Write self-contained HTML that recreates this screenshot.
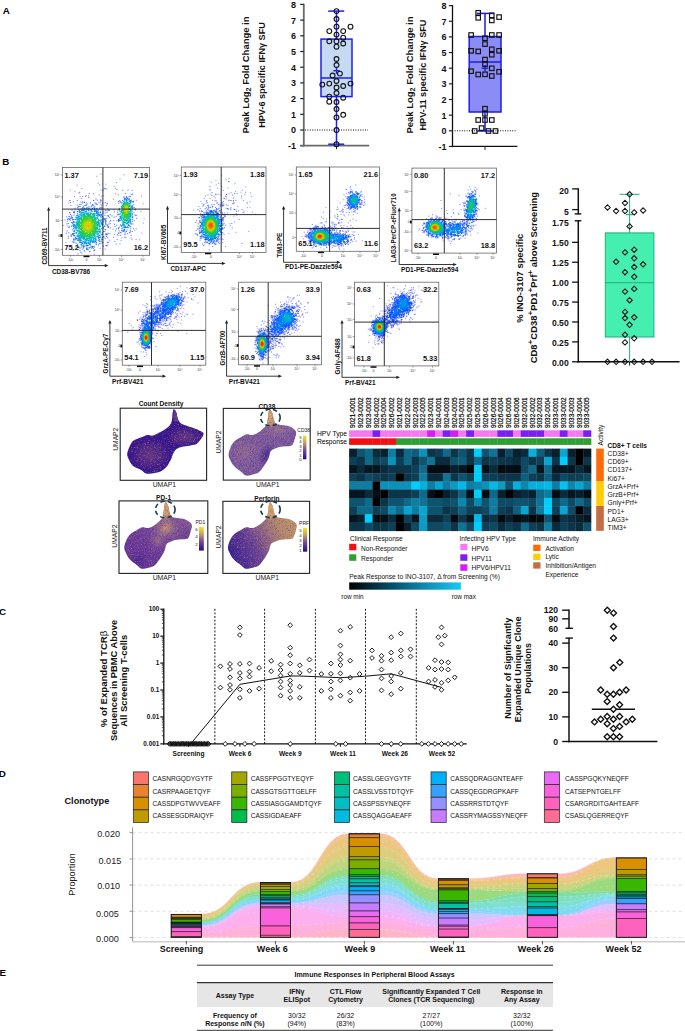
<!DOCTYPE html>
<html><head><meta charset="utf-8"><title>Figure</title>
<style>
html,body{margin:0;padding:0;background:#fff;}
body{width:685px;height:1031px;overflow:hidden;}
svg{display:block;font-family:"Liberation Sans", sans-serif;}
</style></head><body>
<svg width="685" height="1031" viewBox="0 0 685 1031">
<defs><filter id="spk" x="0" y="0" width="100%" height="100%" color-interpolation-filters="sRGB"><feTurbulence type="fractalNoise" baseFrequency="1.7" numOctaves="1" seed="3"/><feColorMatrix type="matrix" values="0 0 0 0 0.86  0 0 0 0 0.6  0 0 0 0 0.4  0 0 0 3 -1.55"/></filter><filter id="spk2" x="0" y="0" width="100%" height="100%" color-interpolation-filters="sRGB"><feTurbulence type="fractalNoise" baseFrequency="1.6" numOctaves="1" seed="9"/><feColorMatrix type="matrix" values="0 0 0 0 0.2  0 0 0 0 0.08  0 0 0 0 0.5  0 0 0 3 -1.55"/></filter><linearGradient id="cbar" x1="0" y1="0" x2="0" y2="1"><stop offset="0" stop-color="#f4e61e"/><stop offset="0.3" stop-color="#c9a064"/><stop offset="0.6" stop-color="#7a4a98"/><stop offset="1" stop-color="#20108a"/></linearGradient><radialGradient id="cdA" cx="0.5" cy="0.5" r="0.5"><stop offset="0" stop-color="#6a3a86" stop-opacity="1"/><stop offset="0.7" stop-color="#48228a" stop-opacity="0.8"/><stop offset="1" stop-color="#3a1890" stop-opacity="0"/></radialGradient><clipPath id="uc1"><path d="M174.4 409.4C175.0 409.8 175.8 411.2 176.4 412.8C177.0 414.4 177.0 417.0 177.8 418.8C178.6 420.6 179.4 422.3 181.1 423.5C182.8 424.7 185.3 425.3 187.8 426.2C190.3 427.1 193.4 427.9 195.9 428.9C198.4 429.9 201.4 431.2 202.6 432.2C203.8 433.2 203.8 433.5 203.3 434.9C202.9 436.2 201.1 438.7 199.9 440.3C198.7 441.9 197.7 443.4 195.9 444.3C194.1 445.2 191.7 445.2 189.2 445.7C186.7 446.1 183.3 446.3 181.1 447.0C178.8 447.7 177.0 448.6 175.7 449.7C174.4 450.8 173.8 452.4 173.1 453.7C172.4 455.0 172.3 456.3 171.7 457.7C171.1 459.1 170.6 460.2 169.7 461.8C168.8 463.4 167.8 465.5 166.3 467.1C164.9 468.7 163.2 470.2 161.0 471.2C158.8 472.2 155.4 472.8 152.9 473.2C150.4 473.6 148.2 474.2 146.2 473.6C144.2 473.0 143.0 471.1 140.8 469.8C138.6 468.5 134.9 467.8 132.8 465.8C130.7 463.8 129.0 459.9 128.1 457.7C127.2 455.5 126.9 454.8 127.4 452.4C128.0 449.9 130.1 445.1 131.4 443.0C132.8 440.9 133.7 440.6 135.5 439.6C137.3 438.6 140.2 437.7 142.2 436.9C144.2 436.1 145.7 435.1 147.5 434.9C149.3 434.7 151.1 435.9 152.9 435.6C154.7 435.3 156.5 433.8 158.3 432.9C160.1 432.0 161.9 431.3 163.7 430.2C165.5 429.1 167.7 427.6 169.0 426.2C170.3 424.8 171.1 423.4 171.7 421.5C172.3 419.6 172.2 416.6 172.4 414.8C172.6 413.0 172.8 411.4 173.1 410.5C173.4 409.6 173.8 409.0 174.4 409.4Z"/></clipPath><linearGradient id="g38" x1="0" y1="0" x2="1" y2="1"><stop offset="0" stop-color="#7e5c9e"/><stop offset="0.6" stop-color="#7a58a0"/><stop offset="1" stop-color="#5a3a96"/></linearGradient><radialGradient id="gold" cx="0.5" cy="0.5" r="0.5"><stop offset="0" stop-color="#c8a070" stop-opacity="0.95"/><stop offset="1" stop-color="#a88090" stop-opacity="0"/></radialGradient><radialGradient id="gtip" cx="0.5" cy="0.4" r="0.6"><stop offset="0" stop-color="#dcaa66" stop-opacity="1"/><stop offset="0.6" stop-color="#d0a070" stop-opacity="0.85"/><stop offset="1" stop-color="#c09080" stop-opacity="0"/></radialGradient><radialGradient id="dark" cx="0.5" cy="0.5" r="0.5"><stop offset="0" stop-color="#3a1a90" stop-opacity="0.9"/><stop offset="1" stop-color="#3a1a90" stop-opacity="0"/></radialGradient><clipPath id="uc2"><path d="M270.4 409.5C271.0 410.1 272.0 412.2 272.6 413.9C273.2 415.6 273.3 418.2 273.9 419.8C274.4 421.4 274.7 422.8 275.9 423.7C277.1 424.6 278.9 424.6 281.1 425.0C283.3 425.4 286.8 425.5 289.0 426.3C291.2 427.1 293.1 428.5 294.3 429.6C295.5 430.7 296.1 431.5 296.2 432.9C296.3 434.3 295.4 436.3 294.9 438.2C294.3 440.1 293.7 442.8 292.9 444.1C292.1 445.4 292.3 445.6 290.3 446.0C288.3 446.4 283.7 446.2 281.1 446.7C278.5 447.1 276.4 447.9 274.6 448.7C272.9 449.5 271.6 449.8 270.6 451.3C269.6 452.8 269.7 455.5 268.6 457.9C267.5 460.3 265.6 463.4 264.0 465.8C262.4 468.2 260.6 470.9 258.8 472.3C257.1 473.7 255.6 473.8 253.5 474.3C251.4 474.9 248.3 475.9 246.3 475.6C244.3 475.3 243.8 473.9 241.7 472.3C239.6 470.7 235.8 468.0 233.8 465.8C231.8 463.6 230.8 461.2 229.9 459.2C229.0 457.2 228.4 456.1 228.6 453.9C228.8 451.7 230.1 448.2 231.2 446.0C232.3 443.8 233.3 442.3 235.1 440.8C236.8 439.3 239.8 437.9 241.7 436.8C243.6 435.7 244.6 434.5 246.3 434.2C248.1 433.9 250.4 435.0 252.2 434.9C253.9 434.8 255.3 434.4 256.8 433.6C258.3 432.8 260.0 431.5 261.4 430.3C262.8 429.1 264.4 427.6 265.4 426.3C266.4 425.0 266.8 424.1 267.3 422.4C267.8 420.6 267.9 417.8 268.2 415.8C268.5 413.8 268.6 411.7 269.0 410.6C269.4 409.6 269.8 408.9 270.4 409.5Z"/></clipPath><linearGradient id="gpd" x1="0" y1="1" x2="0.8" y2="0"><stop offset="0" stop-color="#5a2c98"/><stop offset="0.45" stop-color="#6e3e9c"/><stop offset="1" stop-color="#8a6494"/></linearGradient><clipPath id="uc3"><path d="M166.2 502.4C166.8 503.0 167.8 505.1 168.4 506.8C168.9 508.5 169.1 511.1 169.7 512.7C170.2 514.4 170.5 515.8 171.7 516.7C172.9 517.5 174.7 517.5 176.9 518.0C179.1 518.4 182.6 518.5 184.8 519.3C187.0 520.0 188.9 521.5 190.1 522.6C191.3 523.7 191.9 524.5 192.0 525.9C192.1 527.3 191.2 529.4 190.7 531.2C190.1 533.1 189.5 535.9 188.7 537.2C187.9 538.5 188.1 538.6 186.1 539.1C184.1 539.5 179.5 539.3 176.9 539.8C174.3 540.2 172.1 541.0 170.4 541.8C168.6 542.5 167.4 542.8 166.4 544.4C165.4 545.9 165.5 548.6 164.4 551.0C163.3 553.4 161.4 556.5 159.8 559.0C158.1 561.4 156.3 564.1 154.5 565.5C152.8 566.9 151.3 566.9 149.2 567.5C147.2 568.0 144.0 569.1 142.0 568.8C140.1 568.5 139.5 567.1 137.4 565.5C135.3 563.8 131.5 561.1 129.5 559.0C127.5 556.8 126.5 554.3 125.6 552.3C124.7 550.3 124.1 549.2 124.3 547.0C124.5 544.8 125.8 541.3 126.9 539.1C128.0 536.9 129.1 535.4 130.8 533.8C132.6 532.3 135.5 530.9 137.4 529.8C139.3 528.7 140.3 527.5 142.0 527.2C143.8 526.9 146.2 528.0 147.9 527.9C149.7 527.8 151.0 527.4 152.5 526.6C154.1 525.8 155.7 524.5 157.1 523.3C158.6 522.1 160.2 520.6 161.2 519.3C162.1 518.0 162.6 517.1 163.1 515.4C163.5 513.6 163.7 510.7 164.0 508.7C164.2 506.8 164.4 504.6 164.8 503.5C165.1 502.5 165.6 501.8 166.2 502.4Z"/></clipPath><linearGradient id="gprf" x1="0" y1="0.7" x2="1" y2="0.3"><stop offset="0" stop-color="#2a1890"/><stop offset="0.35" stop-color="#6a4298"/><stop offset="0.65" stop-color="#b08870"/><stop offset="1" stop-color="#c8a068"/></linearGradient><clipPath id="uc4"><path d="M270.6 502.4C271.2 503.0 272.3 505.1 272.8 506.8C273.4 508.5 273.6 511.1 274.2 512.7C274.7 514.4 275.0 515.8 276.2 516.7C277.4 517.5 279.3 517.5 281.5 518.0C283.7 518.4 287.3 518.5 289.6 519.3C291.8 520.0 293.7 521.5 295.0 522.6C296.2 523.7 296.8 524.5 296.9 525.9C297.0 527.3 296.1 529.4 295.6 531.2C295.0 533.1 294.3 535.9 293.5 537.2C292.8 538.5 292.9 538.6 290.9 539.1C288.9 539.5 284.2 539.3 281.5 539.8C278.8 540.2 276.7 541.0 274.9 541.8C273.1 542.5 271.8 542.8 270.8 544.4C269.8 545.9 269.9 548.6 268.8 551.0C267.6 553.4 265.7 556.5 264.1 559.0C262.4 561.4 260.6 564.1 258.8 565.5C257.0 566.9 255.5 566.9 253.4 567.5C251.3 568.0 248.0 569.1 246.0 568.8C244.0 568.5 243.5 567.1 241.4 565.5C239.2 563.8 235.3 561.1 233.3 559.0C231.3 556.8 230.2 554.3 229.3 552.3C228.4 550.3 227.8 549.2 228.0 547.0C228.2 544.8 229.5 541.3 230.7 539.1C231.8 536.9 232.8 535.4 234.6 533.8C236.4 532.3 239.4 530.9 241.4 529.8C243.3 528.7 244.3 527.5 246.0 527.2C247.8 526.9 250.3 528.0 252.1 527.9C253.8 527.8 255.2 527.4 256.7 526.6C258.3 525.8 260.0 524.5 261.4 523.3C262.9 522.1 264.5 520.6 265.5 519.3C266.5 518.0 267.0 517.1 267.4 515.4C267.9 513.6 268.1 510.7 268.4 508.7C268.7 506.8 268.8 504.6 269.2 503.5C269.6 502.5 270.0 501.8 270.6 502.4Z"/></clipPath><linearGradient id="hmleg" x1="0" y1="0" x2="1" y2="0"><stop offset="0" stop-color="#000"/><stop offset="0.5" stop-color="#0a6688"/><stop offset="1" stop-color="#1ac8f4"/></linearGradient></defs>
<rect width="685" height="1031" fill="#fff"/>
<text x="2.8" y="13.93" font-size="9.8" font-weight="bold" text-anchor="start" fill="#000">A</text>
<text x="2.2" y="165.13" font-size="9.8" font-weight="bold" text-anchor="start" fill="#000">B</text>
<text x="-0.9" y="615.23" font-size="9.8" font-weight="bold" text-anchor="start" fill="#000">C</text>
<text x="-1.3" y="777.03" font-size="9.8" font-weight="bold" text-anchor="start" fill="#000">D</text>
<text x="-0.6" y="975.53" font-size="9.8" font-weight="bold" text-anchor="start" fill="#000">E</text>
<line x1="303.8" y1="3.8" x2="303.8" y2="146.4" stroke="#6a6a6a" stroke-width="1.8"/>
<line x1="300.2" y1="145.7" x2="303.8" y2="145.7" stroke="#222" stroke-width="1.2"/>
<text x="296" y="149.15" font-size="9" font-weight="bold" text-anchor="end" fill="#111">-1</text>
<line x1="300.2" y1="130" x2="303.8" y2="130" stroke="#222" stroke-width="1.2"/>
<text x="296" y="133.45" font-size="9" font-weight="bold" text-anchor="end" fill="#111">0</text>
<line x1="300.2" y1="114.3" x2="303.8" y2="114.3" stroke="#222" stroke-width="1.2"/>
<text x="296" y="117.75" font-size="9" font-weight="bold" text-anchor="end" fill="#111">1</text>
<line x1="300.2" y1="98.6" x2="303.8" y2="98.6" stroke="#222" stroke-width="1.2"/>
<text x="296" y="102.05" font-size="9" font-weight="bold" text-anchor="end" fill="#111">2</text>
<line x1="300.2" y1="82.9" x2="303.8" y2="82.9" stroke="#222" stroke-width="1.2"/>
<text x="296" y="86.35" font-size="9" font-weight="bold" text-anchor="end" fill="#111">3</text>
<line x1="300.2" y1="67.2" x2="303.8" y2="67.2" stroke="#222" stroke-width="1.2"/>
<text x="296" y="70.65" font-size="9" font-weight="bold" text-anchor="end" fill="#111">4</text>
<line x1="300.2" y1="51.5" x2="303.8" y2="51.5" stroke="#222" stroke-width="1.2"/>
<text x="296" y="54.95" font-size="9" font-weight="bold" text-anchor="end" fill="#111">5</text>
<line x1="300.2" y1="35.8" x2="303.8" y2="35.8" stroke="#222" stroke-width="1.2"/>
<text x="296" y="39.25" font-size="9" font-weight="bold" text-anchor="end" fill="#111">6</text>
<line x1="300.2" y1="20.1" x2="303.8" y2="20.1" stroke="#222" stroke-width="1.2"/>
<text x="296" y="23.55" font-size="9" font-weight="bold" text-anchor="end" fill="#111">7</text>
<line x1="300.2" y1="4.4" x2="303.8" y2="4.4" stroke="#222" stroke-width="1.2"/>
<text x="296" y="7.85" font-size="9" font-weight="bold" text-anchor="end" fill="#111">8</text>
<line x1="300.3" y1="145.7" x2="369.2" y2="145.7" stroke="#6a6a6a" stroke-width="1.8"/>
<line x1="336.5" y1="145.7" x2="336.5" y2="149.2" stroke="#222" stroke-width="1"/>
<line x1="305" y1="130" x2="368" y2="130" stroke="#111" stroke-width="1" stroke-dasharray="1,1.4"/>
<rect x="321" y="39.1" width="31" height="57.5" fill="#c6daf5" stroke="#1f1ff5" stroke-width="1.5"/>
<line x1="321" y1="78" x2="352" y2="78" stroke="#1f1ff5" stroke-width="1.5"/>
<line x1="336.5" y1="11.1" x2="336.5" y2="39.1" stroke="#1f1ff5" stroke-width="1.5"/>
<line x1="336.5" y1="96.6" x2="336.5" y2="144.2" stroke="#1f1ff5" stroke-width="1.5"/>
<line x1="328.2" y1="11.1" x2="344.2" y2="11.1" stroke="#1f1ff5" stroke-width="1.5"/>
<line x1="328.2" y1="144.2" x2="344.2" y2="144.2" stroke="#1f1ff5" stroke-width="1.5"/>
<line x1="333.3" y1="70.7" x2="339.7" y2="70.7" stroke="#1f1ff5" stroke-width="1.4"/>
<line x1="336.5" y1="67.5" x2="336.5" y2="73.9" stroke="#1f1ff5" stroke-width="1.4"/>
<g fill="none" stroke="#111" stroke-width="1.1"><circle cx="336.5" cy="11.1" r="2.4"/><circle cx="336.5" cy="19" r="2.4"/><circle cx="336.5" cy="26.7" r="2.4"/><circle cx="350.5" cy="26.7" r="2.4"/><circle cx="329.3" cy="31.1" r="2.4"/><circle cx="343.2" cy="31.1" r="2.4"/><circle cx="336.5" cy="34.6" r="2.4"/><circle cx="343.2" cy="37.7" r="2.4"/><circle cx="329.3" cy="41.3" r="2.4"/><circle cx="336.5" cy="41.3" r="2.4"/><circle cx="343.2" cy="43.5" r="2.4"/><circle cx="336.5" cy="46.7" r="2.4"/><circle cx="336.5" cy="59" r="2.4"/><circle cx="336.5" cy="65" r="2.4"/><circle cx="339.9" cy="73.6" r="2.4"/><circle cx="332.6" cy="75.5" r="2.4"/><circle cx="336.5" cy="81" r="2.4"/><circle cx="322.3" cy="84.6" r="2.4"/><circle cx="329.3" cy="83.6" r="2.4"/><circle cx="350.5" cy="83.6" r="2.4"/><circle cx="336.5" cy="87.5" r="2.4"/><circle cx="343.2" cy="86" r="2.4"/><circle cx="336.5" cy="93" r="2.4"/><circle cx="329.3" cy="96.6" r="2.4"/><circle cx="343.2" cy="97.7" r="2.4"/><circle cx="329.3" cy="101.7" r="2.4"/><circle cx="336.5" cy="102" r="2.4"/><circle cx="336.5" cy="109" r="2.4"/><circle cx="343.2" cy="114.8" r="2.4"/><circle cx="336.5" cy="117.4" r="2.4"/><circle cx="336.5" cy="130" r="2.4"/><circle cx="336.5" cy="144.2" r="2.4"/></g>
<text transform="translate(245.6,75) rotate(-90)" x="0" y="3.29" font-size="9.4" font-weight="bold" text-anchor="middle" fill="#111" textLength="117" lengthAdjust="spacingAndGlyphs">Peak Log<tspan font-size="7" dy="2">2</tspan><tspan dy="-2"> Fold Change in</tspan></text>
<text transform="translate(261.3,75) rotate(-90)" x="0" y="3.29" font-size="9.4" font-weight="bold" text-anchor="middle" fill="#111" textLength="105.6" lengthAdjust="spacingAndGlyphs">HPV-6 specific IFN&#947; SFU</text>
<line x1="452.5" y1="5" x2="452.5" y2="147.15" stroke="#111" stroke-width="1.3"/>
<line x1="448.9" y1="146.45" x2="452.5" y2="146.45" stroke="#222" stroke-width="1.2"/>
<text x="446.6" y="149.9" font-size="9" font-weight="bold" text-anchor="end" fill="#111">-1</text>
<line x1="448.9" y1="130.8" x2="452.5" y2="130.8" stroke="#222" stroke-width="1.2"/>
<text x="446.6" y="134.25" font-size="9" font-weight="bold" text-anchor="end" fill="#111">0</text>
<line x1="448.9" y1="115.15" x2="452.5" y2="115.15" stroke="#222" stroke-width="1.2"/>
<text x="446.6" y="118.6" font-size="9" font-weight="bold" text-anchor="end" fill="#111">1</text>
<line x1="448.9" y1="99.5" x2="452.5" y2="99.5" stroke="#222" stroke-width="1.2"/>
<text x="446.6" y="102.95" font-size="9" font-weight="bold" text-anchor="end" fill="#111">2</text>
<line x1="448.9" y1="83.85" x2="452.5" y2="83.85" stroke="#222" stroke-width="1.2"/>
<text x="446.6" y="87.3" font-size="9" font-weight="bold" text-anchor="end" fill="#111">3</text>
<line x1="448.9" y1="68.2" x2="452.5" y2="68.2" stroke="#222" stroke-width="1.2"/>
<text x="446.6" y="71.65" font-size="9" font-weight="bold" text-anchor="end" fill="#111">4</text>
<line x1="448.9" y1="52.55" x2="452.5" y2="52.55" stroke="#222" stroke-width="1.2"/>
<text x="446.6" y="56" font-size="9" font-weight="bold" text-anchor="end" fill="#111">5</text>
<line x1="448.9" y1="36.9" x2="452.5" y2="36.9" stroke="#222" stroke-width="1.2"/>
<text x="446.6" y="40.35" font-size="9" font-weight="bold" text-anchor="end" fill="#111">6</text>
<line x1="448.9" y1="21.25" x2="452.5" y2="21.25" stroke="#222" stroke-width="1.2"/>
<text x="446.6" y="24.7" font-size="9" font-weight="bold" text-anchor="end" fill="#111">7</text>
<line x1="448.9" y1="5.6" x2="452.5" y2="5.6" stroke="#222" stroke-width="1.2"/>
<text x="446.6" y="9.05" font-size="9" font-weight="bold" text-anchor="end" fill="#111">8</text>
<line x1="451.8" y1="146.45" x2="517.4" y2="146.45" stroke="#111" stroke-width="1.3"/>
<line x1="485" y1="146.45" x2="485" y2="149.95" stroke="#222" stroke-width="1"/>
<line x1="454.6" y1="130.8" x2="516" y2="130.8" stroke="#111" stroke-width="1" stroke-dasharray="1,1.4"/>
<rect x="469.2" y="36.5" width="31.8" height="75.5" fill="#8c8cf6" stroke="#1d1de8" stroke-width="1.5"/>
<line x1="469.2" y1="62" x2="501" y2="62" stroke="#1d1de8" stroke-width="1.5"/>
<line x1="485" y1="13.4" x2="485" y2="36.5" stroke="#1d1de8" stroke-width="1.5"/>
<line x1="485" y1="112" x2="485" y2="131" stroke="#1d1de8" stroke-width="1.5"/>
<line x1="476.8" y1="13.4" x2="493.7" y2="13.4" stroke="#1d1de8" stroke-width="1.5"/>
<line x1="477.2" y1="131" x2="493.3" y2="131" stroke="#1d1de8" stroke-width="1.5"/>
<line x1="481.8" y1="68.3" x2="488.2" y2="68.3" stroke="#1d1de8" stroke-width="1.4"/>
<line x1="485" y1="65.1" x2="485" y2="71.5" stroke="#1d1de8" stroke-width="1.4"/>
<g fill="none" stroke="#111" stroke-width="1.15"><rect x="475.95" y="10.55" width="4.5" height="4.5"/><rect x="475.95" y="15.55" width="4.5" height="4.5"/><rect x="489.55" y="13.05" width="4.5" height="4.5"/><rect x="489.55" y="18.15" width="4.5" height="4.5"/><rect x="496.85" y="14.85" width="4.5" height="4.5"/><rect x="468.85" y="32.75" width="4.5" height="4.5"/><rect x="482.75" y="35.95" width="4.5" height="4.5"/><rect x="489.55" y="32.75" width="4.5" height="4.5"/><rect x="496.85" y="32.75" width="4.5" height="4.5"/><rect x="482.75" y="41.85" width="4.5" height="4.5"/><rect x="468.85" y="48.55" width="4.5" height="4.5"/><rect x="475.95" y="49.15" width="4.5" height="4.5"/><rect x="489.55" y="47.05" width="4.5" height="4.5"/><rect x="489.55" y="52.45" width="4.5" height="4.5"/><rect x="496.85" y="48.55" width="4.5" height="4.5"/><rect x="482.75" y="57.35" width="4.5" height="4.5"/><rect x="482.75" y="61.95" width="4.5" height="4.5"/><rect x="489.55" y="66.05" width="4.5" height="4.5"/><rect x="468.85" y="68.95" width="4.5" height="4.5"/><rect x="496.85" y="69.55" width="4.5" height="4.5"/><rect x="475.95" y="72.25" width="4.5" height="4.5"/><rect x="482.75" y="72.05" width="4.5" height="4.5"/><rect x="489.55" y="73.75" width="4.5" height="4.5"/><rect x="482.75" y="106.45" width="4.5" height="4.5"/><rect x="482.75" y="111.55" width="4.5" height="4.5"/><rect x="475.95" y="117.75" width="4.5" height="4.5"/><rect x="482.75" y="117.75" width="4.5" height="4.5"/><rect x="489.55" y="117.75" width="4.5" height="4.5"/><rect x="479.35" y="125.85" width="4.5" height="4.5"/><rect x="472.45" y="128.75" width="4.5" height="4.5"/><rect x="486.25" y="128.75" width="4.5" height="4.5"/><rect x="493.25" y="128.75" width="4.5" height="4.5"/></g>
<text transform="translate(409.9,75) rotate(-90)" x="0" y="3.29" font-size="9.4" font-weight="bold" text-anchor="middle" fill="#111" textLength="117" lengthAdjust="spacingAndGlyphs">Peak Log<tspan font-size="7" dy="2">2</tspan><tspan dy="-2"> Fold Change in</tspan></text>
<text transform="translate(422.7,75) rotate(-90)" x="0" y="3.29" font-size="9.4" font-weight="bold" text-anchor="middle" fill="#111" textLength="111" lengthAdjust="spacingAndGlyphs">HPV-11 specific IFN&#947; SFU</text>
<rect x="62.4" y="167.5" width="87.2" height="87.8" fill="#fff" stroke="#666" stroke-width="0.8"/>
<path d="M75.2 173.1h.1m25.6 .9h.1m22.9 .8h.1m-27.1 1.5h.1m23 2.8h.1m-21.9 4h.1m18.2-.5h.1m-10.9 1.6h.1m-28.7 1h.1m36.9 1.4h.1m1.3 1.7h.1m-33.7 .2h.1m-11.8 1.6h.1m4.6 1.2h.1m66.6 4.9h.1m-72.1 4.5h.1m73.3 3.2h.1m-2.2 7.7h.1m3.1 7.2h.1m-.9 4.3h.1m-7.2 5.6h.1m5.5 4.4h.1m-5.8 6.2h.1m-4.4 .3h.1m7.6 .2h.1m-73.3 6.5h.1" stroke="#161ffa" stroke-width="1.0" stroke-linecap="square" stroke-opacity="0.50"/>
<path d="M99.7 184.9h.1m5 3.3h.1m-.9 .4h.1m1.1 .2h.1m1.4 .1h.1m10.1 .6h.1m-16 .5h.1m2.3 .3h.1m24.5-.3h.1m-5.4 .5h.1m9.3 .1h.1m-52.7 1.7h.1m-.8 .9h.1m10.4 .2h.1m4.1 .4h.1m21.7 0h.1m17.3 .2h.1m-33.8 .9h.1m19-.2h.1m-32.8 1.6h.1m.6-.6h.1m2.3 .2h.1m12.6 .3h.1m2.3-.4h.1m-29.4 .9h.1m5.8 .1h.1m2.3-.2h.1m6 .9h.1m-7.1 .9h.1m31.5 .8h.1m-12.8 1h.1m0-.3h.1m35.4 .4h.1m-66.3 .2h.1m7.2 0h.1m-4.1 1.3h.1m31.7 .6h.1m-36.4 .7h.1m1.5-.5h.1m36.4 .9h.1m.3 .5h.1m-36.5 1.5h.1m64.6 4.6h.1m.6 5.3h.1m-.8 .3h.1m-69.3 1.1h.1m70 1.6h.1m-71.6 1.7h.1m-1.5 5.3h.1m69.8 3.2h.1m1.2 1.5h.1m-2.6 1.4h.1m-17.9 2.8h.1m2.7 .4h.1m.4 1h.1m13.3-.1h.1m-17.8 1.7h.1m8.2 .6h.1m3.9-.2h.1m5.2 .3h.1m-21.5 2.2h.1m7.5-.6h.1m3.7 .8h.1m-6.4 1h.1m-6.9 .6h.1m-42.2 .8h.1m41.5-.2h.1m.4 0h.1m8.1 1.3h.1m3.7-.1h.1m-14.4 1.6h.1m1.9-.3h.1m-1.2 .9h.1m-.1-.5h.1m-34.6 3.5h.1m32.9 .1h.1m-32.2 1.4h.1m8.7 2.5h.1m-3.9 .8h.1m16.1 .4h.1" stroke="#112dfb" stroke-width="1.0" stroke-linecap="square" stroke-opacity="0.58"/>
<path d="M125.6 193.7h.1m5.1 .5h.1m1 .6h.1m-36.1 4.2h.1m-2.3 1.3h.1m3.6-.1h.1m-4.1 .4h.1m7.6 .2h.1m18.4-.1h.1m13.8 .5h.1m-52.6 .9h.1m1.5-.4h.1m16.3 .6h.1m1.5-.4h.1m17.8-.4h.1m14.6 0h.1m-50.7 1.3h.1m12.2 .1h.1m1.1 .5h.1m6.3-.4h.1m16.1 .2h.1m-18.6 .9h.1m-23.1 .9h.1m24.3 0h.1m4.5 .5h.1m1.3 3.5h.1m27.6-.1h.1m-63.4 1.3h.1m34 0h.1m1.8 .2h.1m.9 .1h.1m.2-.6h.1m4.6 0h.1m20.7-.3h.1m-29.7 1h.1m1.8 1.5h.1m7-.1h.1m-44.9 .9h.1m.4-.3h.1m40.2 2h.1m24.7 .4h.1m-66.2 1.3h.1m39.4-.6h.1m3.4 .2h.1m4.1 .5h.1m-46.7 .3h.1m38.9-.1h.1m1 .7h.1m4.3-.2h.1m-46.5 2.4h.1m-.1-.4h.1m.9-.5h.1m42 1.9h.1m-43.2 .7h.1m46-.6h.1m20.3 .2h.1m-24.4 1h.1m-43.3 2.1h.1m43.5-.3h.1m4.1 .7h.1m18.6-.3h.1m-16.5 1.1h.1m-49.1 .9h.1m47.1 .5h.1m-4.6 1.4h.1m2.6 1.2h.1m3.3-.2h.1m13.6 1.3h.1m-63.2 .8h.1m48.2-.1h.1m3.7 0h.1m11.3 .3h.1m-.7 1.2h.1m-63.6 .9h.1m41.6 0h.1m10.1-.2h.1m.3 .2h.1m1.3-.8h.1m9.1 .3h.1m-19.6 .9h.1m15.8 .4h.1m1.7-.5h.1m-7.3 1.7h.1m-52.2 .9h.1m56.2 1h.1m-56.5 .9h.1m39.3-.3h.1m-4.3 8.5h.1m-3.4 2h.1m-6.2 1.9h.1m.6-.4h.1m-14.9 .7h.1m4.2 .3h.1m.4 .1h.1m4.9 .5h.1m4.4-.8h.1m-13.6 1.6h.1m9-.4h.1" stroke="#0b3afc" stroke-width="1.0" stroke-linecap="square" stroke-opacity="0.67"/>
<path d="M124 196.8h.1m5-.3h.1m1.1 .1h.1m-10.2 4.8h.1m-36.1 1h.1m.2-.1h.1m48.3-.7h.1m.1 .7h.1m-47 .5h.1m4.1 .1h.1m29.8-.2h.1m-39.4 1.6h.1m5.9-.3h.1m8.9 .2h.1m1 .2h.1m-17.4 .2h.1m12.8-.1h.1m40.9 .4h.1m-55 1.3h.1m-.3 .7h.1m1.3-.4h.1m20 1h.1m1.3-.3h.1m32.6 .3h.1m-59.2 .8h.1m2.3-.6h.1m22.1 .8h.1m1.9-.3h.1m-1.8 1h.1m.9 .8h.1m16.9 .1h.1m-43.4 1h.1m-1.3 .8h.1m30.2 .2h.1m13.4 .1h.1m-43.9 .4h.1m32.3 .3h.1m27.9-.1h.1m-63.5 1.8h.1m34.1 .6h.1m13-.5h.1m-46.1 1h.1m35.2 .1h.1m-35.7 1h.1m-1.5 1.7h.1m.8-.4h.1m0-.1h.1m-1.7 1.5h.1m37.2-.8h.1m-36.6 1.5h.1m35.7 1h.1m10.8-.5h.1m-48.9 2.8h.1m40.5 .6h.1m-1.8 .9h.1m.2 .3h.1m.8 1h.1m-39.7 1.1h.1m.7-.5h.1m38.4-.3h.1m11.2 .6h.1m-11.2 .3h.1m10 .5h.1m12.3 .2h.1m-12.3 .6h.1m6.5 3.3h.1m1.3-.6h.1m-57.8 1.2h.1m52.2 0h.1m-15.3 .9h.1m0 .8h.1m1.2-.2h.1m17.1 0h.1m-18.7 .8h.1m.7-.4h.1m-35.7 1.5h.1m0-.1h.1m35.1 .5h.1m-1.4 1.9h.1m-2.6 1.2h.1m-29.9 1.8h.1m1-.5h.1m.9 1.4h.1m26.7-.5h.1m.9 .7h.1m-29.6 .1h.1m26 1h.1m1.4 0h.1m-2.6 1.4h.1m-21.4 1.7h.1m1.2 .7h.1m1.3-.2h.1m-1.4 .4h.1m1.5 .6h.1m3.2-.1h.1m8.2 .2h.1m1.8 0h.1m-11.4 .8h.1m4.3 .3h.1m.3-.4h.1m.3 .2h.1m.7 .7h.1" stroke="#0648fd" stroke-width="1.0" stroke-linecap="square" stroke-opacity="0.75"/>
<path d="M126.5 196.6h.1m-2.7 1h.1m-1.5 2.8h.1m8.8-.2h.1m-46.7 5.2h.1m1.1-.2h.1m0 0h.1m6.2 0h.1m-9.2 1.1h.1m8.3-.2h.1m2-.3h.1m-2.7 1h.1m3.4 .1h.1m37.8 .3h.1m-13.4 1.2h.1m-41.7 1.1h.1m1.3-.2h.1m17-.8h.1m1.2 .4h.1m.6 1.4h.1m-24.1 2h.1m26-.4h.1m0 .5h.1m-25.9 .4h.1m28 .5h.1m-28.7 1.8h.1m43.9-.4h.1m-15.3 2.3h.1m29.8-.2h.1m-60.5 1.1h.1m.1-.1h.1m30.9 .6h.1m1.4 .1h.1m27.4-.9h.1m-28.2 1.4h.1m27.9 .2h.1m-28.7 .8h.1m.1-.4h.1m1.3 .2h.1m12.9-.2h.1m-13 1.2h.1m12.9-.2h.1m13.5 .6h.1m-27 .5h.1m13.2-.1h.1m-13.1 1.1h.1m25.3 .7h.1m-25.4 .6h.1m.1 0h.1m25.2 .2h.1m-26.7 1.9h.1m.2 .1h.1m25.2 .5h.1m-24.7 2.8h.1m16.1 .7h.1m4.9-.2h.1m-22 1.2h.1m16.9-.4h.1m.5 .3h.1m1.1-.1h.1m.1 0h.1m.1-.2h.1m-53 3.9h.1m32.3 2.2h.1m.1-.1h.1m-1.5 .7h.1m-28.6 1.3h.1m27.4 .1h.1m-27.9 .7h.1m1.4 .2h.1m26.6-.1h.1m-1.2 1.4h.1m-1.2 .4h.1m-23.5 1.9h.1m1.3 1.1h.1m18.5 0h.1m-14.4 1h.1m1.3 1h.1m8.3-.3h.1m-10.1 .8h.1m2-.5h.1m-.1 .7h.1m6.6-.1h.1m1.6 0h.1m0 .1h.1m0-.6h.1m1.1 0h.1m.7 .4h.1m-8.1 1.3h.1m.5-.4h.1m2.1-.2h.1m-.1 .3h.1" stroke="#0155fe" stroke-width="1.0" stroke-linecap="square" stroke-opacity="0.83"/>
<path d="M125.1 198.4h.1m1.2-.5h.1m.6-.1h.1m.2 .6h.1m-3 .6h.1m.5-.2h.1m3.7 .7h.1m-.1-.9h.1m.2 .5h.1m1.1 1.5h.1m.2 .4h.1m0 .5h.1m-9.4 1.4h.1m9.2-.3h.1m1.3 3.7h.1m-.1-.6h.1m-43.5 1.3h.1m-6.8 1.4h.1m.5-.1h.1m.1-.7h.1m1.1 .5h.1m.6 .4h.1m2.1-1h.1m2 .7h.1m3.2 .3h.1m1.2-.7h.1m38.7 .2h.1m-51.8 1.2h.1m11.4-.6h.1m1.9 .9h.1m0-.8h.1m-.1 .3h.1m38.2-.2h.1m-36.9 1.3h.1m.1-.1h.1m23.2-.4h.1m-40.4 1.9h.1m.2-.9h.1m16.6 .4h.1m1 .2h.1m22.2-.2h.1m-42.1 .5h.1m20.3 0h.1m-.1 1h.1m.2 .2h.1m1.7 .4h.1m1 1.2h.1m17.7-.4h.1m13.1-.3h.1m-31.2 1.7h.1m0-.4h.1m-.1 .1h.1m31-.3h.1m-30.1 1.7h.1m-1.1 .9h.1m30.7 0h.1m-29.6 1.9h.1m16.6-.2h.1m-46.9 .7h.1m.5 .1h.1m.6-.3h.1m28.1 .2h.1m16.9 .3h.1m-.1 .3h.1m-16 1h.1m16.4-.7h.1m-16.6 1.2h.1m27.6 .3h.1m-59 .4h.1m.1 .1h.1m58 .5h.1m-57.6 .7h.1m47.7 1.1h.1m-49 1.4h.1m57.8-.5h.1m-26.1 1.9h.1m18.4 .7h.1m5.4-.7h.1m.8-.1h.1m-24.5 1.4h.1m20.5 .3h.1m-52.3 .5h.1m51.5-.1h.1m.3 .1h.1m-20.8 1.7h.1m-1.2 1.4h.1m-30 1.3h.1m0-.1h.1m0-.4h.1m.4 0h.1m28.3 .8h.1m-28.4 .5h.1m28.7-.5h.1m-28.5 1.1h.1m.4 .1h.1m25.8 1.3h.1m.3 0h.1m-25.3 .7h.1m-.1 .2h.1m-.5 1.3h.1m2.2 1h.1m21.2 .1h.1m.5-.4h.1m.1-.1h.1m-3.3 2.7h.1m-.2 .6h.1m-15 1.1h.1m-.1 .7h.1m2.5 0h.1m2.4 .3h.1m1 .2h.1m.8-.1h.1m1.9-.4h.1m-6.9 1h.1m1.3 0h.1m1.8 .1h.1m.3-.4h.1m.1-.1h.1" stroke="#0068f9" stroke-width="1.0" stroke-linecap="square" stroke-opacity="0.92"/>
<path d="M126 199.2h.1m-1.8 .6h.1m1.5-.3h.1m.9 0h.1m-3.7 1.9h.1m6-.5h.1m1 1.8h.1m.9 4.4h.1m-45 1.3h.1m1.5 .1h.1m-4.4 .5h.1m1.8 .5h.1m1.1-.2h.1m1.7-.2h.1m1.9 .3h.1m-9.3 .9h.1m.3 .1h.1m1-.8h.1m1 .6h.1m6.4-.5h.1m.3 0h.1m40.6 .5h.1m-49.9 .8h.1m.6-.4h.1m.5-.1h.1m11.2 .5h.1m-.1 .3h.1m.1-.3h.1m.2 .1h.1m1.1 .3h.1m-16.4 .1h.1m16.5 .8h.1m35.3-.5h.1m-52.8 .7h.1m17 .4h.1m.2 0h.1m1.1 .6h.1m-20.6 .3h.1m19.9 .1h.1m.8 .6h.1m.8 0h.1m20.6-.1h.1m-42.9 .9h.1m-.2 .4h.1m22.1-.1h.1m.3-.1h.1m32.1 .4h.1m-55.9 1.2h.1m24.3-.3h.1m.5 3.4h.1m29.6-.6h.1m-.6 1.3h.1m-56.8 .9h.1m.4-.2h.1m-.9 1.2h.1m28.1 .1h.1m.5 .6h.1m.5-.8h.1m-.8 1.7h.1m.2-.7h.1m-28.8 1h.1m.1 .6h.1m28.3-.3h.1m.2 0h.1m.2-.5h.1m18.4 1h.1m7.2 0h.1m0-.1h.1m.1 .1h.1m-56 .4h.1m.5 .5h.1m53.9-.2h.1m-24.7 1h.1m18.7-.7h.1m2.7 .9h.1m1.5 0h.1m-52.7 .7h.1m49.5-.4h.1m1.6 0h.1m.4-.2h.1m.5 .1h.1m-24.3 1h.1m-28 2.5h.1m.2 0h.1m.1 .6h.1m-.2 1.7h.1m26.4-.4h.1m-.9 2.2h.1m-25.2 .8h.1m24.6 1.5h.1m-23.6 .7h.1m.4 .3h.1m21.6-.7h.1m-21.4 1.3h.1m21.7-.5h.1m-20.1 1.6h.1m17.2 .1h.1m-18.1 .3h.1m1 .2h.1m16 .4h.1m.5 0h.1m-16.5 .9h.1m.3 .2h.1m.2 .2h.1m.3-.6h.1m.9 .5h.1m12.1 0h.1m.2-.2h.1m1.1-.6h.1m-14.3 1h.1m1.3 .5h.1m-.3 .7h.1m.5-.2h.1m6.7 .7h.1m.2-.7h.1m.1 .5h.1m-3.4 .9h.1" stroke="#007df1" stroke-width="1.0" stroke-linecap="square" stroke-opacity="1.00"/>
<path d="M127.7 200.3h.1m-3.3 .8h.1m1.8-.6h.1m2.8 1.1h.1m1.2 2.4h.1m-9.4 2.3h.1m9.7-.3h.1m0 .4h.1m-43.1 3.6h.1m.3 .5h.1m2.7-.2h.1m-6.4 1h.1m1-.3h.1m2.5-.3h.1m2.2 .3h.1m0-.1h.1m1.1 .4h.1m-11.6 1h.1m.1 0h.1m12.9-.7h.1m-12.4 1h.1m14.3 .6h.1m24.1-.1h.1m-41.3 1.3h.1m17.8-.3h.1m-19.5 1.2h.1m19.3 .2h.1m-19.9 .4h.1m20 0h.1m.5 .1h.1m-.1-.1h.1m22.1 .5h.1m-.2 .6h.1m0 .1h.1m.2-.5h.1m-44.5 1.1h.1m.5 .1h.1m.5-.3h.1m53.1 .5h.1m-10.3 .5h.1m9.9 .9h.1m-55.2 .1h.1m.8 .2h.1m23.4 .6h.1m.5-.1h.1m20.2 0h.1m9.6-.4h.1m-29.5 1h.1m28.8-.2h.1m-.1 .6h.1m.1 .2h.1m-29.9 .7h.1m.8-.4h.1m27.9 .6h.1m-54.4 .4h.1m26.3 .5h.1m27 1.3h.1m-54 .8h.1m.2-.7h.1m.2 .9h.1m47.6-.9h.1m-.1 .5h.1m1.2 1.3h.1m1-.2h.1m-50.2 .5h.1m50.5 .2h.1m-50.8 .7h.1m-.8 1.2h.1m.4 1.5h.1m25.3 .2h.1m-.5 1.5h.1m.3-.1h.1m-.1-.3h.1m-24.1 1.7h.1m.9 2.9h.1m.1-.3h.1m.1-.1h.1m20.4 .1h.1m.6 0h.1m.8-.4h.1m-1.7 1h.1m.1 .6h.1m.1 .2h.1m-20.4 1h.1m0 .3h.1m.1 .4h.1m1.1 0h.1m.4 .4h.1m15.4-.4h.1m-16.5 .8h.1m.9 .3h.1m.2 .4h.1m-.1-.4h.1m13.8 .1h.1m1.4-.7h.1m-.1 .1h.1m-15 1h.1m11.5 .8h.1m-10.2 .5h.1m1.1-.3h.1m.4 .5h.1m.5-.1h.1m.9 .2h.1m4.4 0h.1m.3 .2h.1m1.7 0h.1m1-.9h.1m.2 .2h.1m-9.7 1.3h.1m.2 .1h.1m.1-.3h.1m.2 0h.1m.5 .5h.1m-.1-.2h.1m.8 .4h.1m.8-.6h.1m.9 .5h.1m-.1-.5h.1m.2 .2h.1m.5 0h.1" stroke="#0092e9" stroke-width="1.0" stroke-linecap="square" stroke-opacity="1.00"/>
<path d="M125.9 201h.1m-3 2h.1m.1 0h.1m6.3 .4h.1m-7.6 1.5h.1m8.7 2.7h.1m0 .2h.1m-.4 1.4h.1m-45.3 2.3h.1m.9-.4h.1m-3.6 1.3h.1m.1 0h.1m1.1-.4h.1m1.1 .1h.1m0-.2h.1m35-.3h.1m10.2 .5h.1m-50.1 1.3h.1m1.1-.7h.1m.8 .3h.1m10.3 .3h.1m37 .1h.1m-50.2 1h.1m.3-.4h.1m12.1-.4h.1m.6 .3h.1m.3-.1h.1m.1-.3h.1m.7 .5h.1m35.4 .1h.1m-.1-.1h.1m-34.4 1.3h.1m33.8 .2h.1m-52 .6h.1m.6 .1h.1m51.2-.5h.1m-51.8 .9h.1m0 .6h.1m41.9 .2h.1m9.4-.8h.1m-33.4 1.1h.1m0 .2h.1m23.5 .5h.1m.1-.3h.1m-44.2 .5h.1m.6 .5h.1m19.9-.5h.1m.6 .6h.1m-21.3 .4h.1m21.3 .7h.1m-.1-.6h.1m22.9 .4h.1m7.6-.4h.1m0 .6h.1m-.8 .9h.1m-52.4 .7h.1m0 .6h.1m52-.1h.1m-52.2 .3h.1m46.1 .3h.1m4.8 .4h.1m.3-.4h.1m.2-.1h.1m-29 1h.1m.3 .1h.1m24.2 .5h.1m3.2-.9h.1m-51.7 1.7h.1m23.7-.1h.1m.4 .1h.1m23.2-.5h.1m.2-.2h.1m.2 .7h.1m-48.5 .6h.1m24.4 .5h.1m.1 .1h.1m23.8-.9h.1m.7 .1h.1m-49.7 1.3h.1m0 .1h.1m.1 .4h.1m23.7-.5h.1m-24 .6h.1m-.1 .1h.1m.1 1h.1m.3 .7h.1m24-.3h.1m-24.3 3.2h.1m23.6-.7h.1m-23.4 1.3h.1m.5-.1h.1m20.9 .6h.1m.7-.4h.1m-1.3 1.3h.1m.2-.3h.1m-20.4 1.5h.1m.3-.7h.1m20.1 .1h.1m-20.7 .8h.1m.2 .8h.1m.8 .3h.1m17.6-.1h.1m-17.7 .9h.1m0 .2h.1m.6 .1h.1m.1-.1h.1m.4 .4h.1m14.1 .3h.1m.9-.8h.1m-15.9 .8h.1m1 .9h.1m12.3 0h.1m.3-.4h.1m1.9-.4h.1m-14 1.8h.1m9.7-.2h.1m1.8-.4h.1m0 .3h.1m-8.4 1.3h.1m.1 0h.1m3.9-.4h.1m1-.2h.1m.1 0h.1m.1 0h.1m.4 .5h.1m.5-.7h.1m-5.6 1.5h.1m1.7-.3h.1m1.8-.2h.1" stroke="#00a7e2" stroke-width="1.0" stroke-linecap="square" stroke-opacity="1.00"/>
<path d="M126.4 201.7h.1m1.4 .4h.1m-3.6 .5h.1m-1 1.1h.1m5.5 .1h.1m.6 1.6h.1m-8.1 2h.1m.2-.5h.1m8.3 2h.1m-8.9 1.5h.1m8.8 .1h.1m0-.1h.1m-9.4 .9h.1m-.1 0h.1m-32.7 1h.1m32.6-.3h.1m-37.2 1.3h.1m.4 .1h.1m1.2-.1h.1m.7-.1h.1m.3-.2h.1m2.5 0h.1m.2-.2h.1m.4 .6h.1m39.2-.1h.1m-47.5 .9h.1m.9 0h.1m7.9-.5h.1m.3 .7h.1m1-.4h.1m0 0h.1m36.9 .5h.1m-49.4 .9h.1m0-.3h.1m.2 .1h.1m.6-.4h.1m10.5-.3h.1m1.2 0h.1m.7 .9h.1m-14.9 .7h.1m14.2-.4h.1m.3 0h.1m26.4-.2h.1m8.3 .9h.1m-50.3 .4h.1m41.8 .4h.1m0 0h.1m7.9 .1h.1m-50.8 .4h.1m0 .2h.1m0 .5h.1m16.8-.8h.1m33.2 .5h.1m-51 1.3h.1m.4-.3h.1m0 0h.1m42.6 .1h.1m.3-.4h.1m-44.4 1.3h.1m-.5 .9h.1m21.1 0h.1m24.2 .3h.1m-25.1 .3h.1m.3 .3h.1m.1-.2h.1m.4 .7h.1m28.8-.4h.1m.3-.5h.1m-51.3 1.9h.1m.2 0h.1m-.1 .1h.1m21.2-.7h.1m.4 .4h.1m24.1-.2h.1m.1-.1h.1m.4 .5h.1m2.1-.4h.1m.1 .5h.1m-.1-.2h.1m.8-.3h.1m-50.2 .7h.1m21.2 .7h.1m-.1-.9h.1m27.9 .4h.1m-50 .8h.1m.1 .6h.1m21.8-.5h.1m.1 .6h.1m-22.4 .9h.1m.2 .3h.1m22.4 0h.1m-22.9 1.5h.1m.2-.3h.1m0 .3h.1m22.1 1.1h.1m-.1-.1h.1m0-.2h.1m-22.7 1.6h.1m21.9-.9h.1m-21.4 1.3h.1m20.8 .2h.1m.3 .1h.1m-1 .7h.1m-19.3 1.4h.1m18.2 .9h.1m-17.8 .6h.1m-.3 .8h.1m.2 0h.1m0 .6h.1m.4 0h.1m.2-.3h.1m14.9 .4h.1m-15.1 1h.1m.2-.1h.1m13.2 .3h.1m-12.4 .2h.1m.2 .3h.1m.9 .4h.1m11.1-.5h.1m-10.5 1h.1m7.5 .5h.1m.5-.6h.1m1.2-.1h.1m-9.7 1h.1m1.2 .4h.1m.1-.4h.1m.6-.1h.1m.2 .4h.1m.2 .2h.1m.1-.7h.1m.2 1h.1m1.3-.2h.1m.3 .1h.1m.9-.2h.1m1.3-.4h.1m-4.5 .7h.1m1.4 .3h.1" stroke="#02b0c8" stroke-width="1.0" stroke-linecap="square" stroke-opacity="1.00"/>
<path d="M125.8 202.4h.1m.7 .1h.1m.2-.2h.1m.3 .5h.1m.4-.1h.1m.1 .4h.1m-4.5 1.1h.1m5.3-.3h.1m-6.1 1.2h.1m6.1-.4h.1m.2 .6h.1m-7 .4h.1m0 .3h.1m-.4 1.1h.1m-.6 1.1h.1m.1-.5h.1m-.3 2.4h.1m8.2 .1h.1m-8.4 .5h.1m8.1 .7h.1m-8.2 1.2h.1m7.9-.1h.1m-46.6 1.9h.1m1.1-.2h.1m0 0h.1m1.6 .2h.1m-.1-.8h.1m.5 .6h.1m.1-.6h.1m.9 .5h.1m.1-.5h.1m1.7 .5h.1m31.6-.1h.1m7.6-.2h.1m0 .3h.1m-.1-.3h.1m-46.7 1.1h.1m.4-.2h.1m.1 .3h.1m.3-.3h.1m0 .4h.1m5.6-.4h.1m.3 .1h.1m2.7 .5h.1m-11.9 .9h.1m.1-.4h.1m.4 .1h.1m10.7-.1h.1m0 .3h.1m-.1 .1h.1m.2-.1h.1m-12.6 1.3h.1m0 .1h.1m13.5-.6h.1m.1-.2h.1m26.9 .6h.1m.1-.2h.1m.1-.2h.1m6.7-.3h.1m-48.9 1.8h.1m15.4-.4h.1m0 0h.1m-16.6 1.1h.1m.1-.2h.1m16.2-.2h.1m-.1 .5h.1m32.8-.7h.1m-.1 .1h.1m-50.1 1.5h.1m.3 .2h.1m16.9-.7h.1m26.4 .6h.1m4.9-.3h.1m-30.2 1.4h.1m26 0h.1m3.2-.3h.1m1-.4h.1m-.1 .1h.1m-50.2 1.5h.1m-.1-.6h.1m.1 0h.1m.4-.1h.1m45.2 .4h.1m.1 .5h.1m.4-.5h.1m.5 .6h.1m0-.3h.1m-47.4 .5h.1m-.1 .4h.1m0 .1h.1m19.3-.6h.1m0 0h.1m.4 .7h.1m25.5-.6h.1m0-.2h.1m-46.4 1.7h.1m.1-.6h.1m.1 .7h.1m20 0h.1m-20.7 .4h.1m0 .3h.1m.1-.1h.1m.1 0h.1m0 .4h.1m19.3-.7h.1m0 .1h.1m0 .2h.1m0-.2h.1m.2 .1h.1m-.2 2.3h.1m-20.8 .4h.1m.7 .2h.1m19.2 1h.1m0 0h.1m.6 .8h.1m-20.6 1.1h.1m19.1 .1h.1m-18.9 .9h.1m.9 .4h.1m17.8-.3h.1m.3-.1h.1m-18.3 1.7h.1m16.5 .1h.1m1-.6h.1m.1 0h.1m-17.3 .9h.1m15.8 .2h.1m-15.2 .8h.1m.1 .8h.1m0-.2h.1m13.6 .2h.1m-13.2 .2h.1m12.3 .3h.1m0-.4h.1m-.1 .5h.1m.7-.4h.1m-.1 .2h.1m-13.6 .9h.1m.2-.2h.1m.7 0h.1m.4 .8h.1m.2-.3h.1m.1 .2h.1m8.7 .1h.1m.9 .1h.1m-10.4 0h.1m.6 .5h.1m.1 .4h.1m.1-.2h.1m0-.6h.1m2.2 .9h.1m3.1-.3h.1m.7-.3h.1m.7-.3h.1m.2 .6h.1m-7.2 .3h.1m1.3 .5h.1m.7-.2h.1m.2 .6h.1m.3-.3h.1m-.1-.5h.1m.9 .2h.1m0-.3h.1m.3 .1h.1m.4 .7h.1m1.3-.3h.1" stroke="#05b7ac" stroke-width="1.0" stroke-linecap="square" stroke-opacity="1.00"/>
<path d="M125.3 203h.1m2.5 .4h.1m-3.7 .3h.1m3.3-.1h.1m-4.3 1.2h.1m-.1 0h.1m-.6 .8h.1m0 .3h.1m6.4 .4h.1m-6.9 .8h.1m6.4-.4h.1m.2 1.8h.1m-7.3 .3h.1m7.2 .4h.1m.1 .7h.1m-7.7 .7h.1m-.3 1.7h.1m7.2 1h.1m-42.1 1.1h.1m.5 .1h.1m34.2-.4h.1m.1-.1h.1m6.4 .1h.1m-45 1.4h.1m0-.2h.1m3.2-.1h.1m.1-.3h.1m.5-.3h.1m-.1 .4h.1m.2 .4h.1m.1 0h.1m.4-.8h.1m.2 .4h.1m0 .5h.1m.6-.2h.1m31.8 0h.1m6.5-.5h.1m-45.5 .9h.1m.4 .1h.1m.2 .5h.1m0-.6h.1m6.7 .4h.1m37.1 .3h.1m.3-.7h.1m.2 0h.1m-47 1h.1m10.8 .1h.1m34.9 .2h.1m.1 .1h.1m-47.8 1.1h.1m.6-.3h.1m12.6-.3h.1m.2 .4h.1m28.8 0h.1m-42.6 .5h.1m.2 .6h.1m.1-.2h.1m0-.3h.1m13 .1h.1m.7 .1h.1m0 .1h.1m27.8 .3h.1m.3 .3h.1m4.2-.4h.1m-48.5 .8h.1m.6 .1h.1m43.1-.2h.1m2.7 .5h.1m.5-.4h.1m.4-.3h.1m-48.1 1.5h.1m.1 0h.1m16.6 .4h.1m28-.8h.1m1.6 0h.1m.3 .2h.1m-47.9 1.5h.1m0 0h.1m.1 .6h.1m0-.4h.1m0 .4h.1m17.4 0h.1m0-.2h.1m-18.5 1.1h.1m-.1 .5h.1m18.3-.4h.1m.1 .4h.1m-18.2 .5h.1m18.4-.2h.1m-18.7 1.3h.1m18.7 0h.1m-19.4 .7h.1m.3 .6h.1m.1-.6h.1m17.8 .6h.1m.4-.2h.1m-19.1 1.3h.1m.7-.4h.1m17.8-.2h.1m-.1 0h.1m.1 .7h.1m0-.2h.1m-.1-.3h.1m0-.3h.1m-18.3 1.3h.1m17.4 .1h.1m.2-.5h.1m-18.5 1.6h.1m.5 .3h.1m.1 .9h.1m16.6-.1h.1m.5-.3h.1m-17.4 .7h.1m.8 .6h.1m15 .2h.1m.5-.9h.1m-16.2 1.5h.1m.2-.2h.1m0-.3h.1m.6 1.7h.1m.4 .1h.1m12.5-.3h.1m.3 .2h.1m-13.3 .8h.1m.3-.1h.1m-.1 .2h.1m11.9-.5h.1m0 .1h.1m-.1 .4h.1m.1-.4h.1m.3 0h.1m-12.1 .9h.1m.3 .5h.1m0-.2h.1m1 .3h.1m0 .1h.1m7 0h.1m-7 .5h.1m0 .5h.1m0-.7h.1m.1-.1h.1m1.1 .3h.1m1.2 .4h.1m1.9 0h.1m.2 0h.1m0-.1h.1m0 0h.1m.3 .1h.1m.2 0h.1m.9-.1h.1m1.1-.5h.1m-8.1 1h.1m1.8-.1h.1m1.9 .5h.1m.8-.1h.1" stroke="#08bf90" stroke-width="1.0" stroke-linecap="square" stroke-opacity="1.00"/>
<path d="M124.3 204.4h.1m.3-.3h.1m-.1 .1h.1m.2-.3h.1m.4-.4h.1m-1.7 1.6h.1m.1-.5h.1m4.1 .5h.1m-4.9 .7h.1m5.5 .2h.1m-6.1 .6h.1m6.3 2.7h.1m-7 1.3h.1m6.6 .9h.1m-6.5 0h.1m0 1.9h.1m-.1-.1h.1m-.3 1h.1m5.4 .2h.1m.4-.8h.1m0 .2h.1m-6 1.4h.1m-38.9 1.2h.1m.7-.3h.1m0 .1h.1m.1-.4h.1m.5-.2h.1m.8 .7h.1m.3-.6h.1m1.1 .6h.1m.8-.2h.1m2 .2h.1m36.4-.5h.1m-44.7 1.1h.1m0-.1h.1m.6-.3h.1m0 .6h.1m.2-.5h.1m.3 .3h.1m.1-.2h.1m4.8-.1h.1m1.3 .2h.1m.8 .4h.1m35.3 0h.1m-45.8 .9h.1m1-.4h.1m9.6-.2h.1m-.1-.1h.1m30.4 .1h.1m.5 .3h.1m-.1 .5h.1m.1-.6h.1m2.8 .6h.1m0-.8h.1m-46 1.4h.1m0 0h.1m.3 .5h.1m0 0h.1m12.2-.2h.1m29.8-.3h.1m1.3 .5h.1m1.3-.2h.1m-.1-.7h.1m-45.5 1h.1m12.6 .1h.1m.3-.1h.1m30.3 0h.1m.1 .3h.1m.3 .4h.1m-.1-.3h.1m0 .3h.1m0-.3h.1m.1-.1h.1m-31.5 .6h.1m.5 .8h.1m0-.4h.1m.1 0h.1m-15.5 .8h.1m.3 .5h.1m14.7-.3h.1m.5-.1h.1m-16.3 .8h.1m-.1 .1h.1m16 .7h.1m.4 .1h.1m-.1-.4h.1m-17.1 1.4h.1m.2-.5h.1m16.2 0h.1m-16.9 .6h.1m.3 .3h.1m0 .1h.1m-.6 1.4h.1m.3-.3h.1m16.3-.4h.1m.7 0h.1m-17.5 1.1h.1m.2 0h.1m16.2-.3h.1m-16.1 1.9h.1m16.1-.8h.1m0 .5h.1m-16.4 .8h.1m15.7 .6h.1m0 .1h.1m0 .4h.1m-15.8 1.5h.1m-.1-.4h.1m.1 .2h.1m.4 .2h.1m14 0h.1m0-.2h.1m0-.6h.1m0 .6h.1m0-.3h.1m0-.1h.1m-15.1 1.4h.1m13.7-.2h.1m-13.6 .6h.1m.2 .5h.1m.2-.4h.1m0 .3h.1m-.1 .2h.1m.1-.6h.1m0 .6h.1m.1-.3h.1m11.4 .2h.1m.3 0h.1m.1 .1h.1m.3-.5h.1m-12.4 1.2h.1m.1 .2h.1m.2-.2h.1m10.5 0h.1m-10.6 .6h.1m.8 .5h.1m7.5 .3h.1m.2-.3h.1m-.1 .1h.1m1-.3h.1m0 .1h.1m-8.9 1h.1m.3-.3h.1m0 .6h.1m.2-.3h.1m.3-.4h.1m.1 .2h.1m.1 .3h.1m.8 .2h.1m1.4-.2h.1m1.2 .1h.1m.1-.1h.1m0 .4h.1m.2-.5h.1m.8-.2h.1m.3 0h.1m-4.9 .7h.1m1.2 .2h.1m1-.1h.1m.7 .3h.1" stroke="#12c472" stroke-width="1.0" stroke-linecap="square" stroke-opacity="1.00"/>
<path d="M125.8 203.8h.1m.4 .2h.1m.2-.3h.1m0 .3h.1m.7 .4h.1m-3.7 1h.1m3.9-.2h.1m-4 .6h.1m-.7 1.4h.1m0-.3h.1m-.1-.4h.1m5.3 .3h.1m-5.9 1h.1m5.9 1.3h.1m-6.3 .5h.1m.1 2.2h.1m.1 .4h.1m5.5 .1h.1m-5.9 .4h.1m-.1 .1h.1m.3 .3h.1m0 .4h.1m-.2 0h.1m4.6 .4h.1m-.4 .9h.1m-.1 .4h.1m-4.1 .7h.1m-.1 .5h.1m.1-.4h.1m.2 .3h.1m2.2 .1h.1m.3-.5h.1m.2-.2h.1m-41.1 1.3h.1m.3 .4h.1m0-.8h.1m.2 .6h.1m.3-.1h.1m.5-.4h.1m0-.1h.1m0 .1h.1m.4 .1h.1m.6-.1h.1m.1 .4h.1m0 .2h.1m.1 .2h.1m.1-.6h.1m0 .5h.1m.3 0h.1m33.7-.1h.1m0-.6h.1m0 0h.1m1.1 .6h.1m.1-.7h.1m.4 .2h.1m.1 .1h.1m-42.4 1.1h.1m0 0h.1m.8-.2h.1m4.7 .1h.1m.8 .3h.1m.3-.2h.1m0-.3h.1m0 .6h.1m33.3-.4h.1m.8-.3h.1m.5-.1h.1m-44.8 1.8h.1m1.2-.5h.1m.3 0h.1m8.3-.1h.1m.1 .5h.1m.4-.2h.1m-11.4 1.4h.1m0-.5h.1m.3-.3h.1m.2 .6h.1m10.6-.4h.1m.2 .3h.1m0 0h.1m-11.8 .9h.1m11.6-.1h.1m1 1.5h.1m.1-.7h.1m-14.4 1.5h.1m.1 0h.1m.4-.6h.1m13.4 .7h.1m.2-.4h.1m-15 1.2h.1m14.5-.4h.1m.6 .2h.1m0-.1h.1m-15.8 1.6h.1m.2 .1h.1m-.2 .6h.1m.2 .2h.1m0-.1h.1m.1 .1h.1m15-.5h.1m-15.9 1h.1m.3 1.5h.1m0 .1h.1m14.4-.3h.1m.1 .3h.1m-.1 0h.1m.1-.8h.1m.2 .2h.1m-15.5 1.2h.1m0 .3h.1m0-.4h.1m.5 .3h.1m.1 .3h.1m13.2-.2h.1m.3-.8h.1m-.1 .7h.1m-14.4 .4h.1m13.4 .6h.1m-12.6 .8h.1m12 .3h.1m-.1-.4h.1m0 .1h.1m-12.4 1.1h.1m.4 .2h.1m-.1 0h.1m11.3-.5h.1m-.1 0h.1m.2 .3h.1m.1-.3h.1m-11.5 1.6h.1m-.1-.1h.1m-.1-.5h.1m.1 .5h.1m.1-.2h.1m0 .2h.1m.1-.4h.1m0 .4h.1m8.7 .2h.1m.5-.6h.1m.1 .1h.1m-9.6 .6h.1m.6 .6h.1m.5-.1h.1m0 .4h.1m5.6-.2h.1m.4-.3h.1m.7 .1h.1m-.1-.1h.1m-8.3 .5h.1m1.1 .7h.1m1.1-.1h.1m.4 .2h.1m.8-.2h.1m0 .4h.1m.2-.4h.1m1.1-.2h.1m1.1-.3h.1m1.2 .1h.1m-3.8 .9h.1m.5 0h.1m.2 0h.1" stroke="#24c853" stroke-width="1.0" stroke-linecap="square" stroke-opacity="1.00"/>
<path d="M127 204.5h.1m-2.5 .6h.1m.4-.5h.1m.6 0h.1m1.1 .3h.1m0-.1h.1m.2 .4h.1m-3.4 .7h.1m0-.2h.1m-.5 .9h.1m4.4 .1h.1m-.1 0h.1m0 0h.1m0 1.5h.1m.1 .5h.1m-.1 1h.1m-5.2 1.4h.1m-.2 .7h.1m.3 .6h.1m4.2-.6h.1m0 .2h.1m-.1 .1h.1m-4.7 .9h.1m4.3 .4h.1m-4.2 1h.1m2.9 0h.1m-.1-.1h.1m.6 0h.1m-3.3 .4h.1m0 .2h.1m0 .4h.1m.1-.7h.1m-.1 .7h.1m.5 .2h.1m.2-.1h.1m0 .1h.1m.3-.1h.1m0 0h.1m.3-.3h.1m.4-.5h.1m0 .1h.1m-2.6 1.5h.1m-.1 .1h.1m.1-.7h.1m1 .1h.1m-.1 .7h.1m.1-.8h.1m-1.1 1.1h.1m0-.1h.1m-40.5 1.6h.1m.7-.1h.1m.3-.1h.1m0 .3h.1m-.1-.2h.1m.1-.2h.1m.1 .2h.1m.1 .1h.1m.5 .1h.1m0 0h.1m.8-.3h.1m.2 .1h.1m.1-.1h.1m-5.5 1h.1m.9-.3h.1m-.1 .4h.1m.2-.3h.1m4.7 0h.1m.4 .2h.1m.3-.2h.1m.3 .3h.1m.4-.2h.1m.1 .1h.1m-8.3 .7h.1m8.2 .5h.1m.2-.6h.1m0 .9h.1m.3-.6h.1m-10.4 1.5h.1m0-.7h.1m.2 .5h.1m0-.2h.1m9.4-.4h.1m-10.7 1.6h.1m.1-.1h.1m.3-.5h.1m10.6-.1h.1m.2 .4h.1m.1 .1h.1m.3 .2h.1m-12.9 1.2h.1m.5 0h.1m11.4-.9h.1m-11.9 1.5h.1m12.3 .3h.1m.4-.2h.1m-13.2 1.1h.1m12.7 .3h.1m.4-.9h.1m.1 .6h.1m-13.8 .8h.1m.2-.2h.1m12.9-.1h.1m.1 .7h.1m.1-.5h.1m-13.5 1.5h.1m0 .2h.1m-.1 .1h.1m-.1 .2h.1m.1-.1h.1m12.2 0h.1m.4 0h.1m-13.3 1.4h.1m12.3-.2h.1m-11.8 .8h.1m11 .7h.1m.2 0h.1m-11.7 .1h.1m.3 .7h.1m.3-.7h.1m.5 .9h.1m9.6-.7h.1m.2-.1h.1m-.1 .3h.1m0 .4h.1m-10.8 .4h.1m0-.1h.1m-.1 0h.1m.2 .2h.1m.6 .5h.1m.3-.1h.1m7.9-.1h.1m.3-.5h.1m-2.9 1.6h.1m.1 0h.1m.2-.1h.1m-5.7 .5h.1m-.1 .2h.1m.4-.1h.1m2.1 0h.1m.1 0h.1m.1 .3h.1m1.6-.4h.1m.1 .2h.1m-.1 0h.1m.1 .2h.1m-.1-.6h.1m0 .3h.1m.1 0h.1m0 .4h.1m.2-.3h.1m-4.8 .6h.1m2.1 .2h.1m.2 0h.1m.6 0h.1" stroke="#35cb33" stroke-width="1.0" stroke-linecap="square" stroke-opacity="1.00"/>
<path d="M124.7 205.5h.1m.5-.3h.1m.1 .1h.1m.9 0h.1m-2 1h.1m.2-.8h.1m-1 2h.1m4-.2h.1m0-.3h.1m0 .1h.1m-4.8 1.6h.1m-.1 .2h.1m0-.3h.1m-.1 .6h.1m0 0h.1m-.1 .7h.1m0-.1h.1m-.3 .8h.1m.3 1.3h.1m3.8 .3h.1m-3.9 .9h.1m.3 .1h.1m0 .1h.1m-.1-.1h.1m2.9-.4h.1m-2.7 1.3h.1m0 .2h.1m.7 .2h.1m.3-.5h.1m.5-.3h.1m-1.6 .9h.1m-38.5 3.9h.1m-2.5 1h.1m1-.1h.1m.2-.3h.1m0 .3h.1m.3-.3h.1m.4 0h.1m.1 .2h.1m.3 0h.1m.4-.2h.1m.2 .1h.1m0 .2h.1m0-.4h.1m-4.6 1h.1m.3 .3h.1m.2-.1h.1m.5-.2h.1m.2-.4h.1m.1 .1h.1m.4-.1h.1m.3-.1h.1m-3.5 1.4h.1m.2-.1h.1m.1 .7h.1m0-.8h.1m.4-.2h.1m-.1 .3h.1m6.8 .1h.1m.8 .5h.1m-9.7 .9h.1m.2 0h.1m9.3 0h.1m-10 .6h.1m10-.4h.1m-.1 .7h.1m-10.6 .4h.1m.2 .4h.1m10.7-.1h.1m-11.7 .7h.1m.2 0h.1m11.6 .9h.1m-11.6 .4h.1m0 0h.1m10.7 .5h.1m.2 0h.1m-.1 .1h.1m0-.9h.1m0 .1h.1m-11.7 1.3h.1m.2 0h.1m10.8 .5h.1m-.1-.5h.1m.4-.2h.1m-11.9 1.4h.1m.4-.2h.1m-.1 .4h.1m0-.3h.1m10.4-.3h.1m.3-.3h.1m-.8 1.6h.1m.6 0h.1m0-.3h.1m-10.5 .9h.1m.2 0h.1m-.1 .2h.1m8.6 .2h.1m.1-.3h.1m.5 .3h.1m-9.4 1.1h.1m.2 .2h.1m7.4-.1h.1m.3 0h.1m.1-.5h.1m.4 .1h.1m-8.2 .6h.1m.5 .9h.1m0-.3h.1m4.3 .3h.1m-.1-.1h.1m0-.1h.1m.5-.2h.1m-5.2 .7h.1m.5 .4h.1m.5 0h.1m-.1 .4h.1m.2-1h.1m-.1 .4h.1m0 .2h.1m.6 0h.1m0 .3h.1m.4-.8h.1m.9 .3h.1m.1-.1h.1m.7 .1h.1m.3 0h.1m.4-.4h.1m-3.5 1.1h.1" stroke="#54ce21" stroke-width="1.0" stroke-linecap="square" stroke-opacity="1.00"/>
<path d="M125.8 205.3h.1m.3 .2h.1m-1.2 .3h.1m.2 .2h.1m-1.1 1.1h.1m-.6 2.1h.1m.1 .6h.1m.2 .5h.1m3.3-.4h.1m.1 .6h.1m-.3 .2h.1m-3.6 1h.1m.2 .2h.1m.1 .4h.1m.4 0h.1m1.4-.2h.1m.1-.2h.1m0 .2h.1m-.1-.4h.1m-2.6 .8h.1m.5 .5h.1m.6 .3h.1m-40.9 7.2h.1m.7-.4h.1m.2 .4h.1m.9-.5h.1m.3 .4h.1m.5-.4h.1m.4 0h.1m0-.3h.1m.2 0h.1m0 .2h.1m-.1 .5h.1m.1-.5h.1m.9 .5h.1m-6.3 1h.1m.9 .1h.1m0-.7h.1m-.1 .4h.1m.1 .3h.1m.5-.6h.1m.1-.1h.1m.3-.1h.1m1.5 0h.1m1.3 .2h.1m.3 .4h.1m-.1-.5h.1m1.1 .4h.1m-7.7 .9h.1m.6-.2h.1m6.6 .1h.1m0-.2h.1m.2-.2h.1m0-.1h.1m0 .5h.1m-8.3 .7h.1m.1 .4h.1m7.9-.5h.1m.1 .3h.1m.2 0h.1m-9.4 1.4h.1m-.1-.5h.1m.3-.1h.1m-.1 .3h.1m.2-.5h.1m8.5 .2h.1m.1-.1h.1m.3 .8h.1m-9.8 .3h.1m0 .8h.1m0-.9h.1m-.1 .1h.1m.1-.1h.1m8.8 .5h.1m0 0h.1m0-.3h.1m-10 1.1h.1m.2-.3h.1m.2 .5h.1m-.1-.4h.1m8.8 .5h.1m-9.1 .3h.1m0 .9h.1m8.7-.9h.1m0 .1h.1m-9.5 .9h.1m.8 .4h.1m8.2-.2h.1m0 .8h.1m.2-.6h.1m0 .1h.1m0 .3h.1m-8.8 .7h.1m.1 .3h.1m.2 .1h.1m6.7-.1h.1m.9-.4h.1m-8.9 .9h.1m.2 .1h.1m.8 .5h.1m.1-.1h.1m.4 .1h.1m5.3-.1h.1m.2-.5h.1m0 .3h.1m-.1 .4h.1m-.1-.7h.1m-7.1 .8h.1m.4 .1h.1m0 .1h.1m.2-.3h.1m1.5 .9h.1m1 .1h.1m1.3-.1h.1m0 0h.1m0-.1h.1m.5 .1h.1m0-.3h.1m-.1-.6h.1m.2 .2h.1m.1 .8h.1m-.1-.1h.1m0-.5h.1m-3.7 1.1h.1m.2-.4h.1m.7 0h.1m1.1 .2h.1" stroke="#7dd116" stroke-width="1.0" stroke-linecap="square" stroke-opacity="1.00"/>
<path d="M125.3 206.3h.1m.5-.3h.1m-.1 0h.1m1 .4h.1m-2.2 .7h.1m.2-.4h.1m.4-.1h.1m1.3 .8h.1m-2.8 .6h.1m.3-.1h.1m2.4-.2h.1m.1 .2h.1m.1 1.3h.1m-3.2 .3h.1m.2 1.4h.1m.2 .6h.1m1.3-.4h.1m.5-.1h.1m.2-.4h.1m-2.2 .9h.1m.1 .4h.1m0-.2h.1m.7 .3h.1m-.1-.1h.1m.1 0h.1m-39.9 9.4h.1m.2-.6h.1m0 .6h.1m1-.3h.1m.4 .4h.1m0-.5h.1m0 .1h.1m-.1 0h.1m-3.9 1h.1m.1 .4h.1m.5-.9h.1m.3 .2h.1m0 .2h.1m0 0h.1m.1-.1h.1m1.6 .1h.1m.3-.4h.1m.4 .1h.1m.3 .2h.1m.3 .4h.1m-6.1 .9h.1m0 .2h.1m.1-.1h.1m6.2 .2h.1m-.1-.7h.1m0 .7h.1m0-.5h.1m-7 1h.1m0-.2h.1m.3 0h.1m.3 0h.1m5.3 .1h.1m0 .5h.1m.7-.1h.1m0-.1h.1m-7.9 .8h.1m.9 .1h.1m6.6-.4h.1m0 .9h.1m.2-.9h.1m-7.7 1.9h.1m0-.7h.1m0 .2h.1m.1 .4h.1m6.2-.7h.1m.2 .1h.1m.2 .2h.1m0-.3h.1m.2 .3h.1m-7.9 .7h.1m0 .7h.1m.1-.2h.1m.2-.6h.1m6.1 0h.1m.3 0h.1m.3 .2h.1m.2-.2h.1m-7.9 .9h.1m0 .9h.1m.1-.3h.1m0 .1h.1m0 0h.1m5.6 0h.1m-.1 .3h.1m.5 0h.1m0-.3h.1m0 .3h.1m.1-.4h.1m-.1-.2h.1m0 .1h.1m-7.4 .5h.1m.3 .4h.1m.1 .3h.1m.2-.4h.1m0 .7h.1m3.8-.1h.1m.2 .1h.1m.3-.4h.1m.6 0h.1m-.1-.1h.1m.5-.2h.1m-6.1 .9h.1m.1-.1h.1m.6 .1h.1m0 .6h.1m.1-.2h.1m.7-.2h.1m.4 .1h.1m.3 .2h.1m-.1-.3h.1m.2-.1h.1m-.1 .4h.1m-.1-.3h.1m.8-.2h.1m.6 0h.1m-.1 .5h.1m.1-.3h.1m-3.6 .9h.1m0 0h.1m.8-.1h.1m.1 .1h.1m.2 .2h.1m.5-.4h.1m1-.1h.1" stroke="#a5d40a" stroke-width="1.0" stroke-linecap="square" stroke-opacity="1.00"/>
<path d="M125.7 207.1h.1m-.1-.1h.1m.3-.3h.1m.5 .4h.1m.1 .2h.1m-1.6 1h.1m0-.3h.1m.4-.3h.1m.8 .1h.1m.1-.1h.1m-2.1 1.4h.1m1.9-.6h.1m-1.9 1.8h.1m0-.2h.1m0 .3h.1m.9-.3h.1m.2-.1h.1m.1 .2h.1m0-.1h.1m-2 .6h.1m-.1 .1h.1m.6 .2h.1m0-.1h.1m0 .1h.1m.3-.4h.1m-39.9 11.9h.1m.8-.2h.1m-1.3 1.2h.1m0-.7h.1m.2 .5h.1m.1-.1h.1m0 .3h.1m0-.4h.1m0-.4h.1m.6 .3h.1m0-.1h.1m.1 0h.1m.3 .3h.1m0-.5h.1m.3 .3h.1m.3 .4h.1m.1-.3h.1m-4.5 1.3h.1m.1-.6h.1m0-.1h.1m0 .4h.1m-.1-.1h.1m0-.3h.1m.7 .5h.1m-.1-.4h.1m.5 .1h.1m.1-.2h.1m.2-.2h.1m-.1 0h.1m.6 0h.1m0 0h.1m.5 .7h.1m-.1-.1h.1m.1 .2h.1m.1 .1h.1m.4-.2h.1m-5.3 .7h.1m.3-.2h.1m-.1 .7h.1m.6-.6h.1m.3 .5h.1m.1 0h.1m.1-.6h.1m2.2 .7h.1m0-.1h.1m-.1-.4h.1m.1-.4h.1m0 1h.1m-.1-.5h.1m.1-.2h.1m0 .3h.1m.4-.1h.1m0-.4h.1m.1 .2h.1m0 .4h.1m0-.2h.1m-5.9 1.4h.1m.5-.7h.1m0 .8h.1m0-1h.1m0 0h.1m.4 .9h.1m-.1-.4h.1m2.6 0h.1m.1 0h.1m.5 .4h.1m.1-.4h.1m.3 .2h.1m.1-.6h.1m0 .4h.1m-.1-.4h.1m-5.6 1.4h.1m-.1 0h.1m0-.2h.1m-.1 .6h.1m0-.2h.1m-.1-.3h.1m.4 .4h.1m-.1-.4h.1m.1 .2h.1m0 0h.1m2.5-.2h.1m0 0h.1m.2-.2h.1m-.1 0h.1m.1-.1h.1m0 .8h.1m0-.6h.1m0-.3h.1m-.1 .9h.1m.4-.6h.1m.1 .3h.1m-.1-.2h.1m0 .1h.1m.1-.2h.1m-5.2 .8h.1m.1 .1h.1m.2 .1h.1m0 .1h.1m.1-.1h.1m-.1 .7h.1m0-1h.1m-.1 .5h.1m.1 .3h.1m1.4 .2h.1m.5-.8h.1m.4 .5h.1m0 0h.1m.2-.3h.1m.1 .5h.1m0-.3h.1m.1-.2h.1m-4.1 1.3h.1m.2-.1h.1m.1-.3h.1m-.1 .7h.1m.2-.9h.1m.1 .4h.1m0-.2h.1m0-.3h.1m-.1 .6h.1m.2 0h.1m0-.1h.1m.1-.4h.1m.7 .5h.1m.3-.1h.1m-.1-.3h.1m.2 0h.1" stroke="#cdd600" stroke-width="1.0" stroke-linecap="square" stroke-opacity="1.00"/>
<path d="M125.8 208.4h.1m-.1-.4h.1m-.2 .9h.1m.5 .3h.1m0-.6h.1m-.5 1h.1m.1 .2h.1m-39.4 15.1h.1m.8-.1h.1m.1 .5h.1m.1-.3h.1m0 .4h.1m-1.7 1.1h.1m.8-.8h.1m.5 .8h.1m-.1-.6h.1m.4 .5h.1m.1-.5h.1m0-.1h.1m-1.3 1.1h.1m.5-.1h.1m0-.1h.1m.1-.1h.1" stroke="#deba00" stroke-width="1.0" stroke-linecap="square" stroke-opacity="1.00"/>
<line x1="102.9" y1="167.5" x2="102.9" y2="255.3" stroke="#1a1a1a" stroke-width="0.9"/>
<line x1="62.4" y1="209.1" x2="149.6" y2="209.1" stroke="#1a1a1a" stroke-width="0.9"/>
<text x="64.4" y="177.59" font-size="7.4" font-weight="bold" text-anchor="start" fill="#111">1.37</text>
<text x="148.1" y="177.59" font-size="7.4" font-weight="bold" text-anchor="end" fill="#111">7.19</text>
<text x="64.4" y="250.39" font-size="7.4" font-weight="bold" text-anchor="start" fill="#111">75.2</text>
<text x="148.1" y="250.39" font-size="7.4" font-weight="bold" text-anchor="end" fill="#111">16.2</text>
<line x1="60.8" y1="175" x2="62.4" y2="175" stroke="#444" stroke-width="0.5"/>
<text x="60.2" y="176.22" font-size="3.5" text-anchor="end" fill="#333">10&#8309;</text>
<line x1="60.8" y1="197" x2="62.4" y2="197" stroke="#444" stroke-width="0.5"/>
<text x="60.2" y="198.22" font-size="3.5" text-anchor="end" fill="#333">10&#8308;</text>
<line x1="60.8" y1="220.5" x2="62.4" y2="220.5" stroke="#444" stroke-width="0.5"/>
<text x="60.2" y="221.72" font-size="3.5" text-anchor="end" fill="#333">10&#179;</text>
<line x1="60.8" y1="235.5" x2="62.4" y2="235.5" stroke="#444" stroke-width="0.5"/>
<text x="60.2" y="236.72" font-size="3.5" text-anchor="end" fill="#333">0</text>
<line x1="60.8" y1="249.5" x2="62.4" y2="249.5" stroke="#444" stroke-width="0.5"/>
<text x="60.2" y="250.72" font-size="3.5" text-anchor="end" fill="#333">-10&#179;</text>
<line x1="70.5" y1="255.3" x2="70.5" y2="256.9" stroke="#444" stroke-width="0.5"/>
<text x="70.5" y="260.93" font-size="3.5" text-anchor="middle" fill="#333">-10&#179;</text>
<line x1="86.5" y1="255.3" x2="86.5" y2="256.9" stroke="#444" stroke-width="0.5"/>
<text x="86.5" y="260.93" font-size="3.5" text-anchor="middle" fill="#333">0</text>
<line x1="99.5" y1="255.3" x2="99.5" y2="256.9" stroke="#444" stroke-width="0.5"/>
<text x="99.5" y="260.93" font-size="3.5" text-anchor="middle" fill="#333">10&#179;</text>
<line x1="121.5" y1="255.3" x2="121.5" y2="256.9" stroke="#444" stroke-width="0.5"/>
<text x="121.5" y="260.93" font-size="3.5" text-anchor="middle" fill="#333">10&#8308;</text>
<line x1="143" y1="255.3" x2="143" y2="256.9" stroke="#444" stroke-width="0.5"/>
<text x="143" y="260.93" font-size="3.5" text-anchor="middle" fill="#333">10&#8309;</text>
<rect x="60.5" y="234.1" width="1.7" height="2.8" fill="#111"/>
<rect x="83.5" y="255.7" width="6" height="1.5" fill="#111"/>
<path d="M48.6 209.9V265.6H105.4" fill="none" stroke="#222" stroke-width="0.9"/>
<path d="M47 210.5L48.6 206.9L50.2 210.5z" fill="#222"/>
<path d="M104.8 264L108.4 265.6L104.8 267.2z" fill="#222"/>
<text transform="translate(44.9,246) rotate(-90)" x="0" y="2.31" font-size="6.6" font-weight="bold" text-anchor="middle" fill="#111" textLength="37.2" lengthAdjust="spacingAndGlyphs">CD69-BV711</text>
<text x="51.9" y="274.41" font-size="6.6" font-weight="bold" text-anchor="start" fill="#111" textLength="38.3" lengthAdjust="spacingAndGlyphs">CD38-BV786</text>
<rect x="181.3" y="167" width="84.7" height="85.4" fill="#fff" stroke="#666" stroke-width="0.8"/>
<path d="M221.7 175.7h.1m7.3 3h.1m-13.3 1.7h.1m10-.5h.1m2.7 1.6h.1m-17.6 .7h.1m17.3-.6h.1m-10.2 1.8h.1m16.2 .3h.1m-18.8 1.3h.1m-6.5 1.5h.1m11.7 .1h.1m24.1 .3h.1m-28.3 1.3h.1m10.4-.1h.1m-18.3 1.1h.1m.1 1.1h.1m13.1 0h.1m18.9-.1h.1m-6.8 1.4h.1m5.3 .6h.1m4.3 .1h.1m-33.5 .2h.1m24.9 .9h.1m13.3-.5h.1m-39.6 1.2h.1m33.9 .2h.1m-37.1 .8h.1m-2.8 1h.1m36.2-.1h.1m9.8 .4h.1m-47.3 2h.1m37.1-.4h.1m-40.7 3.3h.1m42.6-.6h.1m3.6 1.6h.1m2.7-.5h.1m-48.2 1.9h.1m45.1 .1h.1m-48.5 2.7h.1m51 .6h.1m-2.6 .6h.1m-49.5 1.8h.1m2.2-.9h.1m41.5 .9h.1m-48.4 .7h.1m50.5 .6h.1m-1.4 1.6h.1m9.4-.2h.1m-8.5 .5h.1m11.1 1.4h.1m-18.6 .9h.1m2.5 4.4h.1m-4.8 2.6h.1m-4.6 1.8h.1m1.6-.3h.1m-1.6 2.2h.1m2 2.2h.1m16.4 3.4h.1m-12.7 1h.1m-7.4 1.1h.1m-33.8 .7h.1m.8-.5h.1m26.5 9h.1m19.1 .9h.1m-38.4 2.1h.1m21.8 1h.1m-16.2 3.2h.1" stroke="#161ffa" stroke-width="1.0" stroke-linecap="square" stroke-opacity="0.50"/>
<path d="M231.1 192.8h.1m3.2 .7h.1m-18.7 .6h.1m2 .1h.1m8.5 .2h.1m-.1 0h.1m2.3-.6h.1m-13.2 .8h.1m4.4 .2h.1m12.1 .2h.1m-20.8 .6h.1m2 .6h.1m11.5 .1h.1m.7 .6h.1m-16.4 1.4h.1m5-.4h.1m8.6 .3h.1m9.4-.2h.1m-8.9 .6h.1m1.5 .3h.1m-13.6 1.4h.1m15.8 .1h.1m1.3-.1h.1m1.2 .2h.1m4.6-.1h.1m-29.8 .9h.1m.4-.7h.1m8.3 .1h.1m1 .2h.1m16.9-.1h.1m.2 0h.1m-11.3 1.6h.1m.9-.9h.1m-17.2 1.7h.1m1.3-.4h.1m9.4-.2h.1m16.7 .1h.1m-30.2 1.8h.1m13.1-.8h.1m1.4 .6h.1m2.4-.1h.1m.6-.6h.1m.9 .6h.1m.9-.1h.1m8.8-.4h.1m1 0h.1m-30.1 1.5h.1m16.3-.5h.1m6.2 .1h.1m1.4 .5h.1m-25.1 1h.1m4.8-.8h.1m12 .6h.1m.2-.2h.1m2.1 .2h.1m0-.6h.1m.4 .2h.1m.6-.2h.1m14.1 .8h.1m-7 .9h.1m-5 1h.1m1.2 .4h.1m.4 .1h.1m.1 .4h.1m2.2-.1h.1m.4 .2h.1m3.3 .1h.1m-13 .4h.1m12.6-.2h.1m1.7 .4h.1m-36.6 1.1h.1m2.1-.5h.1m34.8 .9h.1m1.8-.5h.1m-37.4 .8h.1m23.5 1.3h.1m2.7-.1h.1m-2.8 1.5h.1m11.2-.8h.1m-12.1 1.8h.1m.9 .8h.1m.2-.2h.1m8.3 .1h.1m-9.3 .8h.1m-28.3 3.9h.1m-.9 1.7h.1m30 2.7h.1m-29.7 5.4h.1m.7 4.2h.1m.4-.3h.1m26.5 .2h.1m-26.3 1h.1m2.4 2.9h.1m20.8 .7h.1m.8-.5h.1m-22.2 1.4h.1m22.9-.6h.1m-4.7 3.2h.1m.9 .5h.1m-17.1 .7h.1m13.5 0h.1m-12.3 1.1h.1m8.7 1.3h.1" stroke="#112dfb" stroke-width="1.0" stroke-linecap="square" stroke-opacity="0.58"/>
<path d="M211.9 205h.1m2.1-.4h.1m-6.2 1.5h.1m.6-.1h.1m1.5 1.3h.1m2.1-.8h.1m2.9 .9h.1m-9.3 .4h.1m2.2 .4h.1m.2-.6h.1m3.2 0h.1m4.2 .9h.1m2.5-.3h.1m-14.1 .5h.1m11.6 .6h.1m1.4-.4h.1m-1.5 .8h.1m-14.6 1.8h.1m16.4-.4h.1m.7-.5h.1m.5 .4h.1m-.1 1.4h.1m2.1 .5h.1m-21.9 1h.1m21.7 .1h.1m-21.9 1.3h.1m20.9-.5h.1m1.1 2.7h.1m-24 .3h.1m.2-.2h.1m23.9 .5h.1m.1-.5h.1m-.3 1.6h.1m.1 1.6h.1m.3 2.6h.1m-25.7 .4h.1m25.4 1.3h.1m-25.9 1.2h.1m26.4 1.4h.1m-26.8 1.5h.1m0-.5h.1m1.6 4.6h.1m0-.2h.1m23.2-.1h.1m-22.9 3.4h.1m.6-.1h.1m20.6-.7h.1m-21.2 1.5h.1m20.7 .2h.1m-19.8 1.3h.1m15.2 2.8h.1m1.7-.3h.1m-14.6 1.4h.1m1.6-.6h.1m-.1 1h.1m3.6 .5h.1m3-.1h.1m1.6-.1h.1m-5.8 .5h.1m.5 0h.1m.6 .4h.1m4.9-.1h.1m.1 .3h.1" stroke="#0b3afc" stroke-width="1.0" stroke-linecap="square" stroke-opacity="0.67"/>
<path d="M207.4 209.2h.1m1.1 .9h.1m6.3 0h.1m1.1 0h.1m-10 .6h.1m9.5 .5h.1m.4 .2h.1m-12.6 .9h.1m13.9 0h.1m-13.9 1.4h.1m-1.9 .8h.1m.1 .9h.1m-1.5 1h.1m.6 .7h.1m-.6 1.1h.1m20.7 .7h.1m.3-.3h.1m-.8 1.5h.1m-.1 .1h.1m.1-.6h.1m0 .8h.1m-22.6 .7h.1m.2-.1h.1m-.2 1.7h.1m22.8 1.9h.1m-.1 2.9h.1m-23.1 1.3h.1m0-.3h.1m22.7 .1h.1m.3 .1h.1m-23.9 2h.1m.4 1.1h.1m21.7 .7h.1m-21.7 .2h.1m.2 0h.1m21.1-.1h.1m.4-.1h.1m-.6 1.4h.1m0 .1h.1m-.1 .2h.1m-19.9 1.9h.1m-.3 .9h.1m17.3 2.3h.1m0-.2h.1m-14 .5h.1m11.5 .4h.1m.2 0h.1m-11.5 .8h.1m9.1 .3h.1m1.7-.2h.1m.3 0h.1m-9.9 1.5h.1m.1-.1h.1m5.7-.5h.1m2.5 .1h.1m-5.1 .7h.1m1.8 .4h.1m.4-.4h.1" stroke="#0648fd" stroke-width="1.0" stroke-linecap="square" stroke-opacity="0.75"/>
<path d="M210.9 210.4h.1m-1.4 .4h.1m.7 .5h.1m.6-.2h.1m0-.2h.1m0-.2h.1m.4 0h.1m1.5 .1h.1m.8 0h.1m-8.1 1.2h.1m.9 .2h.1m3.1-.7h.1m.8 .1h.1m1.2-.1h.1m2.2 .3h.1m0-.2h.1m-9.4 1.2h.1m.4 .5h.1m9.4-.6h.1m0 0h.1m.4 .6h.1m.3-.5h.1m.3 .7h.1m.7-.1h.1m-.6 .2h.1m.2 .1h.1m.5 .5h.1m-15.4 1.2h.1m15.8-.2h.1m-15.7 1h.1m-1 .9h.1m17.7-.2h.1m-.3 .7h.1m.7 1.7h.1m-.3 .9h.1m.1-.7h.1m.4 .7h.1m-20.4 .7h.1m20.1 .8h.1m.3-.1h.1m-21.4 .9h.1m20.8 .8h.1m.2-.6h.1m.5 .6h.1m0 2h.1m-22.2 .8h.1m0-.1h.1m-.4 1.3h.1m.3-.5h.1m21.1 1.6h.1m-.4 .9h.1m-.1 .6h.1m.7-.3h.1m-21.1 1.2h.1m0 .2h.1m-.1 1.3h.1m0 0h.1m19.3-.1h.1m-19 2.9h.1m.8 .9h.1m16.3 0h.1m-16.1 1.2h.1m0-.6h.1m.9 .6h.1m14.2 .5h.1m-13.4 1.6h.1m.5-.3h.1m.4 .5h.1m10.8-.5h.1m.2-.4h.1m-12.3 1h.1m1.3 0h.1m1.4 1.2h.1m.1-.1h.1m2.6 .2h.1m0 .1h.1m.5 .5h.1m1.7-.4h.1m.5-.3h.1m-4.4 .9h.1" stroke="#0155fe" stroke-width="1.0" stroke-linecap="square" stroke-opacity="0.83"/>
<path d="M209.6 212h.1m1.5 .3h.1m1.5 0h.1m.3-.1h.1m-6.8 1.2h.1m.6-.2h.1m.1-.2h.1m.9 0h.1m.5-.5h.1m4.5 .5h.1m-6.5 .9h.1m8.6 .2h.1m1 .3h.1m-12.5 .6h.1m11.6-.4h.1m1.5 .8h.1m-.9 .2h.1m.4 .6h.1m.9 .1h.1m-15.3 .8h.1m.7-.1h.1m-1.3 .8h.1m.1-.1h.1m-1.1 1.7h.1m-.8 3.9h.1m-.1 1.1h.1m19.6-.5h.1m-20.2 1.3h.1m20 0h.1m-20.6 1h.1m0 0h.1m19.7 .1h.1m.5 0h.1m-20.5 .3h.1m.4 2.4h.1m19.3-.1h.1m.2 .5h.1m-.4 .6h.1m-19.3 1.4h.1m18.5 0h.1m.3-.4h.1m-18.2 1.9h.1m.3 1.1h.1m16.8 .2h.1m-.7 .7h.1m-1 1.2h.1m-13.6 1.1h.1m.5 .1h.1m10.9 .2h.1m1.2-.6h.1m-12.7 .8h.1m.3 .4h.1m1 .1h.1m8.7 .2h.1m.2-.1h.1m-8.9 .3h.1m.8 .6h.1m7.4-.6h.1m.1 .2h.1m-8.5 .7h.1m1.8 .7h.1m.5-.1h.1m-.1-.4h.1m.8 .3h.1m.5-.2h.1m.2 0h.1m.5 .4h.1m.3-.5h.1m1.2-.1h.1" stroke="#0068f9" stroke-width="1.0" stroke-linecap="square" stroke-opacity="0.92"/>
<path d="M210.1 213.1h.1m.3 .4h.1m.1-.7h.1m.3 .1h.1m1 .1h.1m.9 .3h.1m0-.1h.1m-6.2 1.2h.1m.3 0h.1m.8-.8h.1m-.1 .1h.1m-.1 .2h.1m.3 .1h.1m5.7 .1h.1m.6 .4h.1m-8.7 .2h.1m7.6-.1h.1m.4 .4h.1m-10 1.1h.1m11.2-.3h.1m.1 .2h.1m-12.2 1h.1m-.1-.2h.1m0 .5h.1m.4-.3h.1m12.3-.4h.1m.3 .2h.1m.2 1.5h.1m.1 .1h.1m.3 .7h.1m.3 .3h.1m-.7 .5h.1m.1 0h.1m0-.3h.1m-16.3 1.2h.1m.1 .5h.1m16.1-.4h.1m0-.3h.1m-17.4 1.9h.1m.1-.1h.1m17.3-.5h.1m.2-.1h.1m-18.2 2.2h.1m.1-.3h.1m-.1 .3h.1m.2 .3h.1m-.4 .3h.1m18 .9h.1m-.1 .4h.1m.1 .5h.1m.2-.4h.1m-18.4 2.5h.1m17.8 0h.1m-.6 1.6h.1m-17.7 .7h.1m.6 0h.1m16.6-.2h.1m.1 .2h.1m-17 1.1h.1m.9 2.1h.1m.1 .3h.1m14.3 .2h.1m.1 0h.1m.1-.4h.1m-14.9 .6h.1m0-.1h.1m.2 .1h.1m.5 .8h.1m13.4-.7h.1m-12.8 2h.1m.6 .7h.1m.5-.1h.1m8.7-.1h.1m-9.2 .3h.1m0 .3h.1m0 .1h.1m5.9 .3h.1m1.2-.1h.1m.2 0h.1m.1-.6h.1m-6.4 1.4h.1m-.1-.3h.1m2.1 .5h.1m-.1-.2h.1m.1 .3h.1m1.4 0h.1m.3-.7h.1" stroke="#007df1" stroke-width="1.0" stroke-linecap="square" stroke-opacity="1.00"/>
<path d="M209.6 214.5h.1m.4-.4h.1m.4 .1h.1m.1-.2h.1m-2.7 .8h.1m.1 .6h.1m-.1-.7h.1m.2 .4h.1m.3-.5h.1m.3 .1h.1m2.3-.2h.1m1.7 .1h.1m-.1 0h.1m-.1 .4h.1m.2 0h.1m0 .3h.1m.2 .2h.1m-7.8 .9h.1m.8-.6h.1m6.5-.1h.1m.8-.1h.1m-9.1 1.6h.1m10-.4h.1m0 .4h.1m.3 0h.1m-11.6 .8h.1m11.4-.2h.1m.1 .2h.1m.4 .2h.1m-.1-.2h.1m-13.4 .8h.1m13.5 .7h.1m.2-.5h.1m-14.3 .6h.1m.1 .2h.1m0 0h.1m13.7 .2h.1m-14.8 .9h.1m.2 .8h.1m15.3 0h.1m-16.5 1.8h.1m.4-.6h.1m16.2-.3h.1m0 .3h.1m0 .6h.1m-17.2 1.2h.1m0 .1h.1m0-.2h.1m.2 .8h.1m16.2-.2h.1m-16.5 1.2h.1m16.3-.1h.1m.4 .1h.1m0-.3h.1m-17.4 1.7h.1m16.7-.1h.1m-16.9 .9h.1m16.5 .9h.1m.1-1h.1m0 .3h.1m-16.7 1.4h.1m.4 .4h.1m-.1 .2h.1m15 .3h.1m-15.1 1.3h.1m.3 .1h.1m13.3 1.8h.1m.6-.6h.1m-13.2 1.2h.1m11.2 .3h.1m-10.7 .5h.1m9.8 .7h.1m.1-.6h.1m-.1 .5h.1m-8.8 .4h.1m.9 .2h.1m.6 .3h.1m5.6-.1h.1m.2-.5h.1m.1 .2h.1m-4.6 1.3h.1m.3 .3h.1m.2 .1h.1m1-.7h.1m-.1 .3h.1m1 0h.1m.2-.6h.1m.3 .1h.1m-3.3 .9h.1m.5 .1h.1m.1-.1h.1" stroke="#0092e9" stroke-width="1.0" stroke-linecap="square" stroke-opacity="1.00"/>
<path d="M209.9 215h.1m2 .4h.1m0-.2h.1m.2 0h.1m-5.3 1.3h.1m.4-.3h.1m-.1 0h.1m.3 .1h.1m.1 0h.1m1.7-.6h.1m1.5-.2h.1m.8 .4h.1m.1-.1h.1m.6-.3h.1m.4 .3h.1m-8.1 1.7h.1m.5-.7h.1m.4-.1h.1m.2 .3h.1m.1-.5h.1m6.7 0h.1m.6 .5h.1m-9.9 1.2h.1m.3-.5h.1m.4 .2h.1m9.5 0h.1m.1-.2h.1m-11.4 1.7h.1m.4-.5h.1m10.8-.4h.1m-11.7 1.2h.1m0 .5h.1m-.1-.1h.1m-.1 .3h.1m-.5 .5h.1m0 .4h.1m.1-.8h.1m13 .5h.1m-14 1.3h.1m14.6-.3h.1m-15 .6h.1m.1 .1h.1m14.6 .4h.1m-.1 0h.1m.2 .4h.1m-15.4 1.2h.1m15.2 .2h.1m.1 .4h.1m0 .1h.1m-15.7 .5h.1m-.1-.4h.1m15.3 .9h.1m0-.4h.1m-.1-.2h.1m-16 .9h.1m15.6 .3h.1m.2-.5h.1m0 .3h.1m-16.3 1.1h.1m.3 .3h.1m.1 1.2h.1m0-.3h.1m-.3 1.1h.1m14.7-.2h.1m-14.1 1.3h.1m0 0h.1m13 .5h.1m.7-.3h.1m-13.6 1.2h.1m12.4-.2h.1m-.1 .6h.1m.1 .1h.1m.1-.5h.1m-12.3 1.4h.1m10.4 .3h.1m.2-.2h.1m0-.3h.1m.3-.1h.1m.3-.1h.1m-11.3 1.2h.1m.7 .4h.1m0-.2h.1m.2 .2h.1m8.3-.6h.1m-8.4 1.1h.1m.1 .6h.1m.4-.3h.1m.2 .1h.1m4.7 .3h.1m.8-.5h.1m.5 .5h.1m.1-.2h.1m.4-.7h.1m-6.4 1.5h.1m0-.2h.1m.3-.2h.1m.6 .7h.1m.4-.1h.1m.8-.3h.1m-.1 .2h.1m-.1-.4h.1m.2 0h.1m.6 0h.1m0-.2h.1m.2 .4h.1m.2 .1h.1" stroke="#00a7e2" stroke-width="1.0" stroke-linecap="square" stroke-opacity="1.00"/>
<path d="M208.4 216.5h.1m1.1-.4h.1m1.2-.4h.1m.5 .1h.1m-.1 0h.1m0 .5h.1m-.1 0h.1m-4.1 .8h.1m1.6-.6h.1m.1 .2h.1m4.1-.2h.1m.9 .9h.1m-8.6 .8h.1m.9-.3h.1m7.7 .3h.1m.1 .1h.1m-9.2 .3h.1m9.1 0h.1m.1 0h.1m.1 .3h.1m-10.5 .8h.1m11.4 .6h.1m0-.4h.1m-12.2 1.1h.1m0-.2h.1m12.6 .5h.1m-13.7 1.1h.1m.3-.2h.1m12.6-.5h.1m.5 .6h.1m-.1-.4h.1m-13.7 .8h.1m13.4-.1h.1m.3 .2h.1m-14.2 1.1h.1m.2-.3h.1m13.7 .1h.1m0-.2h.1m0 .9h.1m.2 .6h.1m-15 1.2h.1m0 .2h.1m14.5 .2h.1m-14.8 1.4h.1m0 .1h.1m-.1 .4h.1m13.9 .8h.1m.1-.8h.1m.1 .5h.1m-14.3 .5h.1m.2 .4h.1m13.2 .5h.1m.3-.9h.1m-.7 1.7h.1m-12.8 .7h.1m.3 .6h.1m.3-.3h.1m11.3-.6h.1m-11.4 1.5h.1m.3 .3h.1m.1 .4h.1m.2-.1h.1m8.7 .5h.1m-.1-.1h.1m.2-.2h.1m.4-.1h.1m-.1 .2h.1m-8.3 1.2h.1m0 .3h.1m.4-.1h.1m5.1 .1h.1m.1-.1h.1m.6-.3h.1m-.1-.2h.1m-7 .6h.1m.6 .1h.1m2 .9h.1m1-.5h.1m.2 .4h.1m.3-.2h.1m.1 .1h.1m.2-.6h.1m.6 .2h.1m.5-.1h.1m.2-.2h.1m-2.8 .9h.1" stroke="#02b0c8" stroke-width="1.0" stroke-linecap="square" stroke-opacity="1.00"/>
<path d="M208.4 217.3h.1m.4-.1h.1m.5 .1h.1m.5-.2h.1m.2 0h.1m-.1-.4h.1m.2-.1h.1m.4-.1h.1m.9 .5h.1m.4 .2h.1m.5 .2h.1m-5.5 .3h.1m.5 0h.1m.3-.1h.1m5 .5h.1m.1-.3h.1m0 .3h.1m.7 .3h.1m-.4 .3h.1m.2 .4h.1m-.1-.5h.1m-.1 .7h.1m0-.4h.1m.1 0h.1m-9.4 .6h.1m0 .4h.1m0-.2h.1m0-.1h.1m8.9 .2h.1m.5 .6h.1m0-.3h.1m.4 1.1h.1m0-.4h.1m.5 1.6h.1m-12.4 .4h.1m11.8 0h.1m0 .3h.1m.3 .1h.1m-12.8 .5h.1m12.4 0h.1m.1 0h.1m-13.2 1.5h.1m12.9-.3h.1m0-.3h.1m.1 .3h.1m-.1-.1h.1m-.2 1.6h.1m.1-.1h.1m0-.8h.1m0 .4h.1m-.2 1.3h.1m-.3 1.7h.1m-12.5 1.4h.1m11.7-.8h.1m-12.2 1.3h.1m.5 .2h.1m10.8 .2h.1m.4-.3h.1m-11.3 1.2h.1m.1-.3h.1m9.7 .4h.1m.2 .2h.1m.3-.4h.1m-10.3 1.2h.1m0 0h.1m.5-.1h.1m8.6-.1h.1m-.1-.1h.1m-8.2 .9h.1m6.1 .6h.1m1.4-.5h.1m-6.9 1.1h.1m.2 0h.1m1.8 .5h.1m.3-.2h.1m.3 .1h.1m.3 .1h.1m-.1-.1h.1m0 .1h.1m.4-.3h.1m.1 .2h.1m.3-.8h.1m0 .4h.1m.2 .3h.1m.3-.4h.1m.4-.2h.1m-4.5 .9h.1m2 .1h.1m-.1-.2h.1m0 .2h.1m.1-.2h.1" stroke="#05b7ac" stroke-width="1.0" stroke-linecap="square" stroke-opacity="1.00"/>
<path d="M208.4 218.4h.1m.1-.6h.1m.6 .2h.1m-.1-.2h.1m.4 0h.1m1.1-.1h.1m.2-.2h.1m1.3 .3h.1m.1 .1h.1m0 .4h.1m-.1-.5h.1m-5.6 1.1h.1m.1-.1h.1m5.5-.3h.1m.6 .5h.1m.1 0h.1m.2-.1h.1m-8.3 1.2h.1m.1 0h.1m8.3-.2h.1m.2-.4h.1m-9.3 1.2h.1m0 0h.1m-1 1.5h.1m10.9-.1h.1m-11.2 1.1h.1m11.2-.3h.1m0-.3h.1m.2 .3h.1m0 .2h.1m-12.1 1.4h.1m.2-1h.1m11.4 .9h.1m-.1-.1h.1m0-.5h.1m.1 .4h.1m-12.1 .9h.1m11.8-.2h.1m.1 .4h.1m0-.2h.1m-12.6 .5h.1m0-.1h.1m.1 2.8h.1m11.9-.2h.1m0 .2h.1m-.1-.7h.1m-.6 1.5h.1m0 .4h.1m-.1 0h.1m-1.3 1.7h.1m0 .2h.1m.4-.2h.1m-10 .6h.1m.2 .5h.1m8.7-.4h.1m.3 .2h.1m-2.1 1.3h.1m.3 .1h.1m.2-.6h.1m0-.2h.1m.5 .2h.1m-7 1.2h.1m1.3 .1h.1m.4 .1h.1m2.4-.1h.1m0-.3h.1m0 .2h.1m-.1 .3h.1m.6-.5h.1m0 .3h.1m0 0h.1m.1-.5h.1m-3.8 1.2h.1m-.1 .1h.1m0-.2h.1m.1 .2h.1m.4-.4h.1m.5 .2h.1" stroke="#08bf90" stroke-width="1.0" stroke-linecap="square" stroke-opacity="1.00"/>
<path d="M209 218.3h.1m1-.3h.1m-.1 .1h.1m.1 .1h.1m.7 .2h.1m-3.4 1h.1m.3-.2h.1m0-.2h.1m0 .2h.1m.5-.5h.1m4.1 .5h.1m-6.5 1h.1m.2 .1h.1m0-.3h.1m.1-.2h.1m.2-.1h.1m-.1-.1h.1m6.2 0h.1m.1 .3h.1m0 .2h.1m.1-.4h.1m0 .9h.1m.4 .7h.1m-.1 0h.1m0-.5h.1m.1 .7h.1m-9.6 .5h.1m0-.2h.1m.1-.3h.1m-.1 .2h.1m9.2 .3h.1m.1 .1h.1m.1 .2h.1m-10.6 1.1h.1m10.3-.7h.1m.4 .4h.1m-11.1 1h.1m10.8-.5h.1m-10.9 1.1h.1m0 0h.1m10.9-.1h.1m-.1 0h.1m-.1 0h.1m-11.5 1.8h.1m.1-.5h.1m0 .5h.1m-.3 .7h.1m11.1 0h.1m.1-.3h.1m0 .2h.1m-11.5 1.4h.1m.1-.6h.1m0 .5h.1m10.7-.6h.1m-10.9 1.3h.1m.4 .5h.1m-.5 .4h.1m.2 .3h.1m.1-.4h.1m-.1 .2h.1m9.4-.3h.1m-9.6 .9h.1m.1-.1h.1m0 .5h.1m-.1 .1h.1m.3 .1h.1m0 .2h.1m7.7 .1h.1m.1-.3h.1m.1 .1h.1m-.1 .2h.1m0-.1h.1m-.1-.1h.1m0-.8h.1m-8.8 1.1h.1m.1 .1h.1m.2 .7h.1m.1-.3h.1m.1 .1h.1m-.1-.1h.1m6.7-.2h.1m.2-.4h.1m-6.6 1.4h.1m-.1-.3h.1m.1 .1h.1m0 .6h.1m3.9 .1h.1m.9-.4h.1m-.1 .4h.1m.2-.3h.1m-4 1h.1m.1-.4h.1m-.1-.2h.1m.6 .6h.1m0 0h.1m-.1 0h.1m.1-.1h.1m.1 .1h.1m0-.3h.1m.4 0h.1m0 .3h.1m-.1-.3h.1m.5-.1h.1" stroke="#12c472" stroke-width="1.0" stroke-linecap="square" stroke-opacity="1.00"/>
<path d="M210.5 218.5h.1m-1.9 1h.1m.1-.3h.1m.4-.1h.1m.4 0h.1m1.2-.4h.1m-.1 .1h.1m0-.3h.1m0 .4h.1m-.1-.3h.1m.5 .5h.1m.1 0h.1m.2 .1h.1m0-.2h.1m.6 .4h.1m-.1 .1h.1m-5.9 .9h.1m-.1-.2h.1m.2-.4h.1m.1-.3h.1m.2 .3h.1m.2-.1h.1m4.3-.2h.1m.3 .3h.1m0 .2h.1m0 0h.1m.2 0h.1m-7 .9h.1m.5-.3h.1m6.7 .6h.1m-7.8 .6h.1m-.8 1.2h.1m0 .1h.1m.2-.5h.1m8.7 .1h.1m.2 0h.1m0 .1h.1m0 .5h.1m-10.1 .7h.1m0 .3h.1m9.7-.6h.1m-.1 0h.1m.1 .2h.1m0-.4h.1m-.1 .2h.1m-10.2 1.7h.1m10.2-.3h.1m-10.3 1.3h.1m9.7 0h.1m0-.7h.1m-.1 .7h.1m-.1-.7h.1m-.1-.1h.1m.3 .1h.1m-10.4 1.4h.1m0-.3h.1m9.8 .7h.1m.1-.5h.1m-10.1 1h.1m0 .1h.1m9.3-.4h.1m.2-.2h.1m-9.9 1.3h.1m-.1-.2h.1m0 .8h.1m9.1-.2h.1m.1 .1h.1m-9.1 .7h.1m0 .4h.1m0-.4h.1m.1 .3h.1m7.8 .1h.1m.3-.8h.1m-7.8 1.5h.1m6.3 .1h.1m.9-.7h.1m0 0h.1m-7.8 1.1h.1m0 .1h.1m.1-.2h.1m.1 .4h.1m0-.3h.1m0 .6h.1m0-.3h.1m4.5 .4h.1m.1 .1h.1m0-.3h.1m.5 .3h.1m-4.9 .3h.1m-.1-.2h.1m.2 .4h.1m-.1-.2h.1m0 0h.1m.2 .4h.1m1.6-.1h.1m.9-.3h.1m0 .1h.1" stroke="#24c853" stroke-width="1.0" stroke-linecap="square" stroke-opacity="1.00"/>
<path d="M210.3 219.3h.1m.3 0h.1m.4 .1h.1m.1-.2h.1m-3.5 1.2h.1m.8-.4h.1m.4-.5h.1m2.5 .2h.1m0-.1h.1m.1 .1h.1m0-.2h.1m0 .4h.1m.1 .1h.1m.2 .3h.1m-5.6 .8h.1m.2 0h.1m-.1-.2h.1m6-.2h.1m-6.8 1.3h.1m-.1-.3h.1m7 .2h.1m-.1-.4h.1m0 0h.1m.2 1h.1m-8.4 .7h.1m.4-.6h.1m7.7 0h.1m.5 .8h.1m-9 .4h.1m0 .2h.1m8.5 .2h.1m0-.1h.1m0-.5h.1m0 .1h.1m0 .6h.1m-9.4 .7h.1m-.1-.4h.1m9.2 .9h.1m0-.2h.1m-.1-.2h.1m-9.5 1h.1m9.2-.1h.1m0-.3h.1m-9.7 .8h.1m.2 1h.1m9.1 0h.1m-9 .3h.1m-.1 .2h.1m8.5-.2h.1m-.1 .3h.1m.1 .1h.1m-9 .9h.1m0 0h.1m.1-.2h.1m.1 .2h.1m7.9 .1h.1m0 .1h.1m.1-.7h.1m-8.4 1.2h.1m0 .5h.1m.2 .2h.1m-.1-.2h.1m6.8 .1h.1m-.1 .1h.1m-.1-.4h.1m0 .3h.1m-6.7 .5h.1m0-.3h.1m.1 .5h.1m.1-.1h.1m.2 .3h.1m.1 .1h.1m4.3 .1h.1m.4-.3h.1m0-.6h.1m.4 0h.1m-6.2 .9h.1m.3 .1h.1m.3 .1h.1m0 .3h.1m.1 .2h.1m0-.3h.1m.3 .5h.1m0 0h.1m0-.3h.1m.3 .3h.1m.8-.2h.1m.3-.1h.1m0-.2h.1m-.1 .2h.1m.2 .1h.1m-.1 0h.1m-.1-.3h.1m.3 .1h.1m.1 .1h.1m0-.5h.1m.2 .2h.1m.1-.1h.1m-1.6 .8h.1" stroke="#35cb33" stroke-width="1.0" stroke-linecap="square" stroke-opacity="1.00"/>
<path d="M208.9 220.4h.1m.6-.2h.1m.2-.4h.1m.5 .1h.1m.2 .1h.1m.1-.3h.1m.5 .1h.1m-.1 .1h.1m-3.7 1h.1m.2-.3h.1m.2 .1h.1m-.1-.1h.1m-.1 .2h.1m3.8-.2h.1m.6 .4h.1m0 .3h.1m-.1-.1h.1m-6 .5h.1m.1 .4h.1m.1-.6h.1m5.8 .3h.1m0-.2h.1m-.1 .2h.1m.2 .2h.1m0-.1h.1m-.1 .1h.1m.1 .3h.1m-7.6 .6h.1m-.1 .4h.1m0-.3h.1m7.2-.2h.1m-.1 .2h.1m0 .1h.1m0 .3h.1m.1-.4h.1m-8.2 .8h.1m0 .6h.1m0-.9h.1m8.2 .8h.1m-8.7 .5h.1m8.1-.1h.1m0-.1h.1m.1 .6h.1m-8.7 1h.1m8.7-.2h.1m-8.5 1.1h.1m7.9-.2h.1m0-.4h.1m0 .3h.1m0-.2h.1m0 .1h.1m-8.3 1.8h.1m0-.2h.1m-.1 .1h.1m7.7-.3h.1m-7.7 1h.1m.1 0h.1m6.5 0h.1m-6.6 .8h.1m.2-.1h.1m5.5 .2h.1m0 .5h.1m.2-.5h.1m.1-.4h.1m-6.2 1h.1m.4-.1h.1m.1 .6h.1m.4-.1h.1m.1 .1h.1m.4 .1h.1m.1 .2h.1m1.7 0h.1m.1 0h.1m-.1-.2h.1m.5-.5h.1m0 .7h.1m-.1-.2h.1m0 0h.1m.1-.6h.1m.1 .1h.1m-4 1h.1m.6 .3h.1m1.2-.4h.1m.1 .3h.1m0-.4h.1m.2 .3h.1m.4-.2h.1" stroke="#54ce21" stroke-width="1.0" stroke-linecap="square" stroke-opacity="1.00"/>
<path d="M209.6 220.4h.1m.5 0h.1m.2 .1h.1m-.1-.4h.1m.1 .3h.1m.4 .1h.1m.1-.1h.1m-2.9 1h.1m.7-.5h.1m1-.3h.1m.4-.1h.1m.6 .1h.1m.3 .4h.1m.1-.1h.1m0-.1h.1m.1 0h.1m.5 .7h.1m-5.7 1h.1m0-.1h.1m.2-.8h.1m.1 .4h.1m.1-.4h.1m5 .6h.1m0 .2h.1m-.1-.3h.1m-6 .8h.1m5.9-.3h.1m.4 .3h.1m0 .5h.1m-7.4 .8h.1m.1 .1h.1m6.8-.6h.1m0 .5h.1m.1-.5h.1m-.1 .6h.1m-7.5 .7h.1m0-.1h.1m-.1 .3h.1m7.2 0h.1m0-.2h.1m.1 .3h.1m-7.9 .7h.1m0 .2h.1m-.1-.2h.1m7.3 0h.1m0 .1h.1m-.1 .1h.1m-.4 1h.1m-7 1.1h.1m.2 .2h.1m-.1-.4h.1m6.3 .1h.1m0-.3h.1m0-.4h.1m-.1 .9h.1m-6.9 .2h.1m0 0h.1m5.9 .6h.1m.2-.3h.1m.3-.2h.1m-6.1 1.2h.1m.1 .4h.1m.1-.1h.1m0-.2h.1m-.1 .1h.1m.8 .4h.1m3.4-.2h.1m-4.1 .4h.1m.6 .3h.1m0-.3h.1m0 .3h.1m.3-.2h.1m-.1-.1h.1m.4 .1h.1m.2 .4h.1m.1 .1h.1m.4-.7h.1m0 0h.1m0 .3h.1" stroke="#7dd116" stroke-width="1.0" stroke-linecap="square" stroke-opacity="1.00"/>
<path d="M208.7 221.5h.1m.4-.4h.1m.2 .2h.1m0-.4h.1m.4-.2h.1m-.1 .1h.1m.2 .1h.1m.1 0h.1m.8 .1h.1m.2 0h.1m0 .1h.1m-.1 .3h.1m0-.4h.1m-.1 0h.1m.2 .4h.1m0 0h.1m.1 0h.1m-4.6 .9h.1m0-.1h.1m.1-.4h.1m.6-.1h.1m-.1-.2h.1m3.7 .8h.1m.3 .1h.1m.1 .1h.1m-5.9 .8h.1m.1-.6h.1m0 .3h.1m0-.2h.1m0-.2h.1m5.4 1h.1m0 .1h.1m-6.6 1.7h.1m6.7 0h.1m-.1-.1h.1m0-.7h.1m-7.1 1.4h.1m0-.4h.1m0 .4h.1m-.1 .2h.1m6.4 0h.1m0-.6h.1m-6.7 1.7h.1m0-.3h.1m0 .4h.1m6.2-.6h.1m.1-.3h.1m0 .4h.1m-6.7 .9h.1m-.1 0h.1m.1-.3h.1m0 .6h.1m5.4 .3h.1m.2-.1h.1m0-.1h.1m-6 .4h.1m.2 0h.1m.1 .4h.1m-.1 0h.1m-.1-.1h.1m4.3 .6h.1m.1-.8h.1m-.1 .8h.1m.1-.2h.1m-4.8 .2h.1m0 .1h.1m.8 .4h.1m.3 .4h.1m0-.2h.1m-.1 0h.1m.2 .3h.1m.2 0h.1m.2-.2h.1m0 0h.1m.7-.2h.1m-.1-.1h.1m.2 .3h.1m-2.3 .2h.1m1 .2h.1" stroke="#a5d40a" stroke-width="1.0" stroke-linecap="square" stroke-opacity="1.00"/>
<path d="M210.3 221.4h.1m.6 0h.1m-2.2 .7h.1m0 0h.1m.3-.3h.1m.5 0h.1m-.1-.2h.1m0 .1h.1m.2-.1h.1m.3 .1h.1m.3-.1h.1m.9 .5h.1m0 .3h.1m0-.5h.1m.1 .2h.1m-4.6 1h.1m0 .4h.1m-.1-.4h.1m.1-.4h.1m4 0h.1m.4 .2h.1m-.1-.1h.1m-5.2 1.4h.1m-.1 .2h.1m0 .1h.1m5.2-.4h.1m0-.4h.1m-.1 .1h.1m0 0h.1m-.1 .3h.1m-.1 .2h.1m-6 1h.1m-.1-.4h.1m-.1-.1h.1m.2 .6h.1m-.1-.6h.1m5.6 .7h.1m-.1-.5h.1m.1-.2h.1m-6 1.6h.1m5.5-.1h.1m-.1-.1h.1m-.1-.5h.1m0 .1h.1m0-.2h.1m.1 .3h.1m-6.2 .6h.1m0 .3h.1m0 .1h.1m0 0h.1m-.1 .1h.1m5.1 .4h.1m0-.7h.1m-.1-.1h.1m.1-.1h.1m-5.6 1.4h.1m0-.2h.1m0-.1h.1m-.1 .1h.1m4.4 .4h.1m.1 .4h.1m0-.7h.1m.1 0h.1m.1-.2h.1m-5 1.3h.1m0 .1h.1m.2-.4h.1m-.1 .6h.1m.1-.2h.1m.4 .4h.1m.5 .1h.1m.1-.1h.1m.3 .1h.1m.8-.1h.1m.1-.1h.1m.2-.4h.1m.1 .1h.1m.4-.3h.1m-.1-.1h.1m-.1 .1h.1m-2.3 1.2h.1m.1-.4h.1m0 .3h.1m-.1-.2h.1m.2 .4h.1m0-.1h.1m-.1-.1h.1m0-.2h.1" stroke="#cdd600" stroke-width="1.0" stroke-linecap="square" stroke-opacity="1.00"/>
<path d="M210 221.9h.1m.1 .1h.1m0 .1h.1m.5-.1h.1m.1 0h.1m0-.1h.1m.5 .2h.1m.2 .2h.1m-3.7 1.1h.1m-.1 0h.1m.1 .1h.1m0-.3h.1m3-.6h.1m.1 .2h.1m.3 .4h.1m-.1-.2h.1m0 0h.1m-4.6 1.3h.1m.2 .2h.1m0-.5h.1m0-.2h.1m4.3 .4h.1m-.1 .2h.1m-5.1 .6h.1m-.1 .4h.1m0 0h.1m-.1-.5h.1m-.1 .6h.1m0-.4h.1m.1-.3h.1m4.5-.2h.1m-.1 .7h.1m-.1-.1h.1m0-.6h.1m-5.3 1.2h.1m.3 0h.1m0 .4h.1m4.5-.4h.1m-.1-.3h.1m.1 .2h.1m-5 1.2h.1m4.4 .2h.1m0 .3h.1m0-.5h.1m-.1-.2h.1m-4.6 1.2h.1m0-.4h.1m.1 .1h.1m-.1 .5h.1m0-.2h.1m-.1 .5h.1m.1 0h.1m-.1-.2h.1m3-.1h.1m.1 .1h.1m0-.3h.1m0-.1h.1m0-.3h.1m0 .1h.1m-3.7 1.2h.1m0 0h.1m.1 .1h.1m.4-.1h.1m0 .1h.1m.1 0h.1m0 .2h.1m0 0h.1m-.1-.3h.1m.1 .6h.1m0-.2h.1m-.1-.2h.1m.1 .3h.1m-.1-.6h.1m0 .2h.1m-.1 .4h.1m.1-.5h.1m.2-.1h.1m.1 .2h.1m-.1 0h.1m0-.3h.1m.3-.1h.1" stroke="#deba00" stroke-width="1.0" stroke-linecap="square" stroke-opacity="1.00"/>
<path d="M210.4 222.3h.1m0 .2h.1m0-.1h.1m0 .1h.1m.2-.2h.1m.1 .1h.1m-2.1 .7h.1m0 .1h.1m.1-.2h.1m0-.1h.1m.1-.2h.1m.2-.2h.1m-.1 .1h.1m.8 0h.1m.2 .4h.1m-.1 0h.1m0 0h.1m.2-.4h.1m-.1 .6h.1m.1 .3h.1m0-.1h.1m.1 0h.1m0 0h.1m0 .1h.1m-3.9 .9h.1m0-.3h.1m.2 .2h.1m0-.3h.1m2.8-.5h.1m-.1 .1h.1m0 0h.1m0 .2h.1m0-.2h.1m0 .7h.1m0-.6h.1m0 .5h.1m-4.3 .9h.1m0-.5h.1m.1 0h.1m0 .2h.1m3.7 .5h.1m-.1-.7h.1m0 .6h.1m0 .2h.1m-4.3 1h.1m0-.1h.1m0-.6h.1m3.6 .2h.1m-.1 .5h.1m0-.5h.1m0-.4h.1m-.1 .8h.1m.1 0h.1m-.1-.4h.1m-.1-.1h.1m-4 1.7h.1m0-.5h.1m-.1 .1h.1m3.1-.5h.1m.4 0h.1m-3.9 1h.1m.1 .3h.1m.2 .3h.1m-.1-.5h.1m.4 .7h.1m.3-.1h.1m.1-.3h.1m0 .3h.1m0-.2h.1m.1 .3h.1m.1 0h.1m0 0h.1m.1-.6h.1m0 .1h.1m.3 .1h.1m0 0h.1m-1.9 .7h.1" stroke="#f09e00" stroke-width="1.0" stroke-linecap="square" stroke-opacity="1.00"/>
<path d="M209.7 223.3h.1m.3 .2h.1m-.1-.1h.1m0 .1h.1m.1-.1h.1m.3 0h.1m-.1 0h.1m.4-.1h.1m-2.3 1h.1m.5-.7h.1m-.1 .3h.1m0 .3h.1m-.1-.7h.1m0 .4h.1m-.1-.1h.1m-.1-.1h.1m.3-.1h.1m-.1 0h.1m.1 0h.1m.4-.1h.1m.3 .1h.1m0 .3h.1m-.1 .3h.1m.3-.6h.1m0 .3h.1m-.1 .5h.1m0-.1h.1m-.1-.4h.1m-3.1 1.5h.1m.1-.3h.1m-.1 .1h.1m.1-.3h.1m-.1-.2h.1m2.4-.1h.1m-.1 .3h.1m0 .1h.1m-3.3 .8h.1m0 .1h.1m.2 .2h.1m-.1 .3h.1m-.1-.8h.1m-.1 0h.1m0 .5h.1m-.1 .3h.1m0-.3h.1m-.1 0h.1m2.3 0h.1m0-.5h.1m-.1 .1h.1m0 .7h.1m-.1-.2h.1m-.1 .2h.1m0-.4h.1m-.1-.1h.1m0 .1h.1m-.1 .3h.1m0-.6h.1m-3.2 1.2h.1m.1-.1h.1m-.1 .1h.1m.1-.3h.1m-.1 .5h.1m.2-.2h.1m.1 .5h.1m.7 .1h.1m.1-.1h.1m.3-.5h.1m-.1 .2h.1m.2 0h.1m.1-.1h.1m-2.2 .7h.1m.2 0h.1m0-.1h.1m.4 .1h.1m.1 .1h.1m.2-.1h.1m0 0h.1" stroke="#fd8100" stroke-width="1.0" stroke-linecap="square" stroke-opacity="1.00"/>
<path d="M210.1 224.3h.1m-.1 0h.1m.2 0h.1m0-.4h.1m.2 .4h.1m.1 0h.1m0 0h.1m-1.5 .4h.1m.1 .4h.1m.1 .2h.1m-.1-.8h.1m0 .2h.1m-.1 .3h.1m0 .5h.1m-.1-.5h.1m0 .2h.1m-.1-.2h.1m.1 0h.1m.1-.5h.1m-.1 .8h.1m.1-.5h.1m0 0h.1m-.1 .1h.1m.2 .3h.1m.1 .1h.1m0 0h.1m0-.3h.1m-2.4 .7h.1m.1 .6h.1m0-.8h.1m-.1 1h.1m.1-.9h.1m-.1 .5h.1m.1 0h.1m0-.3h.1m0 0h.1m-.1 0h.1m0 .7h.1m-.1-.6h.1m0 .3h.1m.1-.4h.1m.1-.2h.1m.4 .9h.1m-.1-.5h.1m0 0h.1m-.1 .4h.1m-.1-.2h.1m-1.4 .7h.1m.1-.3h.1m0 .1h.1m0 .4h.1m.1-.2h.1m0-.1h.1" stroke="#f65700" stroke-width="1.0" stroke-linecap="square" stroke-opacity="1.00"/>
<line x1="221.2" y1="167" x2="221.2" y2="252.4" stroke="#1a1a1a" stroke-width="0.9"/>
<line x1="181.3" y1="214.6" x2="266" y2="214.6" stroke="#1a1a1a" stroke-width="0.9"/>
<text x="183.3" y="177.09" font-size="7.4" font-weight="bold" text-anchor="start" fill="#111">1.93</text>
<text x="264.5" y="177.09" font-size="7.4" font-weight="bold" text-anchor="end" fill="#111">1.38</text>
<text x="183.3" y="247.49" font-size="7.4" font-weight="bold" text-anchor="start" fill="#111">95.5</text>
<text x="264.5" y="247.49" font-size="7.4" font-weight="bold" text-anchor="end" fill="#111">1.18</text>
<line x1="179.7" y1="175.5" x2="181.3" y2="175.5" stroke="#444" stroke-width="0.5"/>
<text x="179.1" y="176.72" font-size="3.5" text-anchor="end" fill="#333">10&#8309;</text>
<line x1="179.7" y1="195" x2="181.3" y2="195" stroke="#444" stroke-width="0.5"/>
<text x="179.1" y="196.22" font-size="3.5" text-anchor="end" fill="#333">10&#8308;</text>
<line x1="179.7" y1="218" x2="181.3" y2="218" stroke="#444" stroke-width="0.5"/>
<text x="179.1" y="219.22" font-size="3.5" text-anchor="end" fill="#333">10&#179;</text>
<line x1="179.7" y1="233" x2="181.3" y2="233" stroke="#444" stroke-width="0.5"/>
<text x="179.1" y="234.22" font-size="3.5" text-anchor="end" fill="#333">0</text>
<line x1="179.7" y1="247" x2="181.3" y2="247" stroke="#444" stroke-width="0.5"/>
<text x="179.1" y="248.22" font-size="3.5" text-anchor="end" fill="#333">-10&#179;</text>
<line x1="194" y1="252.4" x2="194" y2="254" stroke="#444" stroke-width="0.5"/>
<text x="194" y="258.03" font-size="3.5" text-anchor="middle" fill="#333">-10&#178;</text>
<line x1="211" y1="252.4" x2="211" y2="254" stroke="#444" stroke-width="0.5"/>
<text x="211" y="258.03" font-size="3.5" text-anchor="middle" fill="#333">0</text>
<line x1="239.5" y1="252.4" x2="239.5" y2="254" stroke="#444" stroke-width="0.5"/>
<text x="239.5" y="258.03" font-size="3.5" text-anchor="middle" fill="#333">10&#8308;</text>
<line x1="252.5" y1="252.4" x2="252.5" y2="254" stroke="#444" stroke-width="0.5"/>
<text x="252.5" y="258.03" font-size="3.5" text-anchor="middle" fill="#333">10&#8309;</text>
<rect x="179.4" y="231.6" width="1.7" height="2.8" fill="#111"/>
<rect x="205" y="252.8" width="6" height="1.5" fill="#111"/>
<path d="M167.5 208.8V263.4H222.5" fill="none" stroke="#222" stroke-width="0.9"/>
<path d="M165.9 209.4L167.5 205.8L169.1 209.4z" fill="#222"/>
<path d="M221.9 261.8L225.5 263.4L221.9 265z" fill="#222"/>
<text transform="translate(163.6,242.3) rotate(-90)" x="0" y="2.31" font-size="6.6" font-weight="bold" text-anchor="middle" fill="#111" textLength="35.4" lengthAdjust="spacingAndGlyphs">KI67-BV605</text>
<text x="170.4" y="270.71" font-size="6.6" font-weight="bold" text-anchor="start" fill="#111" textLength="35.4" lengthAdjust="spacingAndGlyphs">CD137-APC</text>
<rect x="296.3" y="167" width="83.2" height="84.3" fill="#fff" stroke="#666" stroke-width="0.8"/>
<path d="M355.8 185h.1m-5.4 1.5h.1m-.5 1.2h.1m-4.1 1.8h.1m.4-.1h.1m14.6 2h.1m-15 2.2h.1m-2.5 1.2h.1m20.1 2.4h.1m-20.6 2.5h.1m20.7 0h.1m-.3 2.1h.1m-24.4 1.1h.1m24.1 0h.1m.5 1.9h.1m-20.7 .7h.1m19.3 0h.1m-26.2 1.7h.1m7.2 .2h.1m-18.9 .2h.1m10.8 1.8h.1m5.7-.2h.1m.3 .3h.1m-5.2 .2h.1m1.9 1.8h.1m1.5-.8h.1m.5 .5h.1m1 .3h.1m-20.1 .8h.1m6.4-.8h.1m16.8 .9h.1m-4.1 .2h.1m14.4 .7h.1m-27.8 .9h.1m11.6 .1h.1m-3.9 .2h.1m6.3 .3h.1m4.8 .1h.1m4.4-.1h.1m-18.6 1h.1m3.1 .4h.1m6.3-.3h.1m-22.9 1.1h.1m8.1 .5h.1m5.2-.4h.1m2.7-.4h.1m-14.7 1.6h.1m3.3 .8h.1m15.6 .4h.1m10.6-.4h.1m3 1.3h.1m-30 .9h.1m23.9-.8h.1m-24.3 1.6h.1m5.9-.1h.1m-11.9 1.2h.1m1.1-.4h.1m.7 .1h.1m9.7 .3h.1m16.2-.3h.1m-36.1 1.6h.1m3.3 .7h.1m35.1 .1h.1m-7.1 .5h.1m3.1 .6h.1m-4.1 1.4h.1m9.6-.2h.1m-4.1 1.2h.1m-1.2 1.3h.1m-43.5 2.1h.1m48.6-.2h.1m1.5-.1h.1m-.7 3.5h.1m4.4-.7h.1m-56.6 1.6h.1m1.5 2.5h.1m52.3 2.3h.1m6-.3h.1m-53.8 3h.1m4.7 3.4h.1m-1.2 .8h.1m8.6-.3h.1m5.9-.1h.1m5.5 .1h.1m6.4 .2h.1m-15.1 1.3h.1m15.6-.1h.1m4.1 .1h.1" stroke="#161ffa" stroke-width="1.0" stroke-linecap="square" stroke-opacity="0.50"/>
<path d="M351 189.3h.1m-.8 1.8h.1m-1.5 1.3h.1m1.5-.7h.1m10.1 .5h.1m-12.3 .7h.1m13.2 1.7h.1m-16.3 2.1h.1m16.5-.1h.1m-.5 4.4h.1m.1-.3h.1m-.5 1.9h.1m.2 .4h.1m-.1 1.5h.1m-16.5 .9h.1m.6-.7h.1m13.7 2.2h.1m.1-.1h.1m.4 .5h.1m-13.9 1.4h.1m11 .3h.1m-1.1 .8h.1m-2.6 1.3h.1m-5.4 1.3h.1m2.6-.5h.1m1.6-.2h.1m1.2 .4h.1m-18.2 6.1h.1m.7 .9h.1m3.7 .1h.1m-1.7 1h.1m-1.3 2.2h.1m-5.4 .4h.1m5.4 .1h.1m.9 .1h.1m1.8-.4h.1m-6.8 1.6h.1m3.2-.6h.1m-14.4 1.3h.1m8.8-.1h.1m1.7-.2h.1m1.7 .3h.1m-20.8 1.3h.1m.7 .2h.1m.8 .1h.1m.7-.2h.1m6-.4h.1m5.8 .2h.1m4.5-.1h.1m5.9-.4h.1m-26.5 1.3h.1m1.1-.2h.1m12.3 .8h.1m3.2-.3h.1m2.8-.7h.1m-21.1 1.2h.1m15-.1h.1m2 .3h.1m2-.1h.1m1.9 .1h.1m1.1 .1h.1m5.7-.5h.1m-31.5 2h.1m.3-.8h.1m20.2 0h.1m1.7 .5h.1m.1-.6h.1m2.5 .1h.1m-26.5 1.2h.1m23.6-.3h.1m1.4 0h.1m2.3 .2h.1m3.6 .7h.1m-32.5 .7h.1m31.7-.7h.1m2.6 .2h.1m.4 .7h.1m2.1-.3h.1m3.1 .2h.1m-2 .4h.1m.1 .8h.1m-39.2 0h.1m-.9 1.9h.1m-1.4 .3h.1m46.7 0h.1m1.2 .6h.1m-48.8 1h.1m1.1 0h.1m.6 .2h.1m0-.9h.1m43.8 .7h.1m-45.2 .2h.1m1.1 .9h.1m47.4 .4h.1m-3.1 1.6h.1m2.8-.2h.1m-3.4 1.3h.1m1.6 .8h.1m-43.8 1.9h.1m.5-.5h.1m40.8 .1h.1m-5.3 1.6h.1m.1-.2h.1m2.5-.3h.1m-34.7 .8h.1m29.1 .2h.1m5.4-.4h.1m-34.3 1h.1m1.2 1h.1m.6-.2h.1m0-.3h.1m.1 0h.1m15.8-.3h.1m1.3 .1h.1m.9 .2h.1m1.1 .2h.1m3.1 .3h.1m2-.9h.1m.1 .3h.1m1.9 0h.1m-16.9 1.1h.1" stroke="#112dfb" stroke-width="1.0" stroke-linecap="square" stroke-opacity="0.58"/>
<path d="M351.4 191.4h.1m1-.3h.1m3.5 .3h.1m-5.3 .8h.1m-.8 .8h.1m.3-.3h.1m8.5 .6h.1m-9.6 .7h.1m10.3 .8h.1m.1 .9h.1m.4-.1h.1m-13.3 1.1h.1m-.6 1.5h.1m0 .3h.1m13.8 2.2h.1m-14.1 1.4h.1m-.1 .8h.1m13.9 .4h.1m-.7 .7h.1m-.8 .8h.1m.3-.3h.1m-12.9 1.2h.1m1 1.7h.1m.1-.8h.1m10.3 .6h.1m-10.9 .9h.1m1.3-.2h.1m.5 .5h.1m7.2-.6h.1m-9.1 .9h.1m1.2 .8h.1m1.1-.7h.1m2.3 .5h.1m3.8-.7h.1m-2.2 1.5h.1m-37.4 17.1h.1m3.9-.5h.1m2.6 .6h.1m.7 .1h.1m-11.7 .8h.1m0 0h.1m.5 0h.1m0 .3h.1m.8-.7h.1m.8-.3h.1m6.1 .1h.1m-11.5 1.7h.1m1.6-.5h.1m-2.9 1.3h.1m1.6-.2h.1m19 0h.1m2.1 .2h.1m-.8 .7h.1m1.9-.2h.1m2 .4h.1m3.1 .9h.1m.2-.2h.1m-31.2 1.7h.1m.2-.7h.1m35.9 .3h.1m-.3 1h.1m-37.2 1.2h.1m.3-.3h.1m0-.3h.1m39.5 .4h.1m1.1-.2h.1m-41.3 1.4h.1m40.2-.1h.1m.3 .1h.1m0 .3h.1m-40.6 .6h.1m40.1-.3h.1m1.4 .1h.1m-41.2 3.5h.1m41.8-.6h.1m-42 1h.1m38.9 .5h.1m.1-.3h.1m-.1-.3h.1m.4 .7h.1m-1.7 .6h.1m.5 0h.1m-3.6 1.1h.1m1-.4h.1m2.2-.2h.1m-33.7 2h.1m16.1-.1h.1m7.6-.1h.1m.6-.1h.1m.5 .3h.1m.4-.3h.1m1.4 0h.1m.2-.4h.1m.5-.1h.1m3.1 .2h.1m1.3-.4h.1m-22.9 1.8h.1m1.2-.1h.1m1.1-.2h.1m0-.3h.1m2 .5h.1m.6-.5h.1m7.9 .5h.1m.8-.7h.1m.1 .4h.1m.7-.2h.1" stroke="#0b3afc" stroke-width="1.0" stroke-linecap="square" stroke-opacity="0.67"/>
<path d="M355.6 192h.1m.5 .4h.1m-4.1 .6h.1m.2-.2h.1m4 .6h.1m.7-.6h.1m-.1 1.3h.1m0 .1h.1m.2-.2h.1m.4-.1h.1m-.1-.3h.1m.1 .3h.1m-.8 .6h.1m1.9 1.8h.1m-11.1 1.1h.1m-.1-.9h.1m10.6 1h.1m-11.6 .1h.1m12.3 1.7h.1m-12.9 .9h.1m.2-.4h.1m11.7 .1h.1m-12.4 2.1h.1m-.1 1.1h.1m.2-.6h.1m.4 1h.1m11.3-.7h.1m-11.4 1.1h.1m.2 .4h.1m10.4-.7h.1m-11.2 1.2h.1m.7 .2h.1m.4 1h.1m8 .5h.1m0-.6h.1m-6.8 1.4h.1m0 .1h.1m6.4-.9h.1m-6.4 1.3h.1m.3 .2h.1m3-.1h.1m.3 .4h.1m.2-.7h.1m.4 .9h.1m.7-1h.1m-39.5 20.8h.1m.8 .2h.1m.1-.4h.1m2 .3h.1m1.6-.5h.1m-8.7 1.3h.1m.3 .2h.1m.1-.4h.1m.1-.1h.1m.9 .4h.1m10.7-.2h.1m-12.5 .7h.1m.1 0h.1m13-.3h.1m2.1 .4h.1m.1 .3h.1m0-.2h.1m-17.5 .6h.1m17.8 .5h.1m.1-.6h.1m0 .1h.1m.8 .5h.1m-20.7 .8h.1m-1.2 1.4h.1m.1-.5h.1m.1 .2h.1m0-.4h.1m24.4 .3h.1m1.4-.2h.1m1.2 .2h.1m1.7 0h.1m-30.4 1.5h.1m.2-.7h.1m31.2-.1h.1m2.3 .8h.1m.5-.6h.1m-34.4 1.2h.1m35.6-.4h.1m.4 0h.1m-37 1.7h.1m0 .1h.1m36.9-.6h.1m.8-.2h.1m.2 0h.1m.9 .4h.1m-1.2 .6h.1m1.4 .4h.1m.5 .3h.1m-40 1.1h.1m0-.7h.1m.2 0h.1m.3 .2h.1m37.4-.3h.1m0 .7h.1m-37.6 .6h.1m.5 .9h.1m-.1 .5h.1m.5 .2h.1m36.4-.5h.1m0 .4h.1m.5-.9h.1m-37 1.5h.1m-.1-.3h.1m35.1 .8h.1m-33.2 1h.1m30.5-.2h.1m.3-.7h.1m0 .1h.1m-31.3 1.2h.1m.6 .3h.1m.7-.1h.1m16.7 .1h.1m2.2 0h.1m1.5 .1h.1m1.4 .1h.1m.9 0h.1m2.2-.4h.1m.8 .3h.1m2.8-.5h.1m-28.8 1.1h.1m5.2 .4h.1m1 0h.1m4.4-.3h.1m1.9 .2h.1m.4-.3h.1m1.3-.1h.1m5.4 0h.1m2.1-.2h.1m2.6 .1h.1m-21.8 1.1h.1m1.2 .2h.1m1.4 .1h.1m-.1-.1h.1m1.5-.3h.1m.9 .2h.1" stroke="#0648fd" stroke-width="1.0" stroke-linecap="square" stroke-opacity="0.75"/>
<path d="M353.7 193.7h.1m-3.4 2.2h.1m-.1 .1h.1m7.3 .1h.1m-8 .8h.1m-.9 1.3h.1m.2-.2h.1m9.4 .3h.1m-10 .6h.1m-.7 1.1h.1m-.1 .1h.1m10.6-.3h.1m.3 0h.1m-10.9 1.4h.1m.2-.7h.1m10.1 .5h.1m-.5 .9h.1m-9.2 2.5h.1m-.8 .2h.1m.3 .7h.1m7.9-.5h.1m-7.5 1.2h.1m5.8 .3h.1m.2-.4h.1m-5.3 .7h.1m.3 .3h.1m0-.3h.1m1.5 .6h.1m.3 .3h.1m.8-.7h.1m1.8 .1h.1m-4.4 .7h.1m.8 0h.1m-31.5 20.8h.1m-5.5 .8h.1m-.1 0h.1m3.2-.5h.1m.7 .3h.1m1.8-.1h.1m.1-.4h.1m1.8 .6h.1m.1 .3h.1m-8.9 .4h.1m10-.2h.1m-.1-.1h.1m.5 .6h.1m.1 .2h.1m.7-.4h.1m.9 .4h.1m-15.7 .7h.1m14.3-.5h.1m.7 0h.1m-17.1 2h.1m1-.6h.1m0 .1h.1m19.4 .6h.1m-21 1.3h.1m23.8-.1h.1m.9 .2h.1m1.3 .4h.1m.2-.5h.1m.8 .2h.1m.4 .1h.1m-29 .7h.1m.1 .4h.1m29.2-.8h.1m.8 .4h.1m.8-.2h.1m1.3-.1h.1m1 .8h.1m0-.1h.1m-34 1.1h.1m33.3-.6h.1m0-.3h.1m.5 .9h.1m-33.9 1h.1m.1-.4h.1m34.5 .5h.1m.2-.3h.1m.3-.6h.1m.4 .7h.1m-.8 .9h.1m.7 0h.1m0-.6h.1m-.5 1.8h.1m.3-.3h.1m-35.8 .6h.1m.8-.1h.1m.1 .5h.1m.1 .6h.1m31 .3h.1m.2 .2h.1m.5 .1h.1m-30.7 .3h.1m0 .3h.1m0-.1h.1m.5 .5h.1m15.4 .2h.1m2.6 0h.1m.3-.1h.1m6 0h.1m1.3-.3h.1m-.1 .4h.1m.2-.1h.1m0-.3h.1m.3-.1h.1m.6-.3h.1m-24.7 1.7h.1m1.1 0h.1m7.3-.2h.1m2.8-.2h.1m0 .1h.1m.4-.5h.1m.5 .4h.1m1.6 0h.1m2.7-.4h.1m-.1 .5h.1m2.5-.2h.1m2.4-.3h.1m-19.7 1.2h.1m.1 .3h.1m.2-.4h.1m.2 .2h.1m0 .2h.1m.3 0h.1m2.5-.3h.1m.5-.1h.1m1.2-.1h.1" stroke="#0155fe" stroke-width="1.0" stroke-linecap="square" stroke-opacity="0.83"/>
<path d="M353.8 194.3h.1m.9-.1h.1m-3.7 1.3h.1m.7-.4h.1m.4-.2h.1m1.6-.2h.1m1.2 .1h.1m.9 .4h.1m-5.8 1.3h.1m.1-.6h.1m.3 .1h.1m.1-.3h.1m5.8 .7h.1m.1 1.1h.1m-8.3 1.2h.1m.1 .7h.1m0-.2h.1m8.8 .2h.1m-.3 1h.1m-9.2 1.1h.1m.1-.2h.1m0 .1h.1m8.4-.9h.1m.4 .2h.1m-9.6 1.5h.1m.4-.3h.1m-.1 .5h.1m8 .9h.1m.4-.8h.1m-8.4 1h.1m.6 .8h.1m5.7 .1h.1m.4-.4h.1m-7 .7h.1m.2 0h.1m5.9 .3h.1m.2-.3h.1m-5.4 1.5h.1m.6-.6h.1m0 0h.1m.3 .1h.1m0 .8h.1m.1-.1h.1m.5 0h.1m-.1-.1h.1m0-.2h.1m.3-.2h.1m.2 .1h.1m-.1-.1h.1m.1 .4h.1m-1.2 .5h.1m.1-.2h.1m-36.3 22.9h.1m4.6 0h.1m2 .1h.1m.4 .2h.1m-10.4 1.3h.1m.6-.2h.1m-.1-.2h.1m11 .1h.1m.8-.1h.1m.2 .3h.1m.4 .1h.1m.1 .5h.1m1.4 .6h.1m1.3 .7h.1m.3 .3h.1m-20.5 .9h.1m.6 0h.1m.1-.4h.1m20.5 .4h.1m.4 .3h.1m.2-.1h.1m1.1-.1h.1m.5 .1h.1m1.8 .2h.1m-26.3 .8h.1m.5-.5h.1m21.8 0h.1m2-.1h.1m.8-.1h.1m.1 .1h.1m.8 .5h.1m-26.6 .6h.1m.2 .4h.1m28.7-.1h.1m0-.3h.1m.3 .2h.1m.1-.2h.1m.5 .1h.1m.6 0h.1m.8 .1h.1m-32.2 .9h.1m.2 0h.1m30.7 .2h.1m0-.4h.1m-.1 .2h.1m.6 .6h.1m0-.7h.1m.2-.1h.1m.3 .4h.1m-32.7 1h.1m.2 .1h.1m31-.5h.1m.7 .8h.1m.1-.5h.1m.1-.1h.1m.1 .2h.1m-.1-.4h.1m0 .7h.1m-1.1 1h.1m.4-.6h.1m-.1 0h.1m0 .3h.1m.9 .1h.1m0-.6h.1m.2-.1h.1m-32.7 1.9h.1m.3 .1h.1m29.2-.8h.1m.2 0h.1m-.1-.2h.1m.3 .4h.1m.4-.3h.1m.1 .6h.1m-30 1.1h.1m0-.3h.1m.5 .5h.1m.2-.1h.1m20.3 0h.1m2.8-.1h.1m3 0h.1m.2-.5h.1m-26.6 1.1h.1m.1 .4h.1m11.2 .1h.1m.9 0h.1m1-.4h.1m-.1 .2h.1m.7 0h.1m.1-.4h.1m.6-.1h.1m.1-.2h.1m.3 0h.1m.2 .7h.1m.2-.1h.1m1.7 0h.1m.2-.4h.1m-.1-.1h.1m.1 .4h.1m.1-.2h.1m.2-.1h.1m.9 .5h.1m2-.3h.1m.1-.1h.1m.1 0h.1m.6 0h.1m.1-.2h.1m1 .3h.1m.5-.3h.1m-23.9 1.1h.1m1.3 .4h.1m.4-.2h.1m0 .2h.1m1.1 .2h.1m0-.2h.1m1.3 0h.1m.1 .2h.1m2.8 0h.1m.8-.6h.1m.9 .2h.1m.4 .1h.1m.9-.2h.1m.4-.2h.1" stroke="#0068f9" stroke-width="1.0" stroke-linecap="square" stroke-opacity="0.92"/>
<path d="M352.7 195.4h.1m.9-.3h.1m.6-.2h.1m-2.9 1.2h.1m.8-.3h.1m3.5-.1h.1m.1 .1h.1m-5.1 1h.1m.3-.1h.1m0 0h.1m4.5 0h.1m.3 .5h.1m.1 .3h.1m-6.6 .2h.1m.1 .1h.1m-.1-.2h.1m.3 0h.1m6.4 1.6h.1m0 .1h.1m-8 1.1h.1m.1-.3h.1m7.4 .3h.1m0-.6h.1m.1 .3h.1m-8.1 1.3h.1m7.7-.5h.1m.3 .1h.1m-8 1.1h.1m7.2-.4h.1m0 .2h.1m-7.2 1.5h.1m-.1-.6h.1m.5 .4h.1m6.1-.3h.1m-6.5 .9h.1m0-.3h.1m5.2 .5h.1m-.1 .2h.1m.1-.2h.1m-4.9 .6h.1m.3-.1h.1m0 .3h.1m.1 .1h.1m.3 0h.1m2.4 .2h.1m.9-.6h.1m-2.6 1.1h.1m-35.6 24.6h.1m-.1 0h.1m.6-.4h.1m1.4 0h.1m2.7 .2h.1m1 .5h.1m.4-.1h.1m-.1 0h.1m-10.4 .9h.1m.3 .2h.1m.2-.1h.1m.3-.2h.1m.1-.2h.1m8.3-.3h.1m.6 .1h.1m1.3 .2h.1m-13 1.4h.1m.7-.3h.1m12.9-.3h.1m.5 0h.1m-15 1.3h.1m-.1 .3h.1m.2-.3h.1m15-.3h.1m0 .1h.1m.2-.1h.1m.2 .5h.1m.2-.1h.1m.3-.1h.1m0 .2h.1m0-.1h.1m0 .9h.1m0 .1h.1m.1-.4h.1m.5 .3h.1m.9 .4h.1m0 0h.1m-20.4 1.3h.1m20.5-.3h.1m.6 .5h.1m0-.4h.1m-.1 0h.1m.3-.1h.1m.2 .3h.1m0-.2h.1m.1 .5h.1m.1 .2h.1m1.1-.4h.1m.2-.1h.1m.1 .7h.1m-.1-.6h.1m.4 .2h.1m.3 .1h.1m.3 .2h.1m.1 0h.1m0-.3h.1m.8 0h.1m.1 0h.1m.7-.1h.1m-27.8 1h.1m25.7-.5h.1m.8 .2h.1m.2 .3h.1m-.1-.2h.1m1.3-.2h.1m-.1-.1h.1m-28.5 1.1h.1m.5 .7h.1m27.3-.8h.1m.1 .6h.1m0-.2h.1m1.2 .4h.1m.1-.1h.1m.5-.1h.1m.1 0h.1m-30.5 .9h.1m.4 0h.1m.2 .3h.1m26.6-.4h.1m.2 0h.1m1 .2h.1m-.1-.5h.1m.3 .7h.1m.3-.5h.1m-.1 .4h.1m.4-.3h.1m-.1 0h.1m-11.3 1.4h.1m.5 0h.1m1.8 0h.1m3.4 .1h.1m-.1-.2h.1m.1 .3h.1m.1 0h.1m.1-.7h.1m-.1 .5h.1m0-.1h.1m.5 .3h.1m0-.5h.1m.2-.1h.1m.1-.4h.1m.4 .6h.1m.2 .2h.1m.3 0h.1m-.1-.1h.1m.1-.7h.1m.3 .2h.1m-.1 0h.1m0 .3h.1m.1 .1h.1m.1-.2h.1m-27.3 .7h.1m.1 .2h.1m.5 .5h.1m13.9-.3h.1m.4 .3h.1m.1 0h.1m.3 .1h.1m.6-.2h.1m.3-.4h.1m.8 .2h.1m2.1 .2h.1m0-.5h.1m.1 .4h.1m.3-.5h.1m0 .6h.1m-.1 0h.1m.2-.5h.1m1 .1h.1m0 0h.1m.1 .1h.1m.7-.1h.1m0 .3h.1m-.1-.2h.1m1.8-.2h.1m.1 .1h.1m-24.1 1h.1m-.1 0h.1m1.7 .7h.1m5.7 0h.1m1.4-.1h.1m1.7-.4h.1m.8-.5h.1m-8.7 1h.1m.8 .2h.1m2.7-.2h.1m0 .3h.1m0-.1h.1m-.1 0h.1m.4 .1h.1" stroke="#007df1" stroke-width="1.0" stroke-linecap="square" stroke-opacity="1.00"/>
<path d="M352.9 196.3h.1m1.4-.2h.1m.2 .1h.1m.6 .2h.1m.3-.1h.1m-4.3 1h.1m.5-.3h.1m-.1 .1h.1m.8-.6h.1m2.8 .3h.1m-4.9 1.1h.1m-.5 .9h.1m.1 .3h.1m5.8 .3h.1m0 0h.1m0-.7h.1m.1 .5h.1m-6.6 .8h.1m0 .2h.1m-.4 .4h.1m.1 .3h.1m.1-.2h.1m-.5 1.3h.1m.4 .2h.1m.1 .2h.1m5.5-.6h.1m-.1 .4h.1m.1-.6h.1m-5.7 1.3h.1m4.2 .4h.1m.5-.8h.1m-.1 .5h.1m-4.5 .8h.1m.6 .4h.1m.5 .1h.1m.2 .1h.1m-.1-.2h.1m.5 .3h.1m.4-.2h.1m.1-.1h.1m.1-.1h.1m0-.3h.1m.1 .6h.1m.1-.6h.1m-2.3 .9h.1m-.1 0h.1m-.1 .2h.1m-34.5 25.6h.1m.3-.2h.1m.7 0h.1m1.2 .1h.1m-5.3 .8h.1m1.2-.6h.1m3.1 0h.1m.2-.1h.1m1.1 .3h.1m.5 0h.1m0-.1h.1m1.5 .3h.1m.2 .3h.1m.3-.1h.1m-10 .5h.1m10.3-.2h.1m-12.8 1.8h.1m14.5-.4h.1m.1 .4h.1m.2-.3h.1m-15.2 .8h.1m15.2-.2h.1m.3 0h.1m-15.9 .9h.1m16.9 .2h.1m.1-.1h.1m.1 .4h.1m.3 .1h.1m-18.8 1.4h.1m.1-.7h.1m19-.1h.1m.3 .1h.1m.1 0h.1m.5 .2h.1m.2 .3h.1m-20.9 1h.1m.3-.2h.1m18.4-.6h.1m0 0h.1m1 1h.1m.1 0h.1m.4-.5h.1m.5 .3h.1m0 .2h.1m.7-.1h.1m.5 .1h.1m.1-.7h.1m2.1 .3h.1m-.1 .4h.1m.3-.1h.1m.1 0h.1m.1 0h.1m.5 .1h.1m-26.3 .2h.1m.1 .2h.1m19.2 .5h.1m-.1 .1h.1m.1-.7h.1m.1-.2h.1m.3 .5h.1m0 .2h.1m.3-.4h.1m-.1 .2h.1m.2-.4h.1m1.4 .1h.1m1.1 .4h.1m.3-.4h.1m1.8-.2h.1m-.1 .2h.1m-.1 0h.1m-26.1 .8h.1m.1 0h.1m.7 .7h.1m16.9-.3h.1m.9 0h.1m-.1-.2h.1m1 .2h.1m.4-.1h.1m.3 .1h.1m.3 .3h.1m.4-.7h.1m.3 .7h.1m0-.3h.1m1 .2h.1m0-.4h.1m-.1 .7h.1m0-.1h.1m.1-.1h.1m1-.1h.1m.3-.1h.1m.3-.4h.1m0-.1h.1m.5 .4h.1m-11 1.3h.1m1.1-.3h.1m0 .3h.1m.1-.4h.1m-.1-.2h.1m6.6 0h.1m-20.8 1.2h.1m.3 .5h.1m.2-.1h.1m8.8 .1h.1m1-.3h.1m-.1 0h.1m.3 .2h.1m1.6-.8h.1m-.1 .1h.1m.5 0h.1m0-.1h.1m-11.7 1.6h.1m.2 .1h.1m.1-.3h.1m1.7 .5h.1m0 0h.1m.3-.1h.1m2-.2h.1m.1 .2h.1m.7-.4h.1m.1 .3h.1m0-.1h.1m.7-.1h.1m.1-.5h.1m0 .2h.1m.7 .1h.1" stroke="#0092e9" stroke-width="1.0" stroke-linecap="square" stroke-opacity="1.00"/>
<path d="M352.4 197.5h.1m-.1-.1h.1m.6-.3h.1m.4-.3h.1m.4-.1h.1m.9 .2h.1m.7 .4h.1m-4.2 .9h.1m0 0h.1m.2-.3h.1m.1-.1h.1m-1 .9h.1m-.1 0h.1m5.2 .2h.1m-.1 .5h.1m-.1-.2h.1m-5.6 1h.1m5.3-.4h.1m0-.1h.1m-.1 .1h.1m-5.5 1.5h.1m0-.4h.1m4.8 .3h.1m0-.7h.1m0 .7h.1m-5.1 .4h.1m4.3 .4h.1m-4 1.4h.1m.4-.4h.1m-.1 .5h.1m.2 0h.1m2.2-.3h.1m.1-.4h.1m-2.2 .8h.1m-35.9 27.8h.1m.1-.3h.1m.5 0h.1m0 .2h.1m.1-.3h.1m0 .2h.1m.4-.3h.1m.4 .2h.1m.2-.3h.1m2.7 .3h.1m.3 .1h.1m.2 .3h.1m0-.1h.1m-8.4 .7h.1m.3-.1h.1m.4-.2h.1m8.2-.1h.1m-.1-.1h.1m0 .1h.1m1.1 .8h.1m-11.4 .7h.1m.1-.7h.1m12.3 .4h.1m-13.7 1.3h.1m0 .1h.1m-.1-.2h.1m.3-.4h.1m13.8 0h.1m.7 .5h.1m.4 .9h.1m-.3 .6h.1m.1 .3h.1m.4 .4h.1m0 0h.1m0-.7h.1m0 .3h.1m.2 .3h.1m.3 0h.1m-17.9 .5h.1m-.1 .2h.1m16.9-.4h.1m.3 .6h.1m.1 .1h.1m.2-.7h.1m-1.4 1.8h.1m0 0h.1m.3-.4h.1m.3-.3h.1m0-.1h.1m-.1 .2h.1m0 .1h.1m-.1-.2h.1m0 .2h.1m0 .1h.1m.4-.1h.1m-.1 .6h.1m.2-.7h.1m-18.1 1.1h.1m0 0h.1m14.6 .4h.1m.3-.4h.1m.3 .4h.1m.1-.2h.1m.2 .1h.1m0-.4h.1m0 .3h.1m.4-.1h.1m-16.2 .7h.1m.1 0h.1m.1 0h.1m.6 .8h.1m11.9-.6h.1m.3 .2h.1m.1-.5h.1m.3 .4h.1m.1-.2h.1m-13.3 .9h.1m.5-.1h.1m0 0h.1m9.3 .3h.1m.1 .1h.1m-.1-.1h.1m.3-.1h.1m.4-.1h.1m-7.8 1.1h.1m0 0h.1m.3 .2h.1m.1-.3h.1m1.1 .1h.1m1.4-.1h.1" stroke="#00a7e2" stroke-width="1.0" stroke-linecap="square" stroke-opacity="1.00"/>
<path d="M354 197.1h.1m.8 .4h.1m-.1-.2h.1m-.1 .1h.1m-2.2 .6h.1m0-.3h.1m0 .1h.1m.2 .1h.1m-.1-.4h.1m1.2 .1h.1m.6 .2h.1m0 0h.1m.1 .3h.1m-.1-.1h.1m0 0h.1m.1 .2h.1m-.1 .1h.1m.1 .2h.1m-4 .3h.1m3.2-.3h.1m.4 .8h.1m0 .1h.1m-.1 .4h.1m-4.6 .8h.1m.4 .3h.1m3.4 .5h.1m.5-.6h.1m-.1 .3h.1m-4.2 .6h.1m2.8 .7h.1m.2-.2h.1m.2-.6h.1m0 .4h.1m-3.1 .8h.1m.2 .1h.1m0 .3h.1m.5-.2h.1m-34 28.2h.1m-.1 0h.1m.2 0h.1m.2 0h.1m-4 .9h.1m1.2-.4h.1m.1 .1h.1m2.9-.3h.1m0 0h.1m1.8 .1h.1m0 .1h.1m.8 .1h.1m.4 .5h.1m-10 1.1h.1m.2 0h.1m9.9-.7h.1m0-.1h.1m.2 .2h.1m.2 .3h.1m.3 0h.1m.2 0h.1m0 .1h.1m-12.6 1h.1m12.8-.3h.1m.3-.1h.1m-13.4 1.3h.1m-.1-.5h.1m13.4-.1h.1m.6 .8h.1m-14.4 .4h.1m-.1 .2h.1m14.4-.3h.1m.2 .4h.1m-.1 .1h.1m.2 0h.1m-15.6 .9h.1m-.1-.1h.1m.1 0h.1m0-.3h.1m15.3 .3h.1m.2 .4h.1m-15.8 .9h.1m.1-.2h.1m-.1 .1h.1m14.1 .2h.1m.5 0h.1m.1-.5h.1m.1 .3h.1m-15 .4h.1m.2 .4h.1m12.6 .2h.1m.1 .4h.1m0-.4h.1m.2-.2h.1m-.1-.2h.1m-12.9 .9h.1m.4 .2h.1m.4 .6h.1m9.8-.3h.1m0 0h.1m0 0h.1m0-.4h.1m.2-.1h.1m.2 .1h.1m.3-.1h.1m-10.2 1.1h.1m.7 .5h.1m.5 0h.1m-.1 0h.1m.2 .1h.1m.1 .2h.1m.1-.2h.1m.1-.1h.1m.2 .2h.1m2.2-.1h.1m-.1-.2h.1m.2 .1h.1m0 .2h.1m-.1 0h.1m0-.1h.1m.5-.1h.1m0 0h.1m.5-.3h.1m.6 .1h.1m.5-.2h.1m.2-.1h.1m-.1-.2h.1m-6.1 1h.1m2.4 .1h.1" stroke="#02b0c8" stroke-width="1.0" stroke-linecap="square" stroke-opacity="1.00"/>
<path d="M353.3 198.1h.1m0-.2h.1m-.1 .4h.1m0-.2h.1m.1 .3h.1m.3-.2h.1m-.1-.3h.1m-.1 .5h.1m.5-.5h.1m-2.5 1.5h.1m.3-.3h.1m-.1 .1h.1m.6-.6h.1m1.2 .1h.1m.6 .5h.1m-3.2 1.2h.1m.1-.6h.1m3.1 .3h.1m0 .4h.1m-3.6 .4h.1m2.5 .4h.1m.3 0h.1m0 .1h.1m0-.5h.1m.1-.1h.1m-3.2 .9h.1m.3 .1h.1m.4 .6h.1m1.1-.1h.1m.1-.3h.1m0-.3h.1m-38.2 30.5h.1m.2 .1h.1m.4-.2h.1m.6 0h.1m.6-.2h.1m.9 0h.1m.1-.3h.1m.5 .1h.1m.1 .1h.1m.1-.1h.1m.1-.1h.1m-.1 .4h.1m1.4 .3h.1m0-.2h.1m-.1 .3h.1m-.1-.4h.1m.1 .2h.1m-6.9 .3h.1m.1 .2h.1m7.7 .3h.1m.1 .1h.1m0-.1h.1m.2 .2h.1m.2 0h.1m.3 .3h.1m-11.4 .9h.1m.5-.8h.1m10.1-.1h.1m.2 .3h.1m.1-.1h.1m.3 .1h.1m-.1 .1h.1m.4 .5h.1m-12.7 .7h.1m.1 .3h.1m0-.9h.1m.1 .3h.1m12.4 .7h.1m.3-.1h.1m-13.4 .4h.1m13 .5h.1m.1-.6h.1m.3 .4h.1m.1 .3h.1m-14.3 .5h.1m13.6-.2h.1m.3 .1h.1m0 .3h.1m-.1-.3h.1m0 .2h.1m-.1 .3h.1m-14.1 .7h.1m.6 .4h.1m12.2-.8h.1m.3 .5h.1m.1 .1h.1m-.1-.4h.1m0 .4h.1m-.1-.6h.1m0 .1h.1m-13.4 1.1h.1m-.1-.1h.1m.1 .3h.1m0 0h.1m0 .2h.1m11.2 .1h.1m-.1-.2h.1m.2 0h.1m.7-.5h.1m-11.5 1h.1m7.6 .9h.1m.4-.4h.1m.6 0h.1m.3-.5h.1m-.1 .2h.1m.4-.1h.1m-8.2 1.1h.1m-.1-.1h.1m.1-.1h.1m.3 .1h.1m1.6 .5h.1m.2-.3h.1m.3 .3h.1m.9-.2h.1m.3-.1h.1m.2 .1h.1m.8-.4h.1" stroke="#05b7ac" stroke-width="1.0" stroke-linecap="square" stroke-opacity="1.00"/>
<path d="M353 199.1h.1m.3 .4h.1m0-.3h.1m.3-.6h.1m0 .7h.1m0-.2h.1m0-.5h.1m-.1 .1h.1m.1 .1h.1m0 .6h.1m0-.6h.1m-1.9 .8h.1m.3 .3h.1m-.1 0h.1m.2-.2h.1m.6 .5h.1m.1-.6h.1m-.1 .7h.1m.2-.8h.1m.1 .6h.1m.1-.1h.1m-2.3 .8h.1m0 .3h.1m.2 .2h.1m.1-.7h.1m-.1 .1h.1m0-.1h.1m.1 .3h.1m0-.1h.1m0 .2h.1m.1-.4h.1m0 .3h.1m.2 .1h.1m.1 0h.1m-1.4 .7h.1m.2-.1h.1m.3 .1h.1m-36.9 30.8h.1m1.1-.3h.1m0 .1h.1m.1-.1h.1m.8-.2h.1m.3 .1h.1m.1 .1h.1m.2-.2h.1m.5 .1h.1m.3 0h.1m.2 .3h.1m-5.3 .4h.1m.1 .1h.1m.2-.1h.1m.1-.1h.1m5.8 .3h.1m.2 0h.1m0 0h.1m.1 0h.1m.1 .4h.1m.5-.2h.1m0 .2h.1m-10 1h.1m.2-.4h.1m0 .3h.1m8.9-.7h.1m.7 .5h.1m-10.6 .6h.1m0-.2h.1m.1 .1h.1m10.8 .1h.1m0-.2h.1m.4 .7h.1m.3 .3h.1m-.2 .7h.1m-.1 0h.1m-12.3 .9h.1m.1 .1h.1m-.1 .2h.1m-.1 0h.1m11.7-.8h.1m0 .3h.1m0 .3h.1m.1 0h.1m-.1-.4h.1m0 .1h.1m-12.4 .7h.1m11.2 .8h.1m-.1 0h.1m.1-.7h.1m0 .1h.1m.2 .1h.1m.1 0h.1m-11.2 1.1h.1m.5 .5h.1m9.1-.5h.1m-9.7 .5h.1m.5 .1h.1m.4 .3h.1m.9 .4h.1m.1 .1h.1m.1 .1h.1m4.1-.3h.1m2.1-.5h.1m-5.9 .8h.1m.5 .2h.1m.6 0h.1m.3-.1h.1m-.1 0h.1m-.1 0h.1m.7 .1h.1m-.1-.1h.1" stroke="#08bf90" stroke-width="1.0" stroke-linecap="square" stroke-opacity="1.00"/>
<path d="M318.4 232.5h.1m-.7 .3h.1m.1-.1h.1m.2 .1h.1m0-.2h.1m.2-.1h.1m1.5 0h.1m1.5 .2h.1m.3 0h.1m.9 .4h.1m-8.1 1.4h.1m.1-.3h.1m.1 .2h.1m.3-.6h.1m0-.1h.1m.2-.1h.1m7.3 .1h.1m.3-.1h.1m.3 .7h.1m-.1-.4h.1m.2 .5h.1m-10.2 1.1h.1m10.4-.3h.1m.2-.2h.1m0 .2h.1m-11.1 1.2h.1m.2-.4h.1m-.1-.1h.1m10.3-.3h.1m.6 .7h.1m-11.6 .5h.1m0 .2h.1m0 .2h.1m10.7-.3h.1m.2 .4h.1m.2 0h.1m-11.3 .3h.1m0 .4h.1m.3 .2h.1m9.5 .1h.1m.3-.4h.1m-.1 .6h.1m0-.3h.1m.1-.2h.1m.2-.3h.1m-10.8 .8h.1m.4 .3h.1m.5 .7h.1m7.1 0h.1m.2-.3h.1m.6 0h.1m.1-.6h.1m.1 .1h.1m-8.5 .9h.1m.2 .1h.1m.1 .2h.1m.1 0h.1m0 0h.1m.2 0h.1m.6 .3h.1m.2 .2h.1m-.1 0h.1m3-.2h.1m.2-.3h.1m.4 .1h.1" stroke="#12c472" stroke-width="1.0" stroke-linecap="square" stroke-opacity="1.00"/>
<path d="M317.1 233.4h.1m.7-.4h.1m.1 .1h.1m1.2-.2h.1m1.1-.2h.1m-.1 0h.1m.1 0h.1m.9 .2h.1m.2 .2h.1m0 .1h.1m.2 .1h.1m.6 .1h.1m-7.3 .9h.1m.2 .1h.1m-.1-.4h.1m0 0h.1m.5-.5h.1m.2 0h.1m5.4 .1h.1m.4 .2h.1m-7.8 1.6h.1m0-.1h.1m.1-.4h.1m0-.1h.1m8.7 .6h.1m-.1-.1h.1m.1-.4h.1m-.1 .2h.1m-9.9 .9h.1m0 0h.1m0 .1h.1m9.4-.4h.1m.2 .7h.1m0-.5h.1m.2 .5h.1m-10.6 .3h.1m-.1 .1h.1m0-.2h.1m.1 .5h.1m9.5-.2h.1m.3 .5h.1m0-.1h.1m-10.1 .4h.1m.1 0h.1m-.1 .2h.1m.1 .3h.1m8.2 .3h.1m.5-1h.1m.2 .7h.1m-9 .4h.1m0 .1h.1m.6 .6h.1m-.1 0h.1m5.9 .1h.1m.3 0h.1m0-.3h.1m.3-.5h.1m.3 0h.1m.2-.1h.1m-6 1.5h.1m.7 .1h.1m.3 0h.1m.7-.2h.1m.2 0h.1m.9 0h.1" stroke="#24c853" stroke-width="1.0" stroke-linecap="square" stroke-opacity="1.00"/>
<path d="M318.1 233.4h.1m0 0h.1m0 0h.1m.2-.2h.1m0 0h.1m.1 0h.1m1-.1h.1m0 .1h.1m-3.8 1.3h.1m.1 0h.1m6.1-.7h.1m.1 0h.1m-7.2 1.2h.1m0 .2h.1m.1-.2h.1m0-.5h.1m.1 .1h.1m7.5 .5h.1m.1 0h.1m0-.2h.1m0 .3h.1m.1 .4h.1m-.1 .8h.1m-8.9 .6h.1m8.4 .2h.1m0 0h.1m.2-.3h.1m-.1 .5h.1m.1-.8h.1m-9.1 1h.1m.2 .5h.1m7.7-.1h.1m-.1 0h.1m0-.1h.1m-7.8 .7h.1m0 .2h.1m.5 .1h.1m4.9 .4h.1m1-.5h.1m0 .1h.1m-4.1 .9h.1m1.3 .1h.1" stroke="#35cb33" stroke-width="1.0" stroke-linecap="square" stroke-opacity="1.00"/>
<path d="M318.9 233.3h.1m.8 .2h.1m-.1-.1h.1m.2 .1h.1m.1-.2h.1m-3.1 .7h.1m.3 0h.1m1.3-.5h.1m1.8 .1h.1m.3 0h.1m.1 .1h.1m0 .1h.1m.1-.1h.1m.3 .1h.1m.3 .4h.1m-6.4 .6h.1m.1 0h.1m-.1 .2h.1m-.1-.4h.1m.2 0h.1m0 0h.1m6.1 .2h.1m.2 .3h.1m0 .3h.1m-7.8 .5h.1m0 .1h.1m-.1 .4h.1m7.8 0h.1m-8 .1h.1m0 .9h.1m0 .1h.1m0-.2h.1m7.7-.5h.1m0 .1h.1m-.1 .4h.1m0-.2h.1m-8.3 .4h.1m6.7 .9h.1m.5-.4h.1m-.1 .2h.1m.2-.5h.1m-.1 .1h.1m0-.2h.1m-6.9 1h.1m0 0h.1m.3 .3h.1m0 .2h.1m.2 0h.1m0 0h.1m0 .1h.1m.3 0h.1m.6 .2h.1m1.8 .1h.1m.2-.2h.1m.5-.3h.1m.5-.1h.1m.1-.3h.1m0 0h.1m.1 0h.1m-4.1 .9h.1m.9 .1h.1m.4 0h.1m.2-.1h.1" stroke="#54ce21" stroke-width="1.0" stroke-linecap="square" stroke-opacity="1.00"/>
<path d="M317.1 234.5h.1m.2-.2h.1m.1 0h.1m1.3-.7h.1m1.1 .1h.1m.4 .1h.1m.2-.1h.1m.1 .2h.1m.1 .1h.1m.7 .3h.1m0 .1h.1m0 0h.1m0 0h.1m-5.8 .8h.1m5.6-.6h.1m.1 0h.1m.2 .1h.1m0 .5h.1m-.1-.3h.1m-.1 .2h.1m0 .4h.1m.1-.1h.1m0 0h.1m-7.1 .3h.1m6.8 .3h.1m0-.1h.1m0-.2h.1m-.1-.1h.1m-.1 .6h.1m0-.4h.1m0 .5h.1m-7.7 .3h.1m0 .3h.1m0 .4h.1m.2 0h.1m6.6 .2h.1m0-.6h.1m0 .6h.1m0-.5h.1m-7.1 .8h.1m0-.1h.1m.3 .5h.1m.3 .2h.1m5 0h.1m0-.3h.1m-.1 0h.1m.2-.5h.1m0 .1h.1m-.1 .2h.1m0 .1h.1m-5.6 .7h.1m1 .4h.1m1.6 0h.1m.2 .1h.1m.4-.2h.1m.5-.2h.1" stroke="#7dd116" stroke-width="1.0" stroke-linecap="square" stroke-opacity="1.00"/>
<path d="M318.2 234.4h.1m0-.1h.1m.6-.3h.1m.2 .1h.1m.2-.1h.1m.3-.2h.1m.3 .2h.1m.5 .1h.1m.2 0h.1m.1 .1h.1m-.1 .1h.1m0-.2h.1m-4.9 1.2h.1m.2 .1h.1m.2-.6h.1m.1-.3h.1m0 .1h.1m4.4 .3h.1m0-.1h.1m.1 .2h.1m-.1-.1h.1m0 .2h.1m-.1 .1h.1m0 .1h.1m-.1-.2h.1m-6.1 .7h.1m-.1 .2h.1m0-.5h.1m0 .2h.1m5.9-.1h.1m0 .1h.1m-6.5 .9h.1m-.1 .5h.1m0-.4h.1m-.1 .2h.1m-.1-.3h.1m-.1 .7h.1m.1-.3h.1m0 .4h.1m5.9-.6h.1m0-.2h.1m0 .6h.1m0-.5h.1m0 0h.1m-6 1.5h.1m0 .1h.1m0-.1h.1m0 .1h.1m0 0h.1m.1 .2h.1m3.8-.2h.1m.4-.1h.1m.1-.5h.1m0 .2h.1m-4.4 .8h.1m.9 .2h.1m.1 .1h.1m.4-.2h.1m.2 .1h.1m.6-.2h.1m-.1 0h.1m0 0h.1m-.1-.1h.1m-.1 0h.1m.4 0h.1" stroke="#a5d40a" stroke-width="1.0" stroke-linecap="square" stroke-opacity="1.00"/>
<path d="M318.4 234.5h.1m.7-.3h.1m.6 .1h.1m.2-.2h.1m-.1 .1h.1m.1-.1h.1m-.1 .3h.1m0 0h.1m.3 0h.1m.1 0h.1m.1 0h.1m.1 .1h.1m-3.9 .6h.1m0-.4h.1m.2-.1h.1m.2 0h.1m.3-.1h.1m3.3 .8h.1m0-.1h.1m-5.4 .7h.1m0 .1h.1m-.1 .2h.1m-.1-.1h.1m.1-.4h.1m5-.1h.1m.4 .4h.1m-6 .5h.1m-.1 .1h.1m.1 .6h.1m0 .1h.1m5-.2h.1m0 .4h.1m-5.3 .1h.1m.1 0h.1m-.1 0h.1m0 .2h.1m.8 .7h.1m.2-.1h.1m.1 .1h.1m2.2-.1h.1m.7-.6h.1m-3.1 .8h.1m.7 0h.1m0 .1h.1m0-.1h.1m.1 .1h.1m-.1 .1h.1m.2-.2h.1m.5-.1h.1" stroke="#cdd600" stroke-width="1.0" stroke-linecap="square" stroke-opacity="1.00"/>
<path d="M319.5 234.5h.1m.5-.1h.1m-2.4 1h.1m-.1-.2h.1m-.1 .2h.1m.4-.4h.1m0-.2h.1m0 .1h.1m0-.1h.1m1.7-.2h.1m.6 .4h.1m-.1-.2h.1m.4 .2h.1m-4.4 1.4h.1m-.1 0h.1m.1-.4h.1m0-.1h.1m4.5 0h.1m-.1 .1h.1m0 .4h.1m-5 .6h.1m0 0h.1m0 0h.1m.1 .3h.1m4 0h.1m.1-.4h.1m0 .4h.1m-.1-.2h.1m-4.2 .7h.1m.6 .5h.1m.1 .1h.1m-.1 0h.1m.9 .1h.1m.5-.3h.1m0 .1h.1m0-.2h.1m.3 .1h.1m-.1-.2h.1m.3 0h.1m0-.5h.1m0 .2h.1m.1 0h.1m-2.1 .8h.1" stroke="#deba00" stroke-width="1.0" stroke-linecap="square" stroke-opacity="1.00"/>
<path d="M318.6 235.3h.1m.5-.5h.1m.2 0h.1m-.1 .1h.1m.1-.2h.1m.2 .2h.1m0-.1h.1m0 .2h.1m.2-.2h.1m.3 .1h.1m0 .3h.1m-.1 .1h.1m-3.5 .8h.1m0-.4h.1m3.8 .3h.1m-.1 .1h.1m0-.2h.1m0-.2h.1m0 .2h.1m-4.3 1.2h.1m-.1 .1h.1m0-.5h.1m3.6 .5h.1m.2-.4h.1m-.1-.2h.1m0 0h.1m-.1 .1h.1m-.1 .3h.1m.1-.3h.1m-4.1 .9h.1m.1 .1h.1m.1-.2h.1m.3 .5h.1m.1 .1h.1m-.1-.2h.1m.1 .3h.1m0-.1h.1m.1 0h.1m1-.3h.1m0 .1h.1m-.1-.1h.1" stroke="#f09e00" stroke-width="1.0" stroke-linecap="square" stroke-opacity="1.00"/>
<path d="M318.9 235.5h.1m.4-.2h.1m0-.2h.1m0 .1h.1m0 .1h.1m.2 0h.1m0 0h.1m0 .1h.1m.5 .1h.1m-2.9 .9h.1m.3-.6h.1m0-.1h.1m-.1-.1h.1m.3-.1h.1m1.9 .1h.1m.2 .3h.1m0 0h.1m0 0h.1m-.1 .4h.1m0-.3h.1m-.1 .2h.1m-3.6 .8h.1m.3 0h.1m-.1 0h.1m0 .1h.1m-.1 0h.1m.1 .3h.1m1.9 .1h.1m.3-.2h.1m.1 0h.1m-2.5 .3h.1m.1 .2h.1m.2 0h.1m0 .1h.1m.1-.2h.1m0 .2h.1m.7-.3h.1m-.1 .1h.1m.1-.1h.1" stroke="#fd8100" stroke-width="1.0" stroke-linecap="square" stroke-opacity="1.00"/>
<path d="M318.4 236.5h.1m0-.3h.1m.1-.4h.1m0-.1h.1m-.1 .4h.1m0-.1h.1m-.1 .1h.1m-.1 .1h.1m.3-.4h.1m-.1 0h.1m.4-.3h.1m0 .4h.1m.1-.1h.1m.1-.2h.1m0 .1h.1m0 .8h.1m-.1-.6h.1m0-.3h.1m0 .5h.1m-.1 .1h.1m0-.4h.1m0 .3h.1m0 .1h.1m-.1 0h.1m0-.1h.1m-2.7 .7h.1m0 .2h.1m-.1-.2h.1m0-.1h.1m0 .3h.1m.1-.4h.1m-.1 .7h.1m0-.6h.1m-.1 .1h.1m-.1 .3h.1m0 0h.1m.1 .3h.1m.1-.1h.1m.3 .1h.1m.2-.1h.1m0 .1h.1m-.1-.3h.1m-.1 .2h.1m-.1 0h.1m-.9 .2h.1" stroke="#f65700" stroke-width="1.0" stroke-linecap="square" stroke-opacity="1.00"/>
<path d="M319.2 236.4h.1m-.1-.3h.1m.2-.1h.1m0 .2h.1m-.1-.2h.1m.2 .1h.1m0 .3h.1m0-.3h.1m0 .3h.1m-.1 0h.1m0 .1h.1m-1.1 0h.1m-.1 .1h.1m-.1 0h.1m.1 0h.1m-.1 .1h.1m-.1 0h.1m.2 .3h.1m.1-.1h.1m0-.4h.1m0 .4h.1" stroke="#ee2d00" stroke-width="1.0" stroke-linecap="square" stroke-opacity="1.00"/>
<line x1="329.6" y1="167" x2="329.6" y2="251.3" stroke="#1a1a1a" stroke-width="0.9"/>
<line x1="296.3" y1="228.4" x2="379.5" y2="228.4" stroke="#1a1a1a" stroke-width="0.9"/>
<text x="298.3" y="177.09" font-size="7.4" font-weight="bold" text-anchor="start" fill="#111">1.65</text>
<text x="378" y="177.09" font-size="7.4" font-weight="bold" text-anchor="end" fill="#111">21.6</text>
<text x="298.3" y="246.39" font-size="7.4" font-weight="bold" text-anchor="start" fill="#111">65.1</text>
<text x="378" y="246.39" font-size="7.4" font-weight="bold" text-anchor="end" fill="#111">11.6</text>
<line x1="294.7" y1="175" x2="296.3" y2="175" stroke="#444" stroke-width="0.5"/>
<text x="294.1" y="176.22" font-size="3.5" text-anchor="end" fill="#333">10&#8309;</text>
<line x1="294.7" y1="194" x2="296.3" y2="194" stroke="#444" stroke-width="0.5"/>
<text x="294.1" y="195.22" font-size="3.5" text-anchor="end" fill="#333">10&#8308;</text>
<line x1="294.7" y1="213" x2="296.3" y2="213" stroke="#444" stroke-width="0.5"/>
<text x="294.1" y="214.22" font-size="3.5" text-anchor="end" fill="#333">10&#179;</text>
<line x1="294.7" y1="237.5" x2="296.3" y2="237.5" stroke="#444" stroke-width="0.5"/>
<text x="294.1" y="238.72" font-size="3.5" text-anchor="end" fill="#333">0</text>
<line x1="303.5" y1="251.3" x2="303.5" y2="252.9" stroke="#444" stroke-width="0.5"/>
<text x="303.5" y="256.93" font-size="3.5" text-anchor="middle" fill="#333">-10&#179;</text>
<line x1="322" y1="251.3" x2="322" y2="252.9" stroke="#444" stroke-width="0.5"/>
<text x="322" y="256.93" font-size="3.5" text-anchor="middle" fill="#333">0</text>
<line x1="343" y1="251.3" x2="343" y2="252.9" stroke="#444" stroke-width="0.5"/>
<text x="343" y="256.93" font-size="3.5" text-anchor="middle" fill="#333">10&#179;</text>
<line x1="360" y1="251.3" x2="360" y2="252.9" stroke="#444" stroke-width="0.5"/>
<text x="360" y="256.93" font-size="3.5" text-anchor="middle" fill="#333">10&#8308;</text>
<line x1="376" y1="251.3" x2="376" y2="252.9" stroke="#444" stroke-width="0.5"/>
<text x="376" y="256.93" font-size="3.5" text-anchor="middle" fill="#333">10&#8309;</text>
<rect x="318" y="251.7" width="6" height="1.5" fill="#111"/>
<path d="M283.6 208.8V262.3H337.5" fill="none" stroke="#222" stroke-width="0.9"/>
<path d="M282 209.4L283.6 205.8L285.2 209.4z" fill="#222"/>
<path d="M336.9 260.7L340.5 262.3L336.9 263.9z" fill="#222"/>
<text transform="translate(279.9,245.1) rotate(-90)" x="0" y="2.31" font-size="6.6" font-weight="bold" text-anchor="middle" fill="#111" textLength="24.8" lengthAdjust="spacingAndGlyphs">TIM3-PE</text>
<text x="284.9" y="269.41" font-size="6.6" font-weight="bold" text-anchor="start" fill="#111" textLength="56.9" lengthAdjust="spacingAndGlyphs">PD1-PE-Dazzle594</text>
<rect x="411.9" y="168.1" width="84.7" height="85" fill="#fff" stroke="#666" stroke-width="0.8"/>
<path d="M469.6 186.8h.1m5.4 .5h.1m-7.2 2.6h.1m-17.8 4.1h.1m8.5 1.3h.1m20.3 .8h.1m-38.4 4.4h.1m21.8 1.9h.1m-3.1 2.1h.1m25.2 3.8h.1m-43.8 .3h.1m5 1.9h.1m6.3-.5h.1m7.9-.4h.1m18.3 .2h.1m-26 3.4h.1m.1-.5h.1m4.8 .6h.1m-11.2 .4h.1m11.2 .7h.1m-26.4 .3h.1m-3.9 1.4h.1m48.5 .1h.1m-26.1 .4h.1m-4.5 1.6h.1m29.2 .2h.1m-27.4 .6h.1m27.7-.3h.1m-.4 1.8h.1m-.6 4.7h.1m-56.6 3.6h.1m-.8 1.4h.1m59.1 2.8h.1m-7.4 2h.1m-5.6 3.2h.1m-6 1.3h.1m-16.2 1.4h.1m6.6 .2h.1m1.8 .1h.1m-1.3 2.2h.1" stroke="#161ffa" stroke-width="1.0" stroke-linecap="square" stroke-opacity="0.50"/>
<path d="M470.7 189.3h.1m5.9-.1h.1m-2.5 .9h.1m.7 .4h.1m-7.1 2.5h.1m-.2 1h.1m-2 1.7h.1m0 .8h.1m-1 5.7h.1m-1.1 .7h.1m-.7 .8h.1m-.1 1.7h.1m14-.5h.1m-13.5 1.6h.1m-.6 2.4h.1m14.2 0h.1m-1.2 2.2h.1m-.1-.5h.1m-.7 2.5h.1m.2 1h.1m-.8 .6h.1m-40.2 1.2h.1m1 .6h.1m-5.3 .9h.1m7.2 0h.1m.7 .4h.1m.8 .1h.1m34.1-.1h.1m-48.6 1h.1m18.6-.1h.1m.6 .6h.1m10-.1h.1m18.3 .2h.1m-25.6 .6h.1m6.8-.1h.1m4.6-.3h.1m-11.9 1.4h.1m3.3-.1h.1m2.7 .5h.1m7.5-.5h.1m.5-.2h.1m10.2 .8h.1m.9-.2h.1m-20.7 .3h.1m-30 1h.1m-1.6 2.8h.1m51-.1h.1m-.5 1h.1m-.5 2.6h.1m-51.1 1.2h.1m49.9-.1h.1m-49.5 .6h.1m.5 .1h.1m.7 .8h.1m46.2 .3h.1m-47.3 .7h.1m1.2 .3h.1m41.1 2.5h.1m1.8-.4h.1m-4.6 1.6h.1m-34.3 .2h.1m3 1h.1m5 .4h.1m22.8 .2h.1m1.2-.3h.1m-18.7 .8h.1m5.1-.3h.1m5.1 .9h.1m.8-.3h.1m.5 .1h.1m.4-.6h.1m3.9 .5h.1m-10.8 .8h.1m6-.2h.1" stroke="#112dfb" stroke-width="1.0" stroke-linecap="square" stroke-opacity="0.58"/>
<path d="M471.8 191.6h.1m.6 .4h.1m.4-.1h.1m2.5-.3h.1m.1 1.3h.1m-6.5 1h.1m-2.1 3.2h.1m.3 .1h.1m-2.6 6.1h.1m12.3-.1h.1m-13.1 2.3h.1m12.3 3.1h.1m-13.1 1.9h.1m.8-.2h.1m-.4 2h.1m10.7 .8h.1m-10.6 2h.1m-.5 1.1h.1m-.1 0h.1m0-.6h.1m9.9 .8h.1m-44.4 1.9h.1m1.4 0h.1m4.3 0h.1m.7-.6h.1m-5.1 1h.1m7.2 0h.1m1 .2h.1m1.2 .4h.1m31.8 .1h.1m-45.2 .3h.1m14.2 0h.1m.1 .2h.1m.1 .5h.1m29.5-.2h.1m.2-.6h.1m-10.8 1.9h.1m1.9-.9h.1m8.1 .4h.1m-27.7 .6h.1m.1 0h.1m.8 .4h.1m3.7 .5h.1m4.9-.1h.1m5.8-.7h.1m3.5 .6h.1m.7 0h.1m6.2 .1h.1m-47.2 1.1h.1m25.2-.1h.1m-.1-.9h.1m.8 .5h.1m1.3-.1h.1m1.7-.3h.1m5.9 .2h.1m3 .3h.1m.4 0h.1m8.3-.4h.1m.7-.2h.1m-49.2 1.3h.1m.3 .2h.1m47.7 1.3h.1m-1.5 1h.1m-47.1 1.1h.1m47.8-.4h.1m-1.3 1.5h.1m1.3-.3h.1m-48.2 .5h.1m0-.2h.1m.8 2.2h.1m44.1 .1h.1m1.2 .2h.1m-45.3 .8h.1m41.8 .2h.1m-1.4 1.5h.1m.2 .9h.1m1.1-.8h.1m-40 1.3h.1m0 .1h.1m1.2 .2h.1m.1-.3h.1m.3 .3h.1m34.3 .3h.1m1.4-.7h.1m-6.7 1.7h.1m5.1-.7h.1m-30.4 .9h.1m.5 0h.1m3.9 .3h.1m0-.1h.1m5 .3h.1m2.2-.7h.1m.6 1h.1m2.4-.6h.1m1.6 .3h.1m1.2 .1h.1m-16 .4h.1m2.3 0h.1m4.4 0h.1m.2 0h.1m1.7-.1h.1m2.2 .3h.1m1.8 .4h.1m.2-.2h.1" stroke="#0b3afc" stroke-width="1.0" stroke-linecap="square" stroke-opacity="0.67"/>
<path d="M472.6 192.9h.1m-1.6 .9h.1m-.1-.2h.1m.1 .1h.1m3.1 .4h.1m.8 .1h.1m-5.7 .7h.1m0-.1h.1m5.3-.2h.1m-7 1.9h.1m.7-.1h.1m-1.6 1.6h.1m8.4 .7h.1m.3 .7h.1m-9.8 1h.1m9.2-.4h.1m-9.4 1.2h.1m-.1 .4h.1m9.3 1.8h.1m0-.1h.1m0-.1h.1m-.1 1.5h.1m-.1 2.7h.1m-11.1 1.8h.1m10.3 .2h.1m.1 .8h.1m-.5 .3h.1m.1 .3h.1m0-.1h.1m-1 1.3h.1m.1-.5h.1m-10.3 2.5h.1m0-.1h.1m9.7 .6h.1m-.7 .7h.1m-9 1.3h.1m8.6-.2h.1m-8 1.2h.1m.1-.2h.1m6.4-.2h.1m-37.4 1.3h.1m30-.6h.1m6.8 .5h.1m-41.9 .9h.1m4.9-.1h.1m2.8-.3h.1m28 0h.1m5.7 .1h.1m-44.1 1.4h.1m12.4-.4h.1m.8 .4h.1m25.5-.3h.1m-25.3 .7h.1m24.2 .8h.1m.1-.8h.1m1.4 .1h.1m1.8-.1h.1m-3.5 1h.1m-40.8 1.2h.1m0 0h.1m18.4-.1h.1m.4 .7h.1m.4-.4h.1m11.5 .1h.1m.9 .2h.1m1.4-.2h.1m.3 .1h.1m1.3 .1h.1m2.8 .1h.1m1.7-.3h.1m.4-.5h.1m.7 .4h.1m1.9-.1h.1m-23.7 1h.1m0-.2h.1m.2 .5h.1m1.7-.4h.1m.1 0h.1m.3 .1h.1m2.7-.3h.1m.6 .2h.1m.4-.2h.1m.5 .6h.1m2.1-.6h.1m4.9 .6h.1m3.1-.5h.1m.2 .1h.1m.3-.2h.1m1.2 .7h.1m.3 0h.1m.9-.2h.1m1.8-.7h.1m-22.4 1h.1m2.3 .2h.1m.6-.1h.1m.5 0h.1m2.4-.1h.1m10 .2h.1m5.1 .7h.1m.5-.1h.1m-2.4 .3h.1m0 .6h.1m.5-.7h.1m0 .8h.1m.2-.5h.1m.1 .3h.1m-43.7 1.2h.1m43-.7h.1m.8 1.1h.1m-2.2 1.1h.1m-.1 1.2h.1m1.2-.1h.1m-42.4 .6h.1m40.4 .4h.1m-.6 .9h.1m.2 .1h.1m.1 .2h.1m-38.2 1.2h.1m35.8-.4h.1m-35.3 1h.1m3 1.4h.1m10.6 .1h.1m15.2 0h.1m.9 .1h.1m1.3-.1h.1m.7-.3h.1m-29.9 .5h.1m.8 .3h.1m.2 .4h.1m1.5-.2h.1m2.9-.1h.1m2.2 0h.1m2.6 .3h.1m4.6-.8h.1m1.2 .8h.1m3.6-.1h.1m1.2-.3h.1m1.6 .1h.1m.4-.3h.1m1.5-.1h.1m.7 0h.1m.6 .4h.1m.4-.4h.1m-23 1.2h.1m.1-.2h.1m.7 0h.1m11.1 .1h.1m3.8-.2h.1" stroke="#0648fd" stroke-width="1.0" stroke-linecap="square" stroke-opacity="0.75"/>
<path d="M472 194.9h.1m1.1 .4h.1m0 .1h.1m.5 0h.1m-4.4 1h.1m.9-.3h.1m-1.8 1.2h.1m0 0h.1m.3-.6h.1m5 0h.1m.8 .1h.1m.2 2.5h.1m.3 1.6h.1m-.6 1.1h.1m.3-.2h.1m-.2 1.4h.1m0 1.2h.1m-9.6 .4h.1m9.4 .2h.1m-.5 2.1h.1m-.3 1.2h.1m-9.7 1.5h.1m.3 .6h.1m-.2 .5h.1m8.4 1.7h.1m-8.6 1.5h.1m7.7 .4h.1m.1-.4h.1m-1.1 1.3h.1m.6-.3h.1m-.9 1h.1m-6.4 1.2h.1m.2 0h.1m.2-.4h.1m5.2 .5h.1m-.1-.4h.1m0 .3h.1m-5.4 .4h.1m-32 1.8h.1m31.9-.8h.1m2.7 .7h.1m0-.6h.1m.7 .5h.1m-39.8 1h.1m7.3-.5h.1m29.5-.2h.1m-38.8 1.6h.1m.4-.2h.1m12.1 .4h.1m0-.1h.1m-15.1 1.1h.1m.6-.3h.1m.3-.3h.1m-1.6 1.2h.1m.5-.4h.1m15.6 .3h.1m.3 .2h.1m-17.5 .9h.1m18.5 .3h.1m9.9 .1h.1m2-.3h.1m-.1 .1h.1m.2 .2h.1m.4-.3h.1m.6 .2h.1m.4-.1h.1m1.5 .2h.1m-35.2 .6h.1m19.3-.4h.1m5 .7h.1m.2-.1h.1m.8 .2h.1m.3-.3h.1m-.1 .3h.1m2-.6h.1m.3 .2h.1m.6 0h.1m1.2-.2h.1m-.1-.3h.1m1.6 .2h.1m0 .5h.1m.6-.5h.1m.4 .1h.1m.8 .6h.1m2.1-.3h.1m0-.2h.1m0 .1h.1m-15.6 .6h.1m.6 .5h.1m1.2-.5h.1m.3 .2h.1m.5 0h.1m-.1 .5h.1m.4-.4h.1m11.5 0h.1m1.9-.3h.1m-38.4 1.5h.1m37.5-.3h.1m0 .3h.1m.7 .4h.1m1.8-.1h.1m-1.4 .6h.1m0 0h.1m-.1 .5h.1m.3-.5h.1m-.5 1.4h.1m-39.8 .2h.1m.9 .4h.1m38.9 .7h.1m-38.9 .9h.1m-.1 .1h.1m.2 .3h.1m34.3 .5h.1m1.1-.2h.1m1.5-.4h.1m-35.7 1h.1m30.7 .6h.1m2 0h.1m.6-.3h.1m-33.1 .6h.1m0-.2h.1m13.8 .9h.1m0-.2h.1m1.1-.2h.1m.2-.2h.1m2.3 .1h.1m10.7 0h.1m-26.9 1h.1m1.2 .2h.1m3.9 .1h.1m.6 .1h.1m2.8-.1h.1m.5-.1h.1m1.5-.6h.1m1.3 .1h.1m3.3 .3h.1m.1-.2h.1m.5 .6h.1m1.3-.8h.1m1.1 0h.1m0 .1h.1m.3 .7h.1m.3-.6h.1m1.9 0h.1m.1 .4h.1m1.3-.5h.1m.1 0h.1m.1-.1h.1m-15.1 1h.1m.1 0h.1m14.6-.1h.1m.4 .1h.1" stroke="#0155fe" stroke-width="1.0" stroke-linecap="square" stroke-opacity="0.83"/>
<path d="M471.1 196.3h.1m1 0h.1m-.1-.3h.1m.2-.3h.1m-1.6 1.3h.1m.4-.4h.1m1.5 0h.1m.4 .3h.1m-4 1.2h.1m.5-.4h.1m-1.2 1.1h.1m5.8 1.1h.1m.1 .4h.1m-7.4 1h.1m7.2 0h.1m0-.7h.1m-7.8 1h.1m.1 .9h.1m.2-.9h.1m7.1 .4h.1m-.3 1.5h.1m0 .3h.1m-8.4 1.3h.1m8.4 .3h.1m-.5 .5h.1m-.1 .3h.1m-8.2 1.1h.1m-.1-.7h.1m7.7 1.6h.1m-8.4 1.4h.1m0 1.7h.1m0-.3h.1m-.1-.1h.1m0 .8h.1m0 .3h.1m-.5 1.3h.1m6.4 .8h.1m-5.8 .7h.1m5.5 .2h.1m0 .2h.1m-5.9 1.1h.1m.1-.6h.1m0 .4h.1m0-.4h.1m-.1-.1h.1m.6 .8h.1m4.1 0h.1m-4.2 .8h.1m2.1 .1h.1m.3-.4h.1m-1.9 1.1h.1m-.1 0h.1m1.1 .3h.1m.1-.8h.1m-.1 .5h.1m.3 0h.1m-1.7 .5h.1m-35.4 1.5h.1m-.1 0h.1m.1 .1h.1m.3 .2h.1m-1 .2h.1m3.8 .1h.1m.4 .1h.1m.2 0h.1m0 .1h.1m.5 .1h.1m.4-.1h.1m-10.9 1.3h.1m.4 0h.1m12.1 .1h.1m.4 0h.1m-14.1 1h.1m-1.1 .7h.1m.4 .3h.1m16.4-.2h.1m.4 .3h.1m-18.1 .9h.1m29.7 .2h.1m-30.4 1h.1m.7-.7h.1m19.2 .2h.1m7 .4h.1m0-.2h.1m.1 .1h.1m.3 .1h.1m1.3 0h.1m.8-.4h.1m.6-.2h.1m.4 .3h.1m.6-.5h.1m.5 0h.1m.8 .5h.1m0-.1h.1m0 .4h.1m.5-.3h.1m-34.5 .8h.1m.4 .4h.1m20.3-.3h.1m1.4-.1h.1m1.3 .5h.1m0-.1h.1m1.7-.1h.1m.9-.2h.1m.1 0h.1m5.3-.4h.1m4.4 .6h.1m.2 .2h.1m-14.2 .8h.1m.5-.3h.1m.6-.2h.1m11.3 .5h.1m.2-.1h.1m0 .4h.1m.4-.6h.1m-36.5 1.5h.1m36.2-.1h.1m-1.3 1.3h.1m.4-.1h.1m0 0h.1m1.4-.7h.1m-3 1.7h.1m1.2-.7h.1m.1 .7h.1m.4-.8h.1m-34.6 1.5h.1m18.8 .2h.1m0 .2h.1m12.6-.2h.1m.2-.4h.1m.6 .4h.1m0-.5h.1m-31 1.6h.1m12.5-.2h.1m1 .2h.1m.7-.4h.1m.8 .5h.1m.2-.2h.1m1.6-.7h.1m.8 .1h.1m0 .1h.1m0 .7h.1m2.6 0h.1m.2 0h.1m6.1-.3h.1m.5 .2h.1m.6-.7h.1m-28.7 1h.1m.5 .3h.1m1.4 .4h.1m6.5 .1h.1m1.1-.3h.1m.5-.3h.1m.8 .1h.1m1.4 0h.1m2.8-.2h.1m1.1 0h.1m1.1-.2h.1m.1 .4h.1m0-.1h.1m1.6-.1h.1m0 0h.1m-.1 .6h.1m.7-.1h.1m2.6 .1h.1m1.2 0h.1m1.7-.6h.1m-24.7 1h.1m2.1-.1h.1m1.7 0h.1m3.2-.2h.1m11 .1h.1m1.6 0h.1m-.1 .1h.1m.6-.2h.1" stroke="#0068f9" stroke-width="1.0" stroke-linecap="square" stroke-opacity="0.92"/>
<path d="M472.4 196.9h.1m-2.3 1.1h.1m.3-.3h.1m.1-.1h.1m0 .4h.1m.9-.2h.1m0 .1h.1m1.5 0h.1m-4 .9h.1m0 .2h.1m3.9 .3h.1m0 .2h.1m-4.7 .9h.1m4.7-.9h.1m.3 2.5h.1m.1 .4h.1m.2 0h.1m-.5 .4h.1m-7.1 1.2h.1m0 .1h.1m7 .2h.1m-7.7 2h.1m.1 .9h.1m6.9 .1h.1m-7.2 .2h.1m7.1 1.8h.1m-7.2 .4h.1m-.1 1.5h.1m6-.1h.1m0 .4h.1m.3-.2h.1m-6.8 .2h.1m0 .5h.1m0 0h.1m-.1-.5h.1m0 .5h.1m6.1-.5h.1m-.6 1.2h.1m-5.7 1.6h.1m.5 1.1h.1m.2 .4h.1m.4 0h.1m1.3-.1h.1m.3-.1h.1m0 .8h.1m.5-.5h.1m-2.5 .9h.1m.1 .2h.1m.5 .1h.1m.2-.2h.1m.1 0h.1m-39 4.3h.1m1.3-.1h.1m3.3-.1h.1m.1-.2h.1m1.6 0h.1m.2 .1h.1m-8.3 1h.1m.5 0h.1m9.6 .3h.1m-11.7 .9h.1m11.9-.6h.1m.5 .7h.1m-13.9 1.2h.1m.3-.7h.1m.1-.2h.1m14.1 .6h.1m.2-.1h.1m.5 .8h.1m-.1 .6h.1m.2-.3h.1m-16.8 1h.1m.1-.2h.1m16.7-.4h.1m-.1 .9h.1m.4-.4h.1m11.6 .4h.1m-29.7 .6h.1m-.1 0h.1m0 .3h.1m17.7-.8h.1m.3 .4h.1m.1 .4h.1m6.8 .2h.1m.8-.5h.1m2.6 0h.1m0 0h.1m0 .3h.1m.1-.4h.1m.5-.3h.1m.2 .3h.1m.9 .4h.1m1.5 .1h.1m-.1-.3h.1m.2 0h.1m.1 .4h.1m-14.7 .6h.1m.1 .2h.1m5.6-.4h.1m.2 .6h.1m.4-.1h.1m.1 0h.1m.6-.2h.1m0-.5h.1m.9-.1h.1m.1 .3h.1m.1 0h.1m.3 0h.1m1.3 0h.1m.9-.4h.1m.7 .5h.1m.4 .4h.1m.9 .1h.1m.1-.7h.1m.5 0h.1m.2-.1h.1m-33.8 .9h.1m0 0h.1m0 .7h.1m17.5-.6h.1m2 .6h.1m.4 0h.1m.3-.6h.1m.7 .5h.1m.1-.5h.1m1.5 .1h.1m0 .2h.1m.8-.2h.1m-.1 .2h.1m7.4 .1h.1m.4-.1h.1m.2 .4h.1m1 .1h.1m.2-.1h.1m-34.2 .3h.1m17.7 .7h.1m.3-.4h.1m.5-.3h.1m.2 .2h.1m.4 .3h.1m.2-.4h.1m.6-.3h.1m-.1 .1h.1m.3-.1h.1m.1 .6h.1m.9-.1h.1m.4 0h.1m9.5-.4h.1m1.2 .7h.1m-16.1 1h.1m-.1-.2h.1m.9 .1h.1m.2-.6h.1m.2 .2h.1m1-.1h.1m0 .5h.1m-.1 .3h.1m-.1-.4h.1m0-.6h.1m.8 .7h.1m.1 .2h.1m.3-.6h.1m-.1-.1h.1m.3-.2h.1m.3 .3h.1m.7 .2h.1m6.7 .2h.1m2.2 .3h.1m.9-.8h.1m-32.4 1h.1m-.1 .1h.1m.4 .5h.1m13.7 .1h.1m.7-.3h.1m.1 0h.1m-.1-.4h.1m0 .1h.1m.2 0h.1m.2 .5h.1m1.5-.7h.1m.9 .3h.1m.1-.2h.1m-.1-.1h.1m.4-.1h.1m.3 .3h.1m.4-.2h.1m2 .5h.1m.4 0h.1m.2 .3h.1m.6-.3h.1m.4 0h.1m0-.1h.1m.8 .1h.1m0 .4h.1m-.1-.1h.1m.7-.4h.1m.3 .3h.1m1.9 .1h.1m-.1-.8h.1m.1 0h.1m.2 .3h.1m.3 .3h.1m.5-.4h.1m-17.2 1.1h.1m.4 .5h.1m.1 0h.1m.3-.6h.1m0-.2h.1m.7 .2h.1m7 0h.1m0 .2h.1m.3-.3h.1m2.3-.2h.1m.4 .7h.1m2.9-.3h.1m-25.1 1h.1m1.2 0h.1m3.3 .3h.1m.2 .2h.1m1.1-.2h.1m.8-.3h.1m.3 0h.1m.3 .1h.1m0-.1h.1m-2.9 .6h.1" stroke="#007df1" stroke-width="1.0" stroke-linecap="square" stroke-opacity="1.00"/>
<path d="M470 199.5h.1m.2-.5h.1m.1 .1h.1m.1-.5h.1m.3 .1h.1m2 .6h.1m.3-.2h.1m-4.1 1.3h.1m.3-.3h.1m3.1-.5h.1m.1 .3h.1m.4 .4h.1m-5.5 2.1h.1m.3-.6h.1m5.1 .4h.1m.2-.2h.1m-6 1.1h.1m5.6 .1h.1m0-.6h.1m.2 .4h.1m-.3 .7h.1m-6.5 1.8h.1m6.2-.9h.1m-.3 1.9h.1m.2-.5h.1m-7 2.6h.1m-.1 1.7h.1m6.1 .1h.1m-6 .7h.1m0 0h.1m5.4-.4h.1m0-.2h.1m-.5 1.2h.1m-5.3 1.3h.1m.4 .1h.1m0 1.3h.1m1.7 0h.1m1-.1h.1m-3 .5h.1m.5 .3h.1m.6-.6h.1m.7 .7h.1m0-.5h.1m.1 .6h.1m-.1 .1h.1m.4-.7h.1m-1 .9h.1m-36.8 5.6h.1m-.1 .2h.1m.5 0h.1m2-.2h.1m-4.5 .9h.1m.2-.2h.1m5.3-.1h.1m0 0h.1m.4-.3h.1m.3 .5h.1m.6 .3h.1m-10 1h.1m10.7-.4h.1m-11.9 1.3h.1m.4 .1h.1m12.4-.4h.1m-12.9 .7h.1m14.5 .5h.1m-15.7 1.3h.1m.1-.5h.1m15.8 .2h.1m.1 .2h.1m-16.5 1h.1m.2-.6h.1m15.7 .5h.1m0-.2h.1m0 .2h.1m-16.1 1h.1m-.1 .1h.1m15.7-.4h.1m.3 .2h.1m.2 .1h.1m12.6 .2h.1m.3 .1h.1m-29.9 .6h.1m0 .2h.1m16.6-.2h.1m0-.2h.1m6.8 .6h.1m.3-.1h.1m.8-.4h.1m-.1 .2h.1m.3-.3h.1m.6 .6h.1m.2-.1h.1m-.1-.8h.1m.6 .4h.1m0 .1h.1m-.1 0h.1m.6-.1h.1m.1 .1h.1m.2 .3h.1m0-.6h.1m0 .2h.1m.7 .1h.1m.6-.2h.1m0 .5h.1m-29.8 .7h.1m.3 .2h.1m15.4-.8h.1m7.5 .2h.1m0 .1h.1m.1 0h.1m0 .3h.1m.6-.5h.1m.3 .4h.1m2.4 0h.1m.5 .1h.1m-.1 0h.1m.7-.6h.1m.4 .6h.1m.4-.3h.1m-.1 .2h.1m.4-.5h.1m-16 1.7h.1m.7-.2h.1m8.2-.4h.1m1.9 .7h.1m.1-.1h.1m0-.1h.1m0-.1h.1m.2 .2h.1m0 .1h.1m1.8-.2h.1m1.1-.2h.1m-27.8 1h.1m.2 .1h.1m10.4 .5h.1m1.4-.9h.1m.1 .4h.1m9.3-.4h.1m1 .3h.1m1-.1h.1m-21.4 1.4h.1m7.4 0h.1m0-.1h.1m-5.5 .6h.1m1.5 .3h.1" stroke="#0092e9" stroke-width="1.0" stroke-linecap="square" stroke-opacity="1.00"/>
<path d="M472.1 199.3h.1m0 .1h.1m-1.9 1h.1m-.1 0h.1m.2-.2h.1m1.1-.4h.1m-.1-.1h.1m.4 0h.1m0-.1h.1m-3 1.8h.1m3.3-.8h.1m.6 .4h.1m-4.5 .8h.1m4.2-.3h.1m.3 .7h.1m-5.3 1.2h.1m4.8-.8h.1m.4 .8h.1m-5.6 .4h.1m5.1 .5h.1m.1 .2h.1m-.1-.4h.1m-5.7 .5h.1m5.3 .4h.1m-.1-.1h.1m0 .1h.1m-.5 2.3h.1m-5.6 .9h.1m5.3-.6h.1m-5.5 1.1h.1m.2 1.5h.1m4.2 0h.1m.3-.2h.1m0 0h.1m-5.1 .7h.1m.5 .7h.1m-.6 .7h.1m0 .3h.1m.1-.1h.1m.4 .1h.1m2.6-.5h.1m0 0h.1m.4-.2h.1m.1-.1h.1m-3.9 .9h.1m1.9 .6h.1m.2-.4h.1m-.1 .1h.1m-1.6 1.4h.1m.3 .1h.1m-36 7.7h.1m.6-.3h.1m.2-.1h.1m0 .3h.1m.7-.1h.1m-.1-.2h.1m1.7 .7h.1m.9-.1h.1m-8.5 1h.1m.6-.4h.1m1-.2h.1m7.6 .5h.1m0 0h.1m-.1-.4h.1m.3 .3h.1m.6 .5h.1m-11.8 .8h.1m0 .2h.1m0-.2h.1m0-.4h.1m11-.2h.1m.4 .4h.1m-12.4 .5h.1m.1 0h.1m12.6 .4h.1m.4 .5h.1m-14.1 1h.1m0-.9h.1m.1-.1h.1m0 .2h.1m13.5 .4h.1m-14.5 1.3h.1m14.6-.7h.1m.1-.2h.1m.3 .4h.1m0-.3h.1m-15.1 1.4h.1m0 .4h.1m14.7-.2h.1m0 .2h.1m0-.2h.1m0-.6h.1m0 .3h.1m-.1 0h.1m-1 1.5h.1m-14 .7h.1m14.1-.3h.1m-1.6 1.6h.1m.2 0h.1m.2-.4h.1m.4-.3h.1m0 0h.1m.1-.1h.1m-11.9 1.3h.1m7.9 .6h.1m.1-.1h.1m.3 .1h.1m.7 0h.1m.2-.3h.1m.5-.4h.1m-9.2 .7h.1m1.8 .6h.1m.1 .1h.1m.7 .1h.1m.2-.1h.1m.1 .3h.1m-.1-.3h.1m1.2 .2h.1m.6-.1h.1m2.3-.8h.1m-4.7 1h.1m0 .1h.1" stroke="#00a7e2" stroke-width="1.0" stroke-linecap="square" stroke-opacity="1.00"/>
<path d="M471.4 200.1h.1m.4 0h.1m-2 1.3h.1m.1-.2h.1m1.8-.4h.1m.6 .3h.1m0-.1h.1m.1 .2h.1m-3.5 .4h.1m-.1 .5h.1m3.4 0h.1m.1 .1h.1m-.1-.5h.1m-.1 1.3h.1m-4.6 1.2h.1m4.5 .4h.1m-.1-.1h.1m-5.2 1.8h.1m.1-.8h.1m4.6 .8h.1m.1-.7h.1m-5.1 1.9h.1m-.1-.9h.1m0 .8h.1m4.4-.3h.1m0 .2h.1m.1-.7h.1m0 0h.1m0 .1h.1m-5.2 2.6h.1m4-.3h.1m0 .4h.1m-3.9 .7h.1m.1 .1h.1m3-.1h.1m.1-.5h.1m-.1 .4h.1m-.1 .2h.1m.2-.1h.1m-4 .5h.1m0 .3h.1m0 .4h.1m0-.3h.1m.2-.1h.1m2.2 .5h.1m-.1-.3h.1m-.1-.4h.1m.2 .7h.1m.4-.8h.1m-3.2 1.4h.1m.5 0h.1m0-.3h.1m0 .2h.1m-.1 .5h.1m.2-.3h.1m.8 .1h.1m-1.2 .6h.1m-.1-.3h.1m-36 9.8h.1m2.3 0h.1m-5.1 .9h.1m.3-.2h.1m0-.1h.1m.3-.1h.1m.6-.3h.1m.1 0h.1m5.6 .4h.1m0 .5h.1m.3 .4h.1m.4 .4h.1m.3 .3h.1m.4-.2h.1m-12 1.2h.1m12-.8h.1m-12.6 1.8h.1m.4-.8h.1m12.3 .6h.1m-13 1h.1m0-.1h.1m-.1-.3h.1m12.8-.3h.1m.1 .3h.1m.4-.3h.1m-14.1 1.8h.1m.1-.1h.1m0 .2h.1m13.3-.6h.1m.4 .3h.1m-.8 1.2h.1m.3 0h.1m.1-.3h.1m-.8 .7h.1m.2 0h.1m.1 0h.1m-12.2 1.3h.1m0-.1h.1m9.6 .3h.1m.6 .1h.1m-.1 0h.1m0-.4h.1m.1-.4h.1m-9.5 1.1h.1m.3 .3h.1m.3 .4h.1m.6 0h.1m5.8-.5h.1m.8-.3h.1m-7.2 .9h.1m.9 .3h.1m0 0h.1m-.1 .1h.1m.5 .1h.1m.8-.1h.1m.5-.1h.1m1.2-.3h.1m0 .3h.1m.1-.3h.1m.2 0h.1m.5 .1h.1" stroke="#02b0c8" stroke-width="1.0" stroke-linecap="square" stroke-opacity="1.00"/>
<path d="M470.9 201.4h.1m-.1 0h.1m.6-.5h.1m.1 0h.1m-.1 .3h.1m.2 .1h.1m.2 0h.1m0-.1h.1m-2.1 .5h.1m2.3 .1h.1m-3.4 .8h.1m-.3 1.6h.1m3.5-.5h.1m-4.2 1.1h.1m0 .2h.1m0 .5h.1m3.9-.6h.1m-.2 .9h.1m.1 .5h.1m-4.6 .4h.1m0 .8h.1m.2 1h.1m0-.2h.1m3.2 .1h.1m0-.2h.1m.1-.3h.1m-.1-.4h.1m-.1 .6h.1m-3.8 1.4h.1m-.1-1h.1m.1 .3h.1m-.1 .4h.1m2.6-.1h.1m0 .1h.1m-.1 .2h.1m-.1-.3h.1m.3-.4h.1m-3.2 1h.1m0 .5h.1m1.3 .3h.1m-1.7 0h.1m.3 .6h.1m0-.1h.1m.1 .4h.1m.1-.5h.1m.1 .4h.1m.1 .1h.1m.1-.9h.1m-.1 .2h.1m.2 .2h.1m-.1-.1h.1m-36.2 11.6h.1m-3.1 .8h.1m.9-.2h.1m1.1-.1h.1m2-.3h.1m1 .5h.1m0-.1h.1m.2-.1h.1m1.5 .9h.1m-.1 .2h.1m.2 .1h.1m-10.1 1.3h.1m11 0h.1m.3 .1h.1m-12 .9h.1m11.6-.3h.1m.1-.2h.1m.1 .1h.1m.1 .2h.1m-12.5 .8h.1m12.1-.3h.1m-.1 .4h.1m0 0h.1m0-.5h.1m0 .4h.1m-12.5 .7h.1m0-.1h.1m12 .3h.1m.3 .6h.1m-12.4 .6h.1m-.1 .2h.1m.1 .1h.1m11.5-.6h.1m.4 .2h.1m-12.1 .8h.1m.2 .1h.1m-.1 .4h.1m.2 .1h.1m0-.1h.1m9.5 .2h.1m.6-.3h.1m0 0h.1m-10.7 .4h.1m.1 .1h.1m0 .1h.1m.1-.2h.1m.1 .3h.1m8.6 .4h.1m.4-.3h.1m-7.7 1h.1m0 0h.1m.4 .1h.1m.4 .3h.1m.4 0h.1m.7 .1h.1m1-.2h.1m1.2-.2h.1m.5 .2h.1m-2.8 .4h.1m.7-.1h.1" stroke="#05b7ac" stroke-width="1.0" stroke-linecap="square" stroke-opacity="1.00"/>
<path d="M471.2 201.6h.1m.1 .3h.1m0 .3h.1m.3 .1h.1m-.1 .2h.1m0-.3h.1m.2 .1h.1m-2.1 .7h.1m2.1-.3h.1m-3 1.5h.1m0 .1h.1m-.1 .2h.1m2.9-.2h.1m-3.4 .7h.1m0 .2h.1m-.1 .1h.1m3-.5h.1m-3.4 1.3h.1m-.1 .1h.1m0-.1h.1m0-.6h.1m3 .6h.1m.1-.6h.1m-3.4 1.6h.1m2.8 0h.1m-3 .6h.1m-.1-.2h.1m0 .7h.1m0-.1h.1m-.1 .2h.1m2.2-.4h.1m0 0h.1m-.1 0h.1m0 .3h.1m-2.8 .7h.1m.1 .6h.1m.3-.3h.1m.9 .1h.1m.2-.3h.1m0-.2h.1m-1.5 1.2h.1m0 .2h.1m.4-.6h.1m.6 .1h.1m-.1-.1h.1m-38.4 13.7h.1m.6 .1h.1m.4-.3h.1m-.1 .1h.1m0-.2h.1m1.1 .2h.1m.6 .1h.1m0-.1h.1m.4 0h.1m.5 .3h.1m-6 .7h.1m.1 0h.1m.5-.4h.1m-.1 0h.1m6 .3h.1m.1-.2h.1m.4 .1h.1m-8.7 1.3h.1m-.9 .9h.1m.1 0h.1m.3-.6h.1m-.1 .1h.1m9.9 .4h.1m.2 .3h.1m.1 0h.1m-11.3 1h.1m10.8-.9h.1m.1 1h.1m0-.3h.1m-.1-.5h.1m0-.1h.1m0 .7h.1m0 .7h.1m0 .2h.1m0 0h.1m-11.4 1.1h.1m0-.4h.1m0 .3h.1m10.6-.6h.1m-10.8 1h.1m.4 .7h.1m9 0h.1m0 .1h.1m.1-.4h.1m0-.1h.1m0 .4h.1m0-.6h.1m.3-.1h.1m-9.6 1.2h.1m0 .1h.1m.1-.1h.1m.3 .5h.1m.3-.1h.1m-.1 0h.1m5.8 .1h.1m.1-.2h.1m0 0h.1m.2 0h.1m.2 .1h.1m0-.4h.1m.6-.2h.1m-6.3 1.3h.1m.1 .1h.1m.4-.1h.1m0 .1h.1m-.1-.1h.1m.1 .1h.1m0-.1h.1m.2 .2h.1m.7-.1h.1m.4-.2h.1m.3 .2h.1m.1-.1h.1m.1 0h.1m-.1-.3h.1m-.1 0h.1" stroke="#08bf90" stroke-width="1.0" stroke-linecap="square" stroke-opacity="1.00"/>
<path d="M470.2 203.5h.1m.1-.1h.1m.2 0h.1m-.1-.2h.1m.4-.7h.1m.1 .1h.1m.2 .1h.1m.4 .3h.1m-.4 .6h.1m.3-.1h.1m-2.7 1.6h.1m.1 .1h.1m0 0h.1m.1-.7h.1m1.9 .4h.1m0 .2h.1m0-.3h.1m-.1 0h.1m-2.8 .8h.1m2.4 .6h.1m0-.5h.1m-2.5 1.7h.1m1.9-.2h.1m-2.3 .7h.1m.1 .4h.1m-.1-.3h.1m0-.1h.1m.1-.2h.1m.3 .7h.1m0 0h.1m-.1 0h.1m.4-.6h.1m-.1 .6h.1m.4-.8h.1m-.8 1.1h.1m.2 0h.1m-37.9 14.8h.1m1.7-.2h.1m-.1 .2h.1m0-.2h.1m-3.4 1h.1m.3-.3h.1m.1-.2h.1m1.9-.2h.1m-.1 0h.1m2.3 0h.1m0 .2h.1m.4 .1h.1m0-.1h.1m-6.8 1.4h.1m-.1-.2h.1m.1-.3h.1m7.6 .3h.1m.2 .3h.1m.6 .1h.1m-9.6 .6h.1m-.5 1.3h.1m-.1-.8h.1m0 .7h.1m.1-.4h.1m9.7 0h.1m.2 .1h.1m0-.2h.1m-10.7 1h.1m0 0h.1m0 .2h.1m-.1 .3h.1m0-.5h.1m9.8-.2h.1m0 .9h.1m.2-.6h.1m-.7 1.3h.1m-.1-.1h.1m.1-.1h.1m.1 0h.1m-.1 .4h.1m-.1-.1h.1m-.1-.5h.1m-9.9 .9h.1m.5 .5h.1m-.1-.1h.1m7.4 .4h.1m.4-.3h.1m0 .3h.1m.1-.3h.1m.3-.2h.1m-6.9 1.5h.1m-.1 0h.1m.4-.1h.1m0 0h.1m.3 .1h.1m-.1 0h.1m1.1 .1h.1m.8-.1h.1m.5 0h.1m.4-.1h.1m.5-.2h.1m.9-.5h.1m-4.4 1h.1m1.4 0h.1m.6 0h.1" stroke="#12c472" stroke-width="1.0" stroke-linecap="square" stroke-opacity="1.00"/>
<path d="M471.4 203.3h.1m-1 1.1h.1m0-.4h.1m-.1 .5h.1m0-.8h.1m.1 .7h.1m0-.3h.1m.2 .1h.1m.2 .2h.1m0-.8h.1m0 .6h.1m0-.2h.1m-1.4 1.1h.1m0 .1h.1m0-.1h.1m-.1-.1h.1m.5-.3h.1m.4 .2h.1m-1.9 .7h.1m.1 .8h.1m0-.1h.1m0-.4h.1m-.1-.3h.1m0 .5h.1m0-.5h.1m.6 .4h.1m0-.1h.1m.2 .4h.1m-.1 .2h.1m0-.5h.1m0-.4h.1m-1.8 1.5h.1m0 .4h.1m0-.2h.1m0-.4h.1m.1 .5h.1m0-.8h.1m.1 .3h.1m-.1-.1h.1m-.1 .6h.1m.4-.9h.1m0 .4h.1m-1.2 .8h.1m.2 .1h.1m0 0h.1m-38.2 16.5h.1m.5-.5h.1m.4 .1h.1m1.2 0h.1m.1-.3h.1m0 .3h.1m.1 0h.1m-.1-.2h.1m.1 .3h.1m.8-.1h.1m0 0h.1m.1 .3h.1m.1 .1h.1m0 .2h.1m0-.3h.1m0 .3h.1m0 0h.1m-6.6 .9h.1m.2-.3h.1m0-.3h.1m.6-.3h.1m0 0h.1m6.1 .7h.1m.4 .1h.1m-.5 .2h.1m.2 .3h.1m-8.8 1.3h.1m9.2 .1h.1m.1-.3h.1m-.1-.1h.1m.1 .6h.1m-9.8 .1h.1m.1 .7h.1m9 .1h.1m-.1-.5h.1m0-.3h.1m-.1 .9h.1m-8.8 .8h.1m0 0h.1m7.7 .2h.1m.7-.5h.1m-8.6 .8h.1m0-.1h.1m.3 .5h.1m0-.1h.1m.2 .4h.1m6-.2h.1m.3-.2h.1m.5-.4h.1m-6.1 1.3h.1m.1 0h.1m1.2 .4h.1m0-.1h.1m.1 .1h.1m.1 0h.1m.2 0h.1m.1-.1h.1m.9-.3h.1m.3-.1h.1m.2 .1h.1m.2-.1h.1" stroke="#24c853" stroke-width="1.0" stroke-linecap="square" stroke-opacity="1.00"/>
<path d="M470.9 205.7h.1m-.1-.1h.1m-37.6 18.7h.1m2.1-.2h.1m.4 .2h.1m-.1-.2h.1m.1 .3h.1m.3-.2h.1m.2 .3h.1m-4.5 .2h.1m.5-.1h.1m3.7 .1h.1m.6 .3h.1m.1 .2h.1m.2 .1h.1m-6.9 .3h.1m7.5 .7h.1m0 0h.1m-8.2 .3h.1m-.1 0h.1m-.1 .4h.1m8.1 .4h.1m-.1 .1h.1m.1-.7h.1m-8.8 .9h.1m.2 .2h.1m-.1 .3h.1m8.4-.2h.1m-1.2 1.5h.1m.4-.8h.1m.1 .4h.1m.1-.2h.1m-7.2 1.1h.1m1 .4h.1m3.9 0h.1m.4-.4h.1m.1-.1h.1m.1 0h.1m0-.4h.1m-.1 .2h.1m-.1 .3h.1m-5.6 .5h.1m-.1 .1h.1m1.7 .5h.1m0-.2h.1m-.1 .2h.1m2.4-.4h.1" stroke="#35cb33" stroke-width="1.0" stroke-linecap="square" stroke-opacity="1.00"/>
<path d="M434.3 224.3h.1m0 0h.1m-2.2 1.1h.1m.2-.2h.1m.4-.4h.1m.1 .1h.1m-.1-.3h.1m1.6-.1h.1m1.6 .1h.1m.3 .2h.1m.2 .2h.1m.4 .5h.1m-6.6 .8h.1m-.1 .1h.1m.2-.1h.1m-.1-.4h.1m0 .2h.1m5.9-.6h.1m.2 .2h.1m0 .5h.1m0-.5h.1m.3 .8h.1m0-.1h.1m-7.7 .6h.1m-.1-.1h.1m.1-.1h.1m7.1 .7h.1m0-.7h.1m-.1-.2h.1m.1 .3h.1m-7.9 1.1h.1m-.1 .1h.1m0 .1h.1m.1 .1h.1m0 0h.1m7.2 0h.1m0-.7h.1m0 .1h.1m0-.1h.1m-7.5 1.2h.1m0 .2h.1m.1 .4h.1m6 0h.1m-.1 0h.1m.2-.7h.1m-.1 .2h.1m-1.9 1.3h.1m.1-.1h.1m1.2-.4h.1m0-.2h.1m-4.6 1h.1m.9 .3h.1m.2-.3h.1m0 .2h.1m.6-.1h.1m-.1 0h.1m.4 0h.1" stroke="#54ce21" stroke-width="1.0" stroke-linecap="square" stroke-opacity="1.00"/>
<path d="M432.5 225.4h.1m.1-.1h.1m.3-.2h.1m.6-.1h.1m.3-.1h.1m.3-.2h.1m.3 .1h.1m.2-.1h.1m.1-.1h.1m.2 .1h.1m.1 .3h.1m.4 .1h.1m0 0h.1m-.1 .1h.1m.5 .2h.1m.1 .1h.1m-.2 .1h.1m.6 .9h.1m-.1-.5h.1m.1 .3h.1m-6.6 .8h.1m6.4-.1h.1m.1 .4h.1m-7 .1h.1m.2 .6h.1m6.1 .3h.1m0 .1h.1m0-.6h.1m-.1 .1h.1m.2-.2h.1m-6.5 1.2h.1m-.1 .3h.1m5.7-.4h.1m0-.2h.1m0 .3h.1m-5.1 .8h.1m-.1 .1h.1m.2 .1h.1m.2 .3h.1m.4-.1h.1m0 .1h.1m.8 0h.1m.1 .1h.1m.5-.4h.1m0 .2h.1m.3 0h.1m.2-.3h.1m.2-.3h.1m.2 0h.1" stroke="#7dd116" stroke-width="1.0" stroke-linecap="square" stroke-opacity="1.00"/>
<path d="M433.3 225.2h.1m.8-.2h.1m.2 .1h.1m0 0h.1m.4 0h.1m.1 0h.1m.2 .1h.1m.4 0h.1m-4 1h.1m0 .1h.1m.3-.3h.1m-.1-.1h.1m-.1-.3h.1m4.2 .2h.1m-5.3 1.4h.1m.2-.6h.1m5.5 .2h.1m0 .6h.1m0-.2h.1m-.1-.2h.1m0 .1h.1m0 .3h.1m-6.3 .6h.1m-.1 .2h.1m-.1-.5h.1m0 .7h.1m-.1-.6h.1m0 .3h.1m5.5 0h.1m0 .3h.1m0 0h.1m-5.7 .4h.1m-.1 0h.1m-.1 0h.1m.1 .4h.1m.3 .3h.1m4.1-.1h.1m.1-.6h.1m.2 .1h.1m-.1-.3h.1m-4.7 .9h.1m.1 .1h.1m.2 0h.1m.6 .2h.1m.2 .1h.1m.8 0h.1m0 .1h.1m.1-.2h.1m0 .2h.1m-.1-.2h.1m.1-.1h.1m.3 .1h.1" stroke="#a5d40a" stroke-width="1.0" stroke-linecap="square" stroke-opacity="1.00"/>
<path d="M433.8 225.3h.1m.4 .1h.1m.4-.1h.1m.1 .1h.1m0-.2h.1m-.1 .1h.1m.1 0h.1m.3 0h.1m-3 .6h.1m-.1 0h.1m.1 .2h.1m-.1-.4h.1m.1 .1h.1m.1-.1h.1m2.9 .2h.1m-.1-.1h.1m0 0h.1m0 .1h.1m0 .2h.1m0-.2h.1m.2 .2h.1m-.1 0h.1m-.1 .3h.1m-5.1 .9h.1m-.1 .1h.1m0 .1h.1m.1-.7h.1m-.1-.2h.1m4.7 .3h.1m.1-.2h.1m0 .3h.1m-5.3 1.3h.1m.2 .1h.1m4.4-.2h.1m.2-.5h.1m-.1 .4h.1m0 .1h.1m.1-.4h.1m-5.1 .8h.1m-.1 0h.1m.3 .5h.1m.1 .4h.1m0 0h.1m.2-.2h.1m2.4 .2h.1m0-.1h.1m-.1 .1h.1m0-.4h.1m.6-.2h.1m0-.2h.1m.1-.2h.1m-3.7 1.1h.1m.2 0h.1m0 .2h.1m.3 0h.1m.2 0h.1m.3 0h.1m.4-.2h.1m-.1 0h.1" stroke="#cdd600" stroke-width="1.0" stroke-linecap="square" stroke-opacity="1.00"/>
<path d="M433 226.3h.1m.1-.3h.1m.2-.1h.1m0-.1h.1m.5-.1h.1m.1 0h.1m.1 0h.1m-.1 .1h.1m.1 0h.1m0-.1h.1m.4-.2h.1m.1 .2h.1m.5 .2h.1m0 .1h.1m-.1 .1h.1m0 .2h.1m-4 .9h.1m.1-.2h.1m.1-.5h.1m3.6 .1h.1m.1 .2h.1m0 .7h.1m-.1-.2h.1m-.1-.5h.1m.1 .2h.1m-4.7 .7h.1m-.1-.1h.1m-.1 .4h.1m-.1 .1h.1m.2 .2h.1m3.7 .2h.1m.2-.1h.1m-.1 .1h.1m.2-.8h.1m0 0h.1m-4.3 1.2h.1m0 0h.1m0 .1h.1m0 .1h.1m0 0h.1m-.1-.1h.1m0-.1h.1m.4 .4h.1m.4 .1h.1m.1 0h.1m.2 0h.1m-.1 0h.1m.1 0h.1m0-.1h.1m.1 .1h.1m-.1-.1h.1m.2-.2h.1m-.1 .1h.1m-.1-.1h.1m0-.1h.1m.3-.4h.1m.1 0h.1m0-.1h.1m-.1 .3h.1m.1-.2h.1m-2.6 .9h.1" stroke="#deba00" stroke-width="1.0" stroke-linecap="square" stroke-opacity="1.00"/>
<path d="M433.4 226.4h.1m0 0h.1m.1 .1h.1m.2-.4h.1m.7-.2h.1m.1 .1h.1m0-.1h.1m0 .3h.1m-.1-.3h.1m.1 .2h.1m-.1 .2h.1m.2 0h.1m0 0h.1m-.1 .1h.1m.3-.2h.1m-3.4 1h.1m0 .3h.1m0-.8h.1m0 .1h.1m-.1 0h.1m2.9 0h.1m-.1 0h.1m0-.2h.1m0 .1h.1m-.1 .2h.1m-.1-.2h.1m.1 .7h.1m0 .1h.1m-3.9 .4h.1m-.1-.3h.1m-.1 .5h.1m.1-.6h.1m0 .8h.1m-.1 .2h.1m3.1-.5h.1m-.1-.2h.1m.1-.2h.1m0 .3h.1m-3.3 .8h.1m.1 .1h.1m0 0h.1m-.1 .1h.1m.2-.1h.1m.2 .4h.1m.8-.2h.1m-.1 .1h.1m0 0h.1m0-.2h.1m.5-.4h.1m0 .3h.1" stroke="#f09e00" stroke-width="1.0" stroke-linecap="square" stroke-opacity="1.00"/>
<path d="M434.2 226.4h.1m-.1-.1h.1m.6 .2h.1m.3-.2h.1m0 .2h.1m-.1 0h.1m-2.3 1h.1m0-.4h.1m-.1 .1h.1m.4-.5h.1m-.1 .1h.1m0-.3h.1m1.5 .1h.1m0 0h.1m.1 .3h.1m0 0h.1m0 .1h.1m.2 .3h.1m-2.9 .3h.1m.1 .6h.1m-.1 .1h.1m-.1-.5h.1m0 .2h.1m1.4 .4h.1m0-.1h.1m0-.1h.1m.1 0h.1m.1-.2h.1m-.1 .2h.1m-.1 .2h.1m-.1-.9h.1m0 .1h.1m-.1 .4h.1m-.1-.2h.1m0 .1h.1m-.1-.1h.1m-1.5 .7h.1m0 0h.1m.2 .2h.1m.1-.1h.1" stroke="#fd8100" stroke-width="1.0" stroke-linecap="square" stroke-opacity="1.00"/>
<path d="M433.8 227.4h.1m.1-.3h.1m0-.1h.1m-.1 .4h.1m0 0h.1m.1-.2h.1m-.1-.5h.1m0 .6h.1m-.1-.1h.1m-.1-.5h.1m0 .6h.1m0-.5h.1m.1 .2h.1m-.1-.3h.1m.1 .6h.1m-.1 0h.1m.1-.5h.1m0 .1h.1m-.1 .5h.1m0-.1h.1m.1-.1h.1m-1.7 .5h.1m-.1 0h.1m0 .1h.1m-.1 0h.1m-.1-.2h.1m0 .3h.1m-.1-.1h.1m.1 .3h.1m-.1 .1h.1m0-.3h.1m0-.2h.1m0 .1h.1m-.1 0h.1m0 .3h.1m-.1-.2h.1m.1 0h.1m.3-.1h.1m0-.3h.1" stroke="#f65700" stroke-width="1.0" stroke-linecap="square" stroke-opacity="1.00"/>
<line x1="444.3" y1="168.1" x2="444.3" y2="253.1" stroke="#1a1a1a" stroke-width="0.9"/>
<line x1="411.9" y1="219.6" x2="496.6" y2="219.6" stroke="#1a1a1a" stroke-width="0.9"/>
<text x="413.9" y="178.19" font-size="7.4" font-weight="bold" text-anchor="start" fill="#111">0.80</text>
<text x="495.1" y="178.19" font-size="7.4" font-weight="bold" text-anchor="end" fill="#111">17.2</text>
<text x="413.9" y="248.19" font-size="7.4" font-weight="bold" text-anchor="start" fill="#111">63.2</text>
<text x="495.1" y="248.19" font-size="7.4" font-weight="bold" text-anchor="end" fill="#111">18.8</text>
<line x1="410.3" y1="174.5" x2="411.9" y2="174.5" stroke="#444" stroke-width="0.5"/>
<text x="409.7" y="175.72" font-size="3.5" text-anchor="end" fill="#333">10&#8309;</text>
<line x1="410.3" y1="191.5" x2="411.9" y2="191.5" stroke="#444" stroke-width="0.5"/>
<text x="409.7" y="192.72" font-size="3.5" text-anchor="end" fill="#333">10&#8308;</text>
<line x1="410.3" y1="210.5" x2="411.9" y2="210.5" stroke="#444" stroke-width="0.5"/>
<text x="409.7" y="211.72" font-size="3.5" text-anchor="end" fill="#333">10&#179;</text>
<line x1="410.3" y1="222" x2="411.9" y2="222" stroke="#444" stroke-width="0.5"/>
<text x="409.7" y="223.22" font-size="3.5" text-anchor="end" fill="#333">0</text>
<line x1="410.3" y1="232" x2="411.9" y2="232" stroke="#444" stroke-width="0.5"/>
<text x="409.7" y="233.22" font-size="3.5" text-anchor="end" fill="#333">-10&#179;</text>
<line x1="410.3" y1="251" x2="411.9" y2="251" stroke="#444" stroke-width="0.5"/>
<text x="409.7" y="252.22" font-size="3.5" text-anchor="end" fill="#333">-10&#8308;</text>
<line x1="418" y1="253.1" x2="418" y2="254.7" stroke="#444" stroke-width="0.5"/>
<text x="418" y="258.73" font-size="3.5" text-anchor="middle" fill="#333">-10&#178;</text>
<line x1="436" y1="253.1" x2="436" y2="254.7" stroke="#444" stroke-width="0.5"/>
<text x="436" y="258.73" font-size="3.5" text-anchor="middle" fill="#333">0</text>
<line x1="460" y1="253.1" x2="460" y2="254.7" stroke="#444" stroke-width="0.5"/>
<text x="460" y="258.73" font-size="3.5" text-anchor="middle" fill="#333">10&#179;</text>
<line x1="477" y1="253.1" x2="477" y2="254.7" stroke="#444" stroke-width="0.5"/>
<text x="477" y="258.73" font-size="3.5" text-anchor="middle" fill="#333">10&#8308;</text>
<line x1="493" y1="253.1" x2="493" y2="254.7" stroke="#444" stroke-width="0.5"/>
<text x="493" y="258.73" font-size="3.5" text-anchor="middle" fill="#333">10&#8309;</text>
<rect x="410" y="220.6" width="1.7" height="2.8" fill="#111"/>
<rect x="433" y="253.5" width="6" height="1.5" fill="#111"/>
<path d="M399.2 210.6V264.5H453.8" fill="none" stroke="#222" stroke-width="0.9"/>
<path d="M397.6 211.2L399.2 207.6L400.8 211.2z" fill="#222"/>
<path d="M453.2 262.9L456.8 264.5L453.2 266.1z" fill="#222"/>
<text transform="translate(394,227.8) rotate(-90)" x="0" y="2.31" font-size="6.6" font-weight="bold" text-anchor="middle" fill="#111" textLength="69" lengthAdjust="spacingAndGlyphs">LAG3-PerCP-eFluor710</text>
<text x="401" y="271.61" font-size="6.6" font-weight="bold" text-anchor="start" fill="#111" textLength="57.3" lengthAdjust="spacingAndGlyphs">PD1-PE-Dazzle594</text>
<rect x="122.3" y="282.2" width="83.5" height="83" fill="#fff" stroke="#666" stroke-width="0.8"/>
<path d="M180.6 286.2h.1m6.1 1.6h.1m2.8 .7h.1m-12.5 .1h.1m-6.4 1.6h.1m14.3 1h.1m-26 .7h.1m6.3 0h.1m6.5-.4h.1m7.2 .9h.1m2.5-.8h.1m-13.6 1h.1m2.3 .1h.1m10.6 .8h.1m5.2 0h.1m-25.6 1.2h.1m31-.1h.1m-42.7 1.9h.1m4.6-.1h.1m4.3-.5h.1m1.3-.2h.1m23.8 .6h.1m0 .7h.1m10-.1h.1m-39.9 1.4h.1m4.8-.4h.1m24.9 .1h.1m2.9-.3h.1m3.2 .8h.1m-34.5 .8h.1m34.6 0h.1m-41.3 .5h.1m42.6 0h.1m-6.2 2.1h.1m10.9 1h.1m-51.3 .7h.1m.8 .8h.1m-4.8 .6h.1m40.8-.1h.1m-39.1 .8h.1m5.7 .2h.1m-4.6 1.6h.1m.8-.6h.1m34.5 .9h.1m-34.9 1.5h.1m36.7-.7h.1m-43.6 2.5h.1m2.7 1.3h.1m35.8-.6h.1m4 .3h.1m-44.7 .7h.1m38.7 .6h.1m-34.2 1.1h.1m37.2-.7h.1m1.5 .2h.1m4.5 0h.1m6.1 .3h.1m-16.1 .4h.1m.7 .7h.1m9.7-.7h.1m-11.2 1.5h.1m5 .2h.1m3-.1h.1m-44.3 .7h.1m34.8-.2h.1m.8-.2h.1m2.8 .5h.1m-4.9 1.2h.1m1-.3h.1m.8-.3h.1m-36.9 1.6h.1m1.6-.5h.1m35.7 .6h.1m-39.9 .4h.1m.4 .3h.1m33.3-.1h.1m10.4 0h.1m-44.2 .6h.1m33.7 .9h.1m6.6 .9h.1m-8.7 .8h.1m1-.2h.1m10.2 .3h.1m-51.7 .3h.1m9.7 1.3h.1m28.8 .3h.1m-.1 .1h.1m1.5-.7h.1m3.4 .2h.1m-42 .9h.1m34.3-.1h.1m.4 .1h.1m.5 .2h.1m4 0h.1m-32.1 1h.1m33.6 .5h.1m-39.1 .3h.1m28.9 .7h.1m5.6-.4h.1m-29.4 1.3h.1m-6.6 .5h.1m25.4 .6h.1m-1.5 .1h.1m1.7 .5h.1m19.5 .2h.1m-50 .8h.1m28.4 1.2h.1m1 .2h.1m3.1 .1h.1m26-.2h.1m-25.1 2.1h.1m-6.1 .4h.1m-16.7 3.6h.1m14.1-.7h.1m-14.2 1.9h.1m-2.2 1.5h.1m1.1-.1h.1m15.6-.4h.1m-14.9 2.5h.1m16.4 2.4h.1m-14.8 5.4h.1m2.4 .1h.1m2.4 .8h.1m.6 2.1h.1m-2.2 1.6h.1" stroke="#161ffa" stroke-width="1.0" stroke-linecap="square" stroke-opacity="0.50"/>
<path d="M176.9 293.7h.1m1.4 .4h.1m0-.2h.1m-10.5 .9h.1m.3 .6h.1m3.8-.6h.1m1.7-.2h.1m4.6 0h.1m2.2 .7h.1m0-.8h.1m.2 .5h.1m.7-.2h.1m-15.7 1.6h.1m1.8-.5h.1m-4.8 1.1h.1m1 .3h.1m.1 .1h.1m16.3-.6h.1m-.1 .4h.1m2 .1h.1m-2.3 .4h.1m1.8 .8h.1m-22.8 .4h.1m2.6 .5h.1m19.3-.2h.1m0-.4h.1m.5 .2h.1m-20.9 1.1h.1m0-.4h.1m19.6 .4h.1m-21.3 .5h.1m20.7 0h.1m.2 .6h.1m.5 .3h.1m.7 .1h.1m-27 2.5h.1m24.6-.5h.1m-27.4 1.6h.1m1.2-.2h.1m1.1 0h.1m-.1 .2h.1m23.8 .1h.1m1.8-.3h.1m-30.2 .9h.1m.7 .2h.1m1 0h.1m27.3-.1h.1m-4.2 2.4h.1m-28.1 .8h.1m2.2-.1h.1m25.2-.2h.1m.9 .1h.1m1.7-.4h.1m-30.6 1.7h.1m27.4-.3h.1m.6 .3h.1m.3-.6h.1m-31.6 1.6h.1m.5-.6h.1m1.9 .3h.1m26.8-.3h.1m.6 0h.1m-32.2 1.6h.1m1.8 .2h.1m.3-.7h.1m.1-.2h.1m.8 .2h.1m26.9 1h.1m-30.2 1.2h.1m.5 0h.1m-2 1.6h.1m26.7 .4h.1m0 .2h.1m-28.1 .9h.1m.4-.4h.1m.2 .5h.1m26-.7h.1m.1 0h.1m1.1 .7h.1m-29.3 2.3h.1m.5-.4h.1m26.6-.5h.1m1.1 .5h.1m-28.8 1.3h.1m.7-.9h.1m.4 .7h.1m23-.1h.1m1.5 0h.1m-26.6 1.1h.1m.2 .2h.1m.7 0h.1m23.9-.5h.1m.2-.4h.1m-24.3 1.1h.1m22.8 .3h.1m-23.5 1.2h.1m.3-.1h.1m23.3 .4h.1m-23.8 .1h.1m0 .3h.1m-.1 .5h.1m18.1-.5h.1m.9 .3h.1m3.3-.5h.1m-24 1.7h.1m.4-.4h.1m17.7-.3h.1m2.3 .1h.1m1.4 .3h.1m.6-.3h.1m-6.3 1.1h.1m.8 .4h.1m-18.7 1.2h.1m1.2-.5h.1m17.5 .2h.1m.5 .1h.1m1 0h.1m-20.3 .8h.1m.3 .3h.1m-1.1 1.2h.1m15.6-.7h.1m-16 1h.1m15.6 .1h.1m-2.1 .7h.1m-13.6 1.6h.1m12.7 .6h.1m-12.7 1.3h.1m12.7-.6h.1m-.7 3.9h.1m-12.4 1h.1m12.1-.2h.1m.8 .4h.1m-1.5 3.7h.1m0 .1h.1m-.8 2.5h.1m.3 .4h.1m-9.6 .5h.1m-.5 1h.1m1.1 .8h.1m6.1 .7h.1m.1 .1h.1m.5-.6h.1m.2 .1h.1m.1-.3h.1m-5.1 1.5h.1m.3 1.2h.1m.6-.1h.1" stroke="#112dfb" stroke-width="1.0" stroke-linecap="square" stroke-opacity="0.58"/>
<path d="M170.9 295.3h.1m.9 .1h.1m1.1-.5h.1m2.4 .4h.1m.8 .1h.1m1.2-.2h.1m-6.9 .7h.1m0-.1h.1m2.4-.1h.1m.5 .1h.1m.2-.3h.1m2.2 .6h.1m.1-.3h.1m1.5 .5h.1m-.1 0h.1m.1-.1h.1m.8 .1h.1m-13 .8h.1m.4-.3h.1m.8-.1h.1m.4-.2h.1m10.9 .9h.1m-.1-.2h.1m-13.9 1.1h.1m14.9-.7h.1m-.2 1.1h.1m0-.1h.1m-18.3 1.7h.1m.9-.5h.1m.8-.3h.1m16.6 .8h.1m-17.9 .6h.1m-.1 .3h.1m17.9-.5h.1m-.1 .1h.1m-.1-.1h.1m0 0h.1m-20.2 1.6h.1m.1 .2h.1m.9-.1h.1m.1-.2h.1m18.2 .2h.1m-20.3 .6h.1m.2 .1h.1m.3 0h.1m18.2 .4h.1m.1-.2h.1m.4-.8h.1m-19.8 1.9h.1m.2-.1h.1m18.6-.2h.1m1.1-.3h.1m-22.8 1.2h.1m.6 .3h.1m.6-.6h.1m20.1 .2h.1m-23.6 1.1h.1m1.1 0h.1m.1 .5h.1m1.9-.8h.1m.1-.2h.1m18.9 .6h.1m.9-.6h.1m-24.7 1.8h.1m.7-.1h.1m2.5-.3h.1m18.2 0h.1m-23.1 1.6h.1m.2-.7h.1m2.4 .1h.1m-.1 .4h.1m0-.5h.1m.5 .5h.1m.2-.7h.1m-.1 .3h.1m18.8-.4h.1m-24.4 1.7h.1m.1-.1h.1m.4 .3h.1m.7 0h.1m1.1-.8h.1m.1 .6h.1m1.5-.4h.1m17.5 .4h.1m.4-.3h.1m-22.4 1.5h.1m2.5-.7h.1m-6.4 1.5h.1m3.2 0h.1m.7 .3h.1m18.5-.6h.1m.2 .5h.1m-24.8 1h.1m4.1-.2h.1m19.1-.5h.1m.3 .4h.1m1.3-.6h.1m.3 .9h.1m-23.9 .8h.1m.5-.6h.1m.1 .3h.1m.4 .2h.1m18.8 .2h.1m.9-.6h.1m.3-.1h.1m.7 .1h.1m.6 .4h.1m-25.7 1.3h.1m.6-.8h.1m1.3 .1h.1m19.4 .8h.1m.1-.4h.1m-.1-.2h.1m1.7-.1h.1m.1 .1h.1m-.1 0h.1m.2 .4h.1m.3 .1h.1m-25.7 .8h.1m.7-.5h.1m.6 .1h.1m-2.4 1.4h.1m.5 .1h.1m.4-.7h.1m19.6 .9h.1m.4 .5h.1m2.2 .4h.1m-3.8 .7h.1m.9 .3h.1m.1-.6h.1m.9 .2h.1m.5 .1h.1m0-.3h.1m-23.4 1.5h.1m.7-.7h.1m18.5 .6h.1m.3-.6h.1m.1 .1h.1m1.8 .7h.1m0-.4h.1m-23 1.5h.1m.1-.8h.1m16.5 .7h.1m.4-.3h.1m1.1 .2h.1m2 .1h.1m-20.6 1h.1m16.3-.6h.1m2.8 .4h.1m-19.9 .7h.1m13.8 .4h.1m.4-.2h.1m-.1 0h.1m.2-.2h.1m.2 0h.1m1.2 .4h.1m.2 .1h.1m.1-.5h.1m2.7 .1h.1m-19.5 1.5h.1m0-.9h.1m.2 .1h.1m12.5 0h.1m1.8-.1h.1m.5 .5h.1m2-.5h.1m-17.7 1h.1m.7 .2h.1m10.9 .3h.1m.6-.2h.1m-.1 .5h.1m.6-.2h.1m.8 0h.1m1.1 0h.1m-15.7 1.2h.1m11.4-.8h.1m.2 .6h.1m-12.6 .5h.1m11.7-.1h.1m.8 .3h.1m.6 .3h.1m-13.3 .7h.1m10.3 .3h.1m.4 .1h.1m.4-.6h.1m-1.4 1h.1m.8-.1h.1m.2 .7h.1m-2.1 1.1h.1m.5-.9h.1m1 .4h.1m-1.1 .9h.1m0 .6h.1m-.5 .7h.1m-11.8 1.4h.1m11 1.9h.1m-11.1 .8h.1m11 0h.1m-11.3 1.3h.1m-.2 0h.1m-.1 .8h.1m10.8 .2h.1m-11.1 1.2h.1m10.7 .5h.1m-10.6 1.2h.1m10.5 0h.1m-.1-.2h.1m0 1.7h.1m-10.7 .9h.1m.8 1h.1m.1 .3h.1m-.1 .4h.1m7.5 1.9h.1m-1.3 .5h.1m.2 .1h.1m.2-.2h.1m.5-.1h.1m-6.4 .9h.1m.6 .3h.1m0 .4h.1m3.1-.1h.1m1.3-.7h.1m.1 .2h.1m-4.1 1h.1m.1 0h.1" stroke="#0b3afc" stroke-width="1.0" stroke-linecap="square" stroke-opacity="0.67"/>
<path d="M172.4 296.4h.1m.2 0h.1m.6-.1h.1m2.3 .1h.1m.2-.1h.1m-6.1 .6h.1m1.1-.1h.1m4.4-.2h.1m.9 .4h.1m.1-.3h.1m.1 .4h.1m-.1 .2h.1m1 .2h.1m-10.9 .6h.1m1-.4h.1m.3 .5h.1m-2.9 1h.1m.4-.2h.1m.2-.1h.1m11.7-.1h.1m-14 1.4h.1m.3 0h.1m.3-.6h.1m0 .9h.1m13.8-.4h.1m.2-.5h.1m-.1 .2h.1m0-.2h.1m-15.6 1.1h.1m.3 .6h.1m14.5 .6h.1m-16.1 1.2h.1m-1.6 .9h.1m.3-.2h.1m.3 .3h.1m15.4 .1h.1m-16.9 .8h.1m.8-.2h.1m15.8 .3h.1m.5-.4h.1m-19.5 2.1h.1m.1-.1h.1m16.2 .4h.1m-17.8 1.1h.1m.1 .3h.1m0-.7h.1m1.3-.3h.1m.4 .9h.1m.1-.5h.1m14.4-.3h.1m0 .6h.1m-18.8 1.2h.1m.4-.1h.1m.9-.6h.1m.1 .7h.1m1.6-.6h.1m.6-.2h.1m11.2 .9h.1m.6-.4h.1m.3-.2h.1m.1-.1h.1m.9 .1h.1m-17.3 1.3h.1m.3-.3h.1m0-.2h.1m.9 .1h.1m.5 .2h.1m10.3 .4h.1m2.3-.5h.1m.3-.3h.1m.1 .2h.1m.6 .1h.1m-17.5 1.5h.1m-.1-.4h.1m.1-.2h.1m1.1 .4h.1m0-.2h.1m.6 .1h.1m1-.4h.1m9.6 .5h.1m1.5-.4h.1m-.1-.2h.1m.1 .1h.1m-16.2 1.5h.1m.5-.3h.1m.2-.1h.1m.1 0h.1m.4 .2h.1m.6 .2h.1m.5-.4h.1m0-.1h.1m.6 0h.1m9.4 .3h.1m.2 0h.1m0 .1h.1m.9 .4h.1m.1-.9h.1m.5 0h.1m-17.4 1h.1m1.5 .2h.1m.2 .3h.1m.7-.2h.1m.6 .2h.1m.3-.5h.1m.3 .8h.1m.2-.7h.1m7.6 .5h.1m.5-.2h.1m0 .1h.1m.2 .2h.1m.8-.6h.1m0 .2h.1m.2-.4h.1m.3 .5h.1m.5-.1h.1m.2 .2h.1m.3-.3h.1m.1 .2h.1m-19.1 .9h.1m.4 .1h.1m-.1-.4h.1m.6 .3h.1m1.1 .1h.1m.1-.3h.1m.1 .1h.1m.2 .6h.1m.2-.8h.1m.1 0h.1m.1 .7h.1m.1 0h.1m.8-.7h.1m.7 .1h.1m7.7 .7h.1m.9 0h.1m.2-.2h.1m.3-.1h.1m.8-.5h.1m.2 .5h.1m0 .1h.1m.2 0h.1m1.1-.2h.1m-17.7 1h.1m1.1 .3h.1m.8 .1h.1m.4-.1h.1m.9-.8h.1m.3 .2h.1m.8 .4h.1m8.5-.3h.1m.4 .4h.1m.3-.2h.1m.1-.4h.1m2.4-.1h.1m-19.2 1.4h.1m1.4-.3h.1m3.2 .1h.1m1.4 0h.1m5.7 .8h.1m.7-.1h.1m.2-.3h.1m1-.6h.1m-.1 .5h.1m1-.2h.1m.5 .3h.1m.1-.1h.1m.5-.1h.1m.2 .2h.1m-5.9 1.1h.1m1.1 0h.1m.7-.6h.1m.2 .5h.1m.1-.6h.1m-.1 .8h.1m0-.4h.1m.5-.2h.1m-.1 .7h.1m0-.8h.1m.4 .7h.1m.9-.2h.1m0 0h.1m-18.9 .6h.1m.6 .1h.1m9.8 .6h.1m.6-.7h.1m.2 .4h.1m-.1-.1h.1m1.7 .3h.1m-.1 .1h.1m.8-.3h.1m-.1-.1h.1m0 .2h.1m0-.7h.1m.2 .9h.1m.1-.3h.1m.5 .3h.1m.5-.7h.1m.2 .3h.1m-7 1.4h.1m0-.8h.1m1.2 .7h.1m.1-.7h.1m.3 .2h.1m-.1-.1h.1m1.1-.1h.1m.6 .6h.1m.3 .3h.1m.2 0h.1m.1-.8h.1m2 .3h.1m-16.3 .9h.1m8.2-.2h.1m1 .7h.1m.3-.3h.1m.2-.4h.1m.8 .4h.1m2.1 .2h.1m.7-.2h.1m-15.5 .9h.1m0-.2h.1m.6 0h.1m.3-.1h.1m9.6 .1h.1m.3 .6h.1m.3-.2h.1m-.1-.7h.1m.8 .1h.1m2.2 0h.1m-6.4 1.8h.1m.1-.5h.1m.1-.2h.1m.3 .5h.1m.3-.4h.1m0 .1h.1m.2 .3h.1m.6 .2h.1m.6-.6h.1m.2 .2h.1m-.1-.5h.1m-12.4 1.9h.1m0-.2h.1m8.5 .2h.1m0-.4h.1m.1 0h.1m.4-.1h.1m.6 .3h.1m.1-.3h.1m-10.4 .9h.1m.3 .5h.1m7.7-.3h.1m.6-.4h.1m.8 .1h.1m-10.2 1.3h.1m8 .1h.1m-8.3 1.3h.1m.6-.4h.1m7.1 .4h.1m-8.2 1h.1m7.9-.2h.1m-9.4 1.2h.1m8.6-.1h.1m0 1h.1m.1 .2h.1m-9.7 .9h.1m-.1-.6h.1m8.5 .6h.1m.6-.2h.1m-10.2 2.3h.1m9.6-.1h.1m0-.8h.1m-.5 1.7h.1m.4-.7h.1m-.2 1.8h.1m.1 0h.1m-10.5 .4h.1m0 .4h.1m9.9 .2h.1m-.1 1.3h.1m.1 0h.1m0-.1h.1m-.3 1.5h.1m-9.9 .6h.1m-.3 .8h.1m0 .6h.1m9.1 1.1h.1m.1 .2h.1m.1-.4h.1m-8.8 2h.1m7.8 .5h.1m-.1-.9h.1m-7.7 1h.1m7.3 .2h.1m-7.3 1h.1m.6 .7h.1m5.3 .7h.1m-3.7 1.2h.1m1.1 0h.1m0-.1h.1m.9-.7h.1m.2 .2h.1m-2.4 .7h.1m1.4 .1h.1" stroke="#0648fd" stroke-width="1.0" stroke-linecap="square" stroke-opacity="0.75"/>
<path d="M173.6 296.9h.1m.7 .3h.1m-5.7 1.3h.1m.9-.2h.1m2.5-.8h.1m1.8 .1h.1m.7 .2h.1m-.1-.2h.1m1.1 .4h.1m0-.3h.1m.2 .5h.1m-.1 0h.1m.3-.7h.1m.1 .8h.1m-9.8 1h.1m.4-.3h.1m.6 .1h.1m.9-.6h.1m8.4 .2h.1m.4 .7h.1m-.7 1.1h.1m0-.8h.1m.7 .2h.1m-1 1.1h.1m.1 .1h.1m.1-.2h.1m-.1-.1h.1m.5-.1h.1m-.9 1.4h.1m-.1 .2h.1m-.1-.6h.1m-.1 0h.1m0 0h.1m-14.8 1.8h.1m.3-.8h.1m.6 .3h.1m.3-.3h.1m.2-.1h.1m12.1 .6h.1m.1-.2h.1m.7-.2h.1m-15.1 1.6h.1m-.1-.1h.1m.8-.1h.1m12.7 .2h.1m.1 0h.1m.1-.2h.1m.2-.4h.1m-14.3 .9h.1m-.1 .6h.1m12.7-.5h.1m-14.5 1.5h.1m0 .1h.1m.1 0h.1m.1-.1h.1m.5-.1h.1m0-.3h.1m-.1-.3h.1m.7 .5h.1m-.1 .2h.1m12-.6h.1m-14.5 1.4h.1m1.9-.4h.1m9.5 .6h.1m0 0h.1m-.1 .1h.1m.4-.1h.1m.2 .1h.1m.1-.5h.1m.2 0h.1m-13.1 1.4h.1m.5-.4h.1m.4 .4h.1m0-.2h.1m.1 0h.1m.8 0h.1m7.3 0h.1m.6 .1h.1m.7-.4h.1m-12.6 1.6h.1m1.5 .1h.1m.2-.2h.1m0-.2h.1m1.6 .2h.1m0 .1h.1m.5-.1h.1m.6-.2h.1m0 .1h.1m.6-.1h.1m2.1-.2h.1m.3 0h.1m.2 .4h.1m.4 .1h.1m.5-.8h.1m.5 .8h.1m.1-.5h.1m-11 1.6h.1m.2-.3h.1m1.2 .3h.1m.1-.2h.1m.1-.3h.1m0 0h.1m-.1-.4h.1m.7 .1h.1m.2 .2h.1m.9 .4h.1m.2-.3h.1m.1 .4h.1m0-.1h.1m-.1-.5h.1m.2 .4h.1m.4 0h.1m1-.5h.1m.8 .6h.1m-.1-.1h.1m1.4-.6h.1m0 0h.1m-9.6 1.6h.1m2.7 .2h.1m.1-.8h.1m.1 .6h.1m0-.4h.1m.1 .4h.1m.2-.1h.1m.1-.3h.1m.8 .2h.1m.3-.3h.1m0 .5h.1m.3-.4h.1m.3-.2h.1m.1 .4h.1m.1-.4h.1m1.3 .2h.1m-10.3 1.4h.1m1.1-.5h.1m1.1 0h.1m.3-.2h.1m.7 .4h.1m1.1-.2h.1m.4 .6h.1m.2 .2h.1m0-1h.1m.1 .3h.1m.4 .3h.1m.2-.2h.1m.9 .1h.1m1-.3h.1m-9.2 1.2h.1m0-.1h.1m.9 .3h.1m.6-.1h.1m1.2 .3h.1m.8-.5h.1m.3-.1h.1m.1 .1h.1m0 .6h.1m.3-.1h.1m.5-.2h.1m-5.8 1h.1m.5-.1h.1m0-.2h.1m2.5 .1h.1m.2 .1h.1m.4-.2h.1m.7-.3h.1m.2 0h.1m0 .6h.1m-6.4 .7h.1m.5 .6h.1m1.5-.1h.1m.1-.3h.1m.2-.1h.1m.1 .4h.1m0-.4h.1m.4 .6h.1m0-1h.1m1.5 .3h.1m-12.2 1.5h.1m.9 .1h.1m0-.6h.1m.4 .6h.1m.9-.4h.1m.5 .4h.1m.2-.1h.1m1.2 .1h.1m.4-.5h.1m1.6-.1h.1m-.1 .4h.1m2.3-.3h.1m.4 .4h.1m1.3-.4h.1m-13 .9h.1m.3-.2h.1m.7 .3h.1m1.7 .5h.1m0-.6h.1m.4-.2h.1m1.7 .2h.1m1.8 .6h.1m.1-.5h.1m-.1-.4h.1m-.1 .4h.1m0-.3h.1m0 .6h.1m.9 .2h.1m.5-.5h.1m-10.2 1h.1m0 0h.1m0 .4h.1m.9 .2h.1m-.1-.2h.1m.5-.7h.1m.2 .1h.1m.1 .7h.1m.5-.5h.1m.1 .3h.1m-.1-.5h.1m.3 .2h.1m0 .5h.1m1.2-.8h.1m.7 .6h.1m-.1 .1h.1m0-.5h.1m.1 .6h.1m.5-.2h.1m.1-.6h.1m.9 .3h.1m-8.2 .9h.1m.4-.1h.1m-.1-.1h.1m0 .8h.1m.7-.8h.1m3 .5h.1m0-.1h.1m0-.1h.1m0-.1h.1m.5 .6h.1m0-.4h.1m.4-.4h.1m0 .2h.1m-6.9 1.3h.1m5.9 .2h.1m-6.2 .5h.1m.1 .7h.1m.3-.7h.1m.4 .4h.1m3.9-.6h.1m.1 .4h.1m.1 .3h.1m.6-.5h.1m0 0h.1m.1 .6h.1m.6-.9h.1m-6.5 1.8h.1m4.9-.5h.1m.1 0h.1m.3 .3h.1m-7 .7h.1m.7 0h.1m.3 .6h.1m4.3-.4h.1m0-.3h.1m.2 .4h.1m0-.2h.1m.3 .1h.1m-6.9 1.2h.1m0 .2h.1m.5-.2h.1m.4-.5h.1m5.6 .3h.1m-6.7 .9h.1m0 .2h.1m-.1-.3h.1m.4-.2h.1m4.2 .7h.1m.2 .2h.1m.2-.1h.1m.1-.6h.1m-5.9 .7h.1m-.1 .6h.1m4.9-.5h.1m.2 .5h.1m.4-.6h.1m.1 .1h.1m-.1 .4h.1m0-.3h.1m-7.7 1.6h.1m.2-.2h.1m.2 .1h.1m.4-.1h.1m5.5-.5h.1m-7.2 1.3h.1m.6 0h.1m4.9-.2h.1m-.1 .7h.1m.2-.7h.1m-.1-.1h.1m.8 .2h.1m-7.6 1.5h.1m.4-.6h.1m6.1 .8h.1m.1-.8h.1m.1 .1h.1m.2-.2h.1m-8.1 1.5h.1m7.5-.2h.1m.1 0h.1m-.5 .6h.1m.1 .3h.1m.1 .2h.1m-8.4 1.4h.1m-.1-.2h.1m0-.3h.1m-.4 1h.1m8.1-.2h.1m.1 1.1h.1m-.2 .9h.1m0 .5h.1m0 .5h.1m-9.2 1.6h.1m9 0h.1m-9 .8h.1m8.6-.1h.1m.1-.1h.1m0 .7h.1m0 .4h.1m-9.3 .7h.1m8.7 .3h.1m-.1 .4h.1m-.4 .8h.1m-8.2 .9h.1m.2-.4h.1m7.4 .5h.1m-7.5 .7h.1m0 .4h.1m-.1 .1h.1m7-.2h.1m.3-.5h.1m-6.8 1.6h.1m.9 1.2h.1m2.8 .3h.1m.4 .3h.1" stroke="#0155fe" stroke-width="1.0" stroke-linecap="square" stroke-opacity="0.83"/>
<path d="M171.5 298.5h.1m.2-.1h.1m0-.1h.1m1.3 .1h.1m.4-.1h.1m.5-.2h.1m.2-.1h.1m1.2 .5h.1m-6.2 .6h.1m.2 .2h.1m2.4-.7h.1m-.1-.1h.1m-.1 .1h.1m.1-.1h.1m3.2 .8h.1m-.1 0h.1m0-.7h.1m.3 .9h.1m.2-.5h.1m.5 .3h.1m-9.2 .6h.1m.3-.3h.1m.2 0h.1m7.5 .1h.1m0 0h.1m0 .7h.1m.5 0h.1m-10.8 1h.1m.6-.1h.1m-.1-.2h.1m.1-.2h.1m.1 0h.1m-2.1 1.2h.1m.1 .1h.1m0 0h.1m-.1-.2h.1m10.7 .5h.1m.1-.8h.1m-.1-.1h.1m.6 .1h.1m-12.1 1.7h.1m0-.6h.1m.1 .3h.1m10.5-.1h.1m0 .3h.1m.8-.6h.1m-.1-.2h.1m-12.6 1.8h.1m0-.7h.1m.2-.1h.1m.2 0h.1m9.7 .9h.1m-11.3 .8h.1m0-.5h.1m.2-.2h.1m0 .4h.1m10 .4h.1m.2-.3h.1m0-.1h.1m-10.8 .9h.1m.2 .2h.1m.3-.1h.1m-.1 .6h.1m0-.6h.1m-.1-.2h.1m.1 .6h.1m-.1 0h.1m8.5-.3h.1m0-.5h.1m-10.3 1.3h.1m0-.1h.1m0 .6h.1m-.1-.4h.1m0 .4h.1m.8 0h.1m2.2 .1h.1m3.3 0h.1m.1-.1h.1m.4 .1h.1m.3-.2h.1m1.1-.4h.1m-8.4 1.1h.1m1.4-.1h.1m.1-.1h.1m.2 .5h.1m-.1-.6h.1m.2 .2h.1m.8 .2h.1m0-.2h.1m-.1 .4h.1m.6 0h.1m.6 0h.1m.2 .2h.1m.3-.1h.1m0-.3h.1m-.1 .2h.1m.6-.3h.1m0-.2h.1m0 .1h.1m.6-.3h.1m-6.1 1h.1m.2 0h.1m.4 .4h.1m.2 .1h.1m1.3-.2h.1m-.1-.1h.1m-20 10.4h.1m0 .1h.1m.6-.5h.1m.1 .5h.1m0-.4h.1m-.1 0h.1m-.5 1.1h.1m1.4 .3h.1m-3.7 1.2h.1m1.9-.3h.1m1.6 .3h.1m-3.9 .1h.1m1.1 .7h.1m2-.3h.1m-.1 .4h.1m0-.5h.1m-3.7 .9h.1m.5-.1h.1m.3 .9h.1m0-.6h.1m.3 .5h.1m.1-.8h.1m.1-.1h.1m0 .7h.1m.4 .2h.1m-.1 0h.1m.4-.7h.1m-.1 .6h.1m.2-.2h.1m.2-.6h.1m-3.8 1.7h.1m1.1 .3h.1m0-.5h.1m-.1-.4h.1m0 .2h.1m.5-.1h.1m.4-.1h.1m.1 .1h.1m.2 .3h.1m.3 .3h.1m-.1-.1h.1m.1-.1h.1m-3.7 1.2h.1m.5 0h.1m0-.5h.1m-.1 .5h.1m-1.8 1.1h.1m.9-.9h.1m.1 .3h.1m.4 .3h.1m.6-.3h.1m.5 .7h.1m-2.5 0h.1m-.1 .5h.1m.5-.3h.1m.3 0h.1m.2 0h.1m0 .6h.1m.6-.1h.1m.2 0h.1m-4.5 1h.1m.4 .1h.1m.7-.2h.1m1.4-.2h.1m.1-.3h.1m.3 .7h.1m0 .1h.1m.1-.2h.1m.5-.7h.1m-4.8 1.5h.1m4.6 .3h.1m0 0h.1m-5.5 .9h.1m5.2-.3h.1m.1-.2h.1m-6.2 1.1h.1m6.4 .3h.1m-6.9 1h.1m6.3 0h.1m-.1 .1h.1m.2 0h.1m-7.6 1.2h.1m.2-.3h.1m7.2 0h.1m0-.4h.1m-.1-.2h.1m-7.9 2h.1m.1-.7h.1m7.4 .3h.1m-.1-.4h.1m-8 1.4h.1m0 .3h.1m7.8-.6h.1m0-.2h.1m-8 1.4h.1m8.1 .5h.1m-8.5 .9h.1m0 1.1h.1m0-.4h.1m7.7 .2h.1m-8 .2h.1m7.7 1.9h.1m.1-.8h.1m-.1 .9h.1m-7.8 1h.1m6.6 1.6h.1m-.8 1.3h.1m-3.5 .9h.1m.7 .2h.1m1-.2h.1m.2-.2h.1m.5-.1h.1m.1-.4h.1m-3.2 1.1h.1m.9 .3h.1m.4-.2h.1m.5-.1h.1m.1-.1h.1" stroke="#0068f9" stroke-width="1.0" stroke-linecap="square" stroke-opacity="0.92"/>
<path d="M171.5 299h.1m.4 .4h.1m.5-.5h.1m1.6 .5h.1m.1-.5h.1m-.1 .2h.1m0-.3h.1m.3 .3h.1m0 .3h.1m-6 .8h.1m1.4-.4h.1m.5-.2h.1m0-.1h.1m3.4 .2h.1m.7 .5h.1m.3 0h.1m-7.3 .4h.1m-.1 0h.1m.2 .3h.1m-.1-.4h.1m7.1 .6h.1m-9.4 1h.1m.6-.5h.1m-.1 .8h.1m0-.4h.1m8 .1h.1m0-.4h.1m-9.3 1.8h.1m.3-.5h.1m-.1 .1h.1m.2-.5h.1m-.1 .2h.1m0-.1h.1m8.4 .1h.1m0-.2h.1m-10.1 1.7h.1m.2-.2h.1m.4-.2h.1m8.2 .2h.1m-.1 .2h.1m0-.4h.1m.2 .5h.1m-.1-.8h.1m-9.7 1h.1m1 .7h.1m7.5-.5h.1m.6-.2h.1m-.1-.1h.1m-8.6 1.1h.1m0 .3h.1m0-.2h.1m.3-.1h.1m1.8 .9h.1m2.1-.2h.1m.5 .1h.1m.1-.1h.1m0 0h.1m-.1-.6h.1m.4 .6h.1m-6.5 .2h.1m0 .2h.1m1.1 .7h.1m.4-.7h.1m.1 .6h.1m.4-.1h.1m1.2-.3h.1m1.5-.4h.1m.1 .2h.1m-26.4 21.6h.1m-1.1 .8h.1m.4 .4h.1m.4-.8h.1m0 .6h.1m.1-.7h.1m.1-.1h.1m0 .5h.1m0-.5h.1m.5 1h.1m0-.5h.1m.2-.3h.1m.1 .5h.1m0-.3h.1m-3.7 1h.1m-.1 .1h.1m.2-.2h.1m3.7 .5h.1m0-.6h.1m0 .5h.1m-5.1 .7h.1m0-.1h.1m4.7 .3h.1m.2-.1h.1m-5.6 .8h.1m5.3 0h.1m0 .6h.1m.1 0h.1m-6.4 .9h.1m6.2 0h.1m0-.3h.1m-6.9 1.7h.1m0-.1h.1m-.5 1.4h.1m7.5 0h.1m-.1 1.4h.1m-7.6 .8h.1m7.4 .1h.1m-7.5 .7h.1m0 .5h.1m6.8 .6h.1m-7 .6h.1m.2 0h.1m0 1h.1m6 .4h.1m-.1-.1h.1m-5.7 1.2h.1m.1 .2h.1m4.8-.2h.1m0 .1h.1m-4.6 .8h.1m.5 .3h.1m2.6-.2h.1m.2 .1h.1m-.1 0h.1m.3-.4h.1m-2.6 1.2h.1m0-.2h.1m0 0h.1m.5 .1h.1" stroke="#007df1" stroke-width="1.0" stroke-linecap="square" stroke-opacity="1.00"/>
<path d="M171.1 300.3h.1m.2 .1h.1m0 0h.1m.3-.7h.1m.4 .2h.1m.3 .2h.1m.3-.1h.1m.2-.4h.1m-.1 0h.1m.2 .6h.1m.2-.6h.1m0 .4h.1m0 .4h.1m.3-.5h.1m.4 .3h.1m-6.2 1.2h.1m.5-.7h.1m.1 .6h.1m-.1-.1h.1m.2-.1h.1m.1-.1h.1m.5-.3h.1m3.7-.2h.1m0 .4h.1m.1 .5h.1m.2-.5h.1m.2 .2h.1m-6.7 1h.1m0 0h.1m.1-.4h.1m5.3-.1h.1m.1 .7h.1m.1-.2h.1m-7.7 1.2h.1m.3-.1h.1m.4 .2h.1m-.1-.8h.1m-.1 .4h.1m.1 .5h.1m.4-1h.1m5.5 .1h.1m.1 .7h.1m.1-.7h.1m0 .1h.1m-7.9 1.3h.1m0 .2h.1m.3-.4h.1m5.7 .3h.1m-5.4 1h.1m-.1 .1h.1m.8-.3h.1m.1 .4h.1m.3 .1h.1m.4 .1h.1m.9-.1h.1m.1-.3h.1m.1 .3h.1m1.9-.4h.1m-5.5 .7h.1m.7 .1h.1m0 .2h.1m.3 0h.1m.2 0h.1m.1 0h.1m1.6-.2h.1m0-.1h.1m-25.8 23.8h.1m-1.4 .5h.1m.3-.3h.1m0 .7h.1m.2-.9h.1m0 .7h.1m.1-.6h.1m0 .3h.1m.2 0h.1m.4-.3h.1m.4 .6h.1m-2.6 .3h.1m-.1 0h.1m2.3 .1h.1m.4 .5h.1m.1 .3h.1m-4.8 .8h.1m.1-.3h.1m.3-.1h.1m-.1-.1h.1m4.1 0h.1m.1 0h.1m.3 .5h.1m-5.8 .9h.1m-.5 1.4h.1m6.3-.9h.1m-6.6 1.8h.1m-.1 1h.1m6.6-.9h.1m0 .6h.1m-7 .6h.1m6.8 .3h.1m-6.9 1.2h.1m-.2 .8h.1m6.7 .2h.1m-6.8 1.2h.1m6.4-.7h.1m-.2 .9h.1m-5.9 1.5h.1m.1-.4h.1m.2 1.2h.1m3.6 .6h.1m.2-.1h.1m.4-.8h.1m-3.9 1.4h.1m.8 .3h.1m0-.2h.1m0 .3h.1m.6-.2h.1m.6-.1h.1m.6-.5h.1m-2.4 1h.1" stroke="#0092e9" stroke-width="1.0" stroke-linecap="square" stroke-opacity="1.00"/>
<path d="M170.7 301.3h.1m.2-.3h.1m.3 .2h.1m.2-.5h.1m0 .3h.1m0 0h.1m0-.1h.1m0 .2h.1m-.1-.2h.1m.1 0h.1m.2-.3h.1m-.1 .7h.1m0-.5h.1m.8 .4h.1m.2 0h.1m.1 .2h.1m0-.4h.1m.1 0h.1m-3.9 .6h.1m.2 .4h.1m-.1 0h.1m.1-.5h.1m-.1 .8h.1m.5 0h.1m.4-.1h.1m-.1-.5h.1m0 .4h.1m.3-.3h.1m0-.2h.1m.1-.1h.1m0 .2h.1m.1 0h.1m-.1 .1h.1m.2-.2h.1m0 .7h.1m-.1-.1h.1m0-.5h.1m0 .2h.1m.1-.2h.1m-.1 .2h.1m.2 .5h.1m.2-.7h.1m-5.7 1.7h.1m0-.8h.1m.2 .7h.1m.3 0h.1m.5-.6h.1m.1 .7h.1m0-.5h.1m.1 .3h.1m1.1 .2h.1m.3-.2h.1m.1-.2h.1m0 .2h.1m-.1-.2h.1m0 .4h.1m.9-.7h.1m-.1-.2h.1m-5 1.8h.1m-.1-.3h.1m.4 .2h.1m0-.2h.1m0-.4h.1m.2 .5h.1m.2 0h.1m.1-.1h.1m-.1 .2h.1m.4-.7h.1m.1 .3h.1m.2 .6h.1m-.1 .1h.1m.2-.5h.1m0 .3h.1m0-.6h.1m-.1 .7h.1m.1-.8h.1m.1 0h.1m-.1 .3h.1m.3 .5h.1m.3-.2h.1m-3.8 .4h.1m0 0h.1m.2 .1h.1m.5 .1h.1m2-.2h.1m-25.9 25.8h.1m-1.7 .4h.1m.3 .3h.1m.1-.2h.1m.6-.2h.1m.3 0h.1m0 .6h.1m.1-.5h.1m-3.2 1.5h.1m3.7-.5h.1m-.1-.2h.1m.2 .6h.1m-5.3 2.3h.1m-.2 .8h.1m.1-.4h.1m-.1 .2h.1m-.1-.1h.1m-.4 .6h.1m-.1 .8h.1m6.2-.4h.1m-.1 .4h.1m-.3 1h.1m-6.1 1h.1m5.9 0h.1m0-.5h.1m-6.2 1.4h.1m0 1.2h.1m-.1-.3h.1m.3 1.1h.1m5.1-.2h.1m-5.1 1.1h.1m-.1-.2h.1m0-.1h.1m0 .4h.1m.2 .6h.1m.4 .4h.1m2.1 .1h.1m.3-.4h.1m.3-.1h.1m-2.7 .9h.1m.1-.3h.1m.5 .4h.1m0-.2h.1m.7-.2h.1" stroke="#00a7e2" stroke-width="1.0" stroke-linecap="square" stroke-opacity="1.00"/>
<path d="M171.9 302.3h.1m-.1 0h.1m-.6 .4h.1m0 .3h.1m.4 .1h.1m-26.4 28.3h.1m0-.2h.1m.2 0h.1m0 .2h.1m.1-.1h.1m-1.8 .7h.1m-.7 1.3h.1m.2-.5h.1m3.8 .6h.1m-4.9 .7h.1m.2-.2h.1m4.8 .6h.1m-5.6 .8h.1m.1-.2h.1m5.2-.3h.1m0 0h.1m-5.7 1.4h.1m0-.6h.1m5.3 .4h.1m0 .2h.1m-5.8 .3h.1m5.8 .6h.1m-6.1 .5h.1m-.1 .5h.1m0 .3h.1m5.6 .2h.1m-.1 .1h.1m-5.5 1.6h.1m0 .2h.1m.7 1.7h.1m3.4 0h.1m-2.4 1.2h.1m.2-.2h.1m.2 0h.1m.1 0h.1m-.1 .1h.1m0 .2h.1" stroke="#02b0c8" stroke-width="1.0" stroke-linecap="square" stroke-opacity="1.00"/>
<path d="M144.9 332.4h.1m.3-.4h.1m.4 .1h.1m-.1-.3h.1m.2 .2h.1m-.1-.2h.1m.5 .3h.1m-2.4 1.3h.1m.1-.3h.1m3 0h.1m.1 .2h.1m-3.8 .3h.1m-.1-.1h.1m3.7 .1h.1m.1 .4h.1m.1 .3h.1m-4.8 .8h.1m4.6-.5h.1m0 .6h.1m-5.2 .3h.1m0 .3h.1m5.1 .5h.1m-5.5 1.4h.1m0 1.2h.1m5 .5h.1m-5.1 .4h.1m0 .5h.1m0 .1h.1m4.6-.3h.1m0-.2h.1m-4.4 1.5h.1m.1 .3h.1m0 .1h.1m-.1 .4h.1m0-.3h.1m2.5 .3h.1m-1.9 .7h.1m-.1 0h.1m.1-.1h.1m.2 .1h.1m.2-.2h.1m.4 .2h.1m0-.2h.1" stroke="#05b7ac" stroke-width="1.0" stroke-linecap="square" stroke-opacity="1.00"/>
<path d="M145.8 332.3h.1m-.1 .2h.1m.1-.1h.1m-1 .7h.1m.1-.5h.1m.6 0h.1m.6 0h.1m.6 .5h.1m0 .2h.1m-3.5 .7h.1m3.3-.5h.1m-.1 .1h.1m.2 .5h.1m.4 1.4h.1m-4.7 .2h.1m0-.1h.1m4.4 .4h.1m0 1h.1m0 0h.1m-5.1 .8h.1m0-.2h.1m0 1.3h.1m.2 1.3h.1m3.8 .2h.1m-3.9 .4h.1m.1 .1h.1m3.1 .4h.1m.1 0h.1m-3.3 .3h.1m0 0h.1m.2 .6h.1m1.2 .1h.1m.1 .1h.1m.1-.2h.1m.1-.1h.1m-.4 .5h.1" stroke="#08bf90" stroke-width="1.0" stroke-linecap="square" stroke-opacity="1.00"/>
<path d="M145.1 333.4h.1m-.1 .1h.1m0-.2h.1m-.1-.1h.1m0-.1h.1m.8-.4h.1m.1 0h.1m-.1 .2h.1m.3 .1h.1m-2.1 .5h.1m2.3 .2h.1m.1-.1h.1m.1 .7h.1m-3.8 1.1h.1m.1-.2h.1m-.1-.1h.1m.1-.5h.1m3.5 .3h.1m0 .6h.1m.1-.1h.1m-.2 1h.1m0-.6h.1m-4.6 1.3h.1m0-.3h.1m4.5 .5h.1m-4.8 .5h.1m4.3 .7h.1m0 0h.1m0-.2h.1m-4.6 .8h.1m.1 .4h.1m4.1-.5h.1m-4 1.8h.1m.2 .5h.1m2.9-.5h.1m-2.8 .7h.1m.3 .3h.1m.8 .3h.1" stroke="#12c472" stroke-width="1.0" stroke-linecap="square" stroke-opacity="1.00"/>
<path d="M145.8 333.2h.1m0 .1h.1m.4-.2h.1m.2 .4h.1m-2.2 .7h.1m0-.2h.1m.2-.2h.1m.4-.3h.1m1.4 0h.1m.2 .4h.1m-3 .6h.1m3.6 2h.1m-4.3 1.5h.1m0 1h.1m-.1-.2h.1m.3 1.4h.1m3.1 0h.1m0-.2h.1m-.3 .6h.1m-1.8 1.3h.1m0-.1h.1m.2-.1h.1m0-.1h.1m.3 0h.1" stroke="#24c853" stroke-width="1.0" stroke-linecap="square" stroke-opacity="1.00"/>
<path d="M145 334.3h.1m.2-.4h.1m0-.3h.1m.9 0h.1m0 .2h.1m.1-.1h.1m.4 .5h.1m-.1 .2h.1m-2.8 .7h.1m-.1-.1h.1m-.1 .3h.1m.1-.4h.1m-.1-.3h.1m2.3-.1h.1m.4 .5h.1m-3.6 1.2h.1m0-.6h.1m0 .2h.1m3.4 0h.1m-.1 0h.1m-.1 .7h.1m.1 .8h.1m-4.1 .3h.1m0 .5h.1m-.1-.4h.1m-.1 .7h.1m3.8-.3h.1m-3.9 1h.1m-.1-.6h.1m.2 1.6h.1m2.7 .2h.1m.2-.3h.1m-2.9 .8h.1m.3 .5h.1m-.1-.3h.1m.5 .3h.1m0 .1h.1m.6-.1h.1m.1-.2h.1m.1-.2h.1m.2-.2h.1" stroke="#35cb33" stroke-width="1.0" stroke-linecap="square" stroke-opacity="1.00"/>
<path d="M145 334.4h.1m0-.1h.1m1-.4h.1m.2 .2h.1m.7 .9h.1m-2.9 1.1h.1m2.9-.3h.1m.1 .7h.1m0 .6h.1m-.1 .2h.1m-3.6 .8h.1m.2 1.9h.1m2.6 .2h.1m.1-.6h.1m-2.1 1.4h.1m.8 .2h.1m-.1 0h.1" stroke="#54ce21" stroke-width="1.0" stroke-linecap="square" stroke-opacity="1.00"/>
<path d="M145.4 334.4h.1m.7 0h.1m.2 0h.1m-1.9 1.1h.1m0-.2h.1m.2-.6h.1m-.6 1.1h.1m2.6-.1h.1m-3 .8h.1m3 .3h.1m-3.2 .8h.1m-.1 .6h.1m-.1 .6h.1m0 .3h.1m0-.1h.1m0 .4h.1m2.7-.6h.1m-2.7 1.3h.1m.2 .2h.1m-.1 .2h.1m1.6-.3h.1m.2-.6h.1" stroke="#7dd116" stroke-width="1.0" stroke-linecap="square" stroke-opacity="1.00"/>
<path d="M146.1 334.5h.1m-.1-.1h.1m-1.1 .9h.1m.7-.7h.1m0-.1h.1m.2 .2h.1m-1.8 1.5h.1m.1-.2h.1m0-.2h.1m2.2-.2h.1m-.1 .2h.1m-.1-.1h.1m-.1 .3h.1m0-.1h.1m-.1 .3h.1m0 .2h.1m-3 .9h.1m0 0h.1m2.7-.7h.1m-.1 .5h.1m-3 .5h.1m2.8 .8h.1m-.1-.5h.1m-2.8 .7h.1m0 .7h.1m0 .2h.1m2.2-.1h.1m.1-.6h.1m-.1-.1h.1m-.1 0h.1m0-.1h.1m-2.5 1.1h.1m.2 .4h.1m-.1 .1h.1m0 .2h.1m0 .1h.1m1.3-.8h.1m-1.4 .9h.1m.3 0h.1m-.1-.1h.1m0 .1h.1" stroke="#a5d40a" stroke-width="1.0" stroke-linecap="square" stroke-opacity="1.00"/>
<path d="M145.4 335.1h.1m-.1-.1h.1m.6-.2h.1m.2 .3h.1m.2 .1h.1m.1 .2h.1m.1 .7h.1m-.1-.2h.1m-.1 0h.1m.1 .4h.1m-2.7 .6h.1m-.1-.3h.1m-.1 .3h.1m-.1 .4h.1m2.5-.3h.1m-2.7 .7h.1m-.1 .3h.1m2.5-.2h.1m-2.7 .9h.1m0-.1h.1m-.1 .3h.1m.1 .5h.1m1.9-.3h.1m-1.3 1.2h.1m0-.1h.1m.1 .1h.1m-.1-.1h.1m0 .1h.1m0-.1h.1m-.1 .1h.1m0-.3h.1m0 .1h.1" stroke="#cdd600" stroke-width="1.0" stroke-linecap="square" stroke-opacity="1.00"/>
<path d="M145.6 335.3h.1m.2-.1h.1m-.1 0h.1m0 .1h.1m.1-.1h.1m0 0h.1m-1.4 1.2h.1m.3-.8h.1m1-.1h.1m.2 .1h.1m-.1 0h.1m0 .4h.1m-.1 .2h.1m0-.1h.1m-2.2 1h.1m2.1-.4h.1m-2.4 1h.1m0 .3h.1m2.2-.2h.1m-2.3 .9h.1m.1 .3h.1m.5 .8h.1m0 .1h.1m.3 0h.1" stroke="#deba00" stroke-width="1.0" stroke-linecap="square" stroke-opacity="1.00"/>
<path d="M145.2 336.4h.1m.1-.4h.1m-.1-.1h.1m0-.3h.1m.1 .2h.1m.2-.2h.1m.3 .2h.1m-.1-.2h.1m.1 .3h.1m0 .2h.1m0 .1h.1m0 0h.1m-2.1 1.2h.1m-.1 0h.1m0-.7h.1m0 .1h.1m-.2 1.5h.1m1.8 0h.1m-.1-.7h.1m0 .3h.1m-2 .7h.1m0 .3h.1m-.1 .2h.1m0-.1h.1m0 .3h.1m0 .1h.1m0 0h.1m.6 .1h.1m0-.1h.1m.3-.7h.1m-.1 .1h.1m-1 .8h.1m.3 0h.1" stroke="#f09e00" stroke-width="1.0" stroke-linecap="square" stroke-opacity="1.00"/>
<path d="M145.4 336.5h.1m.1-.3h.1m-.1 0h.1m.7-.3h.1m0 .2h.1m0 .2h.1m-1.5 1h.1m-.1-.3h.1m0-.4h.1m1.2-.1h.1m0 .7h.1m0 .2h.1m-.1-.2h.1m-.1-.6h.1m-.1 .7h.1m-.1 0h.1m-.1 0h.1m-1.7 .6h.1m-.1-.2h.1m.2 1.1h.1m.2 .3h.1m-.1 .1h.1m.2-.1h.1m-.1 0h.1m.1 .2h.1m.2-.6h.1m-.1 .1h.1" stroke="#fd8100" stroke-width="1.0" stroke-linecap="square" stroke-opacity="1.00"/>
<path d="M146.1 336.4h.1m.1-.2h.1m-1.1 .9h.1m.9-.4h.1m0 .2h.1m.2 .2h.1m-1.5 1h.1m-.1-.4h.1m1.3 .4h.1m-1.1 .6h.1m.1 .1h.1m0 .2h.1m-.1 0h.1m.2-.3h.1m-.1-.1h.1m0-.1h.1" stroke="#f65700" stroke-width="1.0" stroke-linecap="square" stroke-opacity="1.00"/>
<path d="M145.7 337.2h.1m0-.4h.1m0 .7h.1m-.1-.5h.1m0 .5h.1m0-.3h.1m0-.2h.1m.1 .4h.1m-1 .2h.1m0 .3h.1m.1 .3h.1m.2 .2h.1m0-.4h.1m-.1-.3h.1m-.1 .4h.1m0 .2h.1m-.1-.3h.1m.1-.1h.1m-.1-.4h.1m-.7 1h.1" stroke="#ee2d00" stroke-width="1.0" stroke-linecap="square" stroke-opacity="1.00"/>
<line x1="151.5" y1="282.2" x2="151.5" y2="365.2" stroke="#1a1a1a" stroke-width="0.9"/>
<line x1="122.3" y1="330.4" x2="205.8" y2="330.4" stroke="#1a1a1a" stroke-width="0.9"/>
<text x="124.3" y="292.29" font-size="7.4" font-weight="bold" text-anchor="start" fill="#111">7.69</text>
<text x="204.3" y="292.29" font-size="7.4" font-weight="bold" text-anchor="end" fill="#111">37.0</text>
<text x="124.3" y="360.29" font-size="7.4" font-weight="bold" text-anchor="start" fill="#111">54.1</text>
<text x="204.3" y="360.29" font-size="7.4" font-weight="bold" text-anchor="end" fill="#111">1.15</text>
<line x1="120.7" y1="290" x2="122.3" y2="290" stroke="#444" stroke-width="0.5"/>
<text x="120.1" y="291.23" font-size="3.5" text-anchor="end" fill="#333">10&#8309;</text>
<line x1="120.7" y1="310" x2="122.3" y2="310" stroke="#444" stroke-width="0.5"/>
<text x="120.1" y="311.23" font-size="3.5" text-anchor="end" fill="#333">10&#8308;</text>
<line x1="120.7" y1="331" x2="122.3" y2="331" stroke="#444" stroke-width="0.5"/>
<text x="120.1" y="332.23" font-size="3.5" text-anchor="end" fill="#333">10&#179;</text>
<line x1="120.7" y1="346" x2="122.3" y2="346" stroke="#444" stroke-width="0.5"/>
<text x="120.1" y="347.23" font-size="3.5" text-anchor="end" fill="#333">0</text>
<line x1="120.7" y1="360" x2="122.3" y2="360" stroke="#444" stroke-width="0.5"/>
<text x="120.1" y="361.23" font-size="3.5" text-anchor="end" fill="#333">-10&#179;</text>
<line x1="129" y1="365.2" x2="129" y2="366.8" stroke="#444" stroke-width="0.5"/>
<text x="129" y="370.82" font-size="3.5" text-anchor="middle" fill="#333">-10&#179;</text>
<line x1="140" y1="365.2" x2="140" y2="366.8" stroke="#444" stroke-width="0.5"/>
<text x="140" y="370.82" font-size="3.5" text-anchor="middle" fill="#333">0</text>
<line x1="158" y1="365.2" x2="158" y2="366.8" stroke="#444" stroke-width="0.5"/>
<text x="158" y="370.82" font-size="3.5" text-anchor="middle" fill="#333">10&#179;</text>
<line x1="180" y1="365.2" x2="180" y2="366.8" stroke="#444" stroke-width="0.5"/>
<text x="180" y="370.82" font-size="3.5" text-anchor="middle" fill="#333">10&#8308;</text>
<line x1="200" y1="365.2" x2="200" y2="366.8" stroke="#444" stroke-width="0.5"/>
<text x="200" y="370.82" font-size="3.5" text-anchor="middle" fill="#333">10&#8309;</text>
<rect x="120.4" y="344.6" width="1.7" height="2.8" fill="#111"/>
<rect x="137" y="365.6" width="6" height="1.5" fill="#111"/>
<path d="M109.9 322.9V376.2H163.1" fill="none" stroke="#222" stroke-width="0.9"/>
<path d="M108.3 323.5L109.9 319.9L111.5 323.5z" fill="#222"/>
<path d="M162.5 374.6L166.1 376.2L162.5 377.8z" fill="#222"/>
<text transform="translate(106.1,353.6) rotate(-90)" x="0" y="2.31" font-size="6.6" font-weight="bold" text-anchor="middle" fill="#111" textLength="39.8" lengthAdjust="spacingAndGlyphs">GrzA-PE-Cy7</text>
<text x="112" y="383.91" font-size="6.6" font-weight="bold" text-anchor="start" fill="#111" textLength="31.4" lengthAdjust="spacingAndGlyphs">Prf-BV421</text>
<rect x="238.6" y="282.2" width="82.8" height="82.6" fill="#fff" stroke="#666" stroke-width="0.8"/>
<path d="M299.2 295.1h.1m-2 .6h.1m-9.6 1.7h.1m0-.6h.1m2.2 1h.1m3.4 .3h.1m.1-.3h.1m-1.2 1.1h.1m-3.9 1.1h.1m2.9 0h.1m-1 1.4h.1m7.3-.3h.1m-18.1 .9h.1m5.8-.2h.1m1.7 .3h.1m10.4-.5h.1m-14.4 1.7h.1m16-.1h.1m7-.3h.1m.5-.1h.1m-32.7 1.5h.1m25.5-.1h.1m-33.2 1.1h.1m13.3-.6h.1m17.3 .7h.1m-18.7 .6h.1m-4.1 1.1h.1m28.3-.5h.1m-4.6 1h.1m4.2 1.8h.1m-28.8 .3h.1m25.7 1.4h.1m5.7 1.2h.1m-1.7 .6h.1m-3.2 .9h.1m-1 1.4h.1m.9-.6h.1m-31.8 1.2h.1m.5-.2h.1m27.7 .3h.1m1 1.2h.1m2.8-.1h.1m-41.4 4.3h.1m.1-.3h.1m2.4 .4h.1m34.4-.6h.1m3.5 1.2h.1m-39.3 1.5h.1m-2.4 1.4h.1m37.4 1.6h.1m.9-1h.1m-43.2 1.3h.1m39.3 1.4h.1m-38.6 .7h.1m1.3 .3h.1m37-.4h.1m2.1 .5h.1m-5.6 .4h.1m1 .1h.1m1.1 .6h.1m-38.4 .9h.1m39.9-.7h.1m-5.4 2.5h.1m2.6-.3h.1m-4.9 1.7h.1m.3 0h.1m-3.1 1.3h.1m-2.9 1.8h.1m.4 1.4h.1m-29.5 1.3h.1m-.3 .6h.1m24.1 2.3h.1m.2-.6h.1m.2 .5h.1m-25.5 1.2h.1m27.1-.6h.1m.2 .6h.1m1.5 2.1h.1m-4.9 .2h.1m2 .4h.1m-26 1.1h.1m.4 3.3h.1m21.5 2.5h.1m-3.2 .7h.1m2.9 .2h.1m-1.9 .7h.1m1.5 .4h.1m2.2-.2h.1m-9.3 1.6h.1m8.5-.2h.1m-2.6 .6h.1m-16.5 1.5h.1m6.3-.6h.1m1.5 .5h.1m-8.2 .7h.1m.9 .2h.1m1.7 0h.1m.6 3.1h.1" stroke="#161ffa" stroke-width="1.0" stroke-linecap="square" stroke-opacity="0.50"/>
<path d="M296.4 303h.1m-13.1 1.4h.1m1.3-.5h.1m1.7 .2h.1m5.5-.5h.1m3.4 .1h.1m-11.4 1.4h.1m2.5-.6h.1m-.1 .5h.1m2.2 .1h.1m7.4-.3h.1m-16.2 1.6h.1m1 0h.1m.9-.2h.1m13.7-.4h.1m.7 0h.1m-16.5 1h.1m.8-.2h.1m12.5 0h.1m.8 .6h.1m1.5-.3h.1m1.3-.1h.1m-20.3 1.6h.1m21-.8h.1m-21.3 1.2h.1m-.4 1.3h.1m.9 .4h.1m17.9-.1h.1m.4-.4h.1m.7 0h.1m.6-.3h.1m.8 .3h.1m-24.6 1.5h.1m21.2 0h.1m.8-.5h.1m-22.1 1.1h.1m20.7-.3h.1m1.8-.3h.1m.3 .1h.1m-23.9 1.5h.1m22.8 .2h.1m.4-.2h.1m0 .3h.1m-1.9 .7h.1m-22.4 1.3h.1m22.3-.3h.1m-25.5 1.3h.1m.8-.5h.1m.7 .3h.1m.7 0h.1m25 .2h.1m-27.5 1h.1m.9 .1h.1m.2-.7h.1m24.2-.3h.1m-24.8 1.2h.1m.3 .5h.1m-1.5 .7h.1m25.6 0h.1m.7 .4h.1m-1.1 1.2h.1m-27.6 .1h.1m28.3 .8h.1m-30 .9h.1m28.5 .3h.1m-26.7 1.1h.1m26.5 1.1h.1m.5 .3h.1m-31 1h.1m.1 .3h.1m28.3-.1h.1m2.1-.3h.1m-30 1.4h.1m25.5 .1h.1m.3-.4h.1m1.8 0h.1m-33.8 1.4h.1m0-.3h.1m1.8 .1h.1m4.1-.7h.1m25.2 .8h.1m2.1-.5h.1m.2-.4h.1m-31.6 1.9h.1m1.7-.4h.1m1.8 .3h.1m22.2 0h.1m1.9-.2h.1m1.4-.4h.1m-33.5 1.6h.1m1.1-.7h.1m4.4 .6h.1m.5 0h.1m.6-.1h.1m21.6-.4h.1m.6 .3h.1m-29.6 .9h.1m-1.3 1h.1m.3-.2h.1m.2 .5h.1m29.4-.3h.1m-30.7 .8h.1m0-.1h.1m29.3 .5h.1m0 0h.1m.9-.5h.1m-4.1 1.5h.1m.4-.2h.1m-1.4 .6h.1m-3.6 2.5h.1m2-.1h.1m-26.4 .9h.1m.1-.2h.1m-.2 1h.1m22.8 .6h.1m.2 .3h.1m1-.1h.1m.2-.2h.1m-24.7 .9h.1m20.3 1.4h.1m.6-.1h.1m.7-.1h.1m1.9-.6h.1m-24.9 1.6h.1m18.5 .5h.1m1.4 .2h.1m2.9-.2h.1m.2-.2h.1m-23.5 1.8h.1m16.8-.3h.1m3.6 .2h.1m-19.9 1.1h.1m16.8-.6h.1m.8 .5h.1m-4.3 .9h.1m1.7-.3h.1m1.4 .6h.1m2.2-.9h.1m1.2-.1h.1m-6.8 1.5h.1m1.7 .1h.1m1-.5h.1m-.1 .6h.1m2.2 0h.1m-6.4 .5h.1m1.2-.1h.1m-.2 1.6h.1m.3-.5h.1m.8 .3h.1m.8-.4h.1m.8 .3h.1m.2-.4h.1m-4.8 1.5h.1m.1 .1h.1m1.3-.1h.1m-2.8 1.1h.1m1.8 .1h.1m-13.4 .5h.1m15.1 .4h.1m-14.8 1.4h.1m.3 .2h.1m1.2 .9h.1m7.8 .3h.1m-7.5 .9h.1m.9 1.2h.1m5.1 .5h.1m-5.3 .8h.1m1.5-.1h.1m.6-.5h.1m.3 .2h.1m.9-.3h.1m.2 0h.1m-2.5 1.7h.1m1 0h.1m0-.4h.1m.7-.2h.1" stroke="#112dfb" stroke-width="1.0" stroke-linecap="square" stroke-opacity="0.58"/>
<path d="M288.6 306.2h.1m2.2 .1h.1m.9-.2h.1m1 .3h.1m-6.7 .3h.1m-.1-.1h.1m1.2 0h.1m.2 .8h.1m.8-.3h.1m.5-.4h.1m1.4 .7h.1m1.3-.3h.1m.6 0h.1m-9.2 1.4h.1m0-.2h.1m.1-.1h.1m0 0h.1m1.1-.5h.1m0 .3h.1m2.2-.1h.1m1.1-.2h.1m2.5 .6h.1m.3-.7h.1m-.1-.1h.1m.2 .3h.1m-.1-.2h.1m.6 .2h.1m.1 .4h.1m.1-.1h.1m.9-.3h.1m-13.6 1.2h.1m1.6-.2h.1m10.5-.1h.1m1.2-.1h.1m-15 1.4h.1m.3-.5h.1m-.5 1.8h.1m.6-.5h.1m-2.8 1.4h.1m.9 .1h.1m16.6 1.1h.1m-19.3 1.5h.1m18.5 0h.1m.3-.1h.1m.7 .4h.1m-21.4 1.2h.1m.4 0h.1m.2-.2h.1m.9-.4h.1m18.6-.1h.1m.4 .1h.1m-21.1 1.2h.1m-.6 1.4h.1m-.1-.6h.1m21.1 1.6h.1m-.1-.3h.1m.5 .3h.1m-23.7 .7h.1m.4 0h.1m.7-.5h.1m21.6 1.8h.1m.4-.8h.1m-24.8 1.7h.1m.2-.5h.1m.1 .6h.1m23.1 .5h.1m-23.4 .9h.1m-.1 .3h.1m23.5-.5h.1m-24.7 1.9h.1m23.9-.8h.1m-25.1 1.2h.1m.5 .5h.1m22.6-.3h.1m-23 1.2h.1m.5 0h.1m-.1-.6h.1m18.4 .2h.1m1 0h.1m1.1-.3h.1m-23.2 1h.1m19.7 .7h.1m.1-.3h.1m.4 .2h.1m.3-.5h.1m-21 1.8h.1m0-1h.1m0 .8h.1m.5-.4h.1m.5 .1h.1m17.3-.2h.1m-25.6 1.7h.1m2.5-.2h.1m3.8-.2h.1m.1 .4h.1m19.1-.6h.1m-27.9 1.5h.1m.6-.1h.1m1.1-.6h.1m.1 .2h.1m2.2-.3h.1m4-.1h.1m.4 .9h.1m17.3-.8h.1m-21.9 1.4h.1m1.7-.3h.1m1.2 .1h.1m.6-.2h.1m.7 .9h.1m.3-.9h.1m.5 .3h.1m.1-.2h.1m14.5 0h.1m0 .5h.1m1.2-.7h.1m-21.4 1.1h.1m4.6 .6h.1m12.9-.5h.1m.5 .2h.1m0-.1h.1m-24.7 1h.1m7.5 .3h.1m2.2-.4h.1m.8 .1h.1m.4-.2h.1m.3-.1h.1m9.4 .9h.1m.7-.5h.1m1.2-.4h.1m-13.9 1.1h.1m.3 .1h.1m.2-.1h.1m1.8 .7h.1m7.6-.3h.1m-20.8 .7h.1m9.7 .2h.1m.2 .3h.1m-.1-.6h.1m1.3 .3h.1m2.6 .1h.1m3.6 .4h.1m1.1-.6h.1m.1 .5h.1m.7-.5h.1m.5 .1h.1m-21.3 1.3h.1m.2-.1h.1m0-.6h.1m12.1 .6h.1m.2 .3h.1m3.2-.7h.1m.1 .1h.1m.7 .2h.1m3.6-.4h.1m-10.6 1.8h.1m0-.4h.1m-.1 .3h.1m1.7-.7h.1m.4 .8h.1m2-.1h.1m.5-.5h.1m1.4 .1h.1m2.5 .2h.1m-20.1 1.3h.1m11.1-.2h.1m1-.6h.1m1.8 .1h.1m.7 .7h.1m-.1-.7h.1m.1-.2h.1m.4 .3h.1m1.8 .3h.1m1.3-.4h.1m-.1-.2h.1m1 .1h.1m-20.6 1.9h.1m.5-.8h.1m11.3 .2h.1m.1-.1h.1m1.5 .3h.1m1.5-.4h.1m.6-.1h.1m3 .6h.1m-6.4 .6h.1m.9 .3h.1m1.4 .2h.1m.8-.2h.1m.8-.3h.1m1.6-.1h.1m-19.3 1.2h.1m12.3 .4h.1m.7-.7h.1m.4 .6h.1m.6-.6h.1m-2.6 1.3h.1m.6 0h.1m.7 .5h.1m.4-.5h.1m.2-.2h.1m1 .6h.1m-15.4 .9h.1m12.3-.2h.1m.8 .4h.1m-1.5 .5h.1m0-.4h.1m.7 .5h.1m-1.1 .6h.1m.5 .3h.1m0 .4h.1m-.2 .7h.1m-12 1.9h.1m9.9 1.5h.1m-9.3 2.1h.1m.4-.6h.1m8.1 .3h.1m.5-.5h.1m-1.1 1.1h.1m-7 1.5h.1m.1 .4h.1m5.9 .5h.1m.1-.1h.1m-5.2 .4h.1m1.3 .7h.1m.4 .2h.1m.2 0h.1m.6 0h.1m0-.6h.1m-2.7 .7h.1m1.2 .2h.1m.9 .1h.1m0 .2h.1" stroke="#0b3afc" stroke-width="1.0" stroke-linecap="square" stroke-opacity="0.67"/>
<path d="M284.8 309.4h.1m.2-.6h.1m.6 .1h.1m.3-.2h.1m.3 .6h.1m.5-.2h.1m1.2 .1h.1m1.1-.4h.1m-.1 .3h.1m.7 .4h.1m.3-.3h.1m.1 0h.1m-9.3 1.1h.1m1.1-.3h.1m2.6-.4h.1m.4 .1h.1m.8 0h.1m1.8 .4h.1m.6-.6h.1m.2 0h.1m1.1 .8h.1m-.1-.6h.1m.2 .1h.1m-11.3 1.5h.1m.8-.4h.1m0 .3h.1m.9-.2h.1m.1-.4h.1m9.4 .7h.1m.3-.7h.1m-12.7 1.3h.1m0 .3h.1m.9-.6h.1m12.1 .6h.1m.1 0h.1m-14.2 .8h.1m.9 .1h.1m.4-.5h.1m-1.9 1.2h.1m0 .6h.1m.1-.4h.1m14.2-.1h.1m.3 .4h.1m-16.6 1.1h.1m-.3 .4h.1m.9 .1h.1m15.3-.1h.1m.3 .7h.1m.5-.1h.1m-17.6 .6h.1m-1 .6h.1m.4 .5h.1m17.4 .1h.1m-19.1 .9h.1m0 .4h.1m.2-.4h.1m0 .1h.1m.3 0h.1m18.2 .2h.1m0-.1h.1m.1-.6h.1m-20.6 1.6h.1m.6-.3h.1m.4 .1h.1m19-.5h.1m-20.6 1.1h.1m-.8 1.4h.1m.2-.5h.1m.8 .1h.1m20 .1h.1m-22.3 1.3h.1m.9-.4h.1m.3 .2h.1m.2-.1h.1m19.9 .4h.1m-21.9 .9h.1m1.1-.2h.1m-1.7 1.4h.1m.9-.7h.1m16.8 .7h.1m1.5-.2h.1m.6 .2h.1m.3-.3h.1m.4-.3h.1m-21.5 1.6h.1m16.7-.3h.1m-.1 0h.1m.2-.4h.1m.2-.1h.1m.5 .6h.1m1.5-.5h.1m-3.6 1.1h.1m.7 .4h.1m-.1 .1h.1m-17.4 .7h.1m.5 .6h.1m.5-.3h.1m13.1 .1h.1m.2-.8h.1m1.9 .1h.1m-17.6 1.9h.1m1.1-.6h.1m.7-.3h.1m12.3 .5h.1m0 .1h.1m-.1 .1h.1m-14.1 .8h.1m-.1-.5h.1m.7 .3h.1m.3 .2h.1m0-.1h.1m.2 0h.1m10.3 .1h.1m-11.9 1.2h.1m.1 .1h.1m0-.3h.1m.4 .2h.1m9.6-.2h.1m1-.1h.1m.5-.2h.1m-22.8 1.5h.1m1.4-.2h.1m1.7 .2h.1m7.6-.2h.1m.2 0h.1m.6-.5h.1m1.4 .7h.1m6.5 0h.1m.2-.2h.1m.3-.4h.1m.1 .1h.1m.5-.1h.1m.2 .2h.1m-18.8 .8h.1m6.8 .5h.1m2.2-.7h.1m0 .1h.1m1.4 .3h.1m0 .3h.1m1 0h.1m1.4-.3h.1m1.2 .6h.1m.3-.9h.1m.1-.1h.1m.5 .8h.1m.5-.3h.1m.1-.1h.1m.5 .1h.1m-21.8 1.3h.1m4.5-.8h.1m.6 .8h.1m.6-.2h.1m.1 0h.1m5.3 .3h.1m.2 0h.1m.4-.2h.1m.2 0h.1m1.1-.1h.1m.9-.2h.1m0 .2h.1m1 .2h.1m.6-.2h.1m2.4 .4h.1m.4-.7h.1m-20.2 1h.1m12.9-.1h.1m.5 .3h.1m.2 .3h.1m2.3 .2h.1m.8-.9h.1m0 .1h.1m-18.1 1.3h.1m7.4-.2h.1m0-.3h.1m0 .9h.1m7.5 0h.1m.1 0h.1m-7.6 .9h.1m0-.7h.1m-.1 1h.1m.3 .2h.1m-9.8 1h.1m9.5-.1h.1m0 1.4h.1m.1-.5h.1m.1 1.8h.1m-.1 .9h.1m.1 .7h.1m-.4 1.8h.1m0 .5h.1m-.1 .9h.1m-10.7 .5h.1m.4 .2h.1m9.6 0h.1m.3 .3h.1m-.5 .4h.1m-.1 .5h.1m-9.8 .5h.1m1.1 3.1h.1m6.7 .7h.1m.4-.5h.1m-.2 .8h.1m-6.6 1.1h.1m.7 .4h.1m3.2 .3h.1m.1-.1h.1m.2-.1h.1m-3.1 1.1h.1m-.1-.3h.1m.8 .1h.1m2.1-.5h.1m-2.2 1.3h.1m1.1-.3h.1" stroke="#0648fd" stroke-width="1.0" stroke-linecap="square" stroke-opacity="0.75"/>
<path d="M284.8 310.2h.1m1.2-.4h.1m.9 0h.1m.1 0h.1m1 .3h.1m-4.5 .4h.1m.1 .6h.1m-.1 .1h.1m.1-.2h.1m.1 .1h.1m-.1 0h.1m0-.5h.1m-.1-.1h.1m1 .3h.1m-.1 0h.1m2.1 .3h.1m.5-.4h.1m0 .3h.1m0-.1h.1m.1 .1h.1m0 .5h.1m.2-.6h.1m0 .3h.1m0 .2h.1m-7 .7h.1m.1-.2h.1m.1 0h.1m6.3-.4h.1m-9.2 2h.1m.4 0h.1m.4-.6h.1m.2 0h.1m10 .4h.1m-11.3 1h.1m0-.1h.1m10.8-.6h.1m.3 .9h.1m0-1h.1m.1 .6h.1m.3 0h.1m-13.3 .6h.1m.4 .1h.1m-1 1.5h.1m.5 .1h.1m13.4-.3h.1m.2-.1h.1m0-.1h.1m0 .5h.1m-15 1.1h.1m.5-.8h.1m-1.7 1.6h.1m.1-.3h.1m.3-.2h.1m0-.2h.1m15 .8h.1m-16.5 .3h.1m-.1 .3h.1m0-.5h.1m.1 .7h.1m0-.1h.1m.3-.1h.1m0-.3h.1m15.3-.1h.1m.3 .5h.1m-17.7 1h.1m.5-.4h.1m.1 .6h.1m.2 .1h.1m.3-.6h.1m16.3-.2h.1m-18.4 1.1h.1m17.7 .1h.1m-.1-.2h.1m-18.3 1.6h.1m.3 .2h.1m.7-.9h.1m16.6 .9h.1m0-.5h.1m.1 0h.1m-19.7 1.5h.1m0-.5h.1m.5-.2h.1m0 .5h.1m-1 .7h.1m.1 0h.1m.2-.4h.1m.1 .8h.1m14.6 .1h.1m-.1-.1h.1m.7 0h.1m1.1-.5h.1m-.1 0h.1m.3-.2h.1m-18.4 1.2h.1m.4 .6h.1m.2-.1h.1m.7-.6h.1m11.2 .4h.1m.3 .1h.1m-.1 .2h.1m-.1-.4h.1m.7 .1h.1m.2 .2h.1m0-.5h.1m.5 0h.1m.2 .2h.1m.2-.4h.1m.4 .4h.1m1.3-.3h.1m-18 1.6h.1m1-.5h.1m.2 0h.1m11.4 .1h.1m.3 .5h.1m-.1-.3h.1m.1-.6h.1m.1 .3h.1m.8 .1h.1m-14 .7h.1m1 .2h.1m-.1 0h.1m9.9-.2h.1m.1 0h.1m0 .4h.1m.2 .3h.1m0-.7h.1m-.1 .2h.1m.2 .1h.1m0 0h.1m-12.8 .8h.1m-.1-.1h.1m.1 .9h.1m.4-.4h.1m.3-.6h.1m.1 0h.1m0 .4h.1m.2 .1h.1m7.3 .2h.1m.5-.5h.1m.1 .1h.1m.1 .2h.1m.5-.4h.1m-10.8 1.8h.1m.4-.4h.1m1 .5h.1m.2-.2h.1m5.9-.2h.1m.5-.5h.1m0 .1h.1m-.1 .2h.1m.3 .1h.1m.2 .4h.1m1.5-.9h.1m-11.2 1h.1m.7 0h.1m.7 .5h.1m0 .5h.1m.4-.3h.1m.6-.3h.1m.6 0h.1m.1 .4h.1m.6-.3h.1m1.9-.3h.1m0 .4h.1m.3-.5h.1m.6 .8h.1m.2-.3h.1m.1-.6h.1m1 .1h.1m-.1 .1h.1m-8.9 1.7h.1m.5-.5h.1m0 .3h.1m.5 .1h.1m.3-.6h.1m.6-.1h.1m1.8 .1h.1m1.6-.1h.1m-.1 .7h.1m.1-.2h.1m.4-.5h.1m.9 .3h.1m-7.5 1.1h.1m1.5 .1h.1m1.2-.3h.1m.2 .6h.1m.3-.9h.1m.2 .5h.1m.1-.1h.1m.1-.3h.1m0 0h.1m-.1 .6h.1m-16.7 1.3h.1m1.4-.5h.1m12.3-.3h.1m-15.5 1h.1m2.4 0h.1m-.1 .2h.1m.8 .2h.1m.7-.1h.1m-.1 .7h.1m-5.7 1.8h.1m.1-.8h.1m0 0h.1m0 .2h.1m6 .3h.1m.3-.3h.1m-7.3 .7h.1m6.9 0h.1m-7.6 1.8h.1m7.8-.4h.1m.2 .6h.1m-8.6 1.4h.1m.1 .2h.1m8.4-.2h.1m0 0h.1m.3 .7h.1m-.1 .2h.1m-.3 1.2h.1m-.1 .7h.1m-9.3 1.1h.1m9.1-.1h.1m-.3 3.2h.1m.1 0h.1m-9.3 .5h.1m.5 1.5h.1m7.5 .4h.1m0-.1h.1m.2-.4h.1m0 .1h.1m-8.3 .6h.1m7.2 2h.1m-5.9 1.4h.1m.7 .5h.1m3.4 0h.1m-3.1 .3h.1m.7 .4h.1m2-.2h.1m-2.1 .6h.1" stroke="#0155fe" stroke-width="1.0" stroke-linecap="square" stroke-opacity="0.83"/>
<path d="M286.7 310.9h.1m1.6 .5h.1m-5.4 .6h.1m.2 .3h.1m1.8-.5h.1m3.2 .6h.1m-.1-.7h.1m.2 .7h.1m.1-.6h.1m.3 .5h.1m-7.1 .3h.1m8 .2h.1m0 .4h.1m-8.5 .8h.1m0 .2h.1m7.9-.4h.1m.4 .7h.1m-10.1 .5h.1m.5 .4h.1m10-.6h.1m-.1 .4h.1m.2-.6h.1m-11.7 1.5h.1m.4-.3h.1m.4 .5h.1m-1.6 .8h.1m.1-.1h.1m.2 .5h.1m12.1-.2h.1m0-.7h.1m-13.3 1h.1m.1 .8h.1m12.9-.2h.1m.4-.3h.1m-15.1 1.5h.1m.6-.3h.1m0-.3h.1m.9 .3h.1m12.8-.2h.1m.1 .5h.1m-15.3 .5h.1m.1 .2h.1m.7-.5h.1m0 .4h.1m.2-.1h.1m13.3-.2h.1m-.1 .4h.1m.3-.3h.1m-15.4 1.6h.1m.1-.2h.1m-.1-.5h.1m.5 .5h.1m.2-.3h.1m.4-.2h.1m13 .2h.1m0 .2h.1m-.1 .1h.1m.2 .2h.1m-16.3 1h.1m1.7-.2h.1m13.1 .3h.1m0-.6h.1m-.1 .4h.1m.4-.6h.1m.5-.1h.1m-16.7 1.8h.1m-.1-.2h.1m1.3-.3h.1m.4-.2h.1m-.1 .7h.1m10.6-.1h.1m.5 .2h.1m-.1-.1h.1m0-.2h.1m.5-.1h.1m.4 .1h.1m.2 .1h.1m-14.6 .4h.1m.9 .3h.1m-.1-.4h.1m.1 .8h.1m.3-.4h.1m6.8 .3h.1m.2 .2h.1m1.3-.8h.1m-.1 .6h.1m.9-.7h.1m.8 .1h.1m.6 .5h.1m.4-.2h.1m1-.4h.1m-14.8 1.5h.1m.3-.4h.1m.1 .2h.1m.2 .4h.1m.4-.1h.1m0 .3h.1m5.7-.6h.1m.1 .5h.1m.4-.2h.1m-.1-.4h.1m.2 .3h.1m.5-.1h.1m-.1 0h.1m0-.5h.1m-.1 .4h.1m.1-.1h.1m.1 .5h.1m0 .2h.1m.4-.8h.1m.4 .3h.1m-10.5 1.4h.1m.6 0h.1m.3-.2h.1m.2 .2h.1m.1-.6h.1m.3 .3h.1m3.3 .3h.1m.7-.1h.1m.4-.1h.1m.3-.6h.1m.4 .7h.1m.1-.7h.1m.4 .8h.1m-9.4 .1h.1m-.1 .8h.1m0-.3h.1m1-.3h.1m.6 .2h.1m.2 .4h.1m-.1 .2h.1m.2-.4h.1m1.1-.1h.1m.9 .4h.1m1-.2h.1m.9-.4h.1m1.2-.2h.1m-8.2 1h.1m.7 .7h.1m.5-.3h.1m1.2-.2h.1m.2 .5h.1m0 .2h.1m-.1-.9h.1m.4 .8h.1m0-.8h.1m.8 .2h.1m.3 .7h.1m.2-.2h.1m.3-.1h.1m.1 .2h.1m.5 0h.1m-6.1 .3h.1m0 .3h.1m.1 0h.1m.9-.3h.1m0 .7h.1m.1-.1h.1m1.7-.6h.1m.8-.1h.1m0 .8h.1m.1-.2h.1m.1-.4h.1m-3.7 .9h.1m1.7 .1h.1m-17.2 4.3h.1m.8 .1h.1m.4-.2h.1m-2.5 1h.1m-.1-.2h.1m2.2-.1h.1m.5 .2h.1m-.1 .2h.1m.2-.4h.1m.3 .4h.1m-4.7 1.4h.1m.1-.6h.1m.1-.3h.1m-.9 1.3h.1m0 0h.1m-.3 .7h.1m-.8 1.8h.1m7.2-.2h.1m.1 .2h.1m-8 1.4h.1m8.2 .1h.1m0 0h.1m-.1-.1h.1m0 .1h.1m-8.8 1.2h.1m0-.4h.1m8.2 .7h.1m-8.5 .3h.1m-.1 .9h.1m8.5 .3h.1m-8.6 2.3h.1m8.3 .2h.1m0-.6h.1m-.1 .6h.1m-8.4 .9h.1m-.1-.3h.1m8 .4h.1m-.8 1.6h.1m-6.7 1.1h.1m6.5-.4h.1m-6.1 1.5h.1m4.9 .1h.1m.2 0h.1m-5.4 .9h.1m-.1-.4h.1m0 0h.1m-.1-.1h.1m4.2 .6h.1m-.9 .8h.1m0 .2h.1m-1.9 .4h.1m.8 .1h.1m.4-.2h.1" stroke="#0068f9" stroke-width="1.0" stroke-linecap="square" stroke-opacity="0.92"/>
<path d="M285.8 312.2h.1m1.5 .2h.1m.1-.3h.1m-4.1 .8h.1m.3 .3h.1m.1 .2h.1m.3-.9h.1m1.1 .5h.1m0-.2h.1m.6 0h.1m.6-.1h.1m.2 .2h.1m0 .2h.1m.3 .2h.1m0-.7h.1m.5 .5h.1m0 0h.1m0 0h.1m.1 .2h.1m-6.4 1h.1m.4-.6h.1m.2 .6h.1m0-.7h.1m-1.5 1.3h.1m.1-.1h.1m0 .5h.1m.2-.7h.1m0 .4h.1m7 0h.1m.6 .2h.1m-.1-.3h.1m-9.5 1.4h.1m9.8 .2h.1m-10 .6h.1m0 0h.1m.4-.3h.1m-.1 .2h.1m.1-.3h.1m9.1 .4h.1m-.1-.6h.1m-.1 .4h.1m-10.6 1.1h.1m.1 0h.1m.2 .3h.1m-.1 0h.1m.2-.2h.1m-1.3 .9h.1m.2-.5h.1m.1 .6h.1m.4-.2h.1m.1 .4h.1m10.3-.6h.1m.2 .6h.1m-.1-.3h.1m-12.9 1.3h.1m.6 0h.1m0-.7h.1m.4 .7h.1m.3-.5h.1m0 .6h.1m.1-.7h.1m.1 .4h.1m0-.3h.1m10.3 .6h.1m-11.4 .4h.1m0-.1h.1m.5 0h.1m9.3 .3h.1m-12.3 .7h.1m.1 .3h.1m.5-.2h.1m.6 .1h.1m-.1 .3h.1m0 0h.1m.2-.1h.1m0-.4h.1m0-.2h.1m.2 .5h.1m.3 .4h.1m.1-.8h.1m.9 .5h.1m1.2 .2h.1m0-.1h.1m2.4 .3h.1m2.1-.1h.1m.3-.1h.1m.3-.2h.1m.4 .4h.1m.1 0h.1m0-.9h.1m.1 .2h.1m-.1 .7h.1m0-.3h.1m0 .2h.1m-.1-.4h.1m.1-.2h.1m-13.2 1.7h.1m.2-.2h.1m.2 0h.1m.7-.7h.1m1.7 .7h.1m0-.7h.1m.8-.1h.1m.7 .4h.1m.3 .3h.1m-.1 0h.1m.1 .2h.1m.4-.6h.1m.7 .5h.1m.6-.5h.1m0 .5h.1m.8-.2h.1m0 .3h.1m.3-.6h.1m0 .7h.1m.2-.2h.1m.1-.7h.1m0 .1h.1m0 .2h.1m.1 .4h.1m.3-.5h.1m0 .3h.1m.7-.4h.1m.9-.2h.1m-.1 0h.1m-11.7 1.3h.1m.3-.2h.1m-.1 .1h.1m.1 0h.1m.8 .3h.1m.5-.4h.1m-.1 .6h.1m0 .1h.1m.4-.6h.1m.1-.2h.1m.9 1h.1m.1-.6h.1m.3 .4h.1m.9-.1h.1m1.4-.5h.1m1-.2h.1m-8.1 1.3h.1m0-.1h.1m.7-.1h.1m0 .2h.1m.5 .2h.1m0 0h.1m.4 .1h.1m0-.1h.1m.4 .2h.1m.1-.5h.1m0 .2h.1m.3 .5h.1m.2-.6h.1m-4 1h.1m.5 .7h.1m.8-.2h.1m0-.8h.1m.5 .8h.1m.6-.5h.1m-20 9.5h.1m.1 .1h.1m.5-.1h.1m0 0h.1m.1 0h.1m-3 .8h.1m-.1 .3h.1m0 .1h.1m.2-.5h.1m2.7-.3h.1m0 .2h.1m0 .2h.1m-4 .4h.1m0 .5h.1m.2-.3h.1m4.3 .3h.1m0 .4h.1m-5.7 .8h.1m6.6 1.3h.1m-.2 .3h.1m-.1-.2h.1m.1 .3h.1m-7.8 2.5h.1m7.6-.4h.1m-.1-.5h.1m-7.8 1.6h.1m0 .3h.1m0-.5h.1m7.5 2.3h.1m-.1 .9h.1m-7.5 1.2h.1m7.2 0h.1m-.1 .1h.1m-7.2 .9h.1m6.5-.1h.1m.3-.5h.1m-7 1h.1m5.9 1.8h.1m.1-.3h.1m-5.4 .9h.1m0 0h.1m4.2 .3h.1m.1-.1h.1m.1-.7h.1m-3.9 1.5h.1m-.1-.1h.1m.3 .4h.1m.9 .1h.1m-.9 .2h.1m.2 0h.1m.1-.2h.1" stroke="#007df1" stroke-width="1.0" stroke-linecap="square" stroke-opacity="1.00"/>
<path d="M285.1 313.5h.1m1.3-.3h.1m.5 .2h.1m.9 .1h.1m-3.4 0h.1m.1 .5h.1m2.3 .1h.1m.3 0h.1m0-.1h.1m.9 .5h.1m-.1-.5h.1m-.1 .4h.1m0-.2h.1m.2 .2h.1m-6.2 .7h.1m-.1 .3h.1m.1-.4h.1m.5 .4h.1m.6-.8h.1m5 .4h.1m.1 .4h.1m-6.6 .8h.1m0 0h.1m0-.6h.1m6.1 0h.1m-.1 .2h.1m.4 .2h.1m0 .2h.1m-7.9 .7h.1m0 .3h.1m.1-.3h.1m.3-.1h.1m.2 .5h.1m7.5-.2h.1m0 .2h.1m-9 1.2h.1m1-.4h.1m-.1 .2h.1m7.2-.7h.1m-.1 .2h.1m.2 .2h.1m.2-.1h.1m-8.8 1.3h.1m.5-.3h.1m-.1 .5h.1m7.4 0h.1m.1-.4h.1m0 .2h.1m-.1 0h.1m0-.6h.1m-7.9 1.2h.1m.2 .2h.1m0 .2h.1m.1-.7h.1m0 .5h.1m-.1-.3h.1m0 .4h.1m.6 .3h.1m6.4-.4h.1m0 .1h.1m-9.3 .6h.1m1-.1h.1m0 .3h.1m0-.2h.1m0 .4h.1m.3 0h.1m.6-.5h.1m0 .3h.1m.1-.2h.1m-.1 .3h.1m1.4 .2h.1m3.3-.3h.1m.5 .2h.1m.2-.1h.1m-7.6 .6h.1m.4 .4h.1m.3 0h.1m.1-.4h.1m.3 .6h.1m.3-.6h.1m.1 .2h.1m.4 .3h.1m.6-.4h.1m.7-.2h.1m1 .7h.1m0-.6h.1m-.1 .1h.1m.3 .2h.1m.3-.4h.1m.3 0h.1m-29.2 14.5h.1m.3-.3h.1m1.5 0h.1m.3 .8h.1m.9 .8h.1m.1 .2h.1m-.1 .5h.1m-5.3 .9h.1m0 .1h.1m5.5 .1h.1m0-.3h.1m-6.4 1.2h.1m0-.1h.1m6.2 .4h.1m-6.9 3h.1m0-.7h.1m0 .7h.1m-.2 .3h.1m6.9 .5h.1m0 .4h.1m-7.2 .8h.1m0 .1h.1m6.5 1.9h.1m.2-.6h.1m-.5 1h.1m0 .4h.1m-.7 1.4h.1m-5.3 .1h.1m0 .5h.1m4.7-.1h.1m-4.4 .9h.1m.6 .2h.1m.3 .4h.1m2 0h.1m0-.1h.1m-2.8 .2h.1m.6 .5h.1m.2 0h.1m.3-.3h.1m.6 0h.1m.2 .3h.1m.1-.1h.1m.1-.4h.1" stroke="#0092e9" stroke-width="1.0" stroke-linecap="square" stroke-opacity="1.00"/>
<path d="M285.4 314.4h.1m1-.2h.1m.2 0h.1m-.1 0h.1m-1.9 1h.1m.9-.4h.1m-.1-.1h.1m.6 .4h.1m0-.4h.1m-.1-.1h.1m.1 .4h.1m-.1-.1h.1m.4-.1h.1m.1 .1h.1m.7 .2h.1m.1-.2h.1m.1 .1h.1m-3.8 .7h.1m.2 .1h.1m.2-.3h.1m3 .5h.1m0 0h.1m.1-.2h.1m0 .1h.1m.3 .1h.1m-5.7 1.2h.1m.9-.5h.1m4.5 .1h.1m.7 .7h.1m-6.7 .3h.1m.2 .1h.1m.2 .5h.1m0-.1h.1m.1-.7h.1m-.1 .1h.1m0 .3h.1m5.3-.2h.1m-.1 .5h.1m-6.3 .5h.1m0-.1h.1m0 0h.1m.2 .7h.1m0-.9h.1m.9 .9h.1m4.1-.4h.1m.3-.3h.1m-.1 .5h.1m-5.8 .7h.1m-.1 .1h.1m0-.4h.1m.2 .5h.1m.1-.5h.1m.3 .7h.1m.1-.4h.1m0 .3h.1m0 .1h.1m0-.2h.1m.1-.5h.1m0 .6h.1m-.1-.5h.1m0 .1h.1m-.1 .2h.1m.8 .2h.1m.3 .1h.1m.6 0h.1m.6-.5h.1m0 .2h.1m.9-.3h.1m.1 .3h.1m-.1-.1h.1m-2.9 1.2h.1m0-.4h.1m.1-.1h.1m-.1 .5h.1m.4-.4h.1m.4 .2h.1m.7-.2h.1m-28.3 15.7h.1m.2-.2h.1m-1 .8h.1m1.2-.3h.1m.2-.1h.1m.1 .3h.1m-2.8 .7h.1m3.9 .3h.1m0 .3h.1m-4.7 1.1h.1m4.6-.7h.1m0 .1h.1m.1 0h.1m-5.4 1.7h.1m-.1-.5h.1m-.1-.2h.1m-.1 .4h.1m0-.3h.1m5.2-.3h.1m-.1 .1h.1m.2 .6h.1m.2 2.9h.1m-6.7 .9h.1m0 0h.1m6.4 .2h.1m-.1 1.2h.1m-.3 1h.1m-6.1 1h.1m6-.3h.1m-5.9 1.3h.1m5.2 0h.1m-5.1 .5h.1m0 .5h.1m-.1-.1h.1m-.1 .2h.1m4.2-.1h.1m.1-.1h.1m.2-.6h.1m-4.9 1h.1m.4 .6h.1m.3 .2h.1m-.1 .1h.1m-.1 0h.1m.2 .4h.1m.9 .5h.1m0-.3h.1m.7-.4h.1m.1 .3h.1" stroke="#00a7e2" stroke-width="1.0" stroke-linecap="square" stroke-opacity="1.00"/>
<path d="M286.6 315.4h.1m.2-.1h.1m-1.7 .9h.1m.4-.4h.1m.1 .7h.1m.5-.2h.1m0-.6h.1m.4 0h.1m.2-.1h.1m-.1 .2h.1m0 .1h.1m0-.1h.1m.5 0h.1m-.1 .2h.1m0 .1h.1m.3 .3h.1m-3.7 .6h.1m0 .2h.1m.6-.4h.1m.2-.2h.1m.7 .7h.1m.2-.1h.1m.4-.3h.1m.9 .5h.1m.2-.4h.1m-3.4 1.2h.1m.3 .2h.1m0-.7h.1m0 0h.1m.4 .5h.1m0-.6h.1m.5 .4h.1m.7 .1h.1m.5 0h.1m0-.4h.1m-.1 .3h.1m.4 .3h.1m-4.2 .4h.1m.2 .1h.1m.1 .2h.1m.2 .5h.1m-.1-.9h.1m.3 .3h.1m0 .2h.1m-.1-.2h.1m.2 0h.1m0 .1h.1m.8 .4h.1m.4-.1h.1m0 .2h.1m0-.8h.1m.4 .6h.1m-2.3 .4h.1m.1 0h.1m.4 .2h.1m.1-.2h.1m.1-.1h.1m.2 .4h.1m-27 17.4h.1m.3-.6h.1m.7 .4h.1m-2.6 .9h.1m3.2 .1h.1m-4.1 1.2h.1m.1-.5h.1m.1-.2h.1m-.8 1.5h.1m0-.3h.1m.2-.3h.1m4.4 0h.1m0 0h.1m0 .1h.1m0 .1h.1m-5.4 .9h.1m0 0h.1m-.4 1.1h.1m-.1 1.2h.1m5.8 .4h.1m0-.2h.1m-6.2 .7h.1m5.9 2.1h.1m-5.9 1h.1m5.3 .5h.1m-5.1 .2h.1m4.8 .5h.1m.1-.4h.1m-.1-.2h.1m-4.9 1.6h.1m.1 0h.1m3.9-.1h.1m-4.1 .4h.1m.3 .2h.1m.1 .4h.1m.1 .1h.1m0 .1h.1m0 .1h.1m2-.3h.1m0 0h.1m.1-.1h.1m.1-.3h.1m-2.2 .9h.1m.8-.1h.1m-.1 .5h.1" stroke="#02b0c8" stroke-width="1.0" stroke-linecap="square" stroke-opacity="1.00"/>
<path d="M262.1 337.4h.1m.3 .1h.1m-1.3 .2h.1m.2-.1h.1m.5 0h.1m.5 .1h.1m.1 .3h.1m-.1 0h.1m.3 .2h.1m-3.4 1.2h.1m.2-.6h.1m3.1-.1h.1m-3.9 1.8h.1m0-.5h.1m4-.5h.1m0 .1h.1m.2 .5h.1m0 .4h.1m-4.8 .1h.1m4.7 .1h.1m0 1.4h.1m.1 .4h.1m-.1 .6h.1m0 0h.1m-.3 1.5h.1m-.1 .5h.1m-.2 .5h.1m-.1 .6h.1m0-.3h.1m-5.4 1.4h.1m.2 .1h.1m4.5-.3h.1m.1-.5h.1m-4.7 1.4h.1m3.9 .2h.1m0-.3h.1m.1 .3h.1m-4 .9h.1m0 0h.1m0 .3h.1m2.8 0h.1m.1-.3h.1m0 0h.1m-.1-.2h.1m-3.2 .8h.1m.1 .1h.1m.2 .1h.1m.3 .4h.1m.1 .1h.1m0-.1h.1m.1-.1h.1m.1-.1h.1m.2 0h.1m.1-.1h.1m-.1 .2h.1" stroke="#05b7ac" stroke-width="1.0" stroke-linecap="square" stroke-opacity="1.00"/>
<path d="M261.9 338.2h.1m.6-.1h.1m0 .3h.1m.1 0h.1m-2.6 1.1h.1m.1-.6h.1m.3-.4h.1m2 .3h.1m.8 .9h.1m-.1 .4h.1m.3 1h.1m-.1 .1h.1m-.1 .1h.1m0 .3h.1m0 .8h.1m-.1 .5h.1m-.1 1h.1m0 1.4h.1m-.3 .3h.1m-4.7 1.8h.1m4.3-.7h.1m0 .4h.1m-1.3 1.9h.1m-1.7 .9h.1m.1-.2h.1m.4 .3h.1m.1-.1h.1" stroke="#08bf90" stroke-width="1.0" stroke-linecap="square" stroke-opacity="1.00"/>
<path d="M261 339.2h.1m.2-.5h.1m.1-.1h.1m1.3 .6h.1m.7 .6h.1m-3.7 1h.1m-.5 1.5h.1m4.4-.8h.1m-4.7 1.6h.1m0-.4h.1m-.2 1.4h.1m0 .9h.1m4.6-.4h.1m-4.8 1.2h.1m4.5 .1h.1m-4.6 .9h.1m4.2 .2h.1m-.1 .3h.1m-.1-.6h.1m0-.1h.1m-4 1.4h.1m.1 .1h.1m2.9 .1h.1m-2.5 .8h.1m-.1 0h.1m1.1 .4h.1m.5-.3h.1m-.1-.3h.1" stroke="#12c472" stroke-width="1.0" stroke-linecap="square" stroke-opacity="1.00"/>
<path d="M261.1 339.4h.1m.3-.4h.1m-.1 .3h.1m.3-.5h.1m.2 .3h.1m-1.8 1.3h.1m.2-.5h.1m2.1-.3h.1m-3 1.8h.1m.1-.6h.1m0-.2h.1m-.5 1.2h.1m4-.2h.1m-4.4 1.4h.1m4.3-.2h.1m-.1 1.5h.1m-.1-.4h.1m-.1-.1h.1m0-.1h.1m-4.5 2.3h.1m.1 .5h.1m3.8-.2h.1m.1-.5h.1m-4 1.2h.1m-.1 .4h.1m0 .1h.1m.1 .6h.1m.4 .4h.1m.1 .2h.1m.7 .2h.1m0 .2h.1m.1 0h.1" stroke="#24c853" stroke-width="1.0" stroke-linecap="square" stroke-opacity="1.00"/>
<path d="M262.6 339.4h.1m-2 1.1h.1m.6-.9h.1m.1-.1h.1m.5 .1h.1m.3-.1h.1m.2 .5h.1m.2 .4h.1m-3.1 1h.1m.1-.6h.1m.1 .1h.1m2.9 .2h.1m-.1-.2h.1m.1 .7h.1m-.1 0h.1m-3.9 1h.1m4 1.9h.1m-.1-.2h.1m-4.2 1.4h.1m0-.1h.1m0 .2h.1m.1 .9h.1m0 .5h.1m0 0h.1m0 .1h.1m.2 .7h.1m.3 .3h.1m1.3 .1h.1m-1.5 .2h.1m.6 .1h.1m.3-.2h.1" stroke="#35cb33" stroke-width="1.0" stroke-linecap="square" stroke-opacity="1.00"/>
<path d="M261 340.4h.1m.6-.5h.1m.5 0h.1m.1 0h.1m.1 0h.1m0 .3h.1m0 .1h.1m-.1 .1h.1m-2.3 .4h.1m-.5 1h.1m3.4 .5h.1m-3.8 1h.1m-.1-.6h.1m3.6-.1h.1m.1 .7h.1m-4 .2h.1m3.7 .4h.1m-.1-.3h.1m-.1 .8h.1m-.2 .7h.1m0-.5h.1m-3.5 2.1h.1m0 .2h.1m.2 .5h.1m2.4-.6h.1m-2.4 .9h.1m.3 .4h.1m.7 .2h.1m0-.2h.1m0-.1h.1m0-.1h.1m.3-.1h.1" stroke="#54ce21" stroke-width="1.0" stroke-linecap="square" stroke-opacity="1.00"/>
<path d="M261.5 340.4h.1m.2-.1h.1m.4 0h.1m-1.7 1h.1m-.1 0h.1m2.3-.5h.1m0 .2h.1m-.1 .2h.1m-.1-.2h.1m-.1 .2h.1m0 .2h.1m0 .1h.1m0 .5h.1m0 .5h.1m0 .5h.1m-.1 0h.1m-.1 1.4h.1m-.1-.3h.1m0-.1h.1m-.1 .3h.1m-3.6 .6h.1m3.2 .6h.1m0-.7h.1m0-.1h.1m-3.4 1.4h.1m0 .3h.1m2.8-.8h.1m-2.9 1h.1m0 .2h.1m0 .1h.1m.2 .5h.1m1.9-.4h.1m-1.8 .6h.1m.2 .1h.1m.4 .1h.1m-.1 0h.1" stroke="#7dd116" stroke-width="1.0" stroke-linecap="square" stroke-opacity="1.00"/>
<path d="M261.8 340.3h.1m.1 .2h.1m-.1 0h.1m.2-.1h.1m-.1 .1h.1m0-.1h.1m-1.5 1h.1m.2-.6h.1m-.1 .1h.1m.7-.3h.1m.4 .3h.1m.1-.1h.1m.1 .2h.1m.1 .4h.1m-2.7 1.1h.1m2.6-.9h.1m-.1 .5h.1m0 .1h.1m-3 .4h.1m-.1 .8h.1m2.8-.9h.1m0 .2h.1m-.1 .5h.1m.1 .6h.1m-3.3 1.5h.1m0 .1h.1m2.8 0h.1m0-.2h.1m-2.8 1.1h.1m2.3-.2h.1m-2.1 1.2h.1m.7 .2h.1m.3-.1h.1m-.6 .2h.1" stroke="#a5d40a" stroke-width="1.0" stroke-linecap="square" stroke-opacity="1.00"/>
<path d="M261.2 341.3h.1m0 0h.1m.7-.3h.1m0-.2h.1m0 .1h.1m.4 .4h.1m.1 .2h.1m-2.4 1h.1m.2-.9h.1m1.8 .1h.1m-.1 .1h.1m-2.4 1.7h.1m0-.4h.1m2.5-.5h.1m0 .1h.1m-.1 .1h.1m-.1 .5h.1m-.1-.3h.1m-3 1.2h.1m0 0h.1m-.1 .3h.1m2.7 0h.1m-2.6 1.1h.1m-.1 .5h.1m.1 .1h.1m1.9-.1h.1m0 0h.1m-2 .8h.1" stroke="#cdd600" stroke-width="1.0" stroke-linecap="square" stroke-opacity="1.00"/>
<path d="M261.8 341.3h.1m-.1 0h.1m.1-.2h.1m.1 0h.1m.2 .4h.1m-1.6 1h.1m1.5-.8h.1m.1-.1h.1m-2.1 1.8h.1m0-.7h.1m2.1-.1h.1m0 .6h.1m-2.5 .7h.1m2.3 .5h.1m0-.1h.1m-.1 .1h.1m-.1-.3h.1m-.2 1h.1m0-.3h.1m-1.8 1.7h.1m1-.2h.1m.2-.7h.1m-.1 .3h.1m-.1-.1h.1m0-.1h.1m-1.6 .9h.1m0 0h.1m.1 .2h.1m-.1-.1h.1m.1 .2h.1m0-.2h.1m0 0h.1" stroke="#deba00" stroke-width="1.0" stroke-linecap="square" stroke-opacity="1.00"/>
<path d="M261.2 342.4h.1m-.1-.3h.1m0 .2h.1m-.1-.4h.1m1.1-.1h.1m.3 .6h.1m-2.1 .8h.1m2.1-.1h.1m-2.3 .8h.1m0 .6h.1m1.9-.1h.1m0-.7h.1m-.1 .2h.1m-2.2 .8h.1m0 .7h.1m0 0h.1m1.6-.1h.1m0-.5h.1m0-.2h.1m-2 1.2h.1m.3 .2h.1m.3 .4h.1m.4 0h.1m0-.6h.1m0-.1h.1m0 0h.1m0-.1h.1" stroke="#f09e00" stroke-width="1.0" stroke-linecap="square" stroke-opacity="1.00"/>
<path d="M261.7 341.9h.1m0 .2h.1m0 0h.1m0-.3h.1m0 .3h.1m0 .1h.1m0-.1h.1m-.1-.2h.1m.1 .5h.1m-1.3 .5h.1m-.1 0h.1m0-.1h.1m-.1-.2h.1m1.2 0h.1m-.1 .1h.1m0 0h.1m-1.8 .9h.1m-.1 .6h.1m0 .1h.1m-.1 0h.1m1.6 .2h.1m-.1-.9h.1m0 .4h.1m-.1 .1h.1m-.4 1h.1m-.1 .2h.1m0-.8h.1m.1 .1h.1m-1.4 1.1h.1m0 0h.1m.1 .5h.1m.1-.4h.1m.1 0h.1m0-.2h.1" stroke="#fd8100" stroke-width="1.0" stroke-linecap="square" stroke-opacity="1.00"/>
<path d="M262.3 342.4h.1m-.6 .2h.1m.5 .1h.1m-1.3 1.8h.1m0-.1h.1m-.1-.5h.1m0-.1h.1m1.1 0h.1m.1 .5h.1m-.1-.1h.1m-.1-.2h.1m-1.5 1h.1m-.1 .1h.1m0 .2h.1m-.1-.7h.1m0 .8h.1m0-.3h.1m0 .4h.1m0-.1h.1m.2-.1h.1m.1 0h.1m-.1-.4h.1m.1-.2h.1m-.1 .1h.1m-.7 .9h.1" stroke="#f65700" stroke-width="1.0" stroke-linecap="square" stroke-opacity="1.00"/>
<path d="M261.6 343.5h.1m0-.2h.1m0 0h.1m0-.3h.1m0-.1h.1m-.1 .5h.1m0-.5h.1m.1 .3h.1m0 0h.1m0 .1h.1m-1.1 .4h.1m-.1 .6h.1m0-.5h.1m0-.1h.1m.1-.1h.1m-.1 .8h.1m0-.6h.1m0 .1h.1m.1 0h.1m0 .3h.1m-.1 .3h.1m0-.5h.1m-1.1 .6h.1m.1-.1h.1m-.1 .4h.1m.4-.1h.1m-.1-.1h.1m.1 .1h.1" stroke="#ee2d00" stroke-width="1.0" stroke-linecap="square" stroke-opacity="1.00"/>
<line x1="268.2" y1="282.2" x2="268.2" y2="364.8" stroke="#1a1a1a" stroke-width="0.9"/>
<line x1="238.6" y1="336.3" x2="321.4" y2="336.3" stroke="#1a1a1a" stroke-width="0.9"/>
<text x="240.6" y="292.29" font-size="7.4" font-weight="bold" text-anchor="start" fill="#111">1.26</text>
<text x="319.9" y="292.29" font-size="7.4" font-weight="bold" text-anchor="end" fill="#111">33.9</text>
<text x="240.6" y="359.89" font-size="7.4" font-weight="bold" text-anchor="start" fill="#111">60.9</text>
<text x="319.9" y="359.89" font-size="7.4" font-weight="bold" text-anchor="end" fill="#111">3.94</text>
<line x1="237" y1="289" x2="238.6" y2="289" stroke="#444" stroke-width="0.5"/>
<text x="236.4" y="290.23" font-size="3.5" text-anchor="end" fill="#333">10&#8309;</text>
<line x1="237" y1="309.5" x2="238.6" y2="309.5" stroke="#444" stroke-width="0.5"/>
<text x="236.4" y="310.73" font-size="3.5" text-anchor="end" fill="#333">10&#8308;</text>
<line x1="237" y1="332" x2="238.6" y2="332" stroke="#444" stroke-width="0.5"/>
<text x="236.4" y="333.23" font-size="3.5" text-anchor="end" fill="#333">10&#179;</text>
<line x1="237" y1="345.5" x2="238.6" y2="345.5" stroke="#444" stroke-width="0.5"/>
<text x="236.4" y="346.73" font-size="3.5" text-anchor="end" fill="#333">0</text>
<line x1="237" y1="359" x2="238.6" y2="359" stroke="#444" stroke-width="0.5"/>
<text x="236.4" y="360.23" font-size="3.5" text-anchor="end" fill="#333">-10&#179;</text>
<line x1="247" y1="364.8" x2="247" y2="366.4" stroke="#444" stroke-width="0.5"/>
<text x="247" y="370.43" font-size="3.5" text-anchor="middle" fill="#333">-10&#179;</text>
<line x1="257" y1="364.8" x2="257" y2="366.4" stroke="#444" stroke-width="0.5"/>
<text x="257" y="370.43" font-size="3.5" text-anchor="middle" fill="#333">0</text>
<line x1="273" y1="364.8" x2="273" y2="366.4" stroke="#444" stroke-width="0.5"/>
<text x="273" y="370.43" font-size="3.5" text-anchor="middle" fill="#333">10&#179;</text>
<line x1="297" y1="364.8" x2="297" y2="366.4" stroke="#444" stroke-width="0.5"/>
<text x="297" y="370.43" font-size="3.5" text-anchor="middle" fill="#333">10&#8308;</text>
<line x1="315" y1="364.8" x2="315" y2="366.4" stroke="#444" stroke-width="0.5"/>
<text x="315" y="370.43" font-size="3.5" text-anchor="middle" fill="#333">10&#8309;</text>
<rect x="236.7" y="344.1" width="1.7" height="2.8" fill="#111"/>
<rect x="254" y="365.2" width="6" height="1.5" fill="#111"/>
<path d="M226.6 322.9V376.2H279" fill="none" stroke="#222" stroke-width="0.9"/>
<path d="M225 323.5L226.6 319.9L228.2 323.5z" fill="#222"/>
<path d="M278.4 374.6L282 376.2L278.4 377.8z" fill="#222"/>
<text transform="translate(222.2,348) rotate(-90)" x="0" y="2.31" font-size="6.6" font-weight="bold" text-anchor="middle" fill="#111" textLength="35" lengthAdjust="spacingAndGlyphs">GrzB-AF700</text>
<text x="228.8" y="383.91" font-size="6.6" font-weight="bold" text-anchor="start" fill="#111" textLength="31.2" lengthAdjust="spacingAndGlyphs">Prf-BV421</text>
<rect x="354.5" y="282.2" width="84.3" height="83.7" fill="#fff" stroke="#666" stroke-width="0.8"/>
<path d="M387.4 285.9h.1m18-.1h.1m13.2 .3h.1m-25.9 1.3h.1m18.2-.1h.1m2.2 .2h.1m12.6-.2h.1m-32.6 .6h.1m4.1 1.3h.1m6.6-.7h.1m6.9 .8h.1m1.5-.1h.1m-9.8 .6h.1m6.3 .7h.1m.7-.1h.1m.3-.5h.1m10.6 .1h.1m-21.7 1.2h.1m8.3-.5h.1m6 .3h.1m7.1-.3h.1m-26.3 1.4h.1m28.3 .1h.1m-33.6 1.2h.1m4.4 0h.1m19.1-.5h.1m2 2h.1m1.2 .2h.1m-2.3 .5h.1m-22.4 1.1h.1m21.7 .4h.1m-35.7 1.4h.1m11.9-1h.1m26.5 .7h.1m-25.7 .4h.1m28.2 .5h.1m-31.9 1.3h.1m26.5-.3h.1m-.6 2h.1m5.5-.2h.1m1 .1h.1m-36.1 1.8h.1m3.3 .2h.1m-1.1 1.4h.1m26.6-.8h.1m-28.8 1h.1m32.8 .2h.1m-46 .9h.1m13.9-.2h.1m30.5 .2h.1m-32 .8h.1m30.8 .3h.1m-32.3 2h.1m.5 .2h.1m29.8 .1h.1m-34.2 1.1h.1m1.8-.4h.1m-3.5 2.6h.1m34.6 1.1h.1m1-.1h.1m-38.9 .8h.1m3.1-.6h.1m-8.6 1.4h.1m4 .1h.1m30.1 2.2h.1m5-.8h.1m.4 .8h.1m1.3 .9h.1m-3.1 .6h.1m.3 2.2h.1m-10.4 1.2h.1m1.3 .1h.1m-2.3 1.1h.1m-1.3 .6h.1m-27.7 3.2h.1m28.6 0h.1m-30.5 .9h.1m2.2 0h.1m28.8 .4h.1m-30.2 .4h.1m1.2 .1h.1m.3 .5h.1m17.2 1.9h.1m1.4 .5h.1m-17.6 1.4h.1m18.3-.8h.1m-21.4 2.1h.1m18 .6h.1m-12.2 1.9h.1m8.4 .8h.1m-.7 1.3h.1m-8.8 .4h.1m8 .7h.1m-14.4 .9h.1m12.7 .3h.1m-6.7 .2h.1m7.1-.2h.1m.2 .7h.1m1.6-.4h.1m-6.9 1h.1m1.3 .1h.1m0 0h.1m-3.4 .7h.1m-2.3 3.2h.1" stroke="#161ffa" stroke-width="1.0" stroke-linecap="square" stroke-opacity="0.50"/>
<path d="M404.1 291.6h.1m5.7 .9h.1m2-.5h.1m-9.9 .7h.1m.3 .4h.1m3.8 .4h.1m1.2-.9h.1m2.9 0h.1m1.3 .7h.1m-14.4 1h.1m3.2-.7h.1m5.9 .6h.1m1.6-.6h.1m1.8 .8h.1m2.2-.8h.1m-18.1 1h.1m1 0h.1m-.2 1.8h.1m14.2-.6h.1m2.4 .5h.1m.6-.5h.1m-20 1.1h.1m19 .1h.1m-.1-.1h.1m.1 0h.1m-18.8 1.6h.1m.2-.1h.1m.8-.8h.1m16.5 .7h.1m.7 0h.1m.3-.3h.1m-20.9 1.3h.1m19.4-.7h.1m-17.7 1h.1m18.6 1.6h.1m.2-.6h.1m-21.7 1.9h.1m22.9-.9h.1m-22.2 1.2h.1m20.4 .3h.1m1.3-.3h.1m-24.4 1.7h.1m.6-.3h.1m-1.2 .8h.1m24.6 0h.1m-24.3 1.1h.1m22.3-.3h.1m.4-.1h.1m-26.2 1.6h.1m2.4-.4h.1m23.7-.3h.1m-25.5 1.3h.1m.1-.3h.1m24.4 0h.1m-25.7 .9h.1m.2 .4h.1m0 .5h.1m-1.5 .6h.1m26.2 .2h.1m.5-.1h.1m-27.3 .6h.1m26.3 .1h.1m-28 .8h.1m.3 0h.1m.5-.1h.1m1.6 .6h.1m-2.2 1.9h.1m0-.4h.1m21.5 .2h.1m1.6 .5h.1m.1-.6h.1m-23.9 1.8h.1m23.6-.9h.1m-25.8 1.2h.1m.7 .6h.1m.1 .1h.1m.2-.3h.1m.3 .2h.1m18.8 .1h.1m.3-.1h.1m2.5 0h.1m.5-.3h.1m-29.7 .7h.1m3.6 .3h.1m1.5-.3h.1m.2 .2h.1m19.5 .5h.1m.9-.6h.1m-28.4 1.1h.1m26.1 1.5h.1m.4-.1h.1m-29.2 1h.1m.9 0h.1m27.2-.1h.1m-.1-.5h.1m-28.3 1.7h.1m25.7-.8h.1m.8 .6h.1m-27.8 .4h.1m25.7-.1h.1m3.3 0h.1m-29.8 1.5h.1m1-.4h.1m-.1-.1h.1m24.1 .7h.1m-3.8 .7h.1m1.4-.2h.1m.8-.3h.1m1 .4h.1m-24.6 .9h.1m18.4 0h.1m.2 .4h.1m.1-.2h.1m.3 .3h.1m1-.5h.1m.6 .6h.1m-.1-.4h.1m1.2-.4h.1m2.5 .1h.1m-25.9 1.3h.1m.5 0h.1m19.9-.3h.1m1.2 .4h.1m0-.4h.1m-4.9 .9h.1m2.5 .3h.1m.7 0h.1m1.4-.2h.1m-21.7 1.5h.1m19.2-.4h.1m.7-.2h.1m-20.7 2h.1m1.3 1.8h.1m14-.3h.1m.4-.3h.1m-14.5 .9h.1m13.4 0h.1m-13.5 1.3h.1m.2 .3h.1m14-.7h.1m-13.5 2.2h.1m0 .4h.1m.5 .2h.1m9.8-.7h.1m-1.1 1.5h.1m.9-.4h.1m-8.7 .9h.1m6.1 .5h.1m.3-.3h.1m-5.5 1.4h.1m4.5-.4h.1m-3.1 1.1h.1m.6 .3h.1m2-.7h.1m1.9-.1h.1m-4.7 1.5h.1m-1.5 1.1h.1m.4-.4h.1m2.7 .6h.1m.8-.3h.1" stroke="#112dfb" stroke-width="1.0" stroke-linecap="square" stroke-opacity="0.58"/>
<path d="M401.3 293.8h.1m.7 .2h.1m-.1 0h.1m1.4 .4h.1m1.4-.3h.1m-7 1.3h.1m3.1-.2h.1m1.1-.2h.1m.5 .1h.1m.9 .2h.1m.7-.4h.1m1.4 .4h.1m-8.5 .3h.1m6.8 .1h.1m2 .4h.1m.6-.1h.1m1.2 .3h.1m.2 .2h.1m-11.8 .3h.1m10.8 .2h.1m.2 .4h.1m0-.7h.1m0 .3h.1m0-.5h.1m-13.6 1.7h.1m.2-.5h.1m0 0h.1m.2 .4h.1m12.9 .2h.1m.2-.5h.1m.1 .5h.1m-14.5 .5h.1m14.1-.1h.1m-15.2 1.6h.1m.1-.4h.1m1.2 .4h.1m-1.9 .5h.1m1.1 .7h.1m-.1-.5h.1m-.8 .8h.1m0 .5h.1m16 .1h.1m.1-.5h.1m-17.9 1.4h.1m.5-.5h.1m.1-.1h.1m17.2 .4h.1m0 0h.1m.1-.2h.1m.2 .4h.1m-17.9 .6h.1m17 0h.1m.2 .2h.1m-.1-.3h.1m-19.3 1.1h.1m-.1 .4h.1m1-.1h.1m.1-.3h.1m.2-.3h.1m17.1 .4h.1m.5 .1h.1m-.1 2.3h.1m-22.5 .7h.1m1.9-.2h.1m0-.2h.1m19 .7h.1m0-.4h.1m.2-.4h.1m-.1 .8h.1m-22.5 1.1h.1m.9-.4h.1m21 0h.1m-22.3 1h.1m1.1-.3h.1m.3 .3h.1m19.9 .4h.1m-22.4 .7h.1m.6-.5h.1m.2 .7h.1m.1-.8h.1m.3-.1h.1m.2 .2h.1m18.6 .6h.1m.9-.6h.1m.3-.2h.1m.8 .1h.1m-23.4 1.8h.1m18.7-.2h.1m1.1-.4h.1m1.6 .2h.1m.4-.3h.1m-22.2 .9h.1m.5 .7h.1m16.1 .2h.1m1.8-.5h.1m.6-.3h.1m.9-.1h.1m.2-.1h.1m-22.1 1.5h.1m1.4-.4h.1m.2 .2h.1m15.1 .7h.1m.6-.6h.1m.2 .3h.1m-.1-.4h.1m2-.3h.1m-18.9 1.9h.1m15.1-.6h.1m.7 .2h.1m.7 .1h.1m-18.8 .9h.1m.4 .3h.1m.4 .1h.1m.4-.8h.1m0 .8h.1m.6-.7h.1m13.1 .4h.1m.2-.3h.1m0-.3h.1m.3 .6h.1m-.1-.4h.1m1.6 .2h.1m-19.4 1.2h.1m2-.3h.1m.7 .4h.1m.2 0h.1m12.9 .1h.1m.7 .2h.1m-23.6 .1h.1m0 0h.1m1.1-.1h.1m.7 .4h.1m.9 .1h.1m1-.1h.1m0 .5h.1m.2-.3h.1m.1 .3h.1m1.4 .1h.1m.1-.5h.1m.8 .5h.1m.6-.4h.1m.2-.4h.1m.7 .3h.1m11.9-.3h.1m.7 .3h.1m1-.4h.1m-24.6 1.1h.1m7.8 .5h.1m.3-.4h.1m.2 0h.1m.4-.3h.1m-.1 .1h.1m.8 .5h.1m.2 .2h.1m.6-.2h.1m-11.9 .7h.1m9.9-.2h.1m.8 .1h.1m.7 .4h.1m9.2 .3h.1m.1-.3h.1m-22.9 .7h.1m13.5 .3h.1m0-.3h.1m.8 .7h.1m1.2 0h.1m0 0h.1m2.3-.2h.1m1.1-.1h.1m.4-.3h.1m1.4 .5h.1m.3-.5h.1m0 .5h.1m1-.7h.1m.2 .4h.1m-24.4 1.3h.1m.5-.2h.1m14.1-.1h.1m1.3 .3h.1m1.7-.9h.1m.5 1h.1m.6-1h.1m.9 .4h.1m0-.3h.1m.1 .7h.1m1.6-.3h.1m0 .4h.1m0-.8h.1m-8.7 1.6h.1m0 .2h.1m.4-.6h.1m.7 .5h.1m.6-.3h.1m1.1 .2h.1m.2 .1h.1m3.3-.2h.1m-7.1 .6h.1m.1 .7h.1m.2-.8h.1m.7 .2h.1m.6-.3h.1m-16.6 1.1h.1m15.2 .8h.1m-15.8 .6h.1m15.2 .2h.1m-.5 1.2h.1m-14.5 1.5h.1m13.8-.1h.1m-13.7 1.4h.1m-.5 .6h.1m.2 .4h.1m0-.3h.1m.2 1.1h.1m.3 .6h.1m.5 .9h.1m.3-.1h.1m.3 .1h.1m9.9-.6h.1m-10.9 .6h.1m.6 .1h.1m9 .6h.1m.2 .2h.1m-8.8 .4h.1m7.2 .7h.1m.1-.2h.1m0 0h.1m.2-.3h.1m.1-.3h.1m-1.3 1h.1m-4.4 1h.1m.2-.1h.1m.2 .2h.1m.1 .6h.1m.2-.7h.1m1 .2h.1m0-.2h.1m1.8 .1h.1m-3.9 .8h.1" stroke="#0b3afc" stroke-width="1.0" stroke-linecap="square" stroke-opacity="0.67"/>
<path d="M402.1 295.5h.1m1.2-.1h.1m-4.2 1.1h.1m1-.8h.1m-.1 .3h.1m.2 .2h.1m0-.5h.1m1 .2h.1m1 .3h.1m.5-.5h.1m.3 .1h.1m.1-.3h.1m0 1h.1m1.3-.1h.1m-8.2 .9h.1m1-.2h.1m.2-.2h.1m.8-.4h.1m0 .1h.1m1.9-.1h.1m2.1 .1h.1m.3 0h.1m2.2 .2h.1m-9.4 1.4h.1m.6-.3h.1m8-.3h.1m.5 .7h.1m1.3-.1h.1m-11.9 1.3h.1m11.8-.1h.1m-12 .7h.1m.2 .4h.1m.6-.9h.1m11 .1h.1m.3 0h.1m.3 .1h.1m.4 .2h.1m-13.3 .7h.1m-1.2 1.1h.1m0 .4h.1m.5-.1h.1m.3-.5h.1m13 .5h.1m0 .1h.1m0 0h.1m-15.1 .7h.1m.3-.4h.1m14.1 0h.1m.1 .5h.1m.3 .1h.1m.1 .2h.1m0 0h.1m-15.9 .4h.1m.5 .4h.1m-.1 .2h.1m15.6 0h.1m-17 .9h.1m1.6-.6h.1m14.3 .5h.1m-16.3 .8h.1m.7 .5h.1m15.2-.1h.1m-17.8 .9h.1m.3-.3h.1m.5-.3h.1m.3-.1h.1m-.1 1h.1m16-.6h.1m.3 .1h.1m.2 .5h.1m-18.5 .6h.1m.1 .2h.1m.1 .1h.1m.1-.6h.1m.1-.1h.1m-.1 .2h.1m16.3 .3h.1m.8-.4h.1m-19.6 1.5h.1m.3-.3h.1m1.4 .1h.1m15.6 .1h.1m-16.9 1.2h.1m0 0h.1m-.1-.5h.1m0 .6h.1m15.3-.5h.1m0 .3h.1m0-.4h.1m.5-.1h.1m.2 0h.1m.4 .3h.1m.2-.3h.1m0-.1h.1m-18.1 1.8h.1m.1-.6h.1m.1 .4h.1m13.8-.1h.1m.5-.5h.1m.1 0h.1m-.1-.1h.1m.6 .2h.1m0 .2h.1m.4-.3h.1m-17.5 1.3h.1m.3 .3h.1m.8-.5h.1m11.8 .2h.1m0 0h.1m.1-.4h.1m1.1 0h.1m0 .6h.1m-16.1 1.3h.1m.3-.8h.1m.2-.2h.1m.5 .7h.1m-.1-.2h.1m.2 .1h.1m.2-.3h.1m.2 0h.1m11.3 .2h.1m-13.2 1.3h.1m.2 .1h.1m11.4 .1h.1m.3-.8h.1m.6 .3h.1m0 .1h.1m-13.1 .8h.1m0 .5h.1m.2-.1h.1m.3-.7h.1m.3 0h.1m-.1 .4h.1m8.4 .4h.1m.1-.3h.1m.1 0h.1m1.1-.4h.1m-11.7 1.2h.1m.3-.3h.1m0 .6h.1m.1-.4h.1m-.1-.3h.1m8.8 .6h.1m.7 .1h.1m1.4-.6h.1m-13.3 1.8h.1m1.1-.3h.1m.3-.4h.1m.1 .3h.1m-.1-.4h.1m.5 .4h.1m0-.5h.1m.2 .7h.1m6.7 .1h.1m2-.6h.1m-20.9 1.7h.1m8.9-.8h.1m.4 0h.1m1.7 .4h.1m.2-.2h.1m-.1 .2h.1m.6 .1h.1m.4 .4h.1m.6-.5h.1m2.5-.3h.1m-.1 .7h.1m-.1-.6h.1m.3 .1h.1m1.4-.3h.1m.1 .3h.1m1.3 .1h.1m-21.9 1.2h.1m2.8-.2h.1m.7-.2h.1m1.9 0h.1m.8 .6h.1m9.1 .1h.1m1.5-.8h.1m-.1 .3h.1m.3 0h.1m1 .2h.1m.8-.3h.1m-21 1.3h.1m.1 .1h.1m6.2-.8h.1m1.9 .6h.1m.2 .1h.1m.8-.5h.1m.1 .6h.1m2.9 0h.1m.3 0h.1m.7 .1h.1m.5-.7h.1m1.1 .2h.1m.3-.2h.1m.2 .4h.1m.3-.1h.1m-.1-.4h.1m0 .7h.1m.1-.6h.1m-.1 .4h.1m-.1-.4h.1m.5 .4h.1m0 .1h.1m.1 .1h.1m-9.5 .6h.1m.4-.3h.1m.8 0h.1m4 .3h.1m2.4-.2h.1m-.1 .1h.1m1.6-.2h.1m-19.9 1.6h.1m0-.4h.1m.2 .3h.1m-1 .8h.1m12.4 .4h.1m.1-.2h.1m.4 .2h.1m-.3 .3h.1m.1 .3h.1m-13.7 .8h.1m13-.1h.1m.1 .5h.1m.2-.1h.1m-13.8 1.4h.1m0-.6h.1m13.2 0h.1m.1 .5h.1m-.8 .6h.1m.3 .3h.1m-13.8 .3h.1m13.5 .4h.1m0-.3h.1m-13.4 1.2h.1m12.9 .5h.1m-.9 .5h.1m-11.8 .8h.1m11.5 .8h.1m-10.4 .8h.1m10-.6h.1m-10.2 1.6h.1m.6 .1h.1m8.1-.3h.1m-1.6 1h.1m.3 .1h.1m.3-.2h.1m.3 0h.1m-6.8 1.3h.1m0-.6h.1m1.5 .5h.1m2 0h.1m.2-.1h.1m-1.8 1.2h.1m1.5-.7h.1m.6 .2h.1m.2-.1h.1" stroke="#0648fd" stroke-width="1.0" stroke-linecap="square" stroke-opacity="0.75"/>
<path d="M400.5 297.1h.1m.3 .4h.1m.2-.3h.1m.3-.3h.1m.4 0h.1m0 .4h.1m0 0h.1m.1 0h.1m.2-.6h.1m.8 .1h.1m1.3 .7h.1m-5.8 .4h.1m.1 .3h.1m-.1-.2h.1m1.3-.5h.1m.5 .1h.1m-.1 .2h.1m2.6-.2h.1m0-.1h.1m0 .1h.1m.3-.1h.1m.1 .8h.1m.2-.5h.1m.1 .3h.1m0-.5h.1m-7.1 1.7h.1m7.8-.7h.1m.2 .2h.1m.2 0h.1m-9.4 .8h.1m.1 .8h.1m0-.4h.1m0 0h.1m.4 .3h.1m0-.3h.1m8.3-.4h.1m0-.1h.1m-10 1.9h.1m.3-.2h.1m9.9-.3h.1m.5-.2h.1m-11.7 1.7h.1m.3-.4h.1m.1-.1h.1m.1-.3h.1m.2 .5h.1m10.2-.2h.1m.2 .3h.1m0 .3h.1m-.1 0h.1m-11.8 1h.1m.2-.4h.1m.1 .3h.1m.1-.7h.1m.1 0h.1m10.8 .1h.1m-.1-.3h.1m-12.3 1.3h.1m.5 .3h.1m.3-.3h.1m11.1-.3h.1m0 .8h.1m-.1-.8h.1m0 0h.1m.7 .6h.1m-.1-.2h.1m-13.7 1.4h.1m.9-.3h.1m11.7-.4h.1m.5 .5h.1m-14.4 1.2h.1m-.1 .1h.1m.1-.4h.1m.5 .2h.1m0-.4h.1m0 .4h.1m.6 .2h.1m11.9-.2h.1m0-.4h.1m.3 0h.1m.1-.2h.1m0 .5h.1m-15 1h.1m0-.4h.1m.1 .3h.1m.3 .3h.1m-.1 0h.1m.3 .1h.1m0-.8h.1m.2 .5h.1m12.2 0h.1m.4 .1h.1m0-.1h.1m-15.1 1.1h.1m.4-.2h.1m-.1-.1h.1m.3 0h.1m.5-.2h.1m11.9 .8h.1m.1-.9h.1m.9 .2h.1m-.1-.1h.1m-14.3 1.1h.1m.9-.1h.1m10.6 .8h.1m.2-.7h.1m.2 .3h.1m.1-.2h.1m.3 .1h.1m-15 .8h.1m-.1 .6h.1m.7-.8h.1m.2 .5h.1m.1-.1h.1m.1-.2h.1m.7 0h.1m0-.1h.1m8.2 .6h.1m.4-.4h.1m1 0h.1m.4 .6h.1m.6-.3h.1m0 .1h.1m0-.2h.1m-.1-.4h.1m.8 .2h.1m-.1-.2h.1m0 0h.1m0-.1h.1m-15.3 1.1h.1m1.9-.1h.1m7.1 .7h.1m.8 0h.1m.7-.3h.1m-.1 .3h.1m.5-.3h.1m.3-.4h.1m-.1 0h.1m.8 0h.1m-13.2 1.5h.1m.3 .3h.1m.2 0h.1m-.1-.7h.1m6.8 .4h.1m.1 .1h.1m.4 .2h.1m.4-.4h.1m0-.3h.1m.1 .3h.1m-.1-.4h.1m.3 .1h.1m.4 .2h.1m.3 .2h.1m.5-.3h.1m.5-.3h.1m-12.2 1.2h.1m.1 .7h.1m0-.3h.1m.4-.4h.1m1.2 .2h.1m0 .1h.1m4.3 .4h.1m.1-.3h.1m.4 .1h.1m1 .2h.1m2.1-.9h.1m-10.8 1.5h.1m0 0h.1m.1 .4h.1m-.1-.7h.1m.9 .1h.1m2.1 .3h.1m-.1 .3h.1m2.1-.1h.1m.6-.4h.1m-.1-.2h.1m1 .6h.1m.3 .1h.1m.4 0h.1m-.1-.6h.1m.3 .3h.1m-7.5 .5h.1m.2 .1h.1m0-.2h.1m.3 .7h.1m.6 0h.1m.3 .1h.1m.1-.2h.1m.6 .3h.1m0-.2h.1m0-.6h.1m.2 .3h.1m.1 .3h.1m.2-.4h.1m-.1 .4h.1m.4 .1h.1m.9-.7h.1m.2 .3h.1m-7.5 1.3h.1m0-.6h.1m.9 .6h.1m.4 .2h.1m.2-.1h.1m0-.6h.1m.2 .2h.1m-.1 .1h.1m.6 .5h.1m.1-.2h.1m.1-.7h.1m.4-.1h.1m.2 .3h.1m.5 .5h.1m-.1-.2h.1m.3-.4h.1m.5 .3h.1m0-.1h.1m-5.7 1.2h.1m1.3 .2h.1m0-.8h.1m.1 .2h.1m-.1 .3h.1m.3-.2h.1m-.1 .7h.1m.5-.3h.1m0 .1h.1m1.9-.3h.1m.1-.3h.1m-4.1 1h.1m1-.2h.1m.3 .4h.1m.5-.4h.1m-15.1 1.8h.1m0-.1h.1m-2.8 1h.1m0-.1h.1m.8-.4h.1m1.6-.1h.1m-3.8 1.4h.1m.2-.2h.1m7.2 .3h.1m.2-.5h.1m.2 .7h.1m-8.7 .8h.1m0-.5h.1m8.4 .1h.1m.6 .6h.1m0 .2h.1m.4 .6h.1m-11.4 .9h.1m11 .4h.1m.3 .8h.1m.1-.1h.1m-12.1 .7h.1m11.9 .4h.1m0 0h.1m-.4 1h.1m.1-.1h.1m-12.3 .6h.1m-.1 .5h.1m.2 0h.1m.1 0h.1m11.2 .1h.1m.2 .2h.1m0-1h.1m-.1 .1h.1m-12.3 .9h.1m.2 .1h.1m.1 1.4h.1m.1 .4h.1m10.4 0h.1m.4-.7h.1m-11 1.1h.1m.5 .5h.1m-.1 .1h.1m9.3-.8h.1m.3 0h.1m0 .1h.1m-9.6 1.2h.1m.3 .4h.1m7.2 .2h.1m.3-.4h.1m.5 0h.1m-8.4 .5h.1m.3 .5h.1m0-.3h.1m.1 0h.1m5.7 .5h.1m1-.5h.1m-6.5 .9h.1m1.6 .5h.1m2.5-.3h.1m.1 .1h.1m1.2-.3h.1m-3 1.3h.1m.1 0h.1" stroke="#0155fe" stroke-width="1.0" stroke-linecap="square" stroke-opacity="0.83"/>
<path d="M401.2 298.1h.1m.1-.1h.1m1.3 .5h.1m.4-.5h.1m.7 .1h.1m.2 .2h.1m-4 1.1h.1m.1-.5h.1m1 .3h.1m.1-.7h.1m1 .3h.1m-.1-.3h.1m.9 .3h.1m.1-.1h.1m1.5 .5h.1m-5.9 .6h.1m6.2 0h.1m.3 .6h.1m.4 0h.1m-8.6 .5h.1m.1 .5h.1m-.1-.2h.1m.5 .3h.1m7.3-.6h.1m0 .4h.1m-8.8 .6h.1m.2 .3h.1m.4-.7h.1m8.1 .1h.1m0 .1h.1m.4 .6h.1m0-.5h.1m-9.8 1.5h.1m.2 0h.1m.1-.7h.1m.2 .8h.1m8.4 0h.1m.4-.2h.1m.1 0h.1m-.1 .1h.1m0-.2h.1m-10.7 1.3h.1m.3-.2h.1m10-.4h.1m-11.1 1.3h.1m.3-.4h.1m9.9-.2h.1m.2 .6h.1m.1 0h.1m-11.3 1.3h.1m.2-.6h.1m.2-.1h.1m0-.1h.1m.8 .6h.1m-.1-.7h.1m-.1 .3h.1m9.1-.3h.1m-10.4 1.7h.1m0 0h.1m.5-.4h.1m.1 .1h.1m0-.1h.1m.2 .5h.1m8.1-.5h.1m-10 1.3h.1m-.1 .3h.1m1.1-.8h.1m0 0h.1m6.1 .9h.1m1-.2h.1m.1-.3h.1m0-.2h.1m.1 .3h.1m.3-.3h.1m.5-.2h.1m.5 0h.1m-12 1.9h.1m0-1h.1m.1 1h.1m1.7-.4h.1m.1 .3h.1m.6 0h.1m1.3-.8h.1m1.6 .1h.1m.1 .8h.1m0-.3h.1m.2 .3h.1m.2-.7h.1m.4 .3h.1m.1 .1h.1m.1 0h.1m0-.4h.1m.4 .3h.1m.6 .2h.1m.4-.3h.1m0-.5h.1m-10.5 1.4h.1m.4 .5h.1m.1-.3h.1m.2 .1h.1m0-.6h.1m1.2 .3h.1m0-.1h.1m.4 .1h.1m.1 .6h.1m.2-.1h.1m0-.4h.1m.2 0h.1m.1 .1h.1m.4-.3h.1m.7 .2h.1m.2-.3h.1m1.3 .2h.1m0-.4h.1m.3 .6h.1m2-.6h.1m-10.3 1.9h.1m-.1-.5h.1m1.4 .3h.1m1.5-.3h.1m.4 .6h.1m0-.6h.1m.1 .6h.1m.1-.8h.1m0 0h.1m.4 .6h.1m.2-.5h.1m.2 .6h.1m.2-.3h.1m0-.6h.1m.1 .1h.1m-6.2 1.2h.1m.5 .3h.1m.6-.5h.1m.3 .6h.1m0-.5h.1m.6 .8h.1m.4-.7h.1m0 0h.1m.3 .5h.1m.5-.8h.1m.1 .9h.1m.7-.4h.1m-5.5 1.4h.1m.2-.2h.1m0-.3h.1m.1 .3h.1m1-.5h.1m.1 .7h.1m.3 0h.1m.1-.9h.1m.6 1h.1m.7-.9h.1m-3.1 1h.1m.2 .3h.1m.1 .2h.1m.4-.2h.1m-18.2 6.5h.1m.2-.1h.1m1.3 0h.1m.4-.3h.1m1.1 .3h.1m-4.7 1h.1m.4-.7h.1m.6 0h.1m4.6 .4h.1m-.1 .1h.1m.2 .2h.1m-6.8 .3h.1m6.3 .1h.1m.6 .1h.1m.3 .5h.1m-9 1.2h.1m9 0h.1m0-.6h.1m-9.8 1.4h.1m-.1 0h.1m0-.5h.1m9.5 .1h.1m.4 1.1h.1m0 .2h.1m-.1-.1h.1m-.1-.5h.1m.1 .9h.1m-11.1 .4h.1m0 .2h.1m10.5-.4h.1m.1-.2h.1m-11.2 1.9h.1m11.1-.3h.1m-.1 .1h.1m-.1-.5h.1m-11.2 1.3h.1m.1 .5h.1m10.8-.3h.1m-10.9 .6h.1m.3 .5h.1m9.5-.2h.1m.4-.1h.1m-10 1.7h.1m8.1 .8h.1m-7.4 .1h.1m7.4-.1h.1m-6.5 1.7h.1m.1-.5h.1m.8 .7h.1m0 0h.1m3-.2h.1m.1 .1h.1m.5-.7h.1m-4.1 1h.1m.7 .5h.1m.1-.5h.1m.5 .4h.1m0-.3h.1m.6 .2h.1m.6-.1h.1" stroke="#0068f9" stroke-width="1.0" stroke-linecap="square" stroke-opacity="0.92"/>
<path d="M401.6 299.3h.1m.2 0h.1m.3 0h.1m.5 .2h.1m0-.1h.1m.3-.1h.1m0-.1h.1m.1 .2h.1m.6 .1h.1m-4.2 1h.1m.2-.1h.1m.3-.7h.1m0 .4h.1m.1-.5h.1m-.1 .5h.1m0-.5h.1m.7 .8h.1m0-.9h.1m.5 .3h.1m0 .4h.1m.4-.2h.1m1.6 .1h.1m-5.6 1.3h.1m.1-.1h.1m.5-.7h.1m0 .3h.1m4.3-.3h.1m.1 .5h.1m.2-.1h.1m-.1 0h.1m0-.3h.1m-.1 .6h.1m.1 0h.1m-.1 0h.1m-5.8 .3h.1m.2 .5h.1m.1-.2h.1m0 .2h.1m5.2 .1h.1m0-.2h.1m0 .2h.1m.2-.2h.1m.3 .2h.1m.1 .1h.1m-7.6 .9h.1m-.1 .1h.1m6.6-.6h.1m0 .1h.1m.1 .6h.1m.5 0h.1m-.1 0h.1m-.1-.3h.1m-7.8 .8h.1m0-.2h.1m.2 0h.1m6.6 .3h.1m.2 .3h.1m.2-.2h.1m-7.9 1h.1m.2 .3h.1m0-.6h.1m.3-.2h.1m0 .1h.1m.1-.1h.1m5.9 .6h.1m0-.5h.1m0-.1h.1m-.1 .1h.1m.2-.1h.1m-.1 .5h.1m.1-.2h.1m-.1 0h.1m.1 0h.1m-8.1 .6h.1m.1 .2h.1m.2-.1h.1m-.1 .2h.1m0 .1h.1m.3-.1h.1m.1 .3h.1m.2-.3h.1m.2 .3h.1m.3 .4h.1m4.6-.3h.1m-.1-.5h.1m-.1 .7h.1m.4 .1h.1m.3-.2h.1m-7.5 .9h.1m0-.5h.1m1 .7h.1m.3-.5h.1m.9 .2h.1m.8-.2h.1m1.2 .6h.1m0 0h.1m.2-.7h.1m.2 .3h.1m0 .2h.1m-.1-.8h.1m0 .6h.1m.2-.1h.1m-.1 .3h.1m-6.1 .5h.1m1 .1h.1m0 .2h.1m0-.2h.1m-.1 .1h.1m0 .4h.1m0-.2h.1m-.1 .2h.1m.5 0h.1m0-.1h.1m0-.4h.1m.5 .4h.1m-.1-.8h.1m.6 1h.1m-.1-1h.1m0 .3h.1m.6 .3h.1m0 0h.1m.2 .1h.1m.1-.4h.1m.1-.1h.1m-27.4 13.6h.1m3.6-.3h.1m-.1 .1h.1m0-.2h.1m.3 .5h.1m-5.5 .6h.1m.1-.1h.1m-.1 .2h.1m-.6 .5h.1m7.4 .7h.1m-8.6 .3h.1m0 .4h.1m0 .2h.1m-.6 1h.1m9.1-.6h.1m.4 .7h.1m-10.2 2.1h.1m9.6 1.7h.1m.1-.1h.1m-9 .8h.1m0 .2h.1m7.9-.2h.1m-7.9 1.1h.1m.4 .1h.1m6.5 .3h.1m.1 .1h.1m-6.3 .4h.1m4.9 .6h.1m-4.1 .3h.1m.5 .2h.1m.2 0h.1m-.1 .1h.1m.2 .4h.1m-.1 0h.1m1-.5h.1m.8 .2h.1m.6-.6h.1" stroke="#007df1" stroke-width="1.0" stroke-linecap="square" stroke-opacity="1.00"/>
<path d="M401.4 301.4h.1m.1-.3h.1m.6 0h.1m.3 0h.1m.2-.5h.1m.3 .7h.1m.2-.3h.1m.2 .4h.1m.2-.2h.1m.5 .3h.1m.1-.1h.1m-4.1 .4h.1m0 .4h.1m.1 0h.1m0-.5h.1m0 .7h.1m.2 0h.1m0-.8h.1m0 .4h.1m.4-.3h.1m.2 .6h.1m-.1-.1h.1m.1-.6h.1m.1 .2h.1m.2 .6h.1m.2-.6h.1m.1-.3h.1m.2 .3h.1m.1-.2h.1m0 .9h.1m-.1-.2h.1m.5 0h.1m.3-.1h.1m-4.7 .4h.1m.4 .3h.1m.1 0h.1m.4-.2h.1m.6 .7h.1m0-.4h.1m.4 .1h.1m0 0h.1m0-.5h.1m-.1 0h.1m.3 0h.1m0 .5h.1m.7-.2h.1m.3-.3h.1m-4.6 1.9h.1m.1-.7h.1m.1 0h.1m.1-.2h.1m0 0h.1m.3 .6h.1m-.1-.3h.1m0 0h.1m.1 .5h.1m0-.1h.1m-.1-.1h.1m0 0h.1m.5 .2h.1m.1-.7h.1m.3 0h.1m.1 .3h.1m.7 .1h.1m-.1 .1h.1m.3-.5h.1m.3 .8h.1m0-.7h.1m-4.9 1.2h.1m0 .2h.1m-.1-.1h.1m.4 .2h.1m.1-.4h.1m0 0h.1m.2-.3h.1m0 0h.1m-.1 0h.1m.3 .1h.1m.1 .3h.1m-.1-.5h.1m-.1 .2h.1m.5-.1h.1m.2 .5h.1m.4-.1h.1m.3 .4h.1m.4-.4h.1m.1 .4h.1m0-.9h.1m-3.4 1.6h.1m.7 0h.1m0-.3h.1m-.1-.1h.1m0 .7h.1m-.1-.9h.1m.2 .3h.1m.5 .2h.1m0 .3h.1m.4-.4h.1m.2 .2h.1m0-.6h.1m.1 .1h.1m-2.8 1.1h.1m.7 0h.1m.4-.1h.1m-24.8 14.9h.1m.1-.1h.1m1.3 0h.1m.5 0h.1m-4.6 .9h.1m.6-.4h.1m.5-.4h.1m.1 .1h.1m0 .1h.1m3.9 .7h.1m-6.2 .9h.1m.2-.5h.1m0 0h.1m5.7-.2h.1m.2 0h.1m.4 .5h.1m-7.4 .6h.1m7.3 .4h.1m-.1-.5h.1m-.1 .1h.1m.4 .6h.1m-8.6 .7h.1m8.3 .3h.1m0 .1h.1m-.1-.4h.1m-.1 1.5h.1m0-.6h.1m-9 .7h.1m0 .5h.1m-.1 0h.1m8.8-.4h.1m-9.2 1.1h.1m8.6 .5h.1m0-.3h.1m.2-.2h.1m-.7 1.5h.1m-7.7 .8h.1m7.3-.4h.1m-.1 .6h.1m-7.4 .4h.1m6.9 0h.1m-5.7 1h.1m0 .1h.1m.2 0h.1m.3 .5h.1m0 0h.1m.1 .2h.1m-.1 0h.1m.1-.3h.1m.4 .2h.1m1.4 0h.1m.3-.2h.1m.1-.4h.1m.1-.1h.1m0 .4h.1m-2.9 .6h.1m.4 0h.1m.2 0h.1m-.1-.1h.1m.4 .1h.1" stroke="#0092e9" stroke-width="1.0" stroke-linecap="square" stroke-opacity="1.00"/>
<path d="M378.2 322.2h.1m.6-.2h.1m.2-.4h.1m.3 .2h.1m-.1 .1h.1m0 0h.1m.5 .1h.1m1.2 .2h.1m.1 .2h.1m0 .2h.1m.3 .7h.1m-6.4 1h.1m-.1-.3h.1m7 .4h.1m-7.6 .7h.1m0 0h.1m7.5 .1h.1m0 .3h.1m-.1-1h.1m-8.2 1.2h.1m8.3 .3h.1m-8.4 1.1h.1m0-.5h.1m0 1.7h.1m0 .2h.1m7.5-.3h.1m.2-.4h.1m0-.1h.1m-8 .9h.1m-.1 .2h.1m.1 .2h.1m7 .2h.1m.1 0h.1m.1-.5h.1m-7.6 1.1h.1m.7 .6h.1m5.4 .1h.1m0-.2h.1m.2-.5h.1m.2-.2h.1m-5.8 1.7h.1m4.3 0h.1m-.1 0h.1m0 .1h.1m.1-.2h.1m0-.6h.1m.1 .1h.1m-4.2 1.2h.1m.4 .2h.1m.4-.1h.1m1.4-.2h.1m.1-.2h.1m-.1 0h.1m.1 .2h.1m-.1-.2h.1" stroke="#00a7e2" stroke-width="1.0" stroke-linecap="square" stroke-opacity="1.00"/>
<path d="M379.1 322.3h.1m.5-.3h.1m0 .2h.1m.2 .2h.1m.4-.2h.1m-2.7 .4h.1m2.4-.1h.1m.1 .1h.1m.6 .4h.1m.5 0h.1m-6.1 2h.1m7-.2h.1m-7.6 1.6h.1m0-.7h.1m-.1 .1h.1m-.1 .1h.1m7.5 .2h.1m0 0h.1m-.1-.2h.1m-7.7 1.3h.1m7.3-.7h.1m0 .6h.1m-7.5 .6h.1m7 .5h.1m.2-.5h.1m-.1-.1h.1m-7.5 1.2h.1m.3 .5h.1m0 0h.1m6.2-.2h.1m0-.2h.1m-.1 .2h.1m-.1 .2h.1m.2-.8h.1m-6.8 1.3h.1m-.1 0h.1m.3 .2h.1m5 .2h.1m0 0h.1m.2-.4h.1m-5.1 .8h.1m.3 .4h.1m.2 .4h.1m.5 0h.1m.5 0h.1m.9 0h.1m.2 0h.1m0 0h.1m.1 0h.1m.6-.6h.1m-2 .9h.1m-.1 0h.1m.1 0h.1" stroke="#02b0c8" stroke-width="1.0" stroke-linecap="square" stroke-opacity="1.00"/>
<path d="M377.3 323.5h.1m.1-.3h.1m0 0h.1m.2-.1h.1m.1-.2h.1m.6-.1h.1m.2-.1h.1m.1-.1h.1m.5 0h.1m-.1-.1h.1m1.1 .7h.1m-.1-.3h.1m.4 .3h.1m-5 1.3h.1m5.4-.3h.1m-6.1 .8h.1m.2-.3h.1m5.9 .1h.1m.1-.1h.1m-6.8 1.7h.1m0-.6h.1m-.1 .6h.1m6.7-.3h.1m-7.1 .9h.1m-.1 0h.1m0-.2h.1m6.7 .7h.1m-.1-1h.1m.1 .1h.1m0 .4h.1m-7.2 .8h.1m0-.3h.1m6.4 1h.1m0-.3h.1m-6.4 .6h.1m-.1 .3h.1m.2 .2h.1m5.7-.7h.1m-.7 1.5h.1m-4.1 .6h.1m.3 .2h.1m.1 .2h.1m-.1-.1h.1m.3 .1h.1m1-.1h.1m.3 .1h.1m.1-.1h.1" stroke="#05b7ac" stroke-width="1.0" stroke-linecap="square" stroke-opacity="1.00"/>
<path d="M378.8 323h.1m.2 0h.1m1.9 .3h.1m0 .1h.1m-4.4 1h.1m0-.2h.1m.3-.4h.1m.4-.3h.1m3.5 .1h.1m.4 .6h.1m-5.5 .6h.1m5.8 .6h.1m-.1-.2h.1m-6.4 .9h.1m0 0h.1m-.1 .2h.1m-.1-.7h.1m-.1 .5h.1m0-.5h.1m5.9 0h.1m.3 .6h.1m-.1 1.1h.1m-.6 1.2h.1m0-.2h.1m.1-.5h.1m-6 .8h.1m5.3 .7h.1m-.1-.4h.1m-.1 .3h.1m-.1-.2h.1m-4.7 1h.1m3.4 .2h.1m.1-.1h.1m.2 0h.1m0-.3h.1m-3.2 .7h.1m.5 .2h.1m.1 .1h.1m.7 0h.1m.1-.2h.1m.1 0h.1" stroke="#08bf90" stroke-width="1.0" stroke-linecap="square" stroke-opacity="1.00"/>
<path d="M378.6 323.4h.1m0-.1h.1m.3-.1h.1m0 .1h.1m.1 0h.1m-.1-.1h.1m.3-.1h.1m-.1 .2h.1m-2.3 .6h.1m-.1 .1h.1m0-.2h.1m-.1 .2h.1m0-.1h.1m-.1 .1h.1m.1-.3h.1m.2-.2h.1m2.1 .1h.1m-.1-.1h.1m.9 .7h.1m0 .1h.1m0 .1h.1m-.1 .1h.1m-5.1 .7h.1m.2-.3h.1m0-.2h.1m4.9 .3h.1m-.1-.1h.1m-.1 .2h.1m0 .3h.1m-5.9 .8h.1m-.1-.2h.1m.1-.1h.1m5.5 0h.1m-.1 .1h.1m.1 .3h.1m-6 1h.1m-.1-.5h.1m5.9 .6h.1m-.1-.8h.1m-5.8 1.7h.1m5.1 .1h.1m.2-.8h.1m-.1 .2h.1m-5.3 1.1h.1m0 .5h.1m4.6-.6h.1m-3.8 1.4h.1m.3 .1h.1m.6 .1h.1m-.1 0h.1m.5-.1h.1m-.1 .2h.1m.4-.2h.1m.2 0h.1m.2-.5h.1m.2-.1h.1m0 0h.1m-.1-.1h.1m-2 1h.1m-.1-.1h.1m.4 0h.1" stroke="#12c472" stroke-width="1.0" stroke-linecap="square" stroke-opacity="1.00"/>
<path d="M379.1 323.5h.1m0-.1h.1m.7 .1h.1m-2.6 .9h.1m.2-.3h.1m.8-.5h.1m.3 0h.1m.2-.1h.1m-.1 .1h.1m.2-.1h.1m.1 0h.1m.6 .3h.1m.4 .3h.1m0 .3h.1m-4.2 .8h.1m4.3-.7h.1m0 .2h.1m0 .4h.1m.1-.1h.1m-5.1 .7h.1m5.1 .4h.1m-.1 .1h.1m-.1-.3h.1m0 .1h.1m0 .5h.1m-5.8 .8h.1m0-.4h.1m5.4 .1h.1m-5.3 1.2h.1m5-.6h.1m-.1 .3h.1m-5 .9h.1m0 0h.1m3.9 .3h.1m-.1-.1h.1m-2.6 1.1h.1m.7 0h.1m.2 .1h.1m.1-.2h.1m-.1 0h.1m-.1 0h.1m.1-.1h.1m.2-.1h.1" stroke="#24c853" stroke-width="1.0" stroke-linecap="square" stroke-opacity="1.00"/>
<path d="M377.8 324.5h.1m-.1-.1h.1m.7-.5h.1m.2-.2h.1m0 0h.1m0 0h.1m.3 .1h.1m0 0h.1m.2-.1h.1m.1 .1h.1m0 0h.1m.1 .1h.1m-3.3 1.2h.1m.6-.6h.1m3.2 0h.1m-4.4 1.6h.1m0 0h.1m4.8 .1h.1m-.1-.4h.1m-.3 2.1h.1m-4.2 1.2h.1m.3 .2h.1m0 .1h.1m.1 .1h.1m.1 .1h.1m-.1 .2h.1m-.1-.2h.1m.1 .1h.1m.1 .1h.1m.6 .1h.1m1-.3h.1" stroke="#35cb33" stroke-width="1.0" stroke-linecap="square" stroke-opacity="1.00"/>
<path d="M378.9 324h.1m.5-.1h.1m.8 .4h.1m.5 .5h.1m.2 .5h.1m0 .2h.1m0 0h.1m-4.4 0h.1m0 0h.1m-.1 .2h.1m4.1-.2h.1m0 .6h.1m0-.1h.1m0 .2h.1m-4.8 .3h.1m0 0h.1m.3 2h.1m3.6-.1h.1m.1-.2h.1m-3.9 .5h.1m-.1 .1h.1m.6 .5h.1m-.1 .1h.1m2.1-.2h.1m0 0h.1m.1-.1h.1m.3-.4h.1m-.1 0h.1m-2.2 1.1h.1m.2-.3h.1m-.1 .1h.1m0 .1h.1m.1-.1h.1" stroke="#54ce21" stroke-width="1.0" stroke-linecap="square" stroke-opacity="1.00"/>
<path d="M378.3 324.5h.1m.1-.1h.1m0 0h.1m.1-.1h.1m1.1 .2h.1m.2-.1h.1m-.1 0h.1m0 .1h.1m-2.7 .5h.1m.2-.2h.1m-.1 .1h.1m.3-.4h.1m1.9 .2h.1m0 .1h.1m.2 .3h.1m-3.7 1.3h.1m.1-.8h.1m3.9 .5h.1m-.1 .5h.1m-.1 0h.1m-.1 .3h.1m-.1-.1h.1m-.1 0h.1m-4.4 .7h.1m.1 .2h.1m0 .3h.1m0 .3h.1m-.1-.3h.1m.1 .5h.1m0 .2h.1m0 .2h.1m-.1 0h.1m.2 0h.1m.2 .4h.1m.2 .1h.1m.6 .1h.1m.2-.2h.1m.3-.1h.1m.3-.4h.1m.1-.1h.1" stroke="#7dd116" stroke-width="1.0" stroke-linecap="square" stroke-opacity="1.00"/>
<path d="M379.4 324.5h.1m-1.4 .5h.1m.1-.2h.1m1.1-.2h.1m.5 .2h.1m.2 .1h.1m.4 .6h.1m0-.1h.1m-3.6 .7h.1m0-.1h.1m3.4 0h.1m0 .1h.1m-.1-.2h.1m-.1-.1h.1m0 .4h.1m-.1-.1h.1m-.2 1.2h.1m-.1-.4h.1m.1 0h.1m-.7 1.5h.1m0-.2h.1m-.1 0h.1m-2.6 .5h.1m.2 .3h.1m.3 .2h.1m.1 .1h.1m.1-.1h.1m-.1-.1h.1m.3 .1h.1" stroke="#a5d40a" stroke-width="1.0" stroke-linecap="square" stroke-opacity="1.00"/>
<path d="M378.4 325h.1m.7-.3h.1m.1 0h.1m.6 .2h.1m0 .1h.1m-2.7 1.3h.1m.3-.8h.1m-.5 1h.1m-.1 .3h.1m3.3-.1h.1m0 .6h.1m-.1-.2h.1m-.1 .1h.1m-3.2 .7h.1m-.1 .2h.1m-.1-.1h.1m2.4 .3h.1m.2-.4h.1m.1-.3h.1m-2.9 .9h.1m.6 .4h.1m.3 0h.1m.3-.1h.1m.2 0h.1m0 0h.1m.1-.2h.1" stroke="#cdd600" stroke-width="1.0" stroke-linecap="square" stroke-opacity="1.00"/>
<path d="M378.6 325.1h.1m.2-.1h.1m-.1 .1h.1m.9-.1h.1m.3 .3h.1m.1 .2h.1m-2.8 .9h.1m0 .1h.1m.1-.6h.1m-.1-.2h.1m-.1 0h.1m0-.2h.1m2.4 .1h.1m-.1 .2h.1m-.1-.1h.1m0 .5h.1m-.1-.2h.1m0 .1h.1m-3.2 .5h.1m3 .8h.1m-3 .3h.1m.1 .4h.1m.5 .3h.1m1.5-.3h.1m-.1 .1h.1m.2-.2h.1m-.1-.4h.1m0 0h.1m-2.3 1h.1m.3 0h.1m.3 .1h.1m.4 0h.1m0-.2h.1" stroke="#deba00" stroke-width="1.0" stroke-linecap="square" stroke-opacity="1.00"/>
<path d="M378.7 325.3h.1m.2 .1h.1m0-.2h.1m-.1 .1h.1m.1 0h.1m-.1 0h.1m.2-.2h.1m-.1 .1h.1m-.1 .1h.1m0 0h.1m0 .1h.1m.1-.1h.1m0 .2h.1m-2.2 .8h.1m.1-.1h.1m.4-.6h.1m1.7 .2h.1m-.1 .3h.1m-2.6 .8h.1m0-.3h.1m-.1 .8h.1m-.1 .1h.1m-.1 0h.1m2.4-.7h.1m-.1 .7h.1m-.1-.1h.1m0-.5h.1m-1.5 1.6h.1m.3-.2h.1m.1 .1h.1m-.1-.1h.1m.2-.2h.1m.2-.3h.1" stroke="#f09e00" stroke-width="1.0" stroke-linecap="square" stroke-opacity="1.00"/>
<path d="M379.6 325.4h.1m-1.4 1.1h.1m.1-.3h.1m0-.5h.1m.1-.1h.1m.6 0h.1m.1-.1h.1m.1 .1h.1m-.1 .2h.1m0 .1h.1m.3 .6h.1m-2.2 0h.1m.1 .9h.1m1.7-.3h.1m0-.5h.1m0 .5h.1m-2.1 .7h.1m.1 0h.1m.4 .4h.1m-.1 0h.1m0-.1h.1m.4 0h.1m-.1-.1h.1" stroke="#fd8100" stroke-width="1.0" stroke-linecap="square" stroke-opacity="1.00"/>
<path d="M378.7 326.3h.1m.2-.2h.1m.2-.4h.1m.1 .3h.1m-.1-.3h.1m0 .3h.1m.3 .4h.1m-.1-.1h.1m0 .1h.1m-.1-.1h.1m0 0h.1m-1.8 .7h.1m0-.3h.1m0-.2h.1m-.1 .8h.1m1.3-.7h.1m-.1 .3h.1m-.1 .5h.1m0-.7h.1m0 .2h.1m-1.5 .6h.1m0 .1h.1m0 .3h.1m.1 0h.1m.2-.3h.1m-.1 .2h.1m-.1-.1h.1m0 0h.1m0 .1h.1" stroke="#f65700" stroke-width="1.0" stroke-linecap="square" stroke-opacity="1.00"/>
<path d="M379.1 326.3h.1m0-.1h.1m0 .1h.1m-.1-.3h.1m-.1 .3h.1m0 .1h.1m.1-.1h.1m0-.1h.1m-.9 1h.1m-.1-.7h.1m.1 1h.1m0 0h.1m0-.8h.1m0 0h.1m0 .1h.1m-.1 .5h.1m.1-.3h.1m0-.2h.1m-.1 .3h.1m0 .1h.1m-.1-.5h.1m-.1 .1h.1" stroke="#ee2d00" stroke-width="1.0" stroke-linecap="square" stroke-opacity="1.00"/>
<line x1="384.3" y1="282.2" x2="384.3" y2="365.9" stroke="#1a1a1a" stroke-width="0.9"/>
<line x1="354.5" y1="322.1" x2="438.8" y2="322.1" stroke="#1a1a1a" stroke-width="0.9"/>
<text x="356.5" y="292.29" font-size="7.4" font-weight="bold" text-anchor="start" fill="#111">0.63</text>
<text x="437.3" y="292.29" font-size="7.4" font-weight="bold" text-anchor="end" fill="#111">32.2</text>
<text x="356.5" y="360.99" font-size="7.4" font-weight="bold" text-anchor="start" fill="#111">61.8</text>
<text x="437.3" y="360.99" font-size="7.4" font-weight="bold" text-anchor="end" fill="#111">5.33</text>
<line x1="352.9" y1="288" x2="354.5" y2="288" stroke="#444" stroke-width="0.5"/>
<text x="352.3" y="289.23" font-size="3.5" text-anchor="end" fill="#333">10&#8309;</text>
<line x1="352.9" y1="304" x2="354.5" y2="304" stroke="#444" stroke-width="0.5"/>
<text x="352.3" y="305.23" font-size="3.5" text-anchor="end" fill="#333">10&#8308;</text>
<line x1="352.9" y1="319.5" x2="354.5" y2="319.5" stroke="#444" stroke-width="0.5"/>
<text x="352.3" y="320.73" font-size="3.5" text-anchor="end" fill="#333">10&#179;</text>
<line x1="352.9" y1="336.5" x2="354.5" y2="336.5" stroke="#444" stroke-width="0.5"/>
<text x="352.3" y="337.73" font-size="3.5" text-anchor="end" fill="#333">10&#179;</text>
<line x1="352.9" y1="347" x2="354.5" y2="347" stroke="#444" stroke-width="0.5"/>
<text x="352.3" y="348.23" font-size="3.5" text-anchor="end" fill="#333">0</text>
<line x1="352.9" y1="358" x2="354.5" y2="358" stroke="#444" stroke-width="0.5"/>
<text x="352.3" y="359.23" font-size="3.5" text-anchor="end" fill="#333">-10&#179;</text>
<line x1="364" y1="365.9" x2="364" y2="367.5" stroke="#444" stroke-width="0.5"/>
<text x="364" y="371.52" font-size="3.5" text-anchor="middle" fill="#333">-10&#179;</text>
<line x1="373.5" y1="365.9" x2="373.5" y2="367.5" stroke="#444" stroke-width="0.5"/>
<text x="373.5" y="371.52" font-size="3.5" text-anchor="middle" fill="#333">0</text>
<line x1="389.5" y1="365.9" x2="389.5" y2="367.5" stroke="#444" stroke-width="0.5"/>
<text x="389.5" y="371.52" font-size="3.5" text-anchor="middle" fill="#333">10&#179;</text>
<line x1="413" y1="365.9" x2="413" y2="367.5" stroke="#444" stroke-width="0.5"/>
<text x="413" y="371.52" font-size="3.5" text-anchor="middle" fill="#333">10&#8308;</text>
<line x1="432.5" y1="365.9" x2="432.5" y2="367.5" stroke="#444" stroke-width="0.5"/>
<text x="432.5" y="371.52" font-size="3.5" text-anchor="middle" fill="#333">10&#8309;</text>
<rect x="352.6" y="345.6" width="1.7" height="2.8" fill="#111"/>
<rect x="370.5" y="366.3" width="6" height="1.5" fill="#111"/>
<path d="M342 322.9V377.3H397" fill="none" stroke="#222" stroke-width="0.9"/>
<path d="M340.4 323.5L342 319.9L343.6 323.5z" fill="#222"/>
<path d="M396.4 375.7L400 377.3L396.4 378.9z" fill="#222"/>
<text transform="translate(337.2,356.5) rotate(-90)" x="0" y="2.31" font-size="6.6" font-weight="bold" text-anchor="middle" fill="#111" textLength="36.1" lengthAdjust="spacingAndGlyphs">Gnly-AF488</text>
<text x="344.9" y="385.01" font-size="6.6" font-weight="bold" text-anchor="start" fill="#111" textLength="30.6" lengthAdjust="spacingAndGlyphs">Prf-BV421</text>
<line x1="578.3" y1="188.2" x2="578.3" y2="214.2" stroke="#111" stroke-width="1.5"/>
<line x1="572.1" y1="188.9" x2="578.3" y2="188.9" stroke="#111" stroke-width="1.3"/>
<line x1="572.1" y1="209.6" x2="578.3" y2="209.6" stroke="#111" stroke-width="1.3"/>
<line x1="574.7" y1="213.9" x2="581.3" y2="213.9" stroke="#111" stroke-width="1.4"/>
<text x="568.7" y="194.31" font-size="8.6" font-weight="bold" text-anchor="end" fill="#111">20</text>
<text x="568.7" y="215.11" font-size="8.6" font-weight="bold" text-anchor="end" fill="#111">5</text>
<line x1="574.7" y1="220.8" x2="581.3" y2="220.8" stroke="#111" stroke-width="1.4"/>
<line x1="578.3" y1="220.8" x2="578.3" y2="362.5" stroke="#111" stroke-width="1.5"/>
<line x1="572.1" y1="361.8" x2="578.3" y2="361.8" stroke="#111" stroke-width="1.3"/>
<text x="568.7" y="365.61" font-size="8.6" font-weight="bold" text-anchor="end" fill="#111">0.00</text>
<line x1="572.1" y1="341.89" x2="578.3" y2="341.89" stroke="#111" stroke-width="1.3"/>
<text x="568.7" y="345.7" font-size="8.6" font-weight="bold" text-anchor="end" fill="#111">0.25</text>
<line x1="572.1" y1="321.98" x2="578.3" y2="321.98" stroke="#111" stroke-width="1.3"/>
<text x="568.7" y="325.79" font-size="8.6" font-weight="bold" text-anchor="end" fill="#111">0.50</text>
<line x1="572.1" y1="302.07" x2="578.3" y2="302.07" stroke="#111" stroke-width="1.3"/>
<text x="568.7" y="305.88" font-size="8.6" font-weight="bold" text-anchor="end" fill="#111">0.75</text>
<line x1="572.1" y1="282.16" x2="578.3" y2="282.16" stroke="#111" stroke-width="1.3"/>
<text x="568.7" y="285.97" font-size="8.6" font-weight="bold" text-anchor="end" fill="#111">1.00</text>
<line x1="572.1" y1="262.25" x2="578.3" y2="262.25" stroke="#111" stroke-width="1.3"/>
<text x="568.7" y="266.06" font-size="8.6" font-weight="bold" text-anchor="end" fill="#111">1.25</text>
<line x1="572.1" y1="242.34" x2="578.3" y2="242.34" stroke="#111" stroke-width="1.3"/>
<text x="568.7" y="246.15" font-size="8.6" font-weight="bold" text-anchor="end" fill="#111">1.50</text>
<text x="568.7" y="226.11" font-size="8.6" font-weight="bold" text-anchor="end" fill="#111">1.75</text>
<line x1="577.6" y1="361.8" x2="679.6" y2="361.8" stroke="#111" stroke-width="1.5"/>
<rect x="605.3" y="232.9" width="48.6" height="104.1" fill="#45efb0" stroke="#1fb07a" stroke-width="1"/>
<line x1="605.3" y1="282.7" x2="653.9" y2="282.7" stroke="#1fb07a" stroke-width="1"/>
<line x1="629.6" y1="194.3" x2="629.6" y2="232.9" stroke="#1fb07a" stroke-width="1"/>
<line x1="629.6" y1="337" x2="629.6" y2="361.8" stroke="#1fb07a" stroke-width="1"/>
<line x1="619.6" y1="194.3" x2="639.6" y2="194.3" stroke="#1fb07a" stroke-width="1"/>
<line x1="626" y1="214.6" x2="633.2" y2="214.6" stroke="#1fb07a" stroke-width="1.2"/>
<line x1="629.6" y1="362" x2="629.6" y2="365.5" stroke="#111" stroke-width="1"/>
<g fill="none" stroke="#111" stroke-width="1.05"><path d="M629.6 191.6L632.3 194.3L629.6 197L626.9 194.3z"/><path d="M625 200.3L627.7 203L625 205.7L622.3 203z"/><path d="M607.5 204.8L610.2 207.5L607.5 210.2L604.8 207.5z"/><path d="M616.1 208.3L618.8 211L616.1 213.7L613.4 211z"/><path d="M625 208.3L627.7 211L625 213.7L622.3 211z"/><path d="M634.2 209.7L636.9 212.4L634.2 215.1L631.5 212.4z"/><path d="M643.1 207.8L645.8 210.5L643.1 213.2L640.4 210.5z"/><path d="M629.6 223.7L632.3 226.4L629.6 229.1L626.9 226.4z"/><path d="M625 249.7L627.7 252.4L625 255.1L622.3 252.4z"/><path d="M634.2 247L636.9 249.7L634.2 252.4L631.5 249.7z"/><path d="M634.2 255.6L636.9 258.3L634.2 261L631.5 258.3z"/><path d="M616.1 259.1L618.8 261.8L616.1 264.5L613.4 261.8z"/><path d="M643.1 261.6L645.8 264.3L643.1 267L640.4 264.3z"/><path d="M634.2 264.3L636.9 267L634.2 269.7L631.5 267z"/><path d="M625 269.5L627.7 272.2L625 274.9L622.3 272.2z"/><path d="M634.2 274.1L636.9 276.8L634.2 279.5L631.5 276.8z"/><path d="M625 288.9L627.7 291.6L625 294.3L622.3 291.6z"/><path d="M634.2 286.2L636.9 288.9L634.2 291.6L631.5 288.9z"/><path d="M629.6 297.5L632.3 300.2L629.6 302.9L626.9 300.2z"/><path d="M625 309.2L627.7 311.9L625 314.6L622.3 311.9z"/><path d="M625 315.4L627.7 318.1L625 320.8L622.3 318.1z"/><path d="M634.2 314.6L636.9 317.3L634.2 320L631.5 317.3z"/><path d="M629.6 322.1L632.3 324.8L629.6 327.5L626.9 324.8z"/><path d="M625 332.1L627.7 334.8L625 337.5L622.3 334.8z"/><path d="M634.2 335.6L636.9 338.3L634.2 341L631.5 338.3z"/><path d="M625 339.7L627.7 342.4L625 345.1L622.3 342.4z"/><path d="M607.5 359.1L610.2 361.8L607.5 364.5L604.8 361.8z"/><path d="M616.1 359.1L618.8 361.8L616.1 364.5L613.4 361.8z"/><path d="M625 359.1L627.7 361.8L625 364.5L622.3 361.8z"/><path d="M634.2 359.1L636.9 361.8L634.2 364.5L631.5 361.8z"/><path d="M643.1 359.1L645.8 361.8L643.1 364.5L640.4 361.8z"/><path d="M652 359.1L654.7 361.8L652 364.5L649.3 361.8z"/></g>
<text transform="translate(519.6,278.2) rotate(-90)" x="0" y="3.22" font-size="9.2" font-weight="bold" text-anchor="middle" fill="#111" textLength="89" lengthAdjust="spacingAndGlyphs">% INO-3107 specific</text>
<text transform="translate(534,277.6) rotate(-90)" x="0" y="3.22" font-size="9.2" font-weight="bold" text-anchor="middle" fill="#111" textLength="171.4" lengthAdjust="spacingAndGlyphs">CD8<tspan font-size="8" dy="-4">+</tspan><tspan dy="4">CD38</tspan><tspan font-size="8" dy="-4">+</tspan><tspan dy="4">PD1</tspan><tspan font-size="8" dy="-4">+</tspan><tspan dy="4">Prf</tspan><tspan font-size="8" dy="-4">+</tspan><tspan dy="4"> above Screening</tspan></text>
<rect x="120.2" y="408.2" width="86.4" height="72.1" fill="#fff" stroke="#222" stroke-width="1.1"/>
<g clip-path="url(#uc1)">
<rect x="120" y="405" width="90" height="75" fill="#36168e"/>
<ellipse cx="150" cy="455" rx="22" ry="18" fill="url(#cdA)"/>
<ellipse cx="185" cy="437" rx="19" ry="11" fill="url(#cdA)"/>
<ellipse cx="176" cy="416" rx="3" ry="6" fill="#6a3a8a"/>
<rect x="120.2" y="408.2" width="86.4" height="72.1" filter="url(#spk)" opacity="0.55"/>
<rect x="120.2" y="408.2" width="86.4" height="72.1" filter="url(#spk2)" opacity="0.45"/>
</g>
<text x="161.1" y="406.21" font-size="6.6" font-weight="bold" text-anchor="middle" fill="#111">Count Density</text>
<text transform="translate(115.5,439.25) rotate(-90)" x="0" y="2.34" font-size="6.7" text-anchor="middle" fill="#222">UMAP2</text>
<text x="164.4" y="486.88" font-size="6.8" text-anchor="middle" fill="#222">UMAP1</text>
<rect x="223.3" y="408.4" width="86.9" height="71.7" fill="#fff" stroke="#222" stroke-width="1.1"/>
<g clip-path="url(#uc2)">
<rect x="220" y="405" width="92" height="76" fill="url(#g38)"/>
<ellipse cx="270.5" cy="418" rx="7" ry="11" fill="url(#gtip)"/>
<ellipse cx="278" cy="430" rx="16" ry="8" fill="url(#gold)" opacity="0.45"/>
<ellipse cx="245" cy="452" rx="16" ry="14" fill="url(#gold)" opacity="0.3"/>
<ellipse cx="266" cy="455" rx="7" ry="12" fill="url(#dark)" opacity="0.85" transform="rotate(25 266 455)"/>
<rect x="223.3" y="408.4" width="86.9" height="71.7" filter="url(#spk)" opacity="0.55"/>
<rect x="223.3" y="408.4" width="86.9" height="71.7" filter="url(#spk2)" opacity="0.45"/>
</g>
<text x="266.9" y="408.51" font-size="6.6" font-weight="bold" text-anchor="middle" fill="#111">CD38</text>
<text transform="translate(218.6,442.05) rotate(-90)" x="0" y="2.34" font-size="6.7" text-anchor="middle" fill="#222">UMAP2</text>
<text x="267.75" y="486.68" font-size="6.8" text-anchor="middle" fill="#222">UMAP1</text>
<ellipse cx="270.4" cy="417.5" rx="9.8" ry="8.3" fill="none" stroke="#16384a" stroke-width="1.6" stroke-dasharray="4.4,3.1"/>
<rect x="303" y="435.5" width="3.4" height="23.8" fill="url(#cbar)"/>
<text x="303.7" y="432.25" font-size="5" text-anchor="middle" fill="#222">CD38</text>
<text x="301.8" y="438.54" font-size="4.4" text-anchor="end" fill="#222">5</text>
<text x="301.8" y="443.04" font-size="4.4" text-anchor="end" fill="#222">4</text>
<text x="301.8" y="447.54" font-size="4.4" text-anchor="end" fill="#222">3</text>
<text x="301.8" y="452.04" font-size="4.4" text-anchor="end" fill="#222">2</text>
<text x="301.8" y="456.54" font-size="4.4" text-anchor="end" fill="#222">1</text>
<text x="301.8" y="460.54" font-size="4.4" text-anchor="end" fill="#222">0</text>
<rect x="119" y="500.9" width="88.8" height="72.5" fill="#fff" stroke="#222" stroke-width="1.1"/>
<g clip-path="url(#uc3)">
<rect x="115" y="498" width="95" height="78" fill="url(#gpd)"/>
<ellipse cx="165.5" cy="511" rx="7" ry="11" fill="url(#gtip)"/>
<ellipse cx="166" cy="528" rx="14" ry="12" fill="url(#gold)" opacity="0.95"/>
<ellipse cx="158" cy="540" rx="10" ry="10" fill="url(#gold)" opacity="0.5"/>
<ellipse cx="186" cy="534" rx="9" ry="8" fill="url(#dark)" opacity="0.35"/>
<ellipse cx="138" cy="560" rx="12" ry="9" fill="url(#dark)" opacity="0.5"/>
<rect x="119" y="500.9" width="88.8" height="72.5" filter="url(#spk)" opacity="0.55"/>
<rect x="119" y="500.9" width="88.8" height="72.5" filter="url(#spk2)" opacity="0.45"/>
</g>
<text x="163.6" y="500.11" font-size="6.6" font-weight="bold" text-anchor="middle" fill="#111">PD-1</text>
<text transform="translate(114.3,536.15) rotate(-90)" x="0" y="2.34" font-size="6.7" text-anchor="middle" fill="#222">UMAP2</text>
<text x="164.4" y="579.98" font-size="6.8" text-anchor="middle" fill="#222">UMAP1</text>
<ellipse cx="165.3" cy="509.5" rx="9.8" ry="8.3" fill="none" stroke="#16384a" stroke-width="1.6" stroke-dasharray="4.4,3.1"/>
<rect x="199" y="527" width="4.8" height="23.6" fill="url(#cbar)"/>
<text x="200.4" y="523.75" font-size="5" text-anchor="middle" fill="#222">PD1</text>
<text x="197.8" y="530.54" font-size="4.4" text-anchor="end" fill="#222">6</text>
<text x="197.8" y="538.04" font-size="4.4" text-anchor="end" fill="#222">4</text>
<text x="197.8" y="545.54" font-size="4.4" text-anchor="end" fill="#222">2</text>
<rect x="222.9" y="501.3" width="86.7" height="72.1" fill="#fff" stroke="#222" stroke-width="1.1"/>
<g clip-path="url(#uc4)">
<rect x="220" y="498" width="92" height="78" fill="url(#gprf)"/>
<ellipse cx="270.5" cy="511" rx="7" ry="11" fill="url(#gtip)"/>
<rect x="222.9" y="501.3" width="86.7" height="72.1" filter="url(#spk)" opacity="0.55"/>
<rect x="222.9" y="501.3" width="86.7" height="72.1" filter="url(#spk2)" opacity="0.45"/>
</g>
<text x="266.9" y="500.51" font-size="6.6" font-weight="bold" text-anchor="middle" fill="#111">Perforin</text>
<text transform="translate(218.2,536.95) rotate(-90)" x="0" y="2.34" font-size="6.7" text-anchor="middle" fill="#222">UMAP2</text>
<text x="267.25" y="579.98" font-size="6.8" text-anchor="middle" fill="#222">UMAP1</text>
<ellipse cx="270.4" cy="509.4" rx="9.8" ry="8.3" fill="none" stroke="#16384a" stroke-width="1.6" stroke-dasharray="4.4,3.1"/>
<rect x="303" y="527.8" width="4.2" height="23.9" fill="url(#cbar)"/>
<text x="304.1" y="524.55" font-size="5" text-anchor="middle" fill="#222">PRF</text>
<text x="301.8" y="531.54" font-size="4.4" text-anchor="end" fill="#222">5</text>
<text x="301.8" y="536.54" font-size="4.4" text-anchor="end" fill="#222">4</text>
<text x="301.8" y="541.54" font-size="4.4" text-anchor="end" fill="#222">3</text>
<text x="301.8" y="546.54" font-size="4.4" text-anchor="end" fill="#222">2</text>
<text x="301.8" y="551.54" font-size="4.4" text-anchor="end" fill="#222">1</text>
<g><rect x="349.10" y="448.60" width="8.10" height="8.52" fill="#08202e"/><rect x="356.90" y="448.60" width="8.10" height="8.52" fill="#0e546f"/><rect x="364.71" y="448.60" width="8.10" height="8.52" fill="#0f6988"/><rect x="372.51" y="448.60" width="8.10" height="8.52" fill="#0a2b3b"/><rect x="380.31" y="448.60" width="8.10" height="8.52" fill="#08202e"/><rect x="388.12" y="448.60" width="8.10" height="8.52" fill="#0e7da1"/><rect x="395.92" y="448.60" width="8.10" height="8.52" fill="#0a2b3b"/><rect x="403.72" y="448.60" width="8.10" height="8.52" fill="#0f6988"/><rect x="411.53" y="448.60" width="8.10" height="8.52" fill="#0e5e7c"/><rect x="419.33" y="448.60" width="8.10" height="8.52" fill="#0c91b8"/><rect x="427.13" y="448.60" width="8.10" height="8.52" fill="#0c3549"/><rect x="434.94" y="448.60" width="8.10" height="8.52" fill="#0d4056"/><rect x="442.74" y="448.60" width="8.10" height="8.52" fill="#0f6988"/><rect x="450.54" y="448.60" width="8.10" height="8.52" fill="#0c3549"/><rect x="458.35" y="448.60" width="8.10" height="8.52" fill="#0e546f"/><rect x="466.15" y="448.60" width="8.10" height="8.52" fill="#0c3549"/><rect x="473.95" y="448.60" width="8.10" height="8.52" fill="#00ceff"/><rect x="481.75" y="448.60" width="8.10" height="8.52" fill="#0e546f"/><rect x="489.56" y="448.60" width="8.10" height="8.52" fill="#0e7394"/><rect x="497.36" y="448.60" width="8.10" height="8.52" fill="#08202e"/><rect x="505.16" y="448.60" width="8.10" height="8.52" fill="#0e4a63"/><rect x="512.97" y="448.60" width="8.10" height="8.52" fill="#08202e"/><rect x="520.77" y="448.60" width="8.10" height="8.52" fill="#0a2b3b"/><rect x="528.57" y="448.60" width="8.10" height="8.52" fill="#07afdc"/><rect x="536.38" y="448.60" width="8.10" height="8.52" fill="#0e5e7c"/><rect x="544.18" y="448.60" width="8.10" height="8.52" fill="#0c3549"/><rect x="551.98" y="448.60" width="8.10" height="8.52" fill="#08202e"/><rect x="559.79" y="448.60" width="8.10" height="8.52" fill="#09a5d0"/><rect x="567.59" y="448.60" width="8.10" height="8.52" fill="#08202e"/><rect x="575.39" y="448.60" width="8.10" height="8.52" fill="#000000"/><rect x="583.20" y="448.60" width="8.10" height="8.52" fill="#061620"/><rect x="349.10" y="456.82" width="8.10" height="8.52" fill="#0d4056"/><rect x="356.90" y="456.82" width="8.10" height="8.52" fill="#0c3549"/><rect x="364.71" y="456.82" width="8.10" height="8.52" fill="#0f6988"/><rect x="372.51" y="456.82" width="8.10" height="8.52" fill="#0d4056"/><rect x="380.31" y="456.82" width="8.10" height="8.52" fill="#0e4a63"/><rect x="388.12" y="456.82" width="8.10" height="8.52" fill="#0c91b8"/><rect x="395.92" y="456.82" width="8.10" height="8.52" fill="#0d4056"/><rect x="403.72" y="456.82" width="8.10" height="8.52" fill="#0f6988"/><rect x="411.53" y="456.82" width="8.10" height="8.52" fill="#0c3549"/><rect x="419.33" y="456.82" width="8.10" height="8.52" fill="#0e546f"/><rect x="427.13" y="456.82" width="8.10" height="8.52" fill="#0e7394"/><rect x="434.94" y="456.82" width="8.10" height="8.52" fill="#0a2b3b"/><rect x="442.74" y="456.82" width="8.10" height="8.52" fill="#0a2b3b"/><rect x="450.54" y="456.82" width="8.10" height="8.52" fill="#0e546f"/><rect x="458.35" y="456.82" width="8.10" height="8.52" fill="#0e5e7c"/><rect x="466.15" y="456.82" width="8.10" height="8.52" fill="#0c3549"/><rect x="473.95" y="456.82" width="8.10" height="8.52" fill="#0f6988"/><rect x="481.75" y="456.82" width="8.10" height="8.52" fill="#0c3549"/><rect x="489.56" y="456.82" width="8.10" height="8.52" fill="#0d4056"/><rect x="497.36" y="456.82" width="8.10" height="8.52" fill="#0c3549"/><rect x="505.16" y="456.82" width="8.10" height="8.52" fill="#0c3549"/><rect x="512.97" y="456.82" width="8.10" height="8.52" fill="#0a2b3b"/><rect x="520.77" y="456.82" width="8.10" height="8.52" fill="#0e4a63"/><rect x="528.57" y="456.82" width="8.10" height="8.52" fill="#0c3549"/><rect x="536.38" y="456.82" width="8.10" height="8.52" fill="#0d4056"/><rect x="544.18" y="456.82" width="8.10" height="8.52" fill="#09a5d0"/><rect x="551.98" y="456.82" width="8.10" height="8.52" fill="#0c3549"/><rect x="559.79" y="456.82" width="8.10" height="8.52" fill="#00ceff"/><rect x="567.59" y="456.82" width="8.10" height="8.52" fill="#0c3549"/><rect x="575.39" y="456.82" width="8.10" height="8.52" fill="#000000"/><rect x="583.20" y="456.82" width="8.10" height="8.52" fill="#0c3549"/><rect x="349.10" y="465.04" width="8.10" height="8.52" fill="#061620"/><rect x="356.90" y="465.04" width="8.10" height="8.52" fill="#0a2b3b"/><rect x="364.71" y="465.04" width="8.10" height="8.52" fill="#061620"/><rect x="372.51" y="465.04" width="8.10" height="8.52" fill="#061620"/><rect x="380.31" y="465.04" width="8.10" height="8.52" fill="#0a2b3b"/><rect x="388.12" y="465.04" width="8.10" height="8.52" fill="#0c3549"/><rect x="395.92" y="465.04" width="8.10" height="8.52" fill="#0c3549"/><rect x="403.72" y="465.04" width="8.10" height="8.52" fill="#0c3549"/><rect x="411.53" y="465.04" width="8.10" height="8.52" fill="#0d4056"/><rect x="419.33" y="465.04" width="8.10" height="8.52" fill="#0f6988"/><rect x="427.13" y="465.04" width="8.10" height="8.52" fill="#040b11"/><rect x="434.94" y="465.04" width="8.10" height="8.52" fill="#040b11"/><rect x="442.74" y="465.04" width="8.10" height="8.52" fill="#040b11"/><rect x="450.54" y="465.04" width="8.10" height="8.52" fill="#08202e"/><rect x="458.35" y="465.04" width="8.10" height="8.52" fill="#061620"/><rect x="466.15" y="465.04" width="8.10" height="8.52" fill="#000000"/><rect x="473.95" y="465.04" width="8.10" height="8.52" fill="#00ceff"/><rect x="481.75" y="465.04" width="8.10" height="8.52" fill="#050f17"/><rect x="489.56" y="465.04" width="8.10" height="8.52" fill="#0a2b3b"/><rect x="497.36" y="465.04" width="8.10" height="8.52" fill="#040b11"/><rect x="505.16" y="465.04" width="8.10" height="8.52" fill="#050f17"/><rect x="512.97" y="465.04" width="8.10" height="8.52" fill="#040b11"/><rect x="520.77" y="465.04" width="8.10" height="8.52" fill="#0e4a63"/><rect x="528.57" y="465.04" width="8.10" height="8.52" fill="#0f6988"/><rect x="536.38" y="465.04" width="8.10" height="8.52" fill="#061620"/><rect x="544.18" y="465.04" width="8.10" height="8.52" fill="#0f6988"/><rect x="551.98" y="465.04" width="8.10" height="8.52" fill="#061620"/><rect x="559.79" y="465.04" width="8.10" height="8.52" fill="#061620"/><rect x="567.59" y="465.04" width="8.10" height="8.52" fill="#061620"/><rect x="575.39" y="465.04" width="8.10" height="8.52" fill="#0a2b3b"/><rect x="583.20" y="465.04" width="8.10" height="8.52" fill="#061620"/><rect x="349.10" y="473.26" width="8.10" height="8.52" fill="#0d4056"/><rect x="356.90" y="473.26" width="8.10" height="8.52" fill="#0c3549"/><rect x="364.71" y="473.26" width="8.10" height="8.52" fill="#0e4a63"/><rect x="372.51" y="473.26" width="8.10" height="8.52" fill="#0d4056"/><rect x="380.31" y="473.26" width="8.10" height="8.52" fill="#0c3549"/><rect x="388.12" y="473.26" width="8.10" height="8.52" fill="#0d4056"/><rect x="395.92" y="473.26" width="8.10" height="8.52" fill="#000000"/><rect x="403.72" y="473.26" width="8.10" height="8.52" fill="#0c3549"/><rect x="411.53" y="473.26" width="8.10" height="8.52" fill="#0d4056"/><rect x="419.33" y="473.26" width="8.10" height="8.52" fill="#0e7da1"/><rect x="427.13" y="473.26" width="8.10" height="8.52" fill="#0a2b3b"/><rect x="434.94" y="473.26" width="8.10" height="8.52" fill="#0a2b3b"/><rect x="442.74" y="473.26" width="8.10" height="8.52" fill="#0e7394"/><rect x="450.54" y="473.26" width="8.10" height="8.52" fill="#0c3549"/><rect x="458.35" y="473.26" width="8.10" height="8.52" fill="#0e546f"/><rect x="466.15" y="473.26" width="8.10" height="8.52" fill="#0d4056"/><rect x="473.95" y="473.26" width="8.10" height="8.52" fill="#00ceff"/><rect x="481.75" y="473.26" width="8.10" height="8.52" fill="#0d4056"/><rect x="489.56" y="473.26" width="8.10" height="8.52" fill="#0d4056"/><rect x="497.36" y="473.26" width="8.10" height="8.52" fill="#0c3549"/><rect x="505.16" y="473.26" width="8.10" height="8.52" fill="#0c3549"/><rect x="512.97" y="473.26" width="8.10" height="8.52" fill="#0c3549"/><rect x="520.77" y="473.26" width="8.10" height="8.52" fill="#0e5e7c"/><rect x="528.57" y="473.26" width="8.10" height="8.52" fill="#0d4056"/><rect x="536.38" y="473.26" width="8.10" height="8.52" fill="#0c3549"/><rect x="544.18" y="473.26" width="8.10" height="8.52" fill="#0e5e7c"/><rect x="551.98" y="473.26" width="8.10" height="8.52" fill="#0a2b3b"/><rect x="559.79" y="473.26" width="8.10" height="8.52" fill="#0e4a63"/><rect x="567.59" y="473.26" width="8.10" height="8.52" fill="#0d4056"/><rect x="575.39" y="473.26" width="8.10" height="8.52" fill="#0d4056"/><rect x="583.20" y="473.26" width="8.10" height="8.52" fill="#0e4a63"/><rect x="349.10" y="481.48" width="8.10" height="8.52" fill="#0e7da1"/><rect x="356.90" y="481.48" width="8.10" height="8.52" fill="#0e7da1"/><rect x="364.71" y="481.48" width="8.10" height="8.52" fill="#0e7da1"/><rect x="372.51" y="481.48" width="8.10" height="8.52" fill="#000000"/><rect x="380.31" y="481.48" width="8.10" height="8.52" fill="#0c91b8"/><rect x="388.12" y="481.48" width="8.10" height="8.52" fill="#0c91b8"/><rect x="395.92" y="481.48" width="8.10" height="8.52" fill="#0c91b8"/><rect x="403.72" y="481.48" width="8.10" height="8.52" fill="#0c91b8"/><rect x="411.53" y="481.48" width="8.10" height="8.52" fill="#00ceff"/><rect x="419.33" y="481.48" width="8.10" height="8.52" fill="#07afdc"/><rect x="427.13" y="481.48" width="8.10" height="8.52" fill="#0e7da1"/><rect x="434.94" y="481.48" width="8.10" height="8.52" fill="#09a5d0"/><rect x="442.74" y="481.48" width="8.10" height="8.52" fill="#0e7da1"/><rect x="450.54" y="481.48" width="8.10" height="8.52" fill="#0b9bc4"/><rect x="458.35" y="481.48" width="8.10" height="8.52" fill="#05b9e7"/><rect x="466.15" y="481.48" width="8.10" height="8.52" fill="#0e7da1"/><rect x="473.95" y="481.48" width="8.10" height="8.52" fill="#0d87ad"/><rect x="481.75" y="481.48" width="8.10" height="8.52" fill="#0c91b8"/><rect x="489.56" y="481.48" width="8.10" height="8.52" fill="#05b9e7"/><rect x="497.36" y="481.48" width="8.10" height="8.52" fill="#0b9bc4"/><rect x="505.16" y="481.48" width="8.10" height="8.52" fill="#0e546f"/><rect x="512.97" y="481.48" width="8.10" height="8.52" fill="#07afdc"/><rect x="520.77" y="481.48" width="8.10" height="8.52" fill="#0d87ad"/><rect x="528.57" y="481.48" width="8.10" height="8.52" fill="#07afdc"/><rect x="536.38" y="481.48" width="8.10" height="8.52" fill="#07afdc"/><rect x="544.18" y="481.48" width="8.10" height="8.52" fill="#05b9e7"/><rect x="551.98" y="481.48" width="8.10" height="8.52" fill="#0e7da1"/><rect x="559.79" y="481.48" width="8.10" height="8.52" fill="#02c4f3"/><rect x="567.59" y="481.48" width="8.10" height="8.52" fill="#0d87ad"/><rect x="575.39" y="481.48" width="8.10" height="8.52" fill="#09a5d0"/><rect x="583.20" y="481.48" width="8.10" height="8.52" fill="#0e7da1"/><rect x="349.10" y="489.70" width="8.10" height="8.52" fill="#061620"/><rect x="356.90" y="489.70" width="8.10" height="8.52" fill="#061620"/><rect x="364.71" y="489.70" width="8.10" height="8.52" fill="#0a2b3b"/><rect x="372.51" y="489.70" width="8.10" height="8.52" fill="#050f17"/><rect x="380.31" y="489.70" width="8.10" height="8.52" fill="#000000"/><rect x="388.12" y="489.70" width="8.10" height="8.52" fill="#0c3549"/><rect x="395.92" y="489.70" width="8.10" height="8.52" fill="#0c3549"/><rect x="403.72" y="489.70" width="8.10" height="8.52" fill="#0c3549"/><rect x="411.53" y="489.70" width="8.10" height="8.52" fill="#0d4056"/><rect x="419.33" y="489.70" width="8.10" height="8.52" fill="#0f6988"/><rect x="427.13" y="489.70" width="8.10" height="8.52" fill="#050f17"/><rect x="434.94" y="489.70" width="8.10" height="8.52" fill="#000000"/><rect x="442.74" y="489.70" width="8.10" height="8.52" fill="#08202e"/><rect x="450.54" y="489.70" width="8.10" height="8.52" fill="#0c3549"/><rect x="458.35" y="489.70" width="8.10" height="8.52" fill="#0e5e7c"/><rect x="466.15" y="489.70" width="8.10" height="8.52" fill="#050f17"/><rect x="473.95" y="489.70" width="8.10" height="8.52" fill="#00ceff"/><rect x="481.75" y="489.70" width="8.10" height="8.52" fill="#040b11"/><rect x="489.56" y="489.70" width="8.10" height="8.52" fill="#0f6988"/><rect x="497.36" y="489.70" width="8.10" height="8.52" fill="#08202e"/><rect x="505.16" y="489.70" width="8.10" height="8.52" fill="#000000"/><rect x="512.97" y="489.70" width="8.10" height="8.52" fill="#08202e"/><rect x="520.77" y="489.70" width="8.10" height="8.52" fill="#0a2b3b"/><rect x="528.57" y="489.70" width="8.10" height="8.52" fill="#08202e"/><rect x="536.38" y="489.70" width="8.10" height="8.52" fill="#0f6988"/><rect x="544.18" y="489.70" width="8.10" height="8.52" fill="#0e7da1"/><rect x="551.98" y="489.70" width="8.10" height="8.52" fill="#040b11"/><rect x="559.79" y="489.70" width="8.10" height="8.52" fill="#0a2b3b"/><rect x="567.59" y="489.70" width="8.10" height="8.52" fill="#061620"/><rect x="575.39" y="489.70" width="8.10" height="8.52" fill="#08202e"/><rect x="583.20" y="489.70" width="8.10" height="8.52" fill="#040b11"/><rect x="349.10" y="497.92" width="8.10" height="8.52" fill="#0e546f"/><rect x="356.90" y="497.92" width="8.10" height="8.52" fill="#0e546f"/><rect x="364.71" y="497.92" width="8.10" height="8.52" fill="#0f6988"/><rect x="372.51" y="497.92" width="8.10" height="8.52" fill="#000000"/><rect x="380.31" y="497.92" width="8.10" height="8.52" fill="#0c3549"/><rect x="388.12" y="497.92" width="8.10" height="8.52" fill="#0e546f"/><rect x="395.92" y="497.92" width="8.10" height="8.52" fill="#0e546f"/><rect x="403.72" y="497.92" width="8.10" height="8.52" fill="#0f6988"/><rect x="411.53" y="497.92" width="8.10" height="8.52" fill="#0e7da1"/><rect x="419.33" y="497.92" width="8.10" height="8.52" fill="#0e7394"/><rect x="427.13" y="497.92" width="8.10" height="8.52" fill="#0e546f"/><rect x="434.94" y="497.92" width="8.10" height="8.52" fill="#0e546f"/><rect x="442.74" y="497.92" width="8.10" height="8.52" fill="#0e4a63"/><rect x="450.54" y="497.92" width="8.10" height="8.52" fill="#0e546f"/><rect x="458.35" y="497.92" width="8.10" height="8.52" fill="#0d87ad"/><rect x="466.15" y="497.92" width="8.10" height="8.52" fill="#0e4a63"/><rect x="473.95" y="497.92" width="8.10" height="8.52" fill="#0d87ad"/><rect x="481.75" y="497.92" width="8.10" height="8.52" fill="#0e546f"/><rect x="489.56" y="497.92" width="8.10" height="8.52" fill="#0e7da1"/><rect x="497.36" y="497.92" width="8.10" height="8.52" fill="#0e4a63"/><rect x="505.16" y="497.92" width="8.10" height="8.52" fill="#0e4a63"/><rect x="512.97" y="497.92" width="8.10" height="8.52" fill="#0e546f"/><rect x="520.77" y="497.92" width="8.10" height="8.52" fill="#0e546f"/><rect x="528.57" y="497.92" width="8.10" height="8.52" fill="#0e4a63"/><rect x="536.38" y="497.92" width="8.10" height="8.52" fill="#0e7394"/><rect x="544.18" y="497.92" width="8.10" height="8.52" fill="#00ceff"/><rect x="551.98" y="497.92" width="8.10" height="8.52" fill="#0e4a63"/><rect x="559.79" y="497.92" width="8.10" height="8.52" fill="#0f6988"/><rect x="567.59" y="497.92" width="8.10" height="8.52" fill="#0e4a63"/><rect x="575.39" y="497.92" width="8.10" height="8.52" fill="#0f6988"/><rect x="583.20" y="497.92" width="8.10" height="8.52" fill="#0e4a63"/><rect x="349.10" y="506.14" width="8.10" height="8.52" fill="#0d4056"/><rect x="356.90" y="506.14" width="8.10" height="8.52" fill="#0f6988"/><rect x="364.71" y="506.14" width="8.10" height="8.52" fill="#0f6988"/><rect x="372.51" y="506.14" width="8.10" height="8.52" fill="#0d4056"/><rect x="380.31" y="506.14" width="8.10" height="8.52" fill="#0e4a63"/><rect x="388.12" y="506.14" width="8.10" height="8.52" fill="#0d87ad"/><rect x="395.92" y="506.14" width="8.10" height="8.52" fill="#0f6988"/><rect x="403.72" y="506.14" width="8.10" height="8.52" fill="#09a5d0"/><rect x="411.53" y="506.14" width="8.10" height="8.52" fill="#0e7da1"/><rect x="419.33" y="506.14" width="8.10" height="8.52" fill="#09a5d0"/><rect x="427.13" y="506.14" width="8.10" height="8.52" fill="#0e546f"/><rect x="434.94" y="506.14" width="8.10" height="8.52" fill="#0e546f"/><rect x="442.74" y="506.14" width="8.10" height="8.52" fill="#0c3549"/><rect x="450.54" y="506.14" width="8.10" height="8.52" fill="#0d4056"/><rect x="458.35" y="506.14" width="8.10" height="8.52" fill="#0e5e7c"/><rect x="466.15" y="506.14" width="8.10" height="8.52" fill="#0d4056"/><rect x="473.95" y="506.14" width="8.10" height="8.52" fill="#0d4056"/><rect x="481.75" y="506.14" width="8.10" height="8.52" fill="#0e4a63"/><rect x="489.56" y="506.14" width="8.10" height="8.52" fill="#0e7da1"/><rect x="497.36" y="506.14" width="8.10" height="8.52" fill="#0d4056"/><rect x="505.16" y="506.14" width="8.10" height="8.52" fill="#0c3549"/><rect x="512.97" y="506.14" width="8.10" height="8.52" fill="#0e5e7c"/><rect x="520.77" y="506.14" width="8.10" height="8.52" fill="#09a5d0"/><rect x="528.57" y="506.14" width="8.10" height="8.52" fill="#0c3549"/><rect x="536.38" y="506.14" width="8.10" height="8.52" fill="#0e7da1"/><rect x="544.18" y="506.14" width="8.10" height="8.52" fill="#00ceff"/><rect x="551.98" y="506.14" width="8.10" height="8.52" fill="#0d4056"/><rect x="559.79" y="506.14" width="8.10" height="8.52" fill="#09a5d0"/><rect x="567.59" y="506.14" width="8.10" height="8.52" fill="#0e4a63"/><rect x="575.39" y="506.14" width="8.10" height="8.52" fill="#000000"/><rect x="583.20" y="506.14" width="8.10" height="8.52" fill="#0a2b3b"/><rect x="349.10" y="514.36" width="8.10" height="8.52" fill="#061620"/><rect x="356.90" y="514.36" width="8.10" height="8.52" fill="#08202e"/><rect x="364.71" y="514.36" width="8.10" height="8.52" fill="#00ceff"/><rect x="372.51" y="514.36" width="8.10" height="8.52" fill="#040b11"/><rect x="380.31" y="514.36" width="8.10" height="8.52" fill="#050f17"/><rect x="388.12" y="514.36" width="8.10" height="8.52" fill="#0a2b3b"/><rect x="395.92" y="514.36" width="8.10" height="8.52" fill="#000000"/><rect x="403.72" y="514.36" width="8.10" height="8.52" fill="#0d4056"/><rect x="411.53" y="514.36" width="8.10" height="8.52" fill="#061620"/><rect x="419.33" y="514.36" width="8.10" height="8.52" fill="#0b9bc4"/><rect x="427.13" y="514.36" width="8.10" height="8.52" fill="#0a2b3b"/><rect x="434.94" y="514.36" width="8.10" height="8.52" fill="#0a2b3b"/><rect x="442.74" y="514.36" width="8.10" height="8.52" fill="#0d4056"/><rect x="450.54" y="514.36" width="8.10" height="8.52" fill="#040b11"/><rect x="458.35" y="514.36" width="8.10" height="8.52" fill="#0c3549"/><rect x="466.15" y="514.36" width="8.10" height="8.52" fill="#061620"/><rect x="473.95" y="514.36" width="8.10" height="8.52" fill="#05b9e7"/><rect x="481.75" y="514.36" width="8.10" height="8.52" fill="#0a2b3b"/><rect x="489.56" y="514.36" width="8.10" height="8.52" fill="#0c3549"/><rect x="497.36" y="514.36" width="8.10" height="8.52" fill="#040b11"/><rect x="505.16" y="514.36" width="8.10" height="8.52" fill="#08202e"/><rect x="512.97" y="514.36" width="8.10" height="8.52" fill="#040b11"/><rect x="520.77" y="514.36" width="8.10" height="8.52" fill="#061620"/><rect x="528.57" y="514.36" width="8.10" height="8.52" fill="#03060a"/><rect x="536.38" y="514.36" width="8.10" height="8.52" fill="#040b11"/><rect x="544.18" y="514.36" width="8.10" height="8.52" fill="#0e546f"/><rect x="551.98" y="514.36" width="8.10" height="8.52" fill="#040b11"/><rect x="559.79" y="514.36" width="8.10" height="8.52" fill="#0c3549"/><rect x="567.59" y="514.36" width="8.10" height="8.52" fill="#0a2b3b"/><rect x="575.39" y="514.36" width="8.10" height="8.52" fill="#08202e"/><rect x="583.20" y="514.36" width="8.10" height="8.52" fill="#061620"/><rect x="349.10" y="522.58" width="8.10" height="8.52" fill="#0c3549"/><rect x="356.90" y="522.58" width="8.10" height="8.52" fill="#0c3549"/><rect x="364.71" y="522.58" width="8.10" height="8.52" fill="#0e4a63"/><rect x="372.51" y="522.58" width="8.10" height="8.52" fill="#0c3549"/><rect x="380.31" y="522.58" width="8.10" height="8.52" fill="#0c3549"/><rect x="388.12" y="522.58" width="8.10" height="8.52" fill="#0d4056"/><rect x="395.92" y="522.58" width="8.10" height="8.52" fill="#000000"/><rect x="403.72" y="522.58" width="8.10" height="8.52" fill="#08202e"/><rect x="411.53" y="522.58" width="8.10" height="8.52" fill="#0e4a63"/><rect x="419.33" y="522.58" width="8.10" height="8.52" fill="#0b9bc4"/><rect x="427.13" y="522.58" width="8.10" height="8.52" fill="#0e4a63"/><rect x="434.94" y="522.58" width="8.10" height="8.52" fill="#0e4a63"/><rect x="442.74" y="522.58" width="8.10" height="8.52" fill="#0e546f"/><rect x="450.54" y="522.58" width="8.10" height="8.52" fill="#0c3549"/><rect x="458.35" y="522.58" width="8.10" height="8.52" fill="#0e7394"/><rect x="466.15" y="522.58" width="8.10" height="8.52" fill="#0e4a63"/><rect x="473.95" y="522.58" width="8.10" height="8.52" fill="#00ceff"/><rect x="481.75" y="522.58" width="8.10" height="8.52" fill="#0d4056"/><rect x="489.56" y="522.58" width="8.10" height="8.52" fill="#0e4a63"/><rect x="497.36" y="522.58" width="8.10" height="8.52" fill="#0a2b3b"/><rect x="505.16" y="522.58" width="8.10" height="8.52" fill="#0d4056"/><rect x="512.97" y="522.58" width="8.10" height="8.52" fill="#0c3549"/><rect x="520.77" y="522.58" width="8.10" height="8.52" fill="#0f6988"/><rect x="528.57" y="522.58" width="8.10" height="8.52" fill="#0d4056"/><rect x="536.38" y="522.58" width="8.10" height="8.52" fill="#0c3549"/><rect x="544.18" y="522.58" width="8.10" height="8.52" fill="#0e7da1"/><rect x="551.98" y="522.58" width="8.10" height="8.52" fill="#0a2b3b"/><rect x="559.79" y="522.58" width="8.10" height="8.52" fill="#0d4056"/><rect x="567.59" y="522.58" width="8.10" height="8.52" fill="#0c3549"/><rect x="575.39" y="522.58" width="8.10" height="8.52" fill="#0a2b3b"/><rect x="583.20" y="522.58" width="8.10" height="8.52" fill="#0e546f"/></g>
<rect x="349.1" y="430.3" width="8.1" height="6.6" fill="#f57af2"/>
<rect x="356.9" y="430.3" width="8.1" height="6.6" fill="#f57af2"/>
<rect x="364.71" y="430.3" width="8.1" height="6.6" fill="#f57af2"/>
<rect x="372.51" y="430.3" width="8.1" height="6.6" fill="#7b1ef2"/>
<rect x="380.31" y="430.3" width="8.1" height="6.6" fill="#f57af2"/>
<rect x="388.12" y="430.3" width="8.1" height="6.6" fill="#f57af2"/>
<rect x="395.92" y="430.3" width="8.1" height="6.6" fill="#f57af2"/>
<rect x="403.72" y="430.3" width="8.1" height="6.6" fill="#f57af2"/>
<rect x="411.53" y="430.3" width="8.1" height="6.6" fill="#f57af2"/>
<rect x="419.33" y="430.3" width="8.1" height="6.6" fill="#f57af2"/>
<rect x="427.13" y="430.3" width="8.1" height="6.6" fill="#d61ef0"/>
<rect x="434.94" y="430.3" width="8.1" height="6.6" fill="#f57af2"/>
<rect x="442.74" y="430.3" width="8.1" height="6.6" fill="#7b1ef2"/>
<rect x="450.54" y="430.3" width="8.1" height="6.6" fill="#d61ef0"/>
<rect x="458.35" y="430.3" width="8.1" height="6.6" fill="#f57af2"/>
<rect x="466.15" y="430.3" width="8.1" height="6.6" fill="#7b1ef2"/>
<rect x="473.95" y="430.3" width="8.1" height="6.6" fill="#f57af2"/>
<rect x="481.75" y="430.3" width="8.1" height="6.6" fill="#f57af2"/>
<rect x="489.56" y="430.3" width="8.1" height="6.6" fill="#f57af2"/>
<rect x="497.36" y="430.3" width="8.1" height="6.6" fill="#7b1ef2"/>
<rect x="505.16" y="430.3" width="8.1" height="6.6" fill="#7b1ef2"/>
<rect x="512.97" y="430.3" width="8.1" height="6.6" fill="#f57af2"/>
<rect x="520.77" y="430.3" width="8.1" height="6.6" fill="#7b1ef2"/>
<rect x="528.57" y="430.3" width="8.1" height="6.6" fill="#7b1ef2"/>
<rect x="536.38" y="430.3" width="8.1" height="6.6" fill="#7b1ef2"/>
<rect x="544.18" y="430.3" width="8.1" height="6.6" fill="#f57af2"/>
<rect x="551.98" y="430.3" width="8.1" height="6.6" fill="#f57af2"/>
<rect x="559.79" y="430.3" width="8.1" height="6.6" fill="#7b1ef2"/>
<rect x="567.59" y="430.3" width="8.1" height="6.6" fill="#f57af2"/>
<rect x="575.39" y="430.3" width="8.1" height="6.6" fill="#f57af2"/>
<rect x="583.2" y="430.3" width="8.1" height="6.6" fill="#7b1ef2"/>
<rect x="349.1" y="438.3" width="8.1" height="6.6" fill="#f21010"/>
<rect x="356.9" y="438.3" width="8.1" height="6.6" fill="#f21010"/>
<rect x="364.71" y="438.3" width="8.1" height="6.6" fill="#f21010"/>
<rect x="372.51" y="438.3" width="8.1" height="6.6" fill="#f21010"/>
<rect x="380.31" y="438.3" width="8.1" height="6.6" fill="#f21010"/>
<rect x="388.12" y="438.3" width="8.1" height="6.6" fill="#f21010"/>
<rect x="395.92" y="438.3" width="8.1" height="6.6" fill="#2ea032"/>
<rect x="403.72" y="438.3" width="8.1" height="6.6" fill="#2ea032"/>
<rect x="411.53" y="438.3" width="8.1" height="6.6" fill="#2ea032"/>
<rect x="419.33" y="438.3" width="8.1" height="6.6" fill="#2ea032"/>
<rect x="427.13" y="438.3" width="8.1" height="6.6" fill="#2ea032"/>
<rect x="434.94" y="438.3" width="8.1" height="6.6" fill="#2ea032"/>
<rect x="442.74" y="438.3" width="8.1" height="6.6" fill="#2ea032"/>
<rect x="450.54" y="438.3" width="8.1" height="6.6" fill="#2ea032"/>
<rect x="458.35" y="438.3" width="8.1" height="6.6" fill="#2ea032"/>
<rect x="466.15" y="438.3" width="8.1" height="6.6" fill="#2ea032"/>
<rect x="473.95" y="438.3" width="8.1" height="6.6" fill="#2ea032"/>
<rect x="481.75" y="438.3" width="8.1" height="6.6" fill="#2ea032"/>
<rect x="489.56" y="438.3" width="8.1" height="6.6" fill="#2ea032"/>
<rect x="497.36" y="438.3" width="8.1" height="6.6" fill="#2ea032"/>
<rect x="505.16" y="438.3" width="8.1" height="6.6" fill="#2ea032"/>
<rect x="512.97" y="438.3" width="8.1" height="6.6" fill="#2ea032"/>
<rect x="520.77" y="438.3" width="8.1" height="6.6" fill="#2ea032"/>
<rect x="528.57" y="438.3" width="8.1" height="6.6" fill="#2ea032"/>
<rect x="536.38" y="438.3" width="8.1" height="6.6" fill="#2ea032"/>
<rect x="544.18" y="438.3" width="8.1" height="6.6" fill="#2ea032"/>
<rect x="551.98" y="438.3" width="8.1" height="6.6" fill="#2ea032"/>
<rect x="559.79" y="438.3" width="8.1" height="6.6" fill="#2ea032"/>
<rect x="567.59" y="438.3" width="8.1" height="6.6" fill="#2ea032"/>
<rect x="575.39" y="438.3" width="8.1" height="6.6" fill="#2ea032"/>
<rect x="583.2" y="438.3" width="8.1" height="6.6" fill="#2ea032"/>
<text x="347" y="435.95" font-size="6.7" text-anchor="end" fill="#000">HPV Type</text>
<text x="347" y="443.95" font-size="6.7" text-anchor="end" fill="#000">Response</text>
<text transform="translate(355.20,428) rotate(-90)" font-size="6.3" fill="#000" stroke="#000" stroke-width="0.18" textLength="30.6" lengthAdjust="spacingAndGlyphs">9021-0001</text>
<text transform="translate(363.00,428) rotate(-90)" font-size="6.3" fill="#000" stroke="#000" stroke-width="0.18" textLength="30.6" lengthAdjust="spacingAndGlyphs">9023-0002</text>
<text transform="translate(370.81,428) rotate(-90)" font-size="6.3" fill="#000" stroke="#000" stroke-width="0.18" textLength="30.6" lengthAdjust="spacingAndGlyphs">9023-0003</text>
<text transform="translate(378.61,428) rotate(-90)" font-size="6.3" fill="#000" stroke="#000" stroke-width="0.18" textLength="30.6" lengthAdjust="spacingAndGlyphs">9024-0002</text>
<text transform="translate(386.41,428) rotate(-90)" font-size="6.3" fill="#000" stroke="#000" stroke-width="0.18" textLength="30.6" lengthAdjust="spacingAndGlyphs">9025-0004</text>
<text transform="translate(394.22,428) rotate(-90)" font-size="6.3" fill="#000" stroke="#000" stroke-width="0.18" textLength="30.6" lengthAdjust="spacingAndGlyphs">9026-0002</text>
<text transform="translate(402.02,428) rotate(-90)" font-size="6.3" fill="#000" stroke="#000" stroke-width="0.18" textLength="30.6" lengthAdjust="spacingAndGlyphs">9021-0002</text>
<text transform="translate(409.82,428) rotate(-90)" font-size="6.3" fill="#000" stroke="#000" stroke-width="0.18" textLength="30.6" lengthAdjust="spacingAndGlyphs">9022-0002</text>
<text transform="translate(417.63,428) rotate(-90)" font-size="6.3" fill="#000" stroke="#000" stroke-width="0.18" textLength="30.6" lengthAdjust="spacingAndGlyphs">9022-0003</text>
<text transform="translate(425.43,428) rotate(-90)" font-size="6.3" fill="#000" stroke="#000" stroke-width="0.18" textLength="30.6" lengthAdjust="spacingAndGlyphs">9022-0005</text>
<text transform="translate(433.23,428) rotate(-90)" font-size="6.3" fill="#000" stroke="#000" stroke-width="0.18" textLength="30.6" lengthAdjust="spacingAndGlyphs">9023-0001</text>
<text transform="translate(441.04,428) rotate(-90)" font-size="6.3" fill="#000" stroke="#000" stroke-width="0.18" textLength="30.6" lengthAdjust="spacingAndGlyphs">9024-0001</text>
<text transform="translate(448.84,428) rotate(-90)" font-size="6.3" fill="#000" stroke="#000" stroke-width="0.18" textLength="30.6" lengthAdjust="spacingAndGlyphs">9024-0003</text>
<text transform="translate(456.64,428) rotate(-90)" font-size="6.3" fill="#000" stroke="#000" stroke-width="0.18" textLength="30.6" lengthAdjust="spacingAndGlyphs">9024-0005</text>
<text transform="translate(464.45,428) rotate(-90)" font-size="6.3" fill="#000" stroke="#000" stroke-width="0.18" textLength="30.6" lengthAdjust="spacingAndGlyphs">9025-0001</text>
<text transform="translate(472.25,428) rotate(-90)" font-size="6.3" fill="#000" stroke="#000" stroke-width="0.18" textLength="30.6" lengthAdjust="spacingAndGlyphs">9025-0002</text>
<text transform="translate(480.05,428) rotate(-90)" font-size="6.3" fill="#000" stroke="#000" stroke-width="0.18" textLength="30.6" lengthAdjust="spacingAndGlyphs">9025-0003</text>
<text transform="translate(487.86,428) rotate(-90)" font-size="6.3" fill="#000" stroke="#000" stroke-width="0.18" textLength="30.6" lengthAdjust="spacingAndGlyphs">9026-0001</text>
<text transform="translate(495.66,428) rotate(-90)" font-size="6.3" fill="#000" stroke="#000" stroke-width="0.18" textLength="30.6" lengthAdjust="spacingAndGlyphs">9026-0003</text>
<text transform="translate(503.46,428) rotate(-90)" font-size="6.3" fill="#000" stroke="#000" stroke-width="0.18" textLength="30.6" lengthAdjust="spacingAndGlyphs">9026-0004</text>
<text transform="translate(511.27,428) rotate(-90)" font-size="6.3" fill="#000" stroke="#000" stroke-width="0.18" textLength="30.6" lengthAdjust="spacingAndGlyphs">9026-0005</text>
<text transform="translate(519.07,428) rotate(-90)" font-size="6.3" fill="#000" stroke="#000" stroke-width="0.18" textLength="30.6" lengthAdjust="spacingAndGlyphs">9026-0006</text>
<text transform="translate(526.87,428) rotate(-90)" font-size="6.3" fill="#000" stroke="#000" stroke-width="0.18" textLength="30.6" lengthAdjust="spacingAndGlyphs">9032-0001</text>
<text transform="translate(534.68,428) rotate(-90)" font-size="6.3" fill="#000" stroke="#000" stroke-width="0.18" textLength="30.6" lengthAdjust="spacingAndGlyphs">9032-0002</text>
<text transform="translate(542.48,428) rotate(-90)" font-size="6.3" fill="#000" stroke="#000" stroke-width="0.18" textLength="30.6" lengthAdjust="spacingAndGlyphs">9032-0003</text>
<text transform="translate(550.28,428) rotate(-90)" font-size="6.3" fill="#000" stroke="#000" stroke-width="0.18" textLength="30.6" lengthAdjust="spacingAndGlyphs">9032-0004</text>
<text transform="translate(558.09,428) rotate(-90)" font-size="6.3" fill="#000" stroke="#000" stroke-width="0.18" textLength="30.6" lengthAdjust="spacingAndGlyphs">9033-0001</text>
<text transform="translate(565.89,428) rotate(-90)" font-size="6.3" fill="#000" stroke="#000" stroke-width="0.18" textLength="30.6" lengthAdjust="spacingAndGlyphs">9033-0002</text>
<text transform="translate(573.69,428) rotate(-90)" font-size="6.3" fill="#000" stroke="#000" stroke-width="0.18" textLength="30.6" lengthAdjust="spacingAndGlyphs">9033-0003</text>
<text transform="translate(581.50,428) rotate(-90)" font-size="6.3" fill="#000" stroke="#000" stroke-width="0.18" textLength="30.6" lengthAdjust="spacingAndGlyphs">9033-0004</text>
<text transform="translate(589.30,428) rotate(-90)" font-size="6.3" fill="#000" stroke="#000" stroke-width="0.18" textLength="30.6" lengthAdjust="spacingAndGlyphs">9033-0005</text>
<rect x="596.2" y="448.6" width="7.6" height="32.6" fill="#ff6a0a"/>
<rect x="596.2" y="481.2" width="7.6" height="24.8" fill="#ffcc08"/>
<rect x="596.2" y="506" width="7.6" height="24.8" fill="#c46c42"/>
<text transform="translate(603.1,445.5) rotate(-90)" font-size="6.6" fill="#111">Activity</text>
<text x="607.6" y="447.81" font-size="6.6" font-weight="bold" text-anchor="start" fill="#111">CD8+ T cells</text>
<text x="607.6" y="455.96" font-size="6.7" text-anchor="start" fill="#111">CD38+</text>
<text x="607.6" y="464.18" font-size="6.7" text-anchor="start" fill="#111">CD69+</text>
<text x="607.6" y="472.39" font-size="6.7" text-anchor="start" fill="#111">CD137+</text>
<text x="607.6" y="480.62" font-size="6.7" text-anchor="start" fill="#111">Ki67+</text>
<text x="607.6" y="488.83" font-size="6.7" text-anchor="start" fill="#111">GrzA+Prf+</text>
<text x="607.6" y="497.06" font-size="6.7" text-anchor="start" fill="#111">GrzB+Prf+</text>
<text x="607.6" y="505.27" font-size="6.7" text-anchor="start" fill="#111">Gnly+Prf+</text>
<text x="607.6" y="513.5" font-size="6.7" text-anchor="start" fill="#111">PD1+</text>
<text x="607.6" y="521.72" font-size="6.7" text-anchor="start" fill="#111">LAG3+</text>
<text x="607.6" y="529.93" font-size="6.7" text-anchor="start" fill="#111">TIM3+</text>
<text x="350" y="541.31" font-size="6.6" text-anchor="start" fill="#111">Clinical Response</text>
<rect x="349.2" y="543.8" width="7.1" height="6.5" fill="#f21010"/>
<text x="361" y="550.51" font-size="6.6" text-anchor="start" fill="#111">Non-Responder</text>
<rect x="349.2" y="554.3" width="7.1" height="6.5" fill="#2ea032"/>
<text x="361" y="560.51" font-size="6.6" text-anchor="start" fill="#111">Responder</text>
<text x="459.5" y="541.31" font-size="6.6" text-anchor="start" fill="#111">Infecting HPV Type</text>
<rect x="460.3" y="543.8" width="7.1" height="6.5" fill="#f57af2"/>
<text x="471.4" y="550.51" font-size="6.6" text-anchor="start" fill="#111">HPV6</text>
<rect x="460.3" y="554.3" width="7.1" height="6.5" fill="#7b1ef2"/>
<text x="471.4" y="560.71" font-size="6.6" text-anchor="start" fill="#111">HPV11</text>
<rect x="460.3" y="564.3" width="7.1" height="6.5" fill="#d61ef0"/>
<text x="471.4" y="570.31" font-size="6.6" text-anchor="start" fill="#111">HPV6/HPV11</text>
<text x="533" y="541.11" font-size="6.6" text-anchor="start" fill="#111">Immune Activity</text>
<rect x="533.2" y="544.7" width="7.3" height="6.3" fill="#ff6a0a"/>
<text x="545.4" y="550.61" font-size="6.6" text-anchor="start" fill="#111">Activation</text>
<rect x="533.2" y="553.7" width="7.3" height="6.3" fill="#ffcc08"/>
<text x="545.4" y="559.21" font-size="6.6" text-anchor="start" fill="#111">Lytic</text>
<rect x="533.2" y="562.3" width="7.3" height="6.3" fill="#c46c42"/>
<text x="545.4" y="568.11" font-size="6.6" text-anchor="start" fill="#111">Inhibition/Antigen</text>
<text x="545.4" y="577.01" font-size="6.6" text-anchor="start" fill="#111">Experience</text>
<text x="349.2" y="579.41" font-size="6.6" text-anchor="start" fill="#111">Peak Response to INO-3107, &#916; from Screening (%)</text>
<rect x="349.2" y="582.4" width="111.7" height="7.3" fill="url(#hmleg)"/>
<text x="341.3" y="599.04" font-size="6.4" text-anchor="start" fill="#111">row min</text>
<text x="451.7" y="599.04" font-size="6.4" text-anchor="start" fill="#111">row max</text>
<line x1="163.8" y1="608.5" x2="163.8" y2="744.5" stroke="#111" stroke-width="1.3"/>
<line x1="160.3" y1="609.24" x2="163.8" y2="609.24" stroke="#111" stroke-width="1.2"/>
<text x="159.3" y="611.48" font-size="6.4" font-weight="bold" text-anchor="end" fill="#111">100</text>
<line x1="160.3" y1="636.17" x2="163.8" y2="636.17" stroke="#111" stroke-width="1.2"/>
<text x="159.3" y="638.41" font-size="6.4" font-weight="bold" text-anchor="end" fill="#111">10</text>
<line x1="160.3" y1="663.1" x2="163.8" y2="663.1" stroke="#111" stroke-width="1.2"/>
<text x="159.3" y="665.34" font-size="6.4" font-weight="bold" text-anchor="end" fill="#111">1</text>
<line x1="160.3" y1="690.03" x2="163.8" y2="690.03" stroke="#111" stroke-width="1.2"/>
<text x="159.3" y="692.27" font-size="6.4" font-weight="bold" text-anchor="end" fill="#111">0.1</text>
<line x1="160.3" y1="716.96" x2="163.8" y2="716.96" stroke="#111" stroke-width="1.2"/>
<text x="159.3" y="719.2" font-size="6.4" font-weight="bold" text-anchor="end" fill="#111">0.01</text>
<line x1="160.3" y1="743.89" x2="163.8" y2="743.89" stroke="#111" stroke-width="1.2"/>
<text x="159.3" y="746.13" font-size="6.4" font-weight="bold" text-anchor="end" fill="#111">0.001</text>
<path d="M161.8 735.78H163.8M161.8 731.04H163.8M161.8 727.68H163.8M161.8 725.07H163.8M161.8 722.93H163.8M161.8 721.13H163.8M161.8 719.57H163.8M161.8 718.19H163.8M161.8 708.85H163.8M161.8 704.11H163.8M161.8 700.75H163.8M161.8 698.14H163.8M161.8 696.00H163.8M161.8 694.20H163.8M161.8 692.64H163.8M161.8 691.26H163.8M161.8 681.92H163.8M161.8 677.18H163.8M161.8 673.82H163.8M161.8 671.21H163.8M161.8 669.07H163.8M161.8 667.27H163.8M161.8 665.71H163.8M161.8 664.33H163.8M161.8 654.99H163.8M161.8 650.25H163.8M161.8 646.89H163.8M161.8 644.28H163.8M161.8 642.14H163.8M161.8 640.34H163.8M161.8 638.78H163.8M161.8 637.40H163.8M161.8 628.06H163.8M161.8 623.32H163.8M161.8 619.96H163.8M161.8 617.35H163.8M161.8 615.21H163.8M161.8 613.41H163.8M161.8 611.85H163.8M161.8 610.47H163.8" stroke="#111" stroke-width="0.7"/>
<line x1="163.2" y1="743.9" x2="466.7" y2="743.9" stroke="#111" stroke-width="1.3"/>
<line x1="214.9" y1="608.8" x2="214.9" y2="743.9" stroke="#000" stroke-width="0.9" stroke-dasharray="2,1.6"/>
<line x1="264.6" y1="608.8" x2="264.6" y2="743.9" stroke="#000" stroke-width="0.9" stroke-dasharray="2,1.6"/>
<line x1="315.4" y1="608.8" x2="315.4" y2="743.9" stroke="#000" stroke-width="0.9" stroke-dasharray="2,1.6"/>
<line x1="365.5" y1="608.8" x2="365.5" y2="743.9" stroke="#000" stroke-width="0.9" stroke-dasharray="2,1.6"/>
<line x1="416.3" y1="608.8" x2="416.3" y2="743.9" stroke="#000" stroke-width="0.9" stroke-dasharray="2,1.6"/>
<line x1="188.5" y1="743.9" x2="188.5" y2="746.7" stroke="#111" stroke-width="1"/>
<line x1="239.9" y1="743.9" x2="239.9" y2="746.7" stroke="#111" stroke-width="1"/>
<line x1="290.2" y1="743.9" x2="290.2" y2="746.7" stroke="#111" stroke-width="1"/>
<line x1="340.4" y1="743.9" x2="340.4" y2="746.7" stroke="#111" stroke-width="1"/>
<line x1="391.2" y1="743.9" x2="391.2" y2="746.7" stroke="#111" stroke-width="1"/>
<line x1="441.5" y1="743.9" x2="441.5" y2="746.7" stroke="#111" stroke-width="1"/>
<g fill="none" stroke="#111" stroke-width="1.0"><path d="M169.5 741.5L171.9 743.9L169.5 746.3L167.1 743.9z"/><path d="M170.8 741.5L173.2 743.9L170.8 746.3L168.4 743.9z"/><path d="M172.1 741.5L174.5 743.9L172.1 746.3L169.7 743.9z"/><path d="M173.4 741.5L175.8 743.9L173.4 746.3L171 743.9z"/><path d="M174.7 741.5L177.1 743.9L174.7 746.3L172.3 743.9z"/><path d="M176 741.5L178.4 743.9L176 746.3L173.6 743.9z"/><path d="M177.3 741.5L179.7 743.9L177.3 746.3L174.9 743.9z"/><path d="M178.6 741.5L181 743.9L178.6 746.3L176.2 743.9z"/><path d="M179.9 741.5L182.3 743.9L179.9 746.3L177.5 743.9z"/><path d="M181.2 741.5L183.6 743.9L181.2 746.3L178.8 743.9z"/><path d="M182.5 741.5L184.9 743.9L182.5 746.3L180.1 743.9z"/><path d="M183.8 741.5L186.2 743.9L183.8 746.3L181.4 743.9z"/><path d="M185.1 741.5L187.5 743.9L185.1 746.3L182.7 743.9z"/><path d="M186.4 741.5L188.8 743.9L186.4 746.3L184 743.9z"/><path d="M187.7 741.5L190.1 743.9L187.7 746.3L185.3 743.9z"/><path d="M189 741.5L191.4 743.9L189 746.3L186.6 743.9z"/><path d="M190.3 741.5L192.7 743.9L190.3 746.3L187.9 743.9z"/><path d="M191.6 741.5L194 743.9L191.6 746.3L189.2 743.9z"/><path d="M192.9 741.5L195.3 743.9L192.9 746.3L190.5 743.9z"/><path d="M194.2 741.5L196.6 743.9L194.2 746.3L191.8 743.9z"/><path d="M195.5 741.5L197.9 743.9L195.5 746.3L193.1 743.9z"/><path d="M196.8 741.5L199.2 743.9L196.8 746.3L194.4 743.9z"/><path d="M198.1 741.5L200.5 743.9L198.1 746.3L195.7 743.9z"/><path d="M199.4 741.5L201.8 743.9L199.4 746.3L197 743.9z"/><path d="M200.7 741.5L203.1 743.9L200.7 746.3L198.3 743.9z"/><path d="M202 741.5L204.4 743.9L202 746.3L199.6 743.9z"/><path d="M203.3 741.5L205.7 743.9L203.3 746.3L200.9 743.9z"/><path d="M204.6 741.5L207 743.9L204.6 746.3L202.2 743.9z"/><path d="M205.9 741.5L208.3 743.9L205.9 746.3L203.5 743.9z"/><path d="M207.2 741.5L209.6 743.9L207.2 746.3L204.8 743.9z"/><path d="M208.5 741.5L210.9 743.9L208.5 746.3L206.1 743.9z"/></g>
<g fill="#fff" stroke="#111" stroke-width="0.95"><path d="M225.2 741.5L227.6 743.9L225.2 746.3L222.8 743.9z"/><path d="M235 741.5L237.4 743.9L235 746.3L232.6 743.9z"/><path d="M244.9 741.5L247.3 743.9L244.9 746.3L242.5 743.9z"/><path d="M254.1 741.5L256.5 743.9L254.1 746.3L251.7 743.9z"/><path d="M220.4 663.9L222.8 666.3L220.4 668.7L218 666.3z"/><path d="M220.4 685.2L222.8 687.6L220.4 690L218 687.6z"/><path d="M230 661.5L232.4 663.9L230 666.3L227.6 663.9z"/><path d="M230 666.6L232.4 669L230 671.4L227.6 669z"/><path d="M230 674.9L232.4 677.3L230 679.7L227.6 677.3z"/><path d="M230 682.6L232.4 685L230 687.4L227.6 685z"/><path d="M230 687.4L232.4 689.8L230 692.2L227.6 689.8z"/><path d="M239.9 625L242.3 627.4L239.9 629.8L237.5 627.4z"/><path d="M239.9 632.6L242.3 635L239.9 637.4L237.5 635z"/><path d="M239.9 661.5L242.3 663.9L239.9 666.3L237.5 663.9z"/><path d="M239.9 670.5L242.3 672.9L239.9 675.3L237.5 672.9z"/><path d="M239.9 676L242.3 678.4L239.9 680.8L237.5 678.4z"/><path d="M239.9 686.9L242.3 689.3L239.9 691.7L237.5 689.3z"/><path d="M239.9 695.5L242.3 697.9L239.9 700.3L237.5 697.9z"/><path d="M249.5 661.1L251.9 663.5L249.5 665.9L247.1 663.5z"/><path d="M249.5 669.2L251.9 671.6L249.5 674L247.1 671.6z"/><path d="M249.5 674.2L251.9 676.6L249.5 679L247.1 676.6z"/><path d="M249.5 688.5L251.9 690.9L249.5 693.3L247.1 690.9z"/><path d="M259.1 665.5L261.5 667.9L259.1 670.3L256.7 667.9z"/><path d="M259.1 686.3L261.5 688.7L259.1 691.1L256.7 688.7z"/><path d="M271.2 658.5L273.6 660.9L271.2 663.3L268.8 660.9z"/><path d="M271.2 668.8L273.6 671.2L271.2 673.6L268.8 671.2z"/><path d="M280.6 662.2L283 664.6L280.6 667L278.2 664.6z"/><path d="M280.6 667.6L283 670L280.6 672.4L278.2 670z"/><path d="M280.6 673.1L283 675.5L280.6 677.9L278.2 675.5z"/><path d="M280.6 679.1L283 681.5L280.6 683.9L278.2 681.5z"/><path d="M280.6 685.2L283 687.6L280.6 690L278.2 687.6z"/><path d="M280.6 693.3L283 695.7L280.6 698.1L278.2 695.7z"/><path d="M290.2 622.8L292.6 625.2L290.2 627.6L287.8 625.2z"/><path d="M290.2 645.3L292.6 647.7L290.2 650.1L287.8 647.7z"/><path d="M290.2 652.8L292.6 655.2L290.2 657.6L287.8 655.2z"/><path d="M290.2 661.1L292.6 663.5L290.2 665.9L287.8 663.5z"/><path d="M290.2 671.4L292.6 673.8L290.2 676.2L287.8 673.8z"/><path d="M290.2 678L292.6 680.4L290.2 682.8L287.8 680.4z"/><path d="M290.2 682.6L292.6 685L290.2 687.4L287.8 685z"/><path d="M290.2 688.5L292.6 690.9L290.2 693.3L287.8 690.9z"/><path d="M290.2 695.5L292.6 697.9L290.2 700.3L287.8 697.9z"/><path d="M290.2 741.5L292.6 743.9L290.2 746.3L287.8 743.9z"/><path d="M299.8 662.9L302.2 665.3L299.8 667.7L297.4 665.3z"/><path d="M299.8 670.5L302.2 672.9L299.8 675.3L297.4 672.9z"/><path d="M299.8 684.5L302.2 686.9L299.8 689.3L297.4 686.9z"/><path d="M299.8 695.5L302.2 697.9L299.8 700.3L297.4 697.9z"/><path d="M309.5 657.2L311.9 659.6L309.5 662L307.1 659.6z"/><path d="M309.5 668.1L311.9 670.5L309.5 672.9L307.1 670.5z"/><path d="M321.3 671.6L323.7 674L321.3 676.4L318.9 674z"/><path d="M321.3 688.5L323.7 690.9L321.3 693.3L318.9 690.9z"/><path d="M330.9 661.1L333.3 663.5L330.9 665.9L328.5 663.5z"/><path d="M330.9 671.4L333.3 673.8L330.9 676.2L328.5 673.8z"/><path d="M330.9 679.1L333.3 681.5L330.9 683.9L328.5 681.5z"/><path d="M330.9 686.9L333.3 689.3L330.9 691.7L328.5 689.3z"/><path d="M330.9 695.5L333.3 697.9L330.9 700.3L328.5 697.9z"/><path d="M340.4 628.3L342.8 630.7L340.4 633.1L338 630.7z"/><path d="M340.4 643.1L342.8 645.5L340.4 647.9L338 645.5z"/><path d="M340.4 651.9L342.8 654.3L340.4 656.7L338 654.3z"/><path d="M340.4 657.2L342.8 659.6L340.4 662L338 659.6z"/><path d="M340.4 662.6L342.8 665L340.4 667.4L338 665z"/><path d="M340.4 671L342.8 673.4L340.4 675.8L338 673.4z"/><path d="M340.4 678L342.8 680.4L340.4 682.8L338 680.4z"/><path d="M340.4 693.3L342.8 695.7L340.4 698.1L338 695.7z"/><path d="M350.2 624.5L352.6 626.9L350.2 629.3L347.8 626.9z"/><path d="M350.2 658.3L352.6 660.7L350.2 663.1L347.8 660.7z"/><path d="M350.2 675.3L352.6 677.7L350.2 680.1L347.8 677.7z"/><path d="M350.2 690L352.6 692.4L350.2 694.8L347.8 692.4z"/><path d="M350.2 698.3L352.6 700.7L350.2 703.1L347.8 700.7z"/><path d="M359.6 671.6L362 674L359.6 676.4L357.2 674z"/><path d="M359.6 688.5L362 690.9L359.6 693.3L357.2 690.9z"/><path d="M335.8 741.5L338.2 743.9L335.8 746.3L333.4 743.9z"/><path d="M345.6 741.5L348 743.9L345.6 746.3L343.2 743.9z"/><path d="M372 648L374.4 650.4L372 652.8L369.6 650.4z"/><path d="M372 655.6L374.4 658L372 660.4L369.6 658z"/><path d="M381.5 653.4L383.9 655.8L381.5 658.2L379.1 655.8z"/><path d="M381.5 658.3L383.9 660.7L381.5 663.1L379.1 660.7z"/><path d="M381.5 667.2L383.9 669.6L381.5 672L379.1 669.6z"/><path d="M381.5 676L383.9 678.4L381.5 680.8L379.1 678.4z"/><path d="M381.5 688L383.9 690.4L381.5 692.8L379.1 690.4z"/><path d="M391.2 634.8L393.6 637.2L391.2 639.6L388.8 637.2z"/><path d="M391.2 650.2L393.6 652.6L391.2 655L388.8 652.6z"/><path d="M391.2 657.8L393.6 660.2L391.2 662.6L388.8 660.2z"/><path d="M391.2 673.6L393.6 676L391.2 678.4L388.8 676z"/><path d="M391.2 679.1L393.6 681.5L391.2 683.9L388.8 681.5z"/><path d="M391.2 691.8L393.6 694.2L391.2 696.6L388.8 694.2z"/><path d="M400.8 631.1L403.2 633.5L400.8 635.9L398.4 633.5z"/><path d="M400.8 648L403.2 650.4L400.8 652.8L398.4 650.4z"/><path d="M400.8 654.1L403.2 656.5L400.8 658.9L398.4 656.5z"/><path d="M400.8 670.5L403.2 672.9L400.8 675.3L398.4 672.9z"/><path d="M400.8 686.3L403.2 688.7L400.8 691.1L398.4 688.7z"/><path d="M410.5 646.9L412.9 649.3L410.5 651.7L408.1 649.3z"/><path d="M410.5 654.1L412.9 656.5L410.5 658.9L408.1 656.5z"/><path d="M381.5 741.5L383.9 743.9L381.5 746.3L379.1 743.9z"/><path d="M391.2 741.5L393.6 743.9L391.2 746.3L388.8 743.9z"/><path d="M400.8 741.5L403.2 743.9L400.8 746.3L398.4 743.9z"/><path d="M428.6 665.5L431 667.9L428.6 670.3L426.2 667.9z"/><path d="M428.6 679.1L431 681.5L428.6 683.9L426.2 681.5z"/><path d="M435 657.8L437.4 660.2L435 662.6L432.6 660.2z"/><path d="M435 667.2L437.4 669.6L435 672L432.6 669.6z"/><path d="M435 677.5L437.4 679.9L435 682.3L432.6 679.9z"/><path d="M435 684.5L437.4 686.9L435 689.3L432.6 686.9z"/><path d="M441.5 625L443.9 627.4L441.5 629.8L439.1 627.4z"/><path d="M441.5 642L443.9 644.4L441.5 646.8L439.1 644.4z"/><path d="M441.5 659.6L443.9 662L441.5 664.4L439.1 662z"/><path d="M441.5 666.6L443.9 669L441.5 671.4L439.1 669z"/><path d="M441.5 680.4L443.9 682.8L441.5 685.2L439.1 682.8z"/><path d="M441.5 687.4L443.9 689.8L441.5 692.2L439.1 689.8z"/><path d="M438.3 634.8L440.7 637.2L438.3 639.6L435.9 637.2z"/><path d="M444.8 633.3L447.2 635.7L444.8 638.1L442.4 635.7z"/><path d="M448.2 660L450.6 662.4L448.2 664.8L445.8 662.4z"/><path d="M448.2 667.2L450.6 669.6L448.2 672L445.8 669.6z"/><path d="M448.2 678L450.6 680.4L448.2 682.8L445.8 680.4z"/><path d="M454.7 674.9L457.1 677.3L454.7 679.7L452.3 677.3z"/><path d="M421.8 741.5L424.2 743.9L421.8 746.3L419.4 743.9z"/><path d="M428.4 741.5L430.8 743.9L428.4 746.3L426 743.9z"/><path d="M435 741.5L437.4 743.9L435 746.3L432.6 743.9z"/><path d="M441.5 741.5L443.9 743.9L441.5 746.3L439.1 743.9z"/><path d="M448.1 741.5L450.5 743.9L448.1 746.3L445.7 743.9z"/><path d="M454.7 741.5L457.1 743.9L454.7 746.3L452.3 743.9z"/><path d="M461.2 741.5L463.6 743.9L461.2 746.3L458.8 743.9z"/></g>
<polyline points="190.7,743.9 239.9,684.3 290.2,676 299.6,676 340.4,677.7 365.5,676.2 391.2,673.8 441.5,687.4" fill="none" stroke="#111" stroke-width="1"/>
<text x="188.5" y="756.21" font-size="6.6" font-weight="bold" text-anchor="middle" fill="#111">Screening</text>
<text x="240" y="756.21" font-size="6.6" font-weight="bold" text-anchor="middle" fill="#111">Week 6</text>
<text x="290.3" y="756.21" font-size="6.6" font-weight="bold" text-anchor="middle" fill="#111">Week 9</text>
<text x="343" y="756.21" font-size="6.6" font-weight="bold" text-anchor="middle" fill="#111">Week 11</text>
<text x="394.9" y="756.21" font-size="6.6" font-weight="bold" text-anchor="middle" fill="#111">Week 26</text>
<text x="442" y="756.21" font-size="6.6" font-weight="bold" text-anchor="middle" fill="#111">Week 52</text>
<text transform="translate(103.6,679) rotate(-90)" x="0" y="3.22" font-size="9.2" font-weight="bold" text-anchor="middle" fill="#111" textLength="96.5" lengthAdjust="spacingAndGlyphs">% of Expanded TCR<tspan font-weight="normal">&#946;</tspan></text>
<text transform="translate(113.9,680.4) rotate(-90)" x="0" y="3.22" font-size="9.2" font-weight="bold" text-anchor="middle" fill="#111" textLength="121" lengthAdjust="spacingAndGlyphs">Sequences in PBMC Above</text>
<text transform="translate(123.7,680.8) rotate(-90)" x="0" y="3.22" font-size="9.2" font-weight="bold" text-anchor="middle" fill="#111" textLength="91.8" lengthAdjust="spacingAndGlyphs">All Screening T-cells</text>
<line x1="569" y1="609.5" x2="569" y2="628.3" stroke="#111" stroke-width="1.5"/>
<line x1="562.2" y1="610.2" x2="569" y2="610.2" stroke="#111" stroke-width="1.4"/>
<text x="558" y="613.21" font-size="8.6" font-weight="bold" text-anchor="end" fill="#111">120</text>
<line x1="562.2" y1="618.8" x2="569" y2="618.8" stroke="#111" stroke-width="1.4"/>
<text x="558" y="621.81" font-size="8.6" font-weight="bold" text-anchor="end" fill="#111">90</text>
<text x="558" y="631.51" font-size="8.6" font-weight="bold" text-anchor="end" fill="#111">60</text>
<line x1="565.5" y1="628.3" x2="572.9" y2="628.3" stroke="#111" stroke-width="1.4"/>
<line x1="565.5" y1="638.1" x2="572.9" y2="638.1" stroke="#111" stroke-width="1.4"/>
<line x1="569" y1="638.1" x2="569" y2="742.2" stroke="#111" stroke-width="1.5"/>
<line x1="562.2" y1="741.5" x2="569" y2="741.5" stroke="#111" stroke-width="1.4"/>
<text x="558" y="744.51" font-size="8.6" font-weight="bold" text-anchor="end" fill="#111">0</text>
<line x1="562.2" y1="716.9" x2="569" y2="716.9" stroke="#111" stroke-width="1.4"/>
<text x="558" y="719.91" font-size="8.6" font-weight="bold" text-anchor="end" fill="#111">10</text>
<line x1="562.2" y1="692.3" x2="569" y2="692.3" stroke="#111" stroke-width="1.4"/>
<text x="558" y="695.31" font-size="8.6" font-weight="bold" text-anchor="end" fill="#111">20</text>
<line x1="562.2" y1="667.7" x2="569" y2="667.7" stroke="#111" stroke-width="1.4"/>
<text x="558" y="670.71" font-size="8.6" font-weight="bold" text-anchor="end" fill="#111">30</text>
<line x1="562.2" y1="643.1" x2="569" y2="643.1" stroke="#111" stroke-width="1.4"/>
<text x="558" y="646.11" font-size="8.6" font-weight="bold" text-anchor="end" fill="#111">40</text>
<line x1="568.3" y1="741.6" x2="657.4" y2="741.6" stroke="#111" stroke-width="1.5"/>
<line x1="591.8" y1="709.2" x2="635" y2="709.2" stroke="#111" stroke-width="1.4"/>
<g fill="#fff" stroke="#111" stroke-width="1.35"><path d="M607.3 607.2L610.3 610.2L607.3 613.2L604.3 610.2z"/><path d="M613.5 610.1L616.5 613.1L613.5 616.1L610.5 613.1z"/><path d="M613.5 623.5L616.5 626.5L613.5 629.5L610.5 626.5z"/><path d="M613.5 635.1L616.5 638.1L613.5 641.1L610.5 638.1z"/><path d="M613.5 664.7L616.5 667.7L613.5 670.7L610.5 667.7z"/><path d="M619.8 659.4L622.8 662.4L619.8 665.4L616.8 662.4z"/><path d="M600.7 687L603.7 690L600.7 693L597.7 690z"/><path d="M607.2 691.3L610.2 694.3L607.2 697.3L604.2 694.3z"/><path d="M613.4 691.3L616.4 694.3L613.4 697.3L610.4 694.3z"/><path d="M619.6 689.2L622.6 692.2L619.6 695.2L616.6 692.2z"/><path d="M626.1 687L629.1 690L626.1 693L623.1 690z"/><path d="M607.2 698.6L610.2 701.6L607.2 704.6L604.2 701.6z"/><path d="M619.6 701.8L622.6 704.8L619.6 707.8L616.6 704.8z"/><path d="M613.4 706.2L616.4 709.2L613.4 712.2L610.4 709.2z"/><path d="M607.2 713.5L610.2 716.5L607.2 719.5L604.2 716.5z"/><path d="M613.4 716.2L616.4 719.2L613.4 722.2L610.4 719.2z"/><path d="M619.6 713.5L622.6 716.5L619.6 719.5L616.6 716.5z"/><path d="M600.7 716.2L603.7 719.2L600.7 722.2L597.7 719.2z"/><path d="M594.5 718.9L597.5 721.9L594.5 724.9L591.5 721.9z"/><path d="M626.1 718.9L629.1 721.9L626.1 724.9L623.1 721.9z"/><path d="M632.3 716.2L635.3 719.2L632.3 722.2L629.3 719.2z"/><path d="M607.2 720.7L610.2 723.7L607.2 726.7L604.2 723.7z"/><path d="M613.4 725.6L616.4 728.6L613.4 731.6L610.4 728.6z"/><path d="M619.6 723.4L622.6 726.4L619.6 729.4L616.6 726.4z"/><path d="M607.2 733.7L610.2 736.7L607.2 739.7L604.2 736.7z"/><path d="M613.4 733.7L616.4 736.7L613.4 739.7L610.4 736.7z"/><path d="M619.6 733.7L622.6 736.7L619.6 739.7L616.6 736.7z"/></g>
<text transform="translate(507.6,668.2) rotate(-90)" x="0" y="3.22" font-size="9.2" font-weight="bold" text-anchor="middle" fill="#111" textLength="101" lengthAdjust="spacingAndGlyphs">Number of Signficantly</text>
<text transform="translate(517.6,669.3) rotate(-90)" x="0" y="3.22" font-size="9.2" font-weight="bold" text-anchor="middle" fill="#111" textLength="105.8" lengthAdjust="spacingAndGlyphs">Expanded Unique Clone</text>
<text transform="translate(528,668.4) rotate(-90)" x="0" y="3.22" font-size="9.2" font-weight="bold" text-anchor="middle" fill="#111" textLength="50.6" lengthAdjust="spacingAndGlyphs">Populations</text>
<text x="64.5" y="804.22" font-size="9.2" font-weight="bold" text-anchor="start" fill="#111" textLength="44.8" lengthAdjust="spacingAndGlyphs">Clonotype</text>
<rect x="133.3" y="771.9" width="15.2" height="12.65" fill="#F8766D" stroke="#222" stroke-width="0.7"/>
<text x="152.6" y="780.71" font-size="6.6" text-anchor="start" fill="#111">CASNRGQDYGYTF</text>
<rect x="133.3" y="784.55" width="15.2" height="12.65" fill="#EA8331" stroke="#222" stroke-width="0.7"/>
<text x="152.6" y="794.11" font-size="6.6" text-anchor="start" fill="#111">CASRPAAGETQYF</text>
<rect x="133.3" y="797.2" width="15.2" height="12.65" fill="#D89000" stroke="#222" stroke-width="0.7"/>
<text x="152.6" y="806.31" font-size="6.6" text-anchor="start" fill="#111">CASSDPGTWVVEAFF</text>
<rect x="133.3" y="809.85" width="15.2" height="12.65" fill="#C09B00" stroke="#222" stroke-width="0.7"/>
<text x="152.6" y="818.01" font-size="6.6" text-anchor="start" fill="#111">CASSESGDRAIQYF</text>
<rect x="231.7" y="771.9" width="15.2" height="12.65" fill="#A3A500" stroke="#222" stroke-width="0.7"/>
<text x="250.7" y="780.71" font-size="6.6" text-anchor="start" fill="#111">CASSFPGGTYEQYF</text>
<rect x="231.7" y="784.55" width="15.2" height="12.65" fill="#7CAE00" stroke="#222" stroke-width="0.7"/>
<text x="250.7" y="794.11" font-size="6.6" text-anchor="start" fill="#111">CASSGTSGTTGELFF</text>
<rect x="231.7" y="797.2" width="15.2" height="12.65" fill="#39B600" stroke="#222" stroke-width="0.7"/>
<text x="250.7" y="806.31" font-size="6.6" text-anchor="start" fill="#111">CASSIASGGAMDTQYF</text>
<rect x="231.7" y="809.85" width="15.2" height="12.65" fill="#00BB4E" stroke="#222" stroke-width="0.7"/>
<text x="250.7" y="818.01" font-size="6.6" text-anchor="start" fill="#111">CASSIGDAEAFF</text>
<rect x="334.4" y="771.9" width="15.2" height="12.65" fill="#00BF7D" stroke="#222" stroke-width="0.7"/>
<text x="353.1" y="780.71" font-size="6.6" text-anchor="start" fill="#111">CASSLGEGYGYTF</text>
<rect x="334.4" y="784.55" width="15.2" height="12.65" fill="#00C1A3" stroke="#222" stroke-width="0.7"/>
<text x="353.1" y="794.11" font-size="6.6" text-anchor="start" fill="#111">CASSLVSSTDTQYF</text>
<rect x="334.4" y="797.2" width="15.2" height="12.65" fill="#00BFC4" stroke="#222" stroke-width="0.7"/>
<text x="353.1" y="806.31" font-size="6.6" text-anchor="start" fill="#111">CASSPSSYNEQFF</text>
<rect x="334.4" y="809.85" width="15.2" height="12.65" fill="#00BAE0" stroke="#222" stroke-width="0.7"/>
<text x="353.1" y="818.01" font-size="6.6" text-anchor="start" fill="#111">CASSQAGGAEAFF</text>
<rect x="431" y="771.9" width="15.2" height="12.65" fill="#00B0F6" stroke="#222" stroke-width="0.7"/>
<text x="450.3" y="780.71" font-size="6.6" text-anchor="start" fill="#111">CASSQDRAGGNTEAFF</text>
<rect x="431" y="784.55" width="15.2" height="12.65" fill="#35A2FF" stroke="#222" stroke-width="0.7"/>
<text x="450.3" y="794.11" font-size="6.6" text-anchor="start" fill="#111">CASSQEGDRGPKAFF</text>
<rect x="431" y="797.2" width="15.2" height="12.65" fill="#9590FF" stroke="#222" stroke-width="0.7"/>
<text x="450.3" y="806.31" font-size="6.6" text-anchor="start" fill="#111">CASSRRSTDTQYF</text>
<rect x="431" y="809.85" width="15.2" height="12.65" fill="#C77CFF" stroke="#222" stroke-width="0.7"/>
<text x="450.3" y="818.01" font-size="6.6" text-anchor="start" fill="#111">CASSRYMAGSSYNEQFF</text>
<rect x="544.3" y="771.9" width="15.2" height="12.65" fill="#E76BF3" stroke="#222" stroke-width="0.7"/>
<text x="565" y="780.71" font-size="6.6" text-anchor="start" fill="#111">CASSPGQKYNEQFF</text>
<rect x="544.3" y="784.55" width="15.2" height="12.65" fill="#FA62DB" stroke="#222" stroke-width="0.7"/>
<text x="565" y="794.11" font-size="6.6" text-anchor="start" fill="#111">CATSEPNTGELFF</text>
<rect x="544.3" y="797.2" width="15.2" height="12.65" fill="#FF62BC" stroke="#222" stroke-width="0.7"/>
<text x="565" y="806.31" font-size="6.6" text-anchor="start" fill="#111">CSARGRDITGAHTEAFF</text>
<rect x="544.3" y="809.85" width="15.2" height="12.65" fill="#FF6C91" stroke="#222" stroke-width="0.7"/>
<text x="565" y="818.01" font-size="6.6" text-anchor="start" fill="#111">CSASLQGERREQYF</text>
<line x1="132.6" y1="937.5" x2="685" y2="937.5" stroke="#d6d6d6" stroke-width="0.8" stroke-dasharray="3,3"/>
<line x1="129.6" y1="937.5" x2="132.6" y2="937.5" stroke="#666" stroke-width="0.7"/>
<text x="118.8" y="941.68" font-size="9.1" text-anchor="end" fill="#222">0.000</text>
<line x1="132.6" y1="911.3" x2="685" y2="911.3" stroke="#d6d6d6" stroke-width="0.8" stroke-dasharray="3,3"/>
<line x1="129.6" y1="911.3" x2="132.6" y2="911.3" stroke="#666" stroke-width="0.7"/>
<text x="118.8" y="916.58" font-size="9.1" text-anchor="end" fill="#222">0.005</text>
<line x1="132.6" y1="885.1" x2="685" y2="885.1" stroke="#d6d6d6" stroke-width="0.8" stroke-dasharray="3,3"/>
<line x1="129.6" y1="885.1" x2="132.6" y2="885.1" stroke="#666" stroke-width="0.7"/>
<text x="120" y="889.28" font-size="9.1" text-anchor="end" fill="#222">0.010</text>
<line x1="132.6" y1="858.9" x2="685" y2="858.9" stroke="#d6d6d6" stroke-width="0.8" stroke-dasharray="3,3"/>
<line x1="129.6" y1="858.9" x2="132.6" y2="858.9" stroke="#666" stroke-width="0.7"/>
<text x="121.3" y="864.28" font-size="9.1" text-anchor="end" fill="#222">0.015</text>
<line x1="132.6" y1="832.7" x2="685" y2="832.7" stroke="#d6d6d6" stroke-width="0.8" stroke-dasharray="3,3"/>
<line x1="129.6" y1="832.7" x2="132.6" y2="832.7" stroke="#666" stroke-width="0.7"/>
<text x="120" y="837.49" font-size="9.1" text-anchor="end" fill="#222">0.020</text>
<text transform="translate(71.9,874.6) rotate(-90)" x="0" y="3.22" font-size="9.2" text-anchor="middle" fill="#222">Proportion</text>
<g><path d="M201.4 914.40C230.9 914.40 230.9 882.50 260.4 882.50L260.4 882.80C230.9 882.80 230.9 914.40 201.4 914.40Z" fill="#fbbab6" stroke="#fbbab6" stroke-width="0.4"/><path d="M201.4 914.40C230.9 914.40 230.9 882.80 260.4 882.80L260.4 883.30C230.9 883.30 230.9 914.70 201.4 914.70Z" fill="#f4c198" stroke="#f4c198" stroke-width="0.4"/><path d="M201.4 914.70C230.9 914.70 230.9 883.30 260.4 883.30L260.4 884.60C230.9 884.60 230.9 917.20 201.4 917.20Z" fill="#ebc77f" stroke="#ebc77f" stroke-width="0.4"/><path d="M201.4 917.20C230.9 917.20 230.9 884.60 260.4 884.60L260.4 886.60C230.9 886.60 230.9 918.00 201.4 918.00Z" fill="#dfcd7f" stroke="#dfcd7f" stroke-width="0.4"/><path d="M201.4 918.00C230.9 918.00 230.9 886.60 260.4 886.60L260.4 889.50C230.9 889.50 230.9 918.80 201.4 918.80Z" fill="#d1d27f" stroke="#d1d27f" stroke-width="0.4"/><path d="M201.4 918.80C230.9 918.80 230.9 889.50 260.4 889.50L260.4 891.30C230.9 891.30 230.9 919.60 201.4 919.60Z" fill="#bdd67f" stroke="#bdd67f" stroke-width="0.4"/><path d="M201.4 919.60C230.9 919.60 230.9 891.30 260.4 891.30L260.4 894.40C230.9 894.40 230.9 922.10 201.4 922.10Z" fill="#9cda7f" stroke="#9cda7f" stroke-width="0.4"/><path d="M201.4 922.10C230.9 922.10 230.9 894.40 260.4 894.40L260.4 895.90C230.9 895.90 230.9 922.40 201.4 922.40Z" fill="#7fdda6" stroke="#7fdda6" stroke-width="0.4"/><path d="M201.4 922.40C230.9 922.40 230.9 895.90 260.4 895.90L260.4 897.40C230.9 897.40 230.9 922.70 201.4 922.70Z" fill="#7fdfbe" stroke="#7fdfbe" stroke-width="0.4"/><path d="M201.4 922.70C230.9 922.70 230.9 897.40 260.4 897.40L260.4 899.00C230.9 899.00 230.9 923.00 201.4 923.00Z" fill="#7fe0d1" stroke="#7fe0d1" stroke-width="0.4"/><path d="M201.4 923.00C230.9 923.00 230.9 899.00 260.4 899.00L260.4 899.50C230.9 899.50 230.9 923.30 201.4 923.30Z" fill="#7fdfe1" stroke="#7fdfe1" stroke-width="0.4"/><path d="M201.4 923.30C230.9 923.30 230.9 899.50 260.4 899.50L260.4 900.10C230.9 900.10 230.9 924.00 201.4 924.00Z" fill="#7fdcef" stroke="#7fdcef" stroke-width="0.4"/><path d="M201.4 924.00C230.9 924.00 230.9 900.10 260.4 900.10L260.4 902.50C230.9 902.50 230.9 924.70 201.4 924.70Z" fill="#7fd7fa" stroke="#7fd7fa" stroke-width="0.4"/><path d="M201.4 924.70C230.9 924.70 230.9 902.50 260.4 902.50L260.4 903.30C230.9 903.30 230.9 925.40 201.4 925.40Z" fill="#9ad0ff" stroke="#9ad0ff" stroke-width="0.4"/><path d="M201.4 925.40C230.9 925.40 230.9 903.30 260.4 903.30L260.4 904.10C230.9 904.10 230.9 926.20 201.4 926.20Z" fill="#cac7ff" stroke="#cac7ff" stroke-width="0.4"/><path d="M201.4 926.20C230.9 926.20 230.9 904.10 260.4 904.10L260.4 906.30C230.9 906.30 230.9 927.00 201.4 927.00Z" fill="#e3bdff" stroke="#e3bdff" stroke-width="0.4"/><path d="M201.4 927.00C230.9 927.00 230.9 906.30 260.4 906.30L260.4 908.00C230.9 908.00 230.9 927.80 201.4 927.80Z" fill="#f3b5f9" stroke="#f3b5f9" stroke-width="0.4"/><path d="M201.4 927.80C230.9 927.80 230.9 908.00 260.4 908.00L260.4 926.00C230.9 926.00 230.9 931.80 201.4 931.80Z" fill="#fcb0ed" stroke="#fcb0ed" stroke-width="0.4"/><path d="M201.4 931.80C230.9 931.80 230.9 926.00 260.4 926.00L260.4 935.20C230.9 935.20 230.9 936.80 201.4 936.80Z" fill="#ffb0dd" stroke="#ffb0dd" stroke-width="0.4"/><path d="M201.4 936.80C230.9 936.80 230.9 935.20 260.4 935.20L260.4 937.30C230.9 937.30 230.9 937.30 201.4 937.30Z" fill="#ffb5c8" stroke="#ffb5c8" stroke-width="0.4"/><path d="M290.5 882.50C319.8 882.50 319.8 833.80 349.1 833.80L349.1 834.00C319.8 834.00 319.8 882.80 290.5 882.80Z" fill="#fbbab6" stroke="#fbbab6" stroke-width="0.4"/><path d="M290.5 882.80C319.8 882.80 319.8 834.00 349.1 834.00L349.1 837.80C319.8 837.80 319.8 883.30 290.5 883.30Z" fill="#f4c198" stroke="#f4c198" stroke-width="0.4"/><path d="M290.5 883.30C319.8 883.30 319.8 837.80 349.1 837.80L349.1 846.70C319.8 846.70 319.8 884.60 290.5 884.60Z" fill="#ebc77f" stroke="#ebc77f" stroke-width="0.4"/><path d="M290.5 884.60C319.8 884.60 319.8 846.70 349.1 846.70L349.1 856.80C319.8 856.80 319.8 886.60 290.5 886.60Z" fill="#dfcd7f" stroke="#dfcd7f" stroke-width="0.4"/><path d="M290.5 886.60C319.8 886.60 319.8 856.80 349.1 856.80L349.1 859.90C319.8 859.90 319.8 889.50 290.5 889.50Z" fill="#d1d27f" stroke="#d1d27f" stroke-width="0.4"/><path d="M290.5 889.50C319.8 889.50 319.8 859.90 349.1 859.90L349.1 868.80C319.8 868.80 319.8 891.30 290.5 891.30Z" fill="#bdd67f" stroke="#bdd67f" stroke-width="0.4"/><path d="M290.5 891.30C319.8 891.30 319.8 868.80 349.1 868.80L349.1 874.90C319.8 874.90 319.8 894.40 290.5 894.40Z" fill="#9cda7f" stroke="#9cda7f" stroke-width="0.4"/><path d="M290.5 894.40C319.8 894.40 319.8 874.90 349.1 874.90L349.1 876.70C319.8 876.70 319.8 895.90 290.5 895.90Z" fill="#7fdda6" stroke="#7fdda6" stroke-width="0.4"/><path d="M290.5 895.90C319.8 895.90 319.8 876.70 349.1 876.70L349.1 878.90C319.8 878.90 319.8 897.40 290.5 897.40Z" fill="#7fdfbe" stroke="#7fdfbe" stroke-width="0.4"/><path d="M290.5 897.40C319.8 897.40 319.8 878.90 349.1 878.90L349.1 882.90C319.8 882.90 319.8 899.00 290.5 899.00Z" fill="#7fe0d1" stroke="#7fe0d1" stroke-width="0.4"/><path d="M290.5 899.00C319.8 899.00 319.8 882.90 349.1 882.90L349.1 885.80C319.8 885.80 319.8 899.50 290.5 899.50Z" fill="#7fdfe1" stroke="#7fdfe1" stroke-width="0.4"/><path d="M290.5 899.50C319.8 899.50 319.8 885.80 349.1 885.80L349.1 886.80C319.8 886.80 319.8 900.10 290.5 900.10Z" fill="#7fdcef" stroke="#7fdcef" stroke-width="0.4"/><path d="M290.5 900.10C319.8 900.10 319.8 886.80 349.1 886.80L349.1 890.90C319.8 890.90 319.8 902.50 290.5 902.50Z" fill="#7fd7fa" stroke="#7fd7fa" stroke-width="0.4"/><path d="M290.5 902.50C319.8 902.50 319.8 890.90 349.1 890.90L349.1 894.90C319.8 894.90 319.8 903.30 290.5 903.30Z" fill="#9ad0ff" stroke="#9ad0ff" stroke-width="0.4"/><path d="M290.5 903.30C319.8 903.30 319.8 894.90 349.1 894.90L349.1 903.00C319.8 903.00 319.8 904.10 290.5 904.10Z" fill="#cac7ff" stroke="#cac7ff" stroke-width="0.4"/><path d="M290.5 904.10C319.8 904.10 319.8 903.00 349.1 903.00L349.1 911.00C319.8 911.00 319.8 906.30 290.5 906.30Z" fill="#e3bdff" stroke="#e3bdff" stroke-width="0.4"/><path d="M290.5 906.30C319.8 906.30 319.8 911.00 349.1 911.00L349.1 916.80C319.8 916.80 319.8 908.00 290.5 908.00Z" fill="#f3b5f9" stroke="#f3b5f9" stroke-width="0.4"/><path d="M290.5 908.00C319.8 908.00 319.8 916.80 349.1 916.80L349.1 923.00C319.8 923.00 319.8 926.00 290.5 926.00Z" fill="#fcb0ed" stroke="#fcb0ed" stroke-width="0.4"/><path d="M290.5 926.00C319.8 926.00 319.8 923.00 349.1 923.00L349.1 929.60C319.8 929.60 319.8 935.20 290.5 935.20Z" fill="#ffb0dd" stroke="#ffb0dd" stroke-width="0.4"/><path d="M290.5 935.20C319.8 935.20 319.8 929.60 349.1 929.60L349.1 937.30C319.8 937.30 319.8 937.30 290.5 937.30Z" fill="#ffb5c8" stroke="#ffb5c8" stroke-width="0.4"/><path d="M379.6 833.80C409.0 833.80 409.0 878.70 438.4 878.70L438.4 879.50C409.0 879.50 409.0 834.00 379.6 834.00Z" fill="#fbbab6" stroke="#fbbab6" stroke-width="0.4"/><path d="M379.6 834.00C409.0 834.00 409.0 879.50 438.4 879.50L438.4 880.60C409.0 880.60 409.0 837.80 379.6 837.80Z" fill="#f4c198" stroke="#f4c198" stroke-width="0.4"/><path d="M379.6 837.80C409.0 837.80 409.0 880.60 438.4 880.60L438.4 884.90C409.0 884.90 409.0 846.70 379.6 846.70Z" fill="#ebc77f" stroke="#ebc77f" stroke-width="0.4"/><path d="M379.6 846.70C409.0 846.70 409.0 884.90 438.4 884.90L438.4 887.90C409.0 887.90 409.0 856.80 379.6 856.80Z" fill="#dfcd7f" stroke="#dfcd7f" stroke-width="0.4"/><path d="M379.6 856.80C409.0 856.80 409.0 887.90 438.4 887.90L438.4 888.90C409.0 888.90 409.0 859.90 379.6 859.90Z" fill="#d1d27f" stroke="#d1d27f" stroke-width="0.4"/><path d="M379.6 859.90C409.0 859.90 409.0 888.90 438.4 888.90L438.4 890.00C409.0 890.00 409.0 868.80 379.6 868.80Z" fill="#bdd67f" stroke="#bdd67f" stroke-width="0.4"/><path d="M379.6 868.80C409.0 868.80 409.0 890.00 438.4 890.00L438.4 901.00C409.0 901.00 409.0 874.90 379.6 874.90Z" fill="#9cda7f" stroke="#9cda7f" stroke-width="0.4"/><path d="M379.6 874.90C409.0 874.90 409.0 901.00 438.4 901.00L438.4 902.80C409.0 902.80 409.0 876.70 379.6 876.70Z" fill="#7fdda6" stroke="#7fdda6" stroke-width="0.4"/><path d="M379.6 876.70C409.0 876.70 409.0 902.80 438.4 902.80L438.4 903.30C409.0 903.30 409.0 878.90 379.6 878.90Z" fill="#7fdfbe" stroke="#7fdfbe" stroke-width="0.4"/><path d="M379.6 878.90C409.0 878.90 409.0 903.30 438.4 903.30L438.4 908.70C409.0 908.70 409.0 882.90 379.6 882.90Z" fill="#7fe0d1" stroke="#7fe0d1" stroke-width="0.4"/><path d="M379.6 882.90C409.0 882.90 409.0 908.70 438.4 908.70L438.4 909.00C409.0 909.00 409.0 885.80 379.6 885.80Z" fill="#7fdfe1" stroke="#7fdfe1" stroke-width="0.4"/><path d="M379.6 885.80C409.0 885.80 409.0 909.00 438.4 909.00L438.4 909.40C409.0 909.40 409.0 886.80 379.6 886.80Z" fill="#7fdcef" stroke="#7fdcef" stroke-width="0.4"/><path d="M379.6 886.80C409.0 886.80 409.0 909.40 438.4 909.40L438.4 911.60C409.0 911.60 409.0 890.90 379.6 890.90Z" fill="#7fd7fa" stroke="#7fd7fa" stroke-width="0.4"/><path d="M379.6 890.90C409.0 890.90 409.0 911.60 438.4 911.60L438.4 913.80C409.0 913.80 409.0 894.90 379.6 894.90Z" fill="#9ad0ff" stroke="#9ad0ff" stroke-width="0.4"/><path d="M379.6 894.90C409.0 894.90 409.0 913.80 438.4 913.80L438.4 918.10C409.0 918.10 409.0 903.00 379.6 903.00Z" fill="#cac7ff" stroke="#cac7ff" stroke-width="0.4"/><path d="M379.6 903.00C409.0 903.00 409.0 918.10 438.4 918.10L438.4 925.10C409.0 925.10 409.0 911.00 379.6 911.00Z" fill="#e3bdff" stroke="#e3bdff" stroke-width="0.4"/><path d="M379.6 911.00C409.0 911.00 409.0 925.10 438.4 925.10L438.4 926.20C409.0 926.20 409.0 916.80 379.6 916.80Z" fill="#f3b5f9" stroke="#f3b5f9" stroke-width="0.4"/><path d="M379.6 916.80C409.0 916.80 409.0 926.20 438.4 926.20L438.4 929.10C409.0 929.10 409.0 923.00 379.6 923.00Z" fill="#fcb0ed" stroke="#fcb0ed" stroke-width="0.4"/><path d="M379.6 923.00C409.0 923.00 409.0 929.10 438.4 929.10L438.4 937.10C409.0 937.10 409.0 929.60 379.6 929.60Z" fill="#ffb0dd" stroke="#ffb0dd" stroke-width="0.4"/><path d="M379.6 929.60C409.0 929.60 409.0 937.10 438.4 937.10L438.4 937.30C409.0 937.30 409.0 937.30 379.6 937.30Z" fill="#ffb5c8" stroke="#ffb5c8" stroke-width="0.4"/><path d="M468.5 878.70C497.9 878.70 497.9 873.80 527.3 873.80L527.3 877.80C497.9 877.80 497.9 879.50 468.5 879.50Z" fill="#fbbab6" stroke="#fbbab6" stroke-width="0.4"/><path d="M468.5 879.50C497.9 879.50 497.9 877.80 527.3 877.80L527.3 878.10C497.9 878.10 497.9 880.60 468.5 880.60Z" fill="#f4c198" stroke="#f4c198" stroke-width="0.4"/><path d="M468.5 880.60C497.9 880.60 497.9 878.10 527.3 878.10L527.3 883.30C497.9 883.30 497.9 884.90 468.5 884.90Z" fill="#ebc77f" stroke="#ebc77f" stroke-width="0.4"/><path d="M468.5 884.90C497.9 884.90 497.9 883.30 527.3 883.30L527.3 883.60C497.9 883.60 497.9 887.90 468.5 887.90Z" fill="#dfcd7f" stroke="#dfcd7f" stroke-width="0.4"/><path d="M468.5 887.90C497.9 887.90 497.9 883.60 527.3 883.60L527.3 888.80C497.9 888.80 497.9 888.90 468.5 888.90Z" fill="#d1d27f" stroke="#d1d27f" stroke-width="0.4"/><path d="M468.5 888.90C497.9 888.90 497.9 888.80 527.3 888.80L527.3 891.30C497.9 891.30 497.9 890.00 468.5 890.00Z" fill="#bdd67f" stroke="#bdd67f" stroke-width="0.4"/><path d="M468.5 890.00C497.9 890.00 497.9 891.30 527.3 891.30L527.3 893.10C497.9 893.10 497.9 901.00 468.5 901.00Z" fill="#9cda7f" stroke="#9cda7f" stroke-width="0.4"/><path d="M468.5 901.00C497.9 901.00 497.9 893.10 527.3 893.10L527.3 896.80C497.9 896.80 497.9 902.80 468.5 902.80Z" fill="#7fdda6" stroke="#7fdda6" stroke-width="0.4"/><path d="M468.5 902.80C497.9 902.80 497.9 896.80 527.3 896.80L527.3 901.90C497.9 901.90 497.9 903.30 468.5 903.30Z" fill="#7fdfbe" stroke="#7fdfbe" stroke-width="0.4"/><path d="M468.5 903.30C497.9 903.30 497.9 901.90 527.3 901.90L527.3 906.60C497.9 906.60 497.9 908.70 468.5 908.70Z" fill="#7fe0d1" stroke="#7fe0d1" stroke-width="0.4"/><path d="M468.5 908.70C497.9 908.70 497.9 906.60 527.3 906.60L527.3 908.10C497.9 908.10 497.9 909.00 468.5 909.00Z" fill="#7fdfe1" stroke="#7fdfe1" stroke-width="0.4"/><path d="M468.5 909.00C497.9 909.00 497.9 908.10 527.3 908.10L527.3 914.70C497.9 914.70 497.9 909.40 468.5 909.40Z" fill="#7fdcef" stroke="#7fdcef" stroke-width="0.4"/><path d="M468.5 909.40C497.9 909.40 497.9 914.70 527.3 914.70L527.3 915.20C497.9 915.20 497.9 911.60 468.5 911.60Z" fill="#7fd7fa" stroke="#7fd7fa" stroke-width="0.4"/><path d="M468.5 911.60C497.9 911.60 497.9 915.20 527.3 915.20L527.3 915.80C497.9 915.80 497.9 913.80 468.5 913.80Z" fill="#9ad0ff" stroke="#9ad0ff" stroke-width="0.4"/><path d="M468.5 913.80C497.9 913.80 497.9 915.80 527.3 915.80L527.3 915.80C497.9 915.80 497.9 918.10 468.5 918.10Z" fill="#cac7ff" stroke="#cac7ff" stroke-width="0.4"/><path d="M468.5 918.10C497.9 918.10 497.9 915.80 527.3 915.80L527.3 915.80C497.9 915.80 497.9 925.10 468.5 925.10Z" fill="#e3bdff" stroke="#e3bdff" stroke-width="0.4"/><path d="M468.5 925.10C497.9 925.10 497.9 915.80 527.3 915.80L527.3 915.80C497.9 915.80 497.9 926.20 468.5 926.20Z" fill="#f3b5f9" stroke="#f3b5f9" stroke-width="0.4"/><path d="M468.5 926.20C497.9 926.20 497.9 915.80 527.3 915.80L527.3 927.80C497.9 927.80 497.9 929.10 468.5 929.10Z" fill="#fcb0ed" stroke="#fcb0ed" stroke-width="0.4"/><path d="M468.5 929.10C497.9 929.10 497.9 927.80 527.3 927.80L527.3 937.30C497.9 937.30 497.9 937.10 468.5 937.10Z" fill="#ffb0dd" stroke="#ffb0dd" stroke-width="0.4"/><path d="M468.5 937.10C497.9 937.10 497.9 937.30 527.3 937.30L527.3 937.30C497.9 937.30 497.9 937.30 468.5 937.30Z" fill="#ffb5c8" stroke="#ffb5c8" stroke-width="0.4"/><path d="M557.6 873.80C587.0 873.80 587.0 857.90 616.3 857.90L616.3 857.90C587.0 857.90 587.0 877.80 557.6 877.80Z" fill="#fbbab6" stroke="#fbbab6" stroke-width="0.4"/><path d="M557.6 877.80C587.0 877.80 587.0 857.90 616.3 857.90L616.3 857.90C587.0 857.90 587.0 878.10 557.6 878.10Z" fill="#f4c198" stroke="#f4c198" stroke-width="0.4"/><path d="M557.6 878.10C587.0 878.10 587.0 857.90 616.3 857.90L616.3 869.70C587.0 869.70 587.0 883.30 557.6 883.30Z" fill="#ebc77f" stroke="#ebc77f" stroke-width="0.4"/><path d="M557.6 883.30C587.0 883.30 587.0 869.70 616.3 869.70L616.3 874.90C587.0 874.90 587.0 883.60 557.6 883.60Z" fill="#dfcd7f" stroke="#dfcd7f" stroke-width="0.4"/><path d="M557.6 883.60C587.0 883.60 587.0 874.90 616.3 874.90L616.3 876.20C587.0 876.20 587.0 888.80 557.6 888.80Z" fill="#d1d27f" stroke="#d1d27f" stroke-width="0.4"/><path d="M557.6 888.80C587.0 888.80 587.0 876.20 616.3 876.20L616.3 878.40C587.0 878.40 587.0 891.30 557.6 891.30Z" fill="#bdd67f" stroke="#bdd67f" stroke-width="0.4"/><path d="M557.6 891.30C587.0 891.30 587.0 878.40 616.3 878.40L616.3 891.50C587.0 891.50 587.0 893.10 557.6 893.10Z" fill="#9cda7f" stroke="#9cda7f" stroke-width="0.4"/><path d="M557.6 893.10C587.0 893.10 587.0 891.50 616.3 891.50L616.3 893.00C587.0 893.00 587.0 896.80 557.6 896.80Z" fill="#7fdda6" stroke="#7fdda6" stroke-width="0.4"/><path d="M557.6 896.80C587.0 896.80 587.0 893.00 616.3 893.00L616.3 894.60C587.0 894.60 587.0 901.90 557.6 901.90Z" fill="#7fdfbe" stroke="#7fdfbe" stroke-width="0.4"/><path d="M557.6 901.90C587.0 901.90 587.0 894.60 616.3 894.60L616.3 895.50C587.0 895.50 587.0 906.60 557.6 906.60Z" fill="#7fe0d1" stroke="#7fe0d1" stroke-width="0.4"/><path d="M557.6 906.60C587.0 906.60 587.0 895.50 616.3 895.50L616.3 896.30C587.0 896.30 587.0 908.10 557.6 908.10Z" fill="#7fdfe1" stroke="#7fdfe1" stroke-width="0.4"/><path d="M557.6 908.10C587.0 908.10 587.0 896.30 616.3 896.30L616.3 898.10C587.0 898.10 587.0 914.70 557.6 914.70Z" fill="#7fdcef" stroke="#7fdcef" stroke-width="0.4"/><path d="M557.6 914.70C587.0 914.70 587.0 898.10 616.3 898.10L616.3 898.60C587.0 898.60 587.0 915.20 557.6 915.20Z" fill="#7fd7fa" stroke="#7fd7fa" stroke-width="0.4"/><path d="M557.6 915.20C587.0 915.20 587.0 898.60 616.3 898.60L616.3 903.90C587.0 903.90 587.0 915.80 557.6 915.80Z" fill="#9ad0ff" stroke="#9ad0ff" stroke-width="0.4"/><path d="M557.6 915.80C587.0 915.80 587.0 903.90 616.3 903.90L616.3 909.80C587.0 909.80 587.0 915.80 557.6 915.80Z" fill="#e3bdff" stroke="#e3bdff" stroke-width="0.4"/><path d="M557.6 915.80C587.0 915.80 587.0 909.80 616.3 909.80L616.3 912.00C587.0 912.00 587.0 915.80 557.6 915.80Z" fill="#f3b5f9" stroke="#f3b5f9" stroke-width="0.4"/><path d="M557.6 915.80C587.0 915.80 587.0 912.00 616.3 912.00L616.3 918.60C587.0 918.60 587.0 927.80 557.6 927.80Z" fill="#fcb0ed" stroke="#fcb0ed" stroke-width="0.4"/><path d="M557.6 927.80C587.0 927.80 587.0 918.60 616.3 918.60L616.3 937.30C587.0 937.30 587.0 937.30 557.6 937.30Z" fill="#ffb0dd" stroke="#ffb0dd" stroke-width="0.4"/></g>
<path d="M201.4 916.69C230.9 916.69 230.9 884.33 260.4 884.33M201.4 918.59C230.9 918.59 230.9 888.75 260.4 888.75M201.4 919.67C230.9 919.67 230.9 891.39 260.4 891.39M201.4 924.33C230.9 924.33 230.9 901.23 260.4 901.23M201.4 926.66C230.9 926.66 230.9 905.36 260.4 905.36M201.4 928.67C230.9 928.67 230.9 911.90 260.4 911.90M201.4 933.20C230.9 933.20 230.9 928.57 260.4 928.57M290.5 882.88C319.8 882.88 319.8 834.61 349.1 834.61M290.5 884.34C319.8 884.34 319.8 844.89 349.1 844.89M290.5 884.88C319.8 884.88 319.8 848.10 349.1 848.10M290.5 888.39C319.8 888.39 319.8 858.71 349.1 858.71M290.5 889.73C319.8 889.73 319.8 861.03 349.1 861.03M290.5 891.31C319.8 891.31 319.8 868.81 349.1 868.81M290.5 895.71C319.8 895.71 319.8 876.47 349.1 876.47M290.5 896.21C319.8 896.21 319.8 877.16 349.1 877.16M290.5 897.74C319.8 897.74 319.8 879.76 349.1 879.76M290.5 899.49C319.8 899.49 319.8 885.75 349.1 885.75M290.5 900.79C319.8 900.79 319.8 887.99 349.1 887.99M290.5 903.27C319.8 903.27 319.8 894.75 349.1 894.75M290.5 903.73C319.8 903.73 319.8 899.27 349.1 899.27M290.5 905.59C319.8 905.59 319.8 908.42 349.1 908.42M290.5 906.65C319.8 906.65 319.8 912.19 349.1 912.19M290.5 924.94C319.8 924.94 319.8 922.63 349.1 922.63M290.5 932.35C319.8 932.35 319.8 927.56 349.1 927.56M290.5 937.23C319.8 937.23 319.8 937.04 349.1 937.04M379.6 835.14C409.0 835.14 409.0 879.83 438.4 879.83M379.6 841.01C409.0 841.01 409.0 882.15 438.4 882.15M379.6 848.38C409.0 848.38 409.0 885.40 438.4 885.40M379.6 857.25C409.0 857.25 409.0 888.05 438.4 888.05M379.6 860.48C409.0 860.48 409.0 888.97 438.4 888.97M379.6 870.64C409.0 870.64 409.0 893.31 438.4 893.31M379.6 875.99C409.0 875.99 409.0 902.09 438.4 902.09M379.6 881.61C409.0 881.61 409.0 906.96 438.4 906.96M379.6 883.88C409.0 883.88 409.0 908.80 438.4 908.80M379.6 890.16C409.0 890.16 409.0 911.20 438.4 911.20M379.6 892.82C409.0 892.82 409.0 912.66 438.4 912.66M379.6 897.46C409.0 897.46 409.0 915.16 438.4 915.16M379.6 906.85C409.0 906.85 409.0 921.47 438.4 921.47M379.6 915.09C409.0 915.09 409.0 925.88 438.4 925.88M379.6 917.15C409.0 917.15 409.0 926.37 438.4 926.37M379.6 929.44C409.0 929.44 409.0 936.90 438.4 936.90M379.6 929.78C409.0 929.78 409.0 937.10 438.4 937.10M468.5 879.30C497.9 879.30 497.9 876.80 527.3 876.80M468.5 880.68C497.9 880.68 497.9 878.19 527.3 878.19M468.5 887.26C497.9 887.26 497.9 883.54 527.3 883.54M468.5 888.27C497.9 888.27 497.9 885.50 527.3 885.50M468.5 889.54C497.9 889.54 497.9 890.25 527.3 890.25M468.5 890.10C497.9 890.10 497.9 891.32 527.3 891.32M468.5 901.08C497.9 901.08 497.9 893.27 527.3 893.27M468.5 902.89C497.9 902.89 497.9 897.72 527.3 897.72M468.5 908.46C497.9 908.46 497.9 906.39 527.3 906.39M468.5 909.30C497.9 909.30 497.9 913.09 527.3 913.09M468.5 915.28C497.9 915.28 497.9 915.80 527.3 915.80M468.5 920.58C497.9 920.58 497.9 915.80 527.3 915.80M468.5 928.45C497.9 928.45 497.9 925.11 527.3 925.11M468.5 929.96C497.9 929.96 497.9 928.83 527.3 928.83M557.6 876.99C587.0 876.99 587.0 857.90 616.3 857.90M557.6 878.29C587.0 878.29 587.0 858.33 616.3 858.33M557.6 883.58C587.0 883.58 587.0 874.62 616.3 874.62M557.6 884.07C587.0 884.07 587.0 875.02 616.3 875.02M557.6 889.65C587.0 889.65 587.0 876.95 616.3 876.95M557.6 892.40C587.0 892.40 587.0 886.40 616.3 886.40M557.6 896.50C587.0 896.50 587.0 892.88 616.3 892.88M557.6 898.53C587.0 898.53 587.0 893.54 616.3 893.54M557.6 906.24C587.0 906.24 587.0 895.43 616.3 895.43M557.6 910.16C587.0 910.16 587.0 896.86 616.3 896.86M557.6 915.31C587.0 915.31 587.0 899.54 616.3 899.54M557.6 915.80C587.0 915.80 587.0 904.78 616.3 904.78M557.6 927.76C587.0 927.76 587.0 918.58 616.3 918.58M557.6 929.33C587.0 929.33 587.0 921.62 616.3 921.62" fill="none" stroke="#fff" stroke-width="0.6" stroke-opacity="0.45" stroke-dasharray="1.2,5"/>
<g><rect x="171.2" y="914.40" width="30.2" height="0.30" fill="#EA8331" stroke="#1a1a1a" stroke-width="0.55"/><rect x="171.2" y="914.70" width="30.2" height="2.50" fill="#D89000" stroke="#1a1a1a" stroke-width="0.55"/><rect x="171.2" y="917.20" width="30.2" height="0.80" fill="#C09B00" stroke="#1a1a1a" stroke-width="0.55"/><rect x="171.2" y="918.00" width="30.2" height="0.80" fill="#A3A500" stroke="#1a1a1a" stroke-width="0.55"/><rect x="171.2" y="918.80" width="30.2" height="0.80" fill="#7CAE00" stroke="#1a1a1a" stroke-width="0.55"/><rect x="171.2" y="919.60" width="30.2" height="2.50" fill="#39B600" stroke="#1a1a1a" stroke-width="0.55"/><rect x="171.2" y="922.10" width="30.2" height="0.30" fill="#00BB4E" stroke="#1a1a1a" stroke-width="0.55"/><rect x="171.2" y="922.40" width="30.2" height="0.30" fill="#00BF7D" stroke="#1a1a1a" stroke-width="0.55"/><rect x="171.2" y="922.70" width="30.2" height="0.30" fill="#00C1A3" stroke="#1a1a1a" stroke-width="0.55"/><rect x="171.2" y="923.00" width="30.2" height="0.30" fill="#00BFC4" stroke="#1a1a1a" stroke-width="0.55"/><rect x="171.2" y="923.30" width="30.2" height="0.70" fill="#00BAE0" stroke="#1a1a1a" stroke-width="0.55"/><rect x="171.2" y="924.00" width="30.2" height="0.70" fill="#00B0F6" stroke="#1a1a1a" stroke-width="0.55"/><rect x="171.2" y="924.70" width="30.2" height="0.70" fill="#35A2FF" stroke="#1a1a1a" stroke-width="0.55"/><rect x="171.2" y="925.40" width="30.2" height="0.80" fill="#9590FF" stroke="#1a1a1a" stroke-width="0.55"/><rect x="171.2" y="926.20" width="30.2" height="0.80" fill="#C77CFF" stroke="#1a1a1a" stroke-width="0.55"/><rect x="171.2" y="927.00" width="30.2" height="0.80" fill="#E76BF3" stroke="#1a1a1a" stroke-width="0.55"/><rect x="171.2" y="927.80" width="30.2" height="4.00" fill="#FA62DB" stroke="#1a1a1a" stroke-width="0.55"/><rect x="171.2" y="931.80" width="30.2" height="5.00" fill="#FF62BC" stroke="#1a1a1a" stroke-width="0.55"/><rect x="171.2" y="936.80" width="30.2" height="0.50" fill="#FF6C91" stroke="#1a1a1a" stroke-width="0.55"/><rect x="171.2" y="914.40" width="30.2" height="22.90" fill="none" stroke="#1a1a1a" stroke-width="0.9"/><rect x="260.4" y="882.50" width="30.1" height="0.30" fill="#F8766D" stroke="#1a1a1a" stroke-width="0.55"/><rect x="260.4" y="882.80" width="30.1" height="0.50" fill="#EA8331" stroke="#1a1a1a" stroke-width="0.55"/><rect x="260.4" y="883.30" width="30.1" height="1.30" fill="#D89000" stroke="#1a1a1a" stroke-width="0.55"/><rect x="260.4" y="884.60" width="30.1" height="2.00" fill="#C09B00" stroke="#1a1a1a" stroke-width="0.55"/><rect x="260.4" y="886.60" width="30.1" height="2.90" fill="#A3A500" stroke="#1a1a1a" stroke-width="0.55"/><rect x="260.4" y="889.50" width="30.1" height="1.80" fill="#7CAE00" stroke="#1a1a1a" stroke-width="0.55"/><rect x="260.4" y="891.30" width="30.1" height="3.10" fill="#39B600" stroke="#1a1a1a" stroke-width="0.55"/><rect x="260.4" y="894.40" width="30.1" height="1.50" fill="#00BB4E" stroke="#1a1a1a" stroke-width="0.55"/><rect x="260.4" y="895.90" width="30.1" height="1.50" fill="#00BF7D" stroke="#1a1a1a" stroke-width="0.55"/><rect x="260.4" y="897.40" width="30.1" height="1.60" fill="#00C1A3" stroke="#1a1a1a" stroke-width="0.55"/><rect x="260.4" y="899.00" width="30.1" height="0.50" fill="#00BFC4" stroke="#1a1a1a" stroke-width="0.55"/><rect x="260.4" y="899.50" width="30.1" height="0.60" fill="#00BAE0" stroke="#1a1a1a" stroke-width="0.55"/><rect x="260.4" y="900.10" width="30.1" height="2.40" fill="#00B0F6" stroke="#1a1a1a" stroke-width="0.55"/><rect x="260.4" y="902.50" width="30.1" height="0.80" fill="#35A2FF" stroke="#1a1a1a" stroke-width="0.55"/><rect x="260.4" y="903.30" width="30.1" height="0.80" fill="#9590FF" stroke="#1a1a1a" stroke-width="0.55"/><rect x="260.4" y="904.10" width="30.1" height="2.20" fill="#C77CFF" stroke="#1a1a1a" stroke-width="0.55"/><rect x="260.4" y="906.30" width="30.1" height="1.70" fill="#E76BF3" stroke="#1a1a1a" stroke-width="0.55"/><rect x="260.4" y="908.00" width="30.1" height="18.00" fill="#FA62DB" stroke="#1a1a1a" stroke-width="0.55"/><rect x="260.4" y="926.00" width="30.1" height="9.20" fill="#FF62BC" stroke="#1a1a1a" stroke-width="0.55"/><rect x="260.4" y="935.20" width="30.1" height="2.10" fill="#FF6C91" stroke="#1a1a1a" stroke-width="0.55"/><rect x="260.4" y="882.50" width="30.1" height="54.80" fill="none" stroke="#1a1a1a" stroke-width="0.9"/><rect x="349.1" y="833.80" width="30.5" height="0.20" fill="#F8766D" stroke="#1a1a1a" stroke-width="0.55"/><rect x="349.1" y="834.00" width="30.5" height="3.80" fill="#EA8331" stroke="#1a1a1a" stroke-width="0.55"/><rect x="349.1" y="837.80" width="30.5" height="8.90" fill="#D89000" stroke="#1a1a1a" stroke-width="0.55"/><rect x="349.1" y="846.70" width="30.5" height="10.10" fill="#C09B00" stroke="#1a1a1a" stroke-width="0.55"/><rect x="349.1" y="856.80" width="30.5" height="3.10" fill="#A3A500" stroke="#1a1a1a" stroke-width="0.55"/><rect x="349.1" y="859.90" width="30.5" height="8.90" fill="#7CAE00" stroke="#1a1a1a" stroke-width="0.55"/><rect x="349.1" y="868.80" width="30.5" height="6.10" fill="#39B600" stroke="#1a1a1a" stroke-width="0.55"/><rect x="349.1" y="874.90" width="30.5" height="1.80" fill="#00BB4E" stroke="#1a1a1a" stroke-width="0.55"/><rect x="349.1" y="876.70" width="30.5" height="2.20" fill="#00BF7D" stroke="#1a1a1a" stroke-width="0.55"/><rect x="349.1" y="878.90" width="30.5" height="4.00" fill="#00C1A3" stroke="#1a1a1a" stroke-width="0.55"/><rect x="349.1" y="882.90" width="30.5" height="2.90" fill="#00BFC4" stroke="#1a1a1a" stroke-width="0.55"/><rect x="349.1" y="885.80" width="30.5" height="1.00" fill="#00BAE0" stroke="#1a1a1a" stroke-width="0.55"/><rect x="349.1" y="886.80" width="30.5" height="4.10" fill="#00B0F6" stroke="#1a1a1a" stroke-width="0.55"/><rect x="349.1" y="890.90" width="30.5" height="4.00" fill="#35A2FF" stroke="#1a1a1a" stroke-width="0.55"/><rect x="349.1" y="894.90" width="30.5" height="8.10" fill="#9590FF" stroke="#1a1a1a" stroke-width="0.55"/><rect x="349.1" y="903.00" width="30.5" height="8.00" fill="#C77CFF" stroke="#1a1a1a" stroke-width="0.55"/><rect x="349.1" y="911.00" width="30.5" height="5.80" fill="#E76BF3" stroke="#1a1a1a" stroke-width="0.55"/><rect x="349.1" y="916.80" width="30.5" height="6.20" fill="#FA62DB" stroke="#1a1a1a" stroke-width="0.55"/><rect x="349.1" y="923.00" width="30.5" height="6.60" fill="#FF62BC" stroke="#1a1a1a" stroke-width="0.55"/><rect x="349.1" y="929.60" width="30.5" height="7.70" fill="#FF6C91" stroke="#1a1a1a" stroke-width="0.55"/><rect x="349.1" y="833.80" width="30.5" height="103.50" fill="none" stroke="#1a1a1a" stroke-width="0.9"/><rect x="438.4" y="878.70" width="30.1" height="0.80" fill="#F8766D" stroke="#1a1a1a" stroke-width="0.55"/><rect x="438.4" y="879.50" width="30.1" height="1.10" fill="#EA8331" stroke="#1a1a1a" stroke-width="0.55"/><rect x="438.4" y="880.60" width="30.1" height="4.30" fill="#D89000" stroke="#1a1a1a" stroke-width="0.55"/><rect x="438.4" y="884.90" width="30.1" height="3.00" fill="#C09B00" stroke="#1a1a1a" stroke-width="0.55"/><rect x="438.4" y="887.90" width="30.1" height="1.00" fill="#A3A500" stroke="#1a1a1a" stroke-width="0.55"/><rect x="438.4" y="888.90" width="30.1" height="1.10" fill="#7CAE00" stroke="#1a1a1a" stroke-width="0.55"/><rect x="438.4" y="890.00" width="30.1" height="11.00" fill="#39B600" stroke="#1a1a1a" stroke-width="0.55"/><rect x="438.4" y="901.00" width="30.1" height="1.80" fill="#00BB4E" stroke="#1a1a1a" stroke-width="0.55"/><rect x="438.4" y="902.80" width="30.1" height="0.50" fill="#00BF7D" stroke="#1a1a1a" stroke-width="0.55"/><rect x="438.4" y="903.30" width="30.1" height="5.40" fill="#00C1A3" stroke="#1a1a1a" stroke-width="0.55"/><rect x="438.4" y="908.70" width="30.1" height="0.30" fill="#00BFC4" stroke="#1a1a1a" stroke-width="0.55"/><rect x="438.4" y="909.00" width="30.1" height="0.40" fill="#00BAE0" stroke="#1a1a1a" stroke-width="0.55"/><rect x="438.4" y="909.40" width="30.1" height="2.20" fill="#00B0F6" stroke="#1a1a1a" stroke-width="0.55"/><rect x="438.4" y="911.60" width="30.1" height="2.20" fill="#35A2FF" stroke="#1a1a1a" stroke-width="0.55"/><rect x="438.4" y="913.80" width="30.1" height="4.30" fill="#9590FF" stroke="#1a1a1a" stroke-width="0.55"/><rect x="438.4" y="918.10" width="30.1" height="7.00" fill="#C77CFF" stroke="#1a1a1a" stroke-width="0.55"/><rect x="438.4" y="925.10" width="30.1" height="1.10" fill="#E76BF3" stroke="#1a1a1a" stroke-width="0.55"/><rect x="438.4" y="926.20" width="30.1" height="2.90" fill="#FA62DB" stroke="#1a1a1a" stroke-width="0.55"/><rect x="438.4" y="929.10" width="30.1" height="8.00" fill="#FF62BC" stroke="#1a1a1a" stroke-width="0.55"/><rect x="438.4" y="937.10" width="30.1" height="0.20" fill="#FF6C91" stroke="#1a1a1a" stroke-width="0.55"/><rect x="438.4" y="878.70" width="30.1" height="58.60" fill="none" stroke="#1a1a1a" stroke-width="0.9"/><rect x="527.3" y="873.80" width="30.3" height="4.00" fill="#F8766D" stroke="#1a1a1a" stroke-width="0.55"/><rect x="527.3" y="877.80" width="30.3" height="0.30" fill="#EA8331" stroke="#1a1a1a" stroke-width="0.55"/><rect x="527.3" y="878.10" width="30.3" height="5.20" fill="#D89000" stroke="#1a1a1a" stroke-width="0.55"/><rect x="527.3" y="883.30" width="30.3" height="0.30" fill="#C09B00" stroke="#1a1a1a" stroke-width="0.55"/><rect x="527.3" y="883.60" width="30.3" height="5.20" fill="#A3A500" stroke="#1a1a1a" stroke-width="0.55"/><rect x="527.3" y="888.80" width="30.3" height="2.50" fill="#7CAE00" stroke="#1a1a1a" stroke-width="0.55"/><rect x="527.3" y="891.30" width="30.3" height="1.80" fill="#39B600" stroke="#1a1a1a" stroke-width="0.55"/><rect x="527.3" y="893.10" width="30.3" height="3.70" fill="#00BB4E" stroke="#1a1a1a" stroke-width="0.55"/><rect x="527.3" y="896.80" width="30.3" height="5.10" fill="#00BF7D" stroke="#1a1a1a" stroke-width="0.55"/><rect x="527.3" y="901.90" width="30.3" height="4.70" fill="#00C1A3" stroke="#1a1a1a" stroke-width="0.55"/><rect x="527.3" y="906.60" width="30.3" height="1.50" fill="#00BFC4" stroke="#1a1a1a" stroke-width="0.55"/><rect x="527.3" y="908.10" width="30.3" height="6.60" fill="#00BAE0" stroke="#1a1a1a" stroke-width="0.55"/><rect x="527.3" y="914.70" width="30.3" height="0.50" fill="#00B0F6" stroke="#1a1a1a" stroke-width="0.55"/><rect x="527.3" y="915.20" width="30.3" height="0.60" fill="#35A2FF" stroke="#1a1a1a" stroke-width="0.55"/><rect x="527.3" y="915.80" width="30.3" height="12.00" fill="#FA62DB" stroke="#1a1a1a" stroke-width="0.55"/><rect x="527.3" y="927.80" width="30.3" height="9.50" fill="#FF62BC" stroke="#1a1a1a" stroke-width="0.55"/><rect x="527.3" y="873.80" width="30.3" height="63.50" fill="none" stroke="#1a1a1a" stroke-width="0.9"/><rect x="616.3" y="857.90" width="30.3" height="11.80" fill="#D89000" stroke="#1a1a1a" stroke-width="0.55"/><rect x="616.3" y="869.70" width="30.3" height="5.20" fill="#C09B00" stroke="#1a1a1a" stroke-width="0.55"/><rect x="616.3" y="874.90" width="30.3" height="1.30" fill="#A3A500" stroke="#1a1a1a" stroke-width="0.55"/><rect x="616.3" y="876.20" width="30.3" height="2.20" fill="#7CAE00" stroke="#1a1a1a" stroke-width="0.55"/><rect x="616.3" y="878.40" width="30.3" height="13.10" fill="#39B600" stroke="#1a1a1a" stroke-width="0.55"/><rect x="616.3" y="891.50" width="30.3" height="1.50" fill="#00BB4E" stroke="#1a1a1a" stroke-width="0.55"/><rect x="616.3" y="893.00" width="30.3" height="1.60" fill="#00BF7D" stroke="#1a1a1a" stroke-width="0.55"/><rect x="616.3" y="894.60" width="30.3" height="0.90" fill="#00C1A3" stroke="#1a1a1a" stroke-width="0.55"/><rect x="616.3" y="895.50" width="30.3" height="0.80" fill="#00BFC4" stroke="#1a1a1a" stroke-width="0.55"/><rect x="616.3" y="896.30" width="30.3" height="1.80" fill="#00BAE0" stroke="#1a1a1a" stroke-width="0.55"/><rect x="616.3" y="898.10" width="30.3" height="0.50" fill="#00B0F6" stroke="#1a1a1a" stroke-width="0.55"/><rect x="616.3" y="898.60" width="30.3" height="5.30" fill="#35A2FF" stroke="#1a1a1a" stroke-width="0.55"/><rect x="616.3" y="903.90" width="30.3" height="5.90" fill="#C77CFF" stroke="#1a1a1a" stroke-width="0.55"/><rect x="616.3" y="909.80" width="30.3" height="2.20" fill="#E76BF3" stroke="#1a1a1a" stroke-width="0.55"/><rect x="616.3" y="912.00" width="30.3" height="6.60" fill="#FA62DB" stroke="#1a1a1a" stroke-width="0.55"/><rect x="616.3" y="918.60" width="30.3" height="18.70" fill="#FF62BC" stroke="#1a1a1a" stroke-width="0.55"/><rect x="616.3" y="857.90" width="30.3" height="79.40" fill="none" stroke="#1a1a1a" stroke-width="0.9"/></g>
<line x1="132.6" y1="827.3" x2="132.6" y2="941.8" stroke="#888" stroke-width="0.9"/>
<line x1="132.2" y1="941.7" x2="685" y2="941.7" stroke="#cfcfcf" stroke-width="1.6"/>
<line x1="186.3" y1="941" x2="186.3" y2="944.5" stroke="#333" stroke-width="0.8"/>
<line x1="275.45" y1="941" x2="275.45" y2="944.5" stroke="#333" stroke-width="0.8"/>
<line x1="364.35" y1="941" x2="364.35" y2="944.5" stroke="#333" stroke-width="0.8"/>
<line x1="453.45" y1="941" x2="453.45" y2="944.5" stroke="#333" stroke-width="0.8"/>
<line x1="542.45" y1="941" x2="542.45" y2="944.5" stroke="#333" stroke-width="0.8"/>
<line x1="631.45" y1="941" x2="631.45" y2="944.5" stroke="#333" stroke-width="0.8"/>
<text x="181.4" y="952.05" font-size="9" font-weight="bold" text-anchor="middle" fill="#111">Screening</text>
<text x="272.3" y="952.05" font-size="9" font-weight="bold" text-anchor="middle" fill="#111">Week 6</text>
<text x="359.9" y="952.05" font-size="9" font-weight="bold" text-anchor="middle" fill="#111">Week 9</text>
<text x="447.7" y="952.05" font-size="9" font-weight="bold" text-anchor="middle" fill="#111">Week 11</text>
<text x="535.8" y="952.05" font-size="9" font-weight="bold" text-anchor="middle" fill="#111">Week 26</text>
<text x="623.5" y="952.05" font-size="9" font-weight="bold" text-anchor="middle" fill="#111">Week 52</text>
<rect x="196.9" y="982.7" width="356.1" height="24.3" fill="#e6e6e6"/>
<line x1="196.9" y1="965.2" x2="553" y2="965.2" stroke="#222" stroke-width="0.9"/>
<line x1="196.9" y1="982.7" x2="553" y2="982.7" stroke="#333" stroke-width="1.3"/>
<line x1="196.9" y1="1030.3" x2="553" y2="1030.3" stroke="#333" stroke-width="1"/>
<text x="374.6" y="977.35" font-size="7" font-weight="bold" text-anchor="middle" fill="#111" textLength="160" lengthAdjust="spacingAndGlyphs">Immune Responses in Peripheral Blood Assays</text>
<text x="234.9" y="997.75" font-size="7" font-weight="bold" text-anchor="middle" fill="#111">Assay Type</text>
<text x="234.9" y="1018.15" font-size="7" font-weight="bold" text-anchor="middle" fill="#111">Frequency of</text>
<text x="234.9" y="1026.05" font-size="7" font-weight="bold" text-anchor="middle" fill="#111">Response <tspan font-style="italic">n</tspan>/N (%)</text>
<text x="296.8" y="993.95" font-size="7" font-weight="bold" text-anchor="middle" fill="#111">IFN&#947;</text>
<text x="296.8" y="1001.85" font-size="7" font-weight="bold" text-anchor="middle" fill="#111">ELISpot</text>
<text x="296.8" y="1018.15" font-size="7" text-anchor="middle" fill="#111">30/32</text>
<text x="296.8" y="1026.05" font-size="7" text-anchor="middle" fill="#111">(94%)</text>
<text x="345.5" y="993.95" font-size="7" font-weight="bold" text-anchor="middle" fill="#111">CTL Flow</text>
<text x="345.5" y="1001.85" font-size="7" font-weight="bold" text-anchor="middle" fill="#111">Cytometry</text>
<text x="345.5" y="1018.15" font-size="7" text-anchor="middle" fill="#111">26/32</text>
<text x="345.5" y="1026.05" font-size="7" text-anchor="middle" fill="#111">(83%)</text>
<text x="431.3" y="993.95" font-size="7" font-weight="bold" text-anchor="middle" fill="#111">Significantly Expanded T Cell</text>
<text x="431.3" y="1001.85" font-size="7" font-weight="bold" text-anchor="middle" fill="#111">Clones (TCR Sequencing)</text>
<text x="431.3" y="1018.15" font-size="7" text-anchor="middle" fill="#111">27/27</text>
<text x="431.3" y="1026.05" font-size="7" text-anchor="middle" fill="#111">(100%)</text>
<text x="521.8" y="993.95" font-size="7" font-weight="bold" text-anchor="middle" fill="#111">Response in</text>
<text x="521.8" y="1001.85" font-size="7" font-weight="bold" text-anchor="middle" fill="#111">Any Assay</text>
<text x="521.8" y="1018.15" font-size="7" text-anchor="middle" fill="#111">32/32</text>
<text x="521.8" y="1026.05" font-size="7" text-anchor="middle" fill="#111">(100%)</text>
</svg>
</body></html>
